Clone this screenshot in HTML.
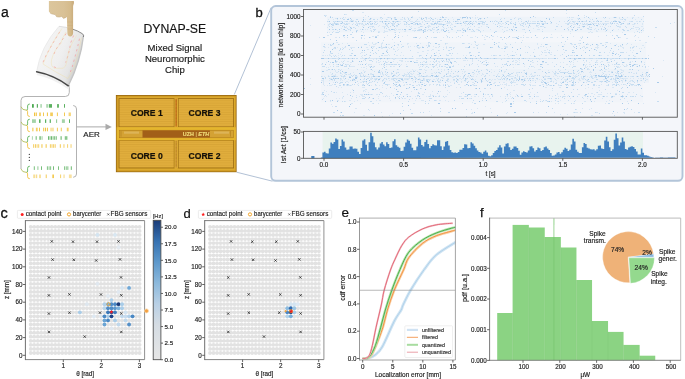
<!DOCTYPE html><html><head><meta charset="utf-8"><style>html,body{margin:0;padding:0;background:#fff;width:685px;height:379px;overflow:hidden}svg{display:block;will-change:transform}text{font-family:"Liberation Sans",sans-serif}</style></head><body><svg width="685" height="379" viewBox="0 0 685 379" font-family="Liberation Sans, sans-serif">
<defs><linearGradient id="cbar" x1="0" y1="1" x2="0" y2="0"><stop offset="0" stop-color="#e6e6e6"/><stop offset="0.25" stop-color="#d5dce3"/><stop offset="0.4" stop-color="#b9d0e5"/><stop offset="0.55" stop-color="#8cb9dc"/><stop offset="0.7" stop-color="#5d98cb"/><stop offset="0.85" stop-color="#3672b2"/><stop offset="1" stop-color="#1b3c78"/></linearGradient><linearGradient id="skin" gradientUnits="userSpaceOnUse" x1="46" y1="48" x2="80" y2="61"><stop offset="0" stop-color="#f3f3f3"/><stop offset="0.45" stop-color="#efefef"/><stop offset="0.8" stop-color="#e5e5e5"/><stop offset="1" stop-color="#cbcbcb"/></linearGradient><linearGradient id="fing" x1="0" y1="0" x2="1" y2="0"><stop offset="0" stop-color="#dcc69c"/><stop offset="0.6" stop-color="#d9c196"/><stop offset="0.85" stop-color="#d5bb8c"/><stop offset="1" stop-color="#c8aa7a"/></linearGradient><pattern id="coregrid" width="4" height="2.3" patternUnits="userSpaceOnUse"><rect width="4" height="2.3" fill="#e0ad3c"/><rect y="1.75" width="4" height="0.55" fill="#c8942a" opacity="0.45"/><rect x="3.6" width="0.4" height="2.3" fill="#d6a032" opacity="0.15"/></pattern></defs>
<rect width="685" height="379" fill="#fff"/>
<text x="0.9" y="17.1" font-size="14" fill="#111" stroke="#111" stroke-width="0.25">a</text>
<text x="255.5" y="17.1" font-size="13" fill="#111" stroke="#111" stroke-width="0.3">b</text>
<text x="0.5" y="217.6" font-size="14.5" fill="#111" stroke="#111" stroke-width="0.3">c</text>
<text x="183.5" y="217.6" font-size="13" fill="#111" stroke="#111" stroke-width="0.2">d</text>
<text x="341.4" y="217.4" font-size="13.5" fill="#111" stroke="#111" stroke-width="0.2">e</text>
<text x="480.1" y="217.4" font-size="13" fill="#111" stroke="#111" stroke-width="0.25">f</text>
<path d="M69.3 85 V92.5 Q69.3 96.5 65.3 96.5 H25 Q21 96.5 21 100.5 V169" fill="none" stroke="#aaaaaa" stroke-width="0.9"/>
<path d="M37 73.5 Q54 77 69 88" fill="none" stroke="#ececec" stroke-width="3" opacity="0.8"/>
<path d="M59 26.3 Q72 27.5 82.5 33.8 Q84 35 83.5 37 Q80.5 62 68.3 85.8 Q53.7 75.1 36.6 71.6 Q40.5 47 59 26.3 Z" fill="url(#skin)"/>
<path d="M36.6 71.6 Q40.5 47 59 26.3" fill="none" stroke="#e2e2e2" stroke-width="0.6"/>
<path d="M83.5 35.5 Q80.5 62 68.3 85.8" fill="none" stroke="#c4c4c4" stroke-width="1.4"/>
<path d="M36.6 71.8 Q53.7 75.1 68.3 85.8" fill="none" stroke="#474747" stroke-width="1.5" stroke-linecap="round"/>
<path d="M72 28.9 Q78 30.8 82.5 33.8 Q84 35 83.5 37" fill="none" stroke="#6e6e6e" stroke-width="0.8"/>
<path d="M59 26.3 Q66 26.9 72 28.9" fill="none" stroke="#c4c4c4" stroke-width="0.5"/>
<path d="M59.7 31.9 L53 43 L46.3 54.9 L42.4 63.6 M66.1 33.5 L63.3 38.3 L55.8 49.7 L53.5 55.2 M73.6 35.5 L70.8 42.6 L68.4 54.5 L65.6 62.5 M79.5 38.7 L77.5 47.4 L74.6 58.3 L72 67.8 L69.3 74.7 M53.8 66.8 L57.5 68.2" fill="none" stroke="#f3a0a0" stroke-width="0.75" stroke-dasharray="2.2 3.2"/>
<path d="M66 32 Q61.5 39 60.8 43.5 Q54 50 51.5 60 Q50.5 66.5 54.2 68.3 L63 68.3 Q66 67 66.5 63 L68.5 52 Q71 44 76.5 35.5 M62 28.5 Q50 45 43 64 Q55 72 68 78.5 L74 68 L79 50 L81.5 37.5" fill="none" stroke="#efdfa6" stroke-width="0.4"/>
<path d="M48.9 1 H73.8 L74 3 L73.1 6 L73.1 33 Q72.8 36.4 70.2 36.4 Q67.6 36.3 67.4 33 L67 20 L66.8 16.5 L65.9 17.4 L63.6 18.4 L61.7 16.5 L59.2 17.1 L56.7 16.8 L55.1 14.6 L52.2 14 L50.3 13.3 L48.9 11.4 Z" fill="url(#fing)"/>
<path d="M67.2 22 h5.6 M67.3 25.5 h5.7 M67.4 29 h5.6" stroke="#c9a673" stroke-width="0.5" opacity="0.6" fill="none"/>
<path d="M50.3 13.3 L52.2 14 L55.1 14.6 L56.7 16.8 L59.2 17.1 L61.7 16.5 L63.6 18.4 L65.9 17.4 L66.8 16.5" stroke="#b89868" stroke-width="0.6" fill="none" opacity="0.7"/>
<rect x="32" y="104.1" width="1.8" height="3.6" fill="#4aa84f" opacity="1"/>
<rect x="36.8" y="104.1" width="1.1" height="3.6" fill="#4aa84f" opacity="1"/>
<rect x="40.3" y="104.1" width="1.6" height="3.6" fill="#4aa84f" opacity="0.45"/>
<rect x="46.2" y="104.1" width="1.8" height="3.6" fill="#4aa84f" opacity="0.45"/>
<rect x="48.8" y="104.1" width="3.2" height="3.6" fill="#4aa84f" opacity="0.9"/>
<rect x="57.1" y="104.1" width="1.8" height="3.6" fill="#4aa84f" opacity="0.9"/>
<rect x="64" y="104.1" width="0.9" height="3.6" fill="#4aa84f" opacity="1"/>
<rect x="34" y="112.5" width="1.1" height="3.6" fill="#f2c440" opacity="1"/>
<rect x="35.7" y="112.5" width="1.1" height="3.6" fill="#f2c440" opacity="1"/>
<rect x="39.1" y="112.5" width="1.8" height="3.6" fill="#f2c440" opacity="0.8"/>
<rect x="43.1" y="112.5" width="0.9" height="3.6" fill="#f2c440" opacity="1"/>
<rect x="46.9" y="112.5" width="1" height="3.6" fill="#f2c440" opacity="1"/>
<rect x="50.2" y="112.5" width="2.7" height="3.6" fill="#f2c440" opacity="0.85"/>
<rect x="56.9" y="112.5" width="0.9" height="3.6" fill="#f2c440" opacity="1"/>
<rect x="64" y="112.5" width="0.9" height="3.6" fill="#f2c440" opacity="1"/>
<rect x="68.6" y="112.5" width="2.3" height="3.6" fill="#f2c440" opacity="0.7"/>
<rect x="32" y="119.3" width="3.9" height="3.6" fill="#4aa84f" opacity="0.5"/>
<rect x="39.1" y="119.3" width="1.4" height="3.6" fill="#4aa84f" opacity="1"/>
<rect x="45.1" y="119.3" width="1.1" height="3.6" fill="#4aa84f" opacity="1"/>
<rect x="49.7" y="119.3" width="1.1" height="3.6" fill="#4aa84f" opacity="1"/>
<rect x="56.2" y="119.3" width="0.9" height="3.6" fill="#4aa84f" opacity="0.7"/>
<rect x="61.9" y="119.3" width="3" height="3.6" fill="#4aa84f" opacity="0.5"/>
<rect x="69.1" y="119.3" width="0.9" height="3.6" fill="#4aa84f" opacity="1"/>
<rect x="32.2" y="127.7" width="1.3" height="3.6" fill="#f2c440" opacity="0.8"/>
<rect x="35.9" y="127.7" width="1.8" height="3.6" fill="#f2c440" opacity="0.8"/>
<rect x="39.1" y="127.7" width="0.9" height="3.6" fill="#f2c440" opacity="1"/>
<rect x="43.2" y="127.7" width="1" height="3.6" fill="#f2c440" opacity="1"/>
<rect x="45" y="127.7" width="1" height="3.6" fill="#f2c440" opacity="1"/>
<rect x="46.9" y="127.7" width="1" height="3.6" fill="#f2c440" opacity="1"/>
<rect x="50.2" y="127.7" width="3.7" height="3.6" fill="#f2c440" opacity="0.45"/>
<rect x="56.9" y="127.7" width="0.9" height="3.6" fill="#f2c440" opacity="1"/>
<rect x="60.8" y="127.7" width="0.9" height="3.6" fill="#f2c440" opacity="1"/>
<rect x="66.8" y="127.7" width="1.8" height="3.6" fill="#f2c440" opacity="0.8"/>
<rect x="31.9" y="136.2" width="0.9" height="3.6" fill="#4aa84f" opacity="0.5"/>
<rect x="35.7" y="136.2" width="0.9" height="3.6" fill="#4aa84f" opacity="0.9"/>
<rect x="39.5" y="136.2" width="1.1" height="3.6" fill="#4aa84f" opacity="1"/>
<rect x="41.6" y="136.2" width="0.9" height="3.6" fill="#4aa84f" opacity="0.6"/>
<rect x="48" y="136.2" width="1" height="3.6" fill="#4aa84f" opacity="0.8"/>
<rect x="49.5" y="136.2" width="1" height="3.6" fill="#4aa84f" opacity="0.7"/>
<rect x="51" y="136.2" width="1" height="3.6" fill="#4aa84f" opacity="0.8"/>
<rect x="52.6" y="136.2" width="1" height="3.6" fill="#4aa84f" opacity="0.7"/>
<rect x="54.2" y="136.2" width="1" height="3.6" fill="#4aa84f" opacity="0.8"/>
<rect x="55.8" y="136.2" width="1" height="3.6" fill="#4aa84f" opacity="0.7"/>
<rect x="60.6" y="136.2" width="1" height="3.6" fill="#4aa84f" opacity="0.9"/>
<rect x="64.8" y="136.2" width="1" height="3.6" fill="#4aa84f" opacity="0.8"/>
<rect x="66.3" y="136.2" width="1" height="3.6" fill="#4aa84f" opacity="0.9"/>
<rect x="33.1" y="144.2" width="1.1" height="3.6" fill="#f2c440" opacity="0.8"/>
<rect x="35" y="144.2" width="1" height="3.6" fill="#f2c440" opacity="0.8"/>
<rect x="36.6" y="144.2" width="1" height="3.6" fill="#f2c440" opacity="0.7"/>
<rect x="38.2" y="144.2" width="1" height="3.6" fill="#f2c440" opacity="0.8"/>
<rect x="41.4" y="144.2" width="1.1" height="3.6" fill="#f2c440" opacity="0.9"/>
<rect x="45.6" y="144.2" width="1.1" height="3.6" fill="#f2c440" opacity="0.9"/>
<rect x="49.9" y="144.2" width="1" height="3.6" fill="#f2c440" opacity="0.8"/>
<rect x="51.5" y="144.2" width="1" height="3.6" fill="#f2c440" opacity="0.8"/>
<rect x="53.1" y="144.2" width="1" height="3.6" fill="#f2c440" opacity="0.8"/>
<rect x="54.7" y="144.2" width="1" height="3.6" fill="#f2c440" opacity="0.8"/>
<rect x="59.8" y="144.2" width="1.1" height="3.6" fill="#f2c440" opacity="0.8"/>
<rect x="63.4" y="144.2" width="1.1" height="3.6" fill="#f2c440" opacity="0.7"/>
<rect x="67" y="144.2" width="1.1" height="3.6" fill="#f2c440" opacity="0.7"/>
<rect x="70.5" y="144.2" width="1.1" height="3.6" fill="#f2c440" opacity="0.7"/>
<rect x="33.8" y="166.3" width="1" height="3.6" fill="#4aa84f" opacity="0.75"/>
<rect x="37.4" y="166.3" width="1" height="3.6" fill="#4aa84f" opacity="0.6"/>
<rect x="41" y="166.3" width="1" height="3.6" fill="#4aa84f" opacity="0.75"/>
<rect x="46.9" y="166.3" width="1" height="3.6" fill="#4aa84f" opacity="0.7"/>
<rect x="48.6" y="166.3" width="1" height="3.6" fill="#4aa84f" opacity="0.6"/>
<rect x="50.2" y="166.3" width="0.9" height="3.6" fill="#4aa84f" opacity="0.75"/>
<rect x="53" y="166.3" width="1" height="3.6" fill="#4aa84f" opacity="0.75"/>
<rect x="58.1" y="166.3" width="0.9" height="3.6" fill="#4aa84f" opacity="0.8"/>
<rect x="64.1" y="166.3" width="1" height="3.6" fill="#4aa84f" opacity="0.7"/>
<rect x="65.8" y="166.3" width="1" height="3.6" fill="#4aa84f" opacity="0.6"/>
<rect x="67.4" y="166.3" width="0.9" height="3.6" fill="#4aa84f" opacity="0.75"/>
<rect x="70.8" y="166.3" width="1" height="3.6" fill="#4aa84f" opacity="0.8"/>
<rect x="33.3" y="174.5" width="1.6" height="3.6" fill="#f2c440" opacity="0.6"/>
<rect x="35.7" y="174.5" width="1.5" height="3.6" fill="#f2c440" opacity="0.6"/>
<rect x="39.2" y="174.5" width="1.6" height="3.6" fill="#f2c440" opacity="0.6"/>
<rect x="45.7" y="174.5" width="1.1" height="3.6" fill="#f2c440" opacity="0.8"/>
<rect x="52.3" y="174.5" width="1.7" height="3.6" fill="#f2c440" opacity="0.9"/>
<rect x="60" y="174.5" width="1.1" height="3.6" fill="#f2c440" opacity="0.7"/>
<rect x="63.5" y="174.5" width="1.1" height="3.6" fill="#f2c440" opacity="0.6"/>
<rect x="68.9" y="174.5" width="2.8" height="3.6" fill="#f2c440" opacity="0.5"/>
<path d="M29.8 104 Q27.6 104 27.6 106 V108.7 Q27.6 110.2 26.4 110.2" fill="none" stroke="#5cb25c" stroke-width="0.9"/>
<path d="M26.4 110.2 Q27.6 110.2 27.6 111.7 V114.5 Q27.6 116.5 29.8 116.5" fill="none" stroke="#f0c040" stroke-width="0.9"/>
<path d="M21 106.7 Q22 110.2 26.4 110.2" fill="none" stroke="#a9b84a" stroke-width="0.8"/>
<path d="M29.8 119.2 Q27.6 119.2 27.6 121.2 V123.9 Q27.6 125.4 26.4 125.4" fill="none" stroke="#5cb25c" stroke-width="0.9"/>
<path d="M26.4 125.4 Q27.6 125.4 27.6 126.9 V129.7 Q27.6 131.7 29.8 131.7" fill="none" stroke="#f0c040" stroke-width="0.9"/>
<path d="M21 121.9 Q22 125.4 26.4 125.4" fill="none" stroke="#a9b84a" stroke-width="0.8"/>
<path d="M29.8 136.1 Q27.6 136.1 27.6 138.1 V140.8 Q27.6 142.3 26.4 142.3" fill="none" stroke="#5cb25c" stroke-width="0.9"/>
<path d="M26.4 142.3 Q27.6 142.3 27.6 143.8 V146.6 Q27.6 148.6 29.8 148.6" fill="none" stroke="#f0c040" stroke-width="0.9"/>
<path d="M21 138.8 Q22 142.3 26.4 142.3" fill="none" stroke="#a9b84a" stroke-width="0.8"/>
<path d="M29.8 166.2 Q27.6 166.2 27.6 168.2 V170.9 Q27.6 172.4 26.4 172.4" fill="none" stroke="#5cb25c" stroke-width="0.9"/>
<path d="M26.4 172.4 Q27.6 172.4 27.6 173.9 V176.7 Q27.6 178.7 29.8 178.7" fill="none" stroke="#f0c040" stroke-width="0.9"/>
<path d="M21 168.9 Q22 172.4 26.4 172.4" fill="none" stroke="#a9b84a" stroke-width="0.8"/>
<circle cx="29.3" cy="154.4" r="0.55" fill="#222"/>
<circle cx="29.3" cy="157.4" r="0.55" fill="#222"/>
<circle cx="29.3" cy="160.4" r="0.55" fill="#222"/>
<path d="M73.2 105.5 Q76.5 105.7 76.5 109 V174 Q76.5 177 73.2 177.3" fill="none" stroke="#a9a9a9" stroke-width="0.9"/>
<path d="M76.5 126.9 H106.5" stroke="#aaaaaa" stroke-width="1"/>
<path d="M105.5 123.8 L111.8 126.9 L105.5 130 Z" fill="#aaaaaa"/>
<text x="83.3" y="136.8" font-size="8" fill="#222" stroke="#222" stroke-width="0.16">AER</text>
<text x="174.8" y="33.1" font-size="12.25" text-anchor="middle" fill="#141414" stroke="#141414" stroke-width="0.16">DYNAP-SE</text>
<text x="174.9" y="50.6" font-size="9.55" text-anchor="middle" fill="#1a1a1a" stroke="#1a1a1a" stroke-width="0.16">Mixed Signal</text>
<text x="174.9" y="61.7" font-size="9.55" text-anchor="middle" fill="#1a1a1a" stroke="#1a1a1a" stroke-width="0.16">Neuromorphic</text>
<text x="174.9" y="72.7" font-size="9.55" text-anchor="middle" fill="#1a1a1a" stroke="#1a1a1a" stroke-width="0.16">Chip</text>
<path d="M234.3 94.5 L271.2 7.5 M236.6 172.2 L272.5 181.2" stroke="#a9bad0" stroke-width="0.9" fill="none"/>
<rect x="115.9" y="95" width="120.7" height="77.2" fill="#96660f"/>
<rect x="116.7" y="95.8" width="119.1" height="75.6" fill="#dcaa2e"/>
<rect x="117.3" y="96.4" width="117.9" height="74.4" fill="none" stroke="#c89020" stroke-width="0.5"/>
<rect x="119" y="98.6" width="55.2" height="28.3" fill="url(#coregrid)" stroke="#9c6c12" stroke-width="0.8"/>
<text x="146.7" y="116.05" font-size="8.6" font-weight="bold" text-anchor="middle" fill="#141008" stroke="#141008" stroke-width="0.2">CORE 1</text>
<rect x="178.2" y="98.6" width="55.4" height="28.3" fill="url(#coregrid)" stroke="#9c6c12" stroke-width="0.8"/>
<text x="204.5" y="116.05" font-size="8.6" font-weight="bold" text-anchor="middle" fill="#141008" stroke="#141008" stroke-width="0.2">CORE 3</text>
<rect x="119" y="140.2" width="55.2" height="27.8" fill="url(#coregrid)" stroke="#9c6c12" stroke-width="0.8"/>
<text x="146.7" y="158.6" font-size="8.6" font-weight="bold" text-anchor="middle" fill="#141008" stroke="#141008" stroke-width="0.2">CORE 0</text>
<rect x="178.2" y="140.2" width="55.4" height="27.8" fill="url(#coregrid)" stroke="#9c6c12" stroke-width="0.8"/>
<text x="204.5" y="158.6" font-size="8.6" font-weight="bold" text-anchor="middle" fill="#141008" stroke="#141008" stroke-width="0.2">CORE 2</text>
<rect x="174.6" y="98.6" width="3.2" height="28.3" fill="#deac38"/>
<rect x="175.4" y="98.8" width="1.6" height="27.9" fill="#cc7e22"/>
<path d="M176.2 100 V125.5" stroke="#a05e14" stroke-width="0.7" stroke-dasharray="0.7 0.7"/>
<rect x="174.6" y="140.2" width="3.2" height="27.8" fill="#deac38"/>
<rect x="175.5" y="140.4" width="1.4" height="27.4" fill="#cf9a34"/>
<path d="M176.2 141.5 V167" stroke="#a06418" stroke-width="0.6" stroke-dasharray="0.7 0.7"/>
<rect x="116.7" y="127.2" width="119.1" height="13" fill="#e4b52e"/>
<rect x="119.5" y="130.2" width="114" height="7.6" fill="#d4a234" stroke="#a87414" stroke-width="0.5"/>
<rect x="142.5" y="130.4" width="67.4" height="7.2" fill="#a25f18"/>
<text x="196" y="135.9" font-size="5.4" font-weight="bold" text-anchor="middle" fill="#f0dc78" stroke="#f0dc78" stroke-width="0.16">UZH <tspan font-weight="normal" fill="#d8b060">|</tspan> <tspan font-style="italic">ETH</tspan></text>
<rect x="124" y="131.5" width="15" height="2.2" fill="#e2c070" opacity="0.6"/><rect x="214" y="131.5" width="15" height="2.2" fill="#e2c070" opacity="0.6"/>
<path d="M121 131 v5.6 M230.5 131 v5.6" stroke="#a87414" stroke-width="0.5"/>
<rect x="271.2" y="6" width="411.3" height="174.8" rx="4.5" fill="#f4f6fa" stroke="#b3c5d9" stroke-width="1.9"/>
<rect x="303.5" y="9.5" width="373.8" height="107.7" fill="#f4f6fa"/>
<rect x="327" y="16.8" width="317" height="15.8" fill="#eef3f9"/>
<rect x="321" y="42.2" width="325" height="26.6" fill="#f0f4f9"/>
<rect x="321" y="68.8" width="328" height="13.9" fill="#edf2f8"/>
<rect x="321" y="82.7" width="322" height="19.6" fill="#f1f4f9"/>
<path d="M578 15h1v1h-1zM533 16h1v1h-1zM330 17h1v1h-1zM411 17h1v1h-1zM442 17h2v1h-2zM462 17h2v1h-2zM464 17h2v1h-2zM467 17h1v1h-1zM530 17h1v1h-1zM588 17h1v1h-1zM605 17h1v1h-1zM614 17h2v1h-2zM622 17h1v1h-1zM337 18h1v1h-1zM350 18h1v1h-1zM370 18h1v1h-1zM391 18h1v1h-1zM421 18h1v1h-1zM423 18h1v1h-1zM431 18h1v1h-1zM470 18h1v1h-1zM480 18h1v1h-1zM484 18h1v1h-1zM546 18h1v1h-1zM579 18h1v1h-1zM596 18h1v1h-1zM347 19h2v1h-2zM363 19h1v1h-1zM395 19h2v1h-2zM401 19h1v1h-1zM440 19h1v1h-1zM457 19h2v1h-2zM459 19h1v1h-1zM478 19h1v1h-1zM549 19h1v1h-1zM568 20h1v1h-1zM329 21h1v1h-1zM337 21h1v1h-1zM351 21h2v1h-2zM352 21h2v1h-2zM358 21h1v1h-1zM362 21h1v1h-1zM370 21h1v1h-1zM382 21h1v1h-1zM385 21h1v1h-1zM393 21h1v1h-1zM397 21h1v1h-1zM439 21h1v1h-1zM447 21h1v1h-1zM455 21h1v1h-1zM466 21h2v1h-2zM470 21h1v1h-1zM490 21h1v1h-1zM501 21h1v1h-1zM526 21h1v1h-1zM541 21h2v1h-2zM579 21h1v1h-1zM582 21h1v1h-1zM589 21h1v1h-1zM598 21h1v1h-1zM613 21h1v1h-1zM615 21h2v1h-2zM619 21h1v1h-1zM342 22h1v1h-1zM406 22h1v1h-1zM463 22h1v1h-1zM551 22h1v1h-1zM574 22h1v1h-1zM619 22h2v1h-2zM341 23h1v1h-1zM367 23h2v1h-2zM372 23h1v1h-1zM385 23h1v1h-1zM388 23h1v1h-1zM411 23h2v1h-2zM417 23h1v1h-1zM427 23h1v1h-1zM434 23h1v1h-1zM435 23h1v1h-1zM457 23h1v1h-1zM460 23h1v1h-1zM468 23h1v1h-1zM470 23h1v1h-1zM478 23h2v1h-2zM506 23h1v1h-1zM537 23h1v1h-1zM547 23h1v1h-1zM576 23h2v1h-2zM603 23h1v1h-1zM605 23h1v1h-1zM612 23h1v1h-1zM623 23h1v1h-1zM629 23h1v1h-1zM331 24h1v1h-1zM336 24h1v1h-1zM366 24h1v1h-1zM398 24h1v1h-1zM417 24h2v1h-2zM443 24h1v1h-1zM472 24h1v1h-1zM508 24h1v1h-1zM515 24h1v1h-1zM542 24h2v1h-2zM577 24h1v1h-1zM588 24h1v1h-1zM589 24h1v1h-1zM590 24h2v1h-2zM593 24h1v1h-1zM603 24h1v1h-1zM447 25h1v1h-1zM529 25h1v1h-1zM596 25h2v1h-2zM394 26h1v1h-1zM428 26h1v1h-1zM430 26h1v1h-1zM497 26h1v1h-1zM570 26h1v1h-1zM583 26h2v1h-2zM350 27h1v1h-1zM363 27h1v1h-1zM368 27h1v1h-1zM425 27h1v1h-1zM436 27h2v1h-2zM488 27h1v1h-1zM515 27h2v1h-2zM573 27h1v1h-1zM351 28h1v1h-1zM605 28h1v1h-1zM329 29h1v1h-1zM335 29h1v1h-1zM339 29h1v1h-1zM344 29h1v1h-1zM362 29h1v1h-1zM391 29h2v1h-2zM404 29h1v1h-1zM405 29h1v1h-1zM409 29h2v1h-2zM420 29h2v1h-2zM429 29h1v1h-1zM438 29h1v1h-1zM469 29h2v1h-2zM511 29h1v1h-1zM564 29h1v1h-1zM572 29h1v1h-1zM577 29h1v1h-1zM423 30h1v1h-1zM443 30h1v1h-1zM446 30h1v1h-1zM463 30h1v1h-1zM465 30h1v1h-1zM512 30h1v1h-1zM516 30h1v1h-1zM529 30h1v1h-1zM575 30h1v1h-1zM606 30h1v1h-1zM612 30h1v1h-1zM641 30h1v1h-1zM356 31h1v1h-1zM444 31h2v1h-2zM465 31h1v1h-1zM423 32h1v1h-1zM494 32h1v1h-1zM624 34h2v1h-2zM343 35h2v1h-2zM347 35h1v1h-1zM361 35h2v1h-2zM491 35h1v1h-1zM535 35h1v1h-1zM395 36h1v1h-1zM427 36h1v1h-1zM509 36h1v1h-1zM323 37h2v1h-2zM336 37h1v1h-1zM369 37h1v1h-1zM375 37h2v1h-2zM394 37h1v1h-1zM398 37h1v1h-1zM415 37h2v1h-2zM504 37h1v1h-1zM516 37h2v1h-2zM567 37h1v1h-1zM587 37h1v1h-1zM618 37h2v1h-2zM517 38h2v1h-2zM614 38h1v1h-1zM336 40h1v1h-1zM400 41h1v1h-1zM378 42h1v1h-1zM494 42h1v1h-1zM583 42h1v1h-1zM333 43h1v1h-1zM435 43h2v1h-2zM386 44h1v1h-1zM494 44h1v1h-1zM545 44h2v1h-2zM586 44h1v1h-1zM592 44h1v1h-1zM596 44h1v1h-1zM622 44h1v1h-1zM348 45h2v1h-2zM394 45h1v1h-1zM417 45h2v1h-2zM615 45h1v1h-1zM469 46h1v1h-1zM498 46h1v1h-1zM562 46h1v1h-1zM576 46h1v1h-1zM606 46h1v1h-1zM358 47h1v1h-1zM361 47h1v1h-1zM371 47h1v1h-1zM379 47h1v1h-1zM386 47h1v1h-1zM391 47h1v1h-1zM422 47h2v1h-2zM468 47h2v1h-2zM490 47h2v1h-2zM512 47h1v1h-1zM504 48h1v1h-1zM505 48h1v1h-1zM520 48h1v1h-1zM576 48h1v1h-1zM580 48h1v1h-1zM611 48h1v1h-1zM332 49h1v1h-1zM517 49h1v1h-1zM594 49h1v1h-1zM362 50h1v1h-1zM364 50h1v1h-1zM372 50h1v1h-1zM589 50h1v1h-1zM330 51h1v1h-1zM386 51h1v1h-1zM640 51h1v1h-1zM387 52h1v1h-1zM572 52h1v1h-1zM585 52h1v1h-1zM383 53h1v1h-1zM434 53h1v1h-1zM612 53h1v1h-1zM613 53h1v1h-1zM636 53h2v1h-2zM615 54h1v1h-1zM354 55h2v1h-2zM370 55h1v1h-1zM426 55h1v1h-1zM434 55h2v1h-2zM440 55h1v1h-1zM470 55h2v1h-2zM478 55h1v1h-1zM512 55h2v1h-2zM520 55h1v1h-1zM568 55h1v1h-1zM576 55h2v1h-2zM581 55h1v1h-1zM599 55h1v1h-1zM620 55h1v1h-1zM534 56h1v1h-1zM566 56h1v1h-1zM430 57h1v1h-1zM465 57h1v1h-1zM480 57h1v1h-1zM321 58h1v1h-1zM322 58h1v1h-1zM323 58h1v1h-1zM328 58h2v1h-2zM333 58h2v1h-2zM338 58h1v1h-1zM339 58h1v1h-1zM348 58h2v1h-2zM351 58h1v1h-1zM352 58h1v1h-1zM365 58h1v1h-1zM366 58h1v1h-1zM370 58h1v1h-1zM380 58h1v1h-1zM381 58h1v1h-1zM384 58h1v1h-1zM387 58h1v1h-1zM402 58h1v1h-1zM405 58h1v1h-1zM425 58h2v1h-2zM437 58h2v1h-2zM442 58h1v1h-1zM466 58h1v1h-1zM468 58h1v1h-1zM470 58h1v1h-1zM472 58h1v1h-1zM476 58h1v1h-1zM481 58h1v1h-1zM486 58h1v1h-1zM487 58h1v1h-1zM494 58h1v1h-1zM496 58h1v1h-1zM512 58h1v1h-1zM519 58h1v1h-1zM523 58h1v1h-1zM554 58h2v1h-2zM555 58h1v1h-1zM564 58h1v1h-1zM570 58h2v1h-2zM574 58h1v1h-1zM578 58h1v1h-1zM579 58h1v1h-1zM580 58h1v1h-1zM584 58h1v1h-1zM601 58h1v1h-1zM604 58h1v1h-1zM607 58h2v1h-2zM617 58h2v1h-2zM619 58h1v1h-1zM628 58h1v1h-1zM631 58h1v1h-1zM633 58h1v1h-1zM634 58h1v1h-1zM642 58h2v1h-2zM645 58h2v1h-2zM648 58h1v1h-1zM434 59h1v1h-1zM446 59h1v1h-1zM335 60h1v1h-1zM528 60h1v1h-1zM607 60h1v1h-1zM328 61h1v1h-1zM335 61h1v1h-1zM352 61h1v1h-1zM359 61h1v1h-1zM361 61h1v1h-1zM410 61h2v1h-2zM442 61h1v1h-1zM542 61h2v1h-2zM569 61h1v1h-1zM611 61h1v1h-1zM635 61h1v1h-1zM641 61h1v1h-1zM332 62h2v1h-2zM390 62h2v1h-2zM414 62h1v1h-1zM450 62h2v1h-2zM482 62h1v1h-1zM486 62h1v1h-1zM622 62h2v1h-2zM384 63h1v1h-1zM451 63h1v1h-1zM523 63h1v1h-1zM616 63h1v1h-1zM325 64h1v1h-1zM338 64h1v1h-1zM348 64h1v1h-1zM362 64h1v1h-1zM365 64h1v1h-1zM422 64h1v1h-1zM432 64h1v1h-1zM445 64h1v1h-1zM447 64h1v1h-1zM486 64h2v1h-2zM510 64h1v1h-1zM540 64h2v1h-2zM583 64h1v1h-1zM595 64h1v1h-1zM601 64h1v1h-1zM603 64h1v1h-1zM629 64h2v1h-2zM634 64h2v1h-2zM341 65h2v1h-2zM486 65h1v1h-1zM507 65h1v1h-1zM632 65h2v1h-2zM639 65h1v1h-1zM371 66h1v1h-1zM399 66h1v1h-1zM591 66h1v1h-1zM606 66h1v1h-1zM630 66h1v1h-1zM637 66h1v1h-1zM370 67h1v1h-1zM384 67h1v1h-1zM449 67h2v1h-2zM542 67h1v1h-1zM563 67h1v1h-1zM595 67h1v1h-1zM580 68h1v1h-1zM584 68h1v1h-1zM604 68h1v1h-1zM615 68h1v1h-1zM653 68h1v1h-1zM332 69h1v1h-1zM371 69h1v1h-1zM448 69h1v1h-1zM593 69h1v1h-1zM601 69h1v1h-1zM632 69h1v1h-1zM379 70h1v1h-1zM501 70h1v1h-1zM573 70h1v1h-1zM593 70h1v1h-1zM322 71h1v1h-1zM323 71h1v1h-1zM342 71h1v1h-1zM393 71h1v1h-1zM458 71h1v1h-1zM479 71h1v1h-1zM489 71h1v1h-1zM581 71h2v1h-2zM618 71h1v1h-1zM345 72h1v1h-1zM346 72h1v1h-1zM378 72h2v1h-2zM387 72h1v1h-1zM545 72h1v1h-1zM612 72h1v1h-1zM646 72h2v1h-2zM359 73h2v1h-2zM419 73h1v1h-1zM420 73h1v1h-1zM468 73h2v1h-2zM508 73h1v1h-1zM525 73h2v1h-2zM564 73h1v1h-1zM368 74h1v1h-1zM446 74h1v1h-1zM526 74h1v1h-1zM642 74h1v1h-1zM649 74h1v1h-1zM393 75h2v1h-2zM431 75h2v1h-2zM436 75h1v1h-1zM464 75h1v1h-1zM470 75h1v1h-1zM503 75h1v1h-1zM595 75h1v1h-1zM596 75h1v1h-1zM598 75h1v1h-1zM615 75h2v1h-2zM621 75h1v1h-1zM332 76h1v1h-1zM334 76h1v1h-1zM364 76h1v1h-1zM373 76h1v1h-1zM374 76h1v1h-1zM378 76h2v1h-2zM381 76h1v1h-1zM392 76h1v1h-1zM423 76h1v1h-1zM426 76h1v1h-1zM435 76h2v1h-2zM437 76h1v1h-1zM496 76h1v1h-1zM569 76h2v1h-2zM583 76h2v1h-2zM599 76h2v1h-2zM600 76h1v1h-1zM601 76h2v1h-2zM603 76h2v1h-2zM604 76h2v1h-2zM608 76h2v1h-2zM619 76h1v1h-1zM620 76h1v1h-1zM621 76h1v1h-1zM625 76h2v1h-2zM637 76h1v1h-1zM649 76h1v1h-1zM349 77h2v1h-2zM355 77h2v1h-2zM543 77h1v1h-1zM605 77h1v1h-1zM322 78h2v1h-2zM333 78h1v1h-1zM335 78h1v1h-1zM337 78h2v1h-2zM345 78h1v1h-1zM355 78h2v1h-2zM411 78h2v1h-2zM465 78h1v1h-1zM482 78h1v1h-1zM485 78h1v1h-1zM507 78h1v1h-1zM519 78h1v1h-1zM533 78h1v1h-1zM550 78h1v1h-1zM583 78h1v1h-1zM605 78h1v1h-1zM606 78h1v1h-1zM617 78h2v1h-2zM643 78h1v1h-1zM331 79h1v1h-1zM354 79h1v1h-1zM360 79h1v1h-1zM366 79h1v1h-1zM378 79h2v1h-2zM401 79h2v1h-2zM418 79h1v1h-1zM457 79h2v1h-2zM471 79h1v1h-1zM509 79h2v1h-2zM519 79h1v1h-1zM521 79h2v1h-2zM567 79h1v1h-1zM588 79h1v1h-1zM352 80h1v1h-1zM369 80h1v1h-1zM398 80h2v1h-2zM422 80h1v1h-1zM442 80h1v1h-1zM481 80h1v1h-1zM518 80h1v1h-1zM524 80h1v1h-1zM530 80h1v1h-1zM607 80h1v1h-1zM625 80h1v1h-1zM637 80h1v1h-1zM366 81h1v1h-1zM415 81h1v1h-1zM427 81h1v1h-1zM432 81h2v1h-2zM448 81h1v1h-1zM456 81h1v1h-1zM475 81h1v1h-1zM481 81h1v1h-1zM605 81h1v1h-1zM619 81h1v1h-1zM321 82h1v1h-1zM335 82h1v1h-1zM355 82h1v1h-1zM384 82h1v1h-1zM406 82h1v1h-1zM420 82h1v1h-1zM445 82h1v1h-1zM467 82h1v1h-1zM477 82h1v1h-1zM489 82h2v1h-2zM544 82h2v1h-2zM562 82h2v1h-2zM572 82h2v1h-2zM575 82h1v1h-1zM583 82h1v1h-1zM617 82h1v1h-1zM657 82h2v1h-2zM329 83h1v1h-1zM393 83h1v1h-1zM545 83h2v1h-2zM627 83h1v1h-1zM343 84h2v1h-2zM347 84h1v1h-1zM396 84h1v1h-1zM399 84h1v1h-1zM422 84h1v1h-1zM466 84h1v1h-1zM490 84h2v1h-2zM548 84h1v1h-1zM566 84h2v1h-2zM588 84h1v1h-1zM638 84h2v1h-2zM364 85h1v1h-1zM369 85h1v1h-1zM399 85h1v1h-1zM404 85h1v1h-1zM424 85h2v1h-2zM445 85h1v1h-1zM468 85h1v1h-1zM470 85h1v1h-1zM487 85h1v1h-1zM495 85h1v1h-1zM540 85h1v1h-1zM553 85h1v1h-1zM572 85h1v1h-1zM581 85h1v1h-1zM616 85h1v1h-1zM629 85h1v1h-1zM400 86h1v1h-1zM543 86h1v1h-1zM390 87h1v1h-1zM409 87h1v1h-1zM413 87h2v1h-2zM566 87h2v1h-2zM627 87h1v1h-1zM304 88h1v1h-1zM406 88h1v1h-1zM476 88h1v1h-1zM479 88h1v1h-1zM501 88h1v1h-1zM641 88h1v1h-1zM372 89h2v1h-2zM396 89h1v1h-1zM416 89h1v1h-1zM425 89h1v1h-1zM353 90h1v1h-1zM438 91h1v1h-1zM619 91h1v1h-1zM401 92h1v1h-1zM616 93h1v1h-1zM323 94h1v1h-1zM362 94h1v1h-1zM364 94h1v1h-1zM366 94h1v1h-1zM368 94h2v1h-2zM396 94h2v1h-2zM468 94h2v1h-2zM476 94h1v1h-1zM483 94h1v1h-1zM491 94h1v1h-1zM507 94h1v1h-1zM585 94h2v1h-2zM350 95h1v1h-1zM467 95h1v1h-1zM517 95h1v1h-1zM403 96h1v1h-1zM407 96h1v1h-1zM419 96h1v1h-1zM433 96h1v1h-1zM521 96h2v1h-2zM534 96h1v1h-1zM569 96h1v1h-1zM573 96h1v1h-1zM587 96h2v1h-2zM603 96h2v1h-2zM612 96h2v1h-2zM621 96h1v1h-1zM622 96h1v1h-1zM626 96h1v1h-1zM369 97h1v1h-1zM395 97h1v1h-1zM373 98h1v1h-1zM399 98h1v1h-1zM467 98h1v1h-1zM513 98h1v1h-1zM595 98h1v1h-1zM590 99h1v1h-1zM332 100h1v1h-1zM486 100h1v1h-1zM631 100h1v1h-1zM325 101h1v1h-1zM337 101h1v1h-1zM479 101h1v1h-1zM548 101h1v1h-1zM549 101h1v1h-1zM591 101h1v1h-1zM438 103h2v1h-2zM510 103h2v1h-2zM536 103h1v1h-1zM622 103h1v1h-1zM638 103h1v1h-1zM350 104h1v1h-1zM510 104h2v1h-2zM408 105h1v1h-1zM349 106h1v1h-1zM510 106h2v1h-2zM548 106h1v1h-1zM452 108h1v1h-1zM455 108h1v1h-1zM624 109h1v1h-1zM337 110h1v1h-1zM613 111h1v1h-1zM341 112h1v1h-1zM474 112h1v1h-1zM514 112h2v1h-2zM400 113h1v1h-1zM374 115h1v1h-1zM497 115h1v1h-1z" fill="#a9cbea"/>
<path d="M352 10h2v1h-2zM505 10h1v1h-1zM566 10h1v1h-1zM418 11h1v1h-1zM595 12h1v1h-1zM344 14h2v1h-2zM499 14h1v1h-1zM324 15h2v1h-2zM634 15h1v1h-1zM325 16h1v1h-1zM330 16h1v1h-1zM368 16h1v1h-1zM442 16h1v1h-1zM586 16h1v1h-1zM643 16h1v1h-1zM332 17h1v1h-1zM343 17h1v1h-1zM363 17h1v1h-1zM380 17h2v1h-2zM388 17h1v1h-1zM394 17h2v1h-2zM402 17h1v1h-1zM412 17h1v1h-1zM425 17h2v1h-2zM430 17h1v1h-1zM440 17h1v1h-1zM469 17h1v1h-1zM470 17h1v1h-1zM487 17h1v1h-1zM553 17h1v1h-1zM569 17h1v1h-1zM584 17h1v1h-1zM603 17h1v1h-1zM340 18h1v1h-1zM342 18h1v1h-1zM382 18h1v1h-1zM404 18h1v1h-1zM408 18h1v1h-1zM426 18h1v1h-1zM435 18h1v1h-1zM462 18h1v1h-1zM467 18h1v1h-1zM479 18h1v1h-1zM504 18h1v1h-1zM514 18h1v1h-1zM520 18h1v1h-1zM549 18h1v1h-1zM632 18h1v1h-1zM343 19h2v1h-2zM351 19h1v1h-1zM356 19h1v1h-1zM357 19h1v1h-1zM369 19h2v1h-2zM373 19h2v1h-2zM374 19h1v1h-1zM377 19h1v1h-1zM386 19h1v1h-1zM391 19h1v1h-1zM408 19h1v1h-1zM417 19h1v1h-1zM421 19h2v1h-2zM432 19h2v1h-2zM439 19h1v1h-1zM444 19h2v1h-2zM448 19h1v1h-1zM500 19h1v1h-1zM510 19h2v1h-2zM518 19h1v1h-1zM578 19h1v1h-1zM592 19h1v1h-1zM622 19h1v1h-1zM624 19h1v1h-1zM625 19h1v1h-1zM641 19h1v1h-1zM363 20h1v1h-1zM409 20h1v1h-1zM424 20h1v1h-1zM586 20h1v1h-1zM597 20h1v1h-1zM327 21h1v1h-1zM333 21h1v1h-1zM335 21h1v1h-1zM338 21h1v1h-1zM339 21h1v1h-1zM341 21h1v1h-1zM346 21h1v1h-1zM347 21h1v1h-1zM350 21h1v1h-1zM355 21h1v1h-1zM364 21h1v1h-1zM365 21h1v1h-1zM372 21h1v1h-1zM374 21h1v1h-1zM380 21h1v1h-1zM384 21h1v1h-1zM386 21h1v1h-1zM389 21h1v1h-1zM392 21h1v1h-1zM396 21h1v1h-1zM398 21h1v1h-1zM404 21h1v1h-1zM405 21h1v1h-1zM415 21h1v1h-1zM425 21h1v1h-1zM432 21h2v1h-2zM437 21h1v1h-1zM438 21h1v1h-1zM445 21h1v1h-1zM449 21h1v1h-1zM453 21h1v1h-1zM456 21h1v1h-1zM464 21h1v1h-1zM465 21h1v1h-1zM467 21h1v1h-1zM473 21h1v1h-1zM475 21h1v1h-1zM480 21h1v1h-1zM481 21h1v1h-1zM482 21h1v1h-1zM485 21h1v1h-1zM492 21h1v1h-1zM494 21h1v1h-1zM496 21h1v1h-1zM507 21h2v1h-2zM521 21h1v1h-1zM525 21h1v1h-1zM528 21h1v1h-1zM537 21h2v1h-2zM544 21h2v1h-2zM550 21h1v1h-1zM559 21h1v1h-1zM567 21h1v1h-1zM572 21h1v1h-1zM573 21h1v1h-1zM581 21h1v1h-1zM585 21h2v1h-2zM593 21h1v1h-1zM596 21h1v1h-1zM600 21h2v1h-2zM605 21h1v1h-1zM614 21h1v1h-1zM618 21h2v1h-2zM631 21h2v1h-2zM639 21h1v1h-1zM643 21h1v1h-1zM334 22h1v1h-1zM369 22h1v1h-1zM375 22h1v1h-1zM382 22h1v1h-1zM395 22h1v1h-1zM413 22h2v1h-2zM437 22h1v1h-1zM469 22h1v1h-1zM482 22h2v1h-2zM484 22h1v1h-1zM498 22h1v1h-1zM505 22h1v1h-1zM510 22h1v1h-1zM515 22h1v1h-1zM527 22h1v1h-1zM569 22h1v1h-1zM610 22h1v1h-1zM330 23h1v1h-1zM334 23h1v1h-1zM335 23h1v1h-1zM336 23h1v1h-1zM337 23h2v1h-2zM340 23h1v1h-1zM344 23h1v1h-1zM346 23h2v1h-2zM359 23h2v1h-2zM362 23h1v1h-1zM370 23h1v1h-1zM374 23h1v1h-1zM377 23h1v1h-1zM391 23h1v1h-1zM392 23h1v1h-1zM394 23h1v1h-1zM415 23h1v1h-1zM416 23h1v1h-1zM419 23h1v1h-1zM420 23h1v1h-1zM431 23h1v1h-1zM436 23h2v1h-2zM437 23h1v1h-1zM458 23h2v1h-2zM461 23h1v1h-1zM464 23h1v1h-1zM471 23h2v1h-2zM482 23h1v1h-1zM498 23h1v1h-1zM510 23h1v1h-1zM511 23h1v1h-1zM513 23h1v1h-1zM522 23h2v1h-2zM527 23h1v1h-1zM529 23h2v1h-2zM530 23h1v1h-1zM532 23h2v1h-2zM534 23h1v1h-1zM535 23h1v1h-1zM538 23h2v1h-2zM542 23h2v1h-2zM567 23h1v1h-1zM568 23h1v1h-1zM580 23h1v1h-1zM584 23h1v1h-1zM592 23h2v1h-2zM598 23h1v1h-1zM610 23h1v1h-1zM614 23h1v1h-1zM617 23h1v1h-1zM621 23h1v1h-1zM622 23h1v1h-1zM634 23h1v1h-1zM637 23h1v1h-1zM670 23h1v1h-1zM332 24h2v1h-2zM333 24h1v1h-1zM335 24h1v1h-1zM337 24h2v1h-2zM345 24h1v1h-1zM346 24h2v1h-2zM352 24h1v1h-1zM355 24h1v1h-1zM357 24h1v1h-1zM365 24h2v1h-2zM368 24h1v1h-1zM370 24h1v1h-1zM371 24h2v1h-2zM376 24h1v1h-1zM385 24h1v1h-1zM392 24h1v1h-1zM404 24h1v1h-1zM406 24h1v1h-1zM408 24h2v1h-2zM415 24h1v1h-1zM418 24h1v1h-1zM424 24h1v1h-1zM431 24h2v1h-2zM432 24h2v1h-2zM433 24h1v1h-1zM434 24h1v1h-1zM436 24h1v1h-1zM439 24h2v1h-2zM440 24h2v1h-2zM441 24h1v1h-1zM442 24h1v1h-1zM444 24h1v1h-1zM467 24h1v1h-1zM469 24h1v1h-1zM478 24h2v1h-2zM486 24h2v1h-2zM487 24h1v1h-1zM495 24h1v1h-1zM514 24h1v1h-1zM520 24h1v1h-1zM525 24h1v1h-1zM567 24h2v1h-2zM583 24h1v1h-1zM591 24h1v1h-1zM606 24h1v1h-1zM620 24h2v1h-2zM621 24h1v1h-1zM332 25h2v1h-2zM356 25h2v1h-2zM386 25h1v1h-1zM392 25h2v1h-2zM396 25h2v1h-2zM443 25h1v1h-1zM521 25h2v1h-2zM536 25h1v1h-1zM571 25h1v1h-1zM579 25h1v1h-1zM594 25h1v1h-1zM616 25h1v1h-1zM329 26h1v1h-1zM342 26h1v1h-1zM344 26h1v1h-1zM372 26h2v1h-2zM387 26h1v1h-1zM390 26h1v1h-1zM420 26h1v1h-1zM421 26h1v1h-1zM438 26h1v1h-1zM442 26h1v1h-1zM454 26h2v1h-2zM474 26h1v1h-1zM500 26h2v1h-2zM513 26h1v1h-1zM523 26h1v1h-1zM540 26h2v1h-2zM556 26h2v1h-2zM561 26h1v1h-1zM582 26h1v1h-1zM589 26h1v1h-1zM610 26h1v1h-1zM617 26h1v1h-1zM618 26h1v1h-1zM625 26h1v1h-1zM633 26h1v1h-1zM332 27h1v1h-1zM344 27h2v1h-2zM345 27h2v1h-2zM353 27h1v1h-1zM384 27h1v1h-1zM388 27h1v1h-1zM428 27h1v1h-1zM443 27h1v1h-1zM450 27h1v1h-1zM468 27h1v1h-1zM507 27h1v1h-1zM528 27h1v1h-1zM544 27h1v1h-1zM579 27h1v1h-1zM591 27h1v1h-1zM604 27h1v1h-1zM626 27h1v1h-1zM655 27h2v1h-2zM347 28h1v1h-1zM355 28h1v1h-1zM370 28h1v1h-1zM386 28h1v1h-1zM411 28h1v1h-1zM432 28h1v1h-1zM446 28h1v1h-1zM467 28h1v1h-1zM567 28h1v1h-1zM587 28h2v1h-2zM601 28h1v1h-1zM631 28h1v1h-1zM639 28h1v1h-1zM332 29h2v1h-2zM343 29h1v1h-1zM348 29h1v1h-1zM373 29h1v1h-1zM374 29h1v1h-1zM375 29h1v1h-1zM389 29h1v1h-1zM393 29h1v1h-1zM394 29h1v1h-1zM402 29h1v1h-1zM419 29h2v1h-2zM424 29h2v1h-2zM437 29h1v1h-1zM443 29h1v1h-1zM451 29h1v1h-1zM452 29h1v1h-1zM462 29h1v1h-1zM467 29h1v1h-1zM470 29h1v1h-1zM472 29h1v1h-1zM509 29h1v1h-1zM512 29h1v1h-1zM514 29h1v1h-1zM524 29h1v1h-1zM555 29h1v1h-1zM568 29h1v1h-1zM580 29h2v1h-2zM590 29h1v1h-1zM591 29h1v1h-1zM598 29h1v1h-1zM601 29h1v1h-1zM603 29h1v1h-1zM622 29h2v1h-2zM630 29h1v1h-1zM345 30h1v1h-1zM346 30h1v1h-1zM350 30h1v1h-1zM356 30h1v1h-1zM357 30h1v1h-1zM374 30h1v1h-1zM415 30h1v1h-1zM417 30h2v1h-2zM418 30h2v1h-2zM427 30h1v1h-1zM430 30h2v1h-2zM437 30h1v1h-1zM448 30h1v1h-1zM457 30h1v1h-1zM460 30h1v1h-1zM464 30h1v1h-1zM473 30h1v1h-1zM478 30h2v1h-2zM576 30h1v1h-1zM623 30h2v1h-2zM627 30h2v1h-2zM339 31h1v1h-1zM371 31h1v1h-1zM373 31h1v1h-1zM379 31h1v1h-1zM423 31h1v1h-1zM424 31h2v1h-2zM474 31h1v1h-1zM480 31h1v1h-1zM495 31h2v1h-2zM504 31h1v1h-1zM542 31h1v1h-1zM637 31h1v1h-1zM327 32h1v1h-1zM332 32h1v1h-1zM336 32h1v1h-1zM337 32h2v1h-2zM352 32h1v1h-1zM378 32h1v1h-1zM395 32h1v1h-1zM399 32h1v1h-1zM433 32h1v1h-1zM437 32h1v1h-1zM456 32h1v1h-1zM525 32h1v1h-1zM530 32h1v1h-1zM639 32h1v1h-1zM330 34h2v1h-2zM350 34h2v1h-2zM395 34h1v1h-1zM364 35h1v1h-1zM398 35h1v1h-1zM462 35h1v1h-1zM482 35h1v1h-1zM606 35h1v1h-1zM612 35h1v1h-1zM616 35h2v1h-2zM617 35h1v1h-1zM635 35h1v1h-1zM375 36h2v1h-2zM447 36h1v1h-1zM458 36h1v1h-1zM487 36h1v1h-1zM518 36h1v1h-1zM648 36h1v1h-1zM339 37h1v1h-1zM347 37h1v1h-1zM352 37h2v1h-2zM361 37h1v1h-1zM384 37h1v1h-1zM413 37h1v1h-1zM414 37h1v1h-1zM434 37h1v1h-1zM435 37h2v1h-2zM449 37h1v1h-1zM452 37h1v1h-1zM477 37h1v1h-1zM489 37h1v1h-1zM500 37h2v1h-2zM508 37h1v1h-1zM523 37h1v1h-1zM531 37h1v1h-1zM544 37h1v1h-1zM546 37h1v1h-1zM547 37h1v1h-1zM562 37h2v1h-2zM563 37h1v1h-1zM582 37h1v1h-1zM654 37h1v1h-1zM361 38h1v1h-1zM543 38h1v1h-1zM581 38h1v1h-1zM330 39h1v1h-1zM502 39h1v1h-1zM356 40h1v1h-1zM383 40h1v1h-1zM635 40h1v1h-1zM565 41h1v1h-1zM428 42h2v1h-2zM475 42h1v1h-1zM521 42h1v1h-1zM561 42h1v1h-1zM606 42h2v1h-2zM430 43h1v1h-1zM445 43h1v1h-1zM462 43h2v1h-2zM496 43h1v1h-1zM505 43h1v1h-1zM570 43h1v1h-1zM571 43h1v1h-1zM580 43h1v1h-1zM600 43h2v1h-2zM627 43h1v1h-1zM324 44h1v1h-1zM330 44h1v1h-1zM332 44h1v1h-1zM338 44h1v1h-1zM364 44h2v1h-2zM366 44h1v1h-1zM398 44h1v1h-1zM438 44h2v1h-2zM510 44h1v1h-1zM547 44h1v1h-1zM574 44h2v1h-2zM597 44h1v1h-1zM330 45h2v1h-2zM428 45h2v1h-2zM476 45h2v1h-2zM590 45h1v1h-1zM602 45h2v1h-2zM614 45h1v1h-1zM620 45h1v1h-1zM323 46h2v1h-2zM345 46h1v1h-1zM381 46h1v1h-1zM402 46h2v1h-2zM428 46h2v1h-2zM439 46h1v1h-1zM543 46h1v1h-1zM550 46h1v1h-1zM563 46h1v1h-1zM573 46h1v1h-1zM618 46h1v1h-1zM636 46h1v1h-1zM334 47h1v1h-1zM335 47h1v1h-1zM383 47h1v1h-1zM384 47h2v1h-2zM385 47h1v1h-1zM401 47h1v1h-1zM417 47h1v1h-1zM427 47h1v1h-1zM446 47h1v1h-1zM449 47h1v1h-1zM450 47h1v1h-1zM451 47h1v1h-1zM491 47h2v1h-2zM499 47h1v1h-1zM505 47h1v1h-1zM529 47h1v1h-1zM538 47h1v1h-1zM574 47h1v1h-1zM582 47h1v1h-1zM586 47h2v1h-2zM605 47h1v1h-1zM630 47h1v1h-1zM632 47h2v1h-2zM334 48h2v1h-2zM340 48h1v1h-1zM343 48h1v1h-1zM351 48h1v1h-1zM372 48h1v1h-1zM376 48h1v1h-1zM453 48h1v1h-1zM477 48h1v1h-1zM585 48h1v1h-1zM591 48h1v1h-1zM340 49h1v1h-1zM342 49h1v1h-1zM349 49h1v1h-1zM443 49h1v1h-1zM451 49h1v1h-1zM563 49h1v1h-1zM618 49h1v1h-1zM324 50h1v1h-1zM339 50h1v1h-1zM352 50h1v1h-1zM378 50h1v1h-1zM410 50h1v1h-1zM438 50h1v1h-1zM448 50h2v1h-2zM549 50h1v1h-1zM565 50h2v1h-2zM572 50h2v1h-2zM596 50h1v1h-1zM610 50h1v1h-1zM395 51h1v1h-1zM613 51h1v1h-1zM323 52h1v1h-1zM330 52h1v1h-1zM370 52h1v1h-1zM375 52h1v1h-1zM469 52h1v1h-1zM470 52h1v1h-1zM478 52h2v1h-2zM527 52h1v1h-1zM533 52h1v1h-1zM542 52h1v1h-1zM548 52h2v1h-2zM573 52h2v1h-2zM599 52h1v1h-1zM600 52h1v1h-1zM604 52h1v1h-1zM620 52h2v1h-2zM622 52h2v1h-2zM331 53h2v1h-2zM351 53h1v1h-1zM352 53h1v1h-1zM373 53h1v1h-1zM376 53h1v1h-1zM382 53h1v1h-1zM449 53h2v1h-2zM452 53h1v1h-1zM616 53h1v1h-1zM366 54h1v1h-1zM394 54h1v1h-1zM507 54h1v1h-1zM520 54h1v1h-1zM562 54h1v1h-1zM618 54h1v1h-1zM335 55h1v1h-1zM342 55h1v1h-1zM344 55h1v1h-1zM350 55h1v1h-1zM351 55h1v1h-1zM364 55h2v1h-2zM381 55h2v1h-2zM419 55h1v1h-1zM420 55h1v1h-1zM431 55h1v1h-1zM447 55h1v1h-1zM448 55h1v1h-1zM493 55h2v1h-2zM499 55h2v1h-2zM513 55h2v1h-2zM554 55h1v1h-1zM574 55h1v1h-1zM589 55h1v1h-1zM593 55h1v1h-1zM594 55h1v1h-1zM612 55h1v1h-1zM629 55h1v1h-1zM633 55h1v1h-1zM331 56h1v1h-1zM334 56h1v1h-1zM379 56h1v1h-1zM412 56h1v1h-1zM475 56h1v1h-1zM535 56h1v1h-1zM619 56h1v1h-1zM369 57h1v1h-1zM422 57h1v1h-1zM326 58h1v1h-1zM332 58h2v1h-2zM334 58h1v1h-1zM335 58h1v1h-1zM342 58h2v1h-2zM343 58h1v1h-1zM344 58h2v1h-2zM345 58h1v1h-1zM354 58h1v1h-1zM356 58h1v1h-1zM357 58h1v1h-1zM361 58h1v1h-1zM368 58h1v1h-1zM376 58h1v1h-1zM379 58h1v1h-1zM388 58h2v1h-2zM389 58h1v1h-1zM392 58h1v1h-1zM394 58h1v1h-1zM395 58h1v1h-1zM404 58h1v1h-1zM406 58h1v1h-1zM409 58h2v1h-2zM411 58h1v1h-1zM412 58h2v1h-2zM423 58h2v1h-2zM426 58h1v1h-1zM433 58h1v1h-1zM434 58h2v1h-2zM438 58h1v1h-1zM439 58h1v1h-1zM440 58h1v1h-1zM441 58h1v1h-1zM446 58h1v1h-1zM449 58h1v1h-1zM451 58h1v1h-1zM452 58h1v1h-1zM456 58h1v1h-1zM457 58h1v1h-1zM460 58h1v1h-1zM465 58h1v1h-1zM471 58h1v1h-1zM475 58h1v1h-1zM484 58h1v1h-1zM485 58h2v1h-2zM488 58h1v1h-1zM490 58h1v1h-1zM492 58h1v1h-1zM493 58h1v1h-1zM495 58h2v1h-2zM504 58h1v1h-1zM507 58h1v1h-1zM508 58h1v1h-1zM509 58h1v1h-1zM511 58h1v1h-1zM514 58h1v1h-1zM517 58h1v1h-1zM522 58h1v1h-1zM525 58h1v1h-1zM529 58h1v1h-1zM536 58h1v1h-1zM538 58h1v1h-1zM542 58h1v1h-1zM548 58h1v1h-1zM557 58h1v1h-1zM569 58h1v1h-1zM575 58h1v1h-1zM576 58h1v1h-1zM583 58h1v1h-1zM589 58h1v1h-1zM590 58h1v1h-1zM591 58h1v1h-1zM592 58h1v1h-1zM596 58h2v1h-2zM598 58h1v1h-1zM599 58h1v1h-1zM600 58h1v1h-1zM603 58h1v1h-1zM605 58h1v1h-1zM611 58h1v1h-1zM612 58h2v1h-2zM613 58h1v1h-1zM615 58h1v1h-1zM616 58h2v1h-2zM622 58h1v1h-1zM624 58h1v1h-1zM625 58h2v1h-2zM629 58h1v1h-1zM630 58h2v1h-2zM635 58h1v1h-1zM636 58h1v1h-1zM638 58h1v1h-1zM639 58h2v1h-2zM338 59h1v1h-1zM426 59h1v1h-1zM448 59h2v1h-2zM501 59h1v1h-1zM574 59h2v1h-2zM607 59h1v1h-1zM628 59h1v1h-1zM352 60h1v1h-1zM365 60h1v1h-1zM369 60h1v1h-1zM370 60h2v1h-2zM378 60h1v1h-1zM436 60h1v1h-1zM443 60h1v1h-1zM449 60h1v1h-1zM478 60h1v1h-1zM532 60h1v1h-1zM583 60h1v1h-1zM586 60h1v1h-1zM606 60h1v1h-1zM614 60h1v1h-1zM336 61h1v1h-1zM343 61h1v1h-1zM372 61h1v1h-1zM383 61h1v1h-1zM385 61h1v1h-1zM426 61h1v1h-1zM433 61h1v1h-1zM436 61h1v1h-1zM450 61h1v1h-1zM454 61h2v1h-2zM480 61h1v1h-1zM507 61h2v1h-2zM512 61h1v1h-1zM530 61h1v1h-1zM537 61h1v1h-1zM571 61h1v1h-1zM330 62h1v1h-1zM386 62h1v1h-1zM415 62h1v1h-1zM416 62h2v1h-2zM420 62h1v1h-1zM425 62h1v1h-1zM426 62h1v1h-1zM434 62h1v1h-1zM545 62h2v1h-2zM595 62h2v1h-2zM630 62h1v1h-1zM641 62h1v1h-1zM322 63h1v1h-1zM343 63h1v1h-1zM472 63h1v1h-1zM494 63h1v1h-1zM506 63h1v1h-1zM333 64h1v1h-1zM337 64h1v1h-1zM340 64h1v1h-1zM342 64h1v1h-1zM345 64h1v1h-1zM360 64h1v1h-1zM381 64h1v1h-1zM383 64h1v1h-1zM386 64h1v1h-1zM388 64h1v1h-1zM389 64h2v1h-2zM391 64h1v1h-1zM392 64h1v1h-1zM394 64h1v1h-1zM395 64h1v1h-1zM396 64h1v1h-1zM398 64h1v1h-1zM399 64h1v1h-1zM420 64h1v1h-1zM426 64h2v1h-2zM430 64h1v1h-1zM433 64h1v1h-1zM436 64h1v1h-1zM446 64h1v1h-1zM469 64h1v1h-1zM502 64h1v1h-1zM504 64h1v1h-1zM505 64h2v1h-2zM517 64h1v1h-1zM518 64h1v1h-1zM530 64h1v1h-1zM556 64h1v1h-1zM597 64h1v1h-1zM608 64h1v1h-1zM614 64h1v1h-1zM618 64h2v1h-2zM635 64h2v1h-2zM644 64h1v1h-1zM349 65h1v1h-1zM384 65h1v1h-1zM469 65h1v1h-1zM509 65h1v1h-1zM583 65h1v1h-1zM593 65h1v1h-1zM322 66h2v1h-2zM324 66h1v1h-1zM333 66h1v1h-1zM338 66h1v1h-1zM344 66h1v1h-1zM345 66h1v1h-1zM346 66h1v1h-1zM349 66h1v1h-1zM374 66h1v1h-1zM390 66h1v1h-1zM406 66h1v1h-1zM407 66h1v1h-1zM422 66h1v1h-1zM426 66h1v1h-1zM433 66h1v1h-1zM434 66h1v1h-1zM439 66h1v1h-1zM441 66h2v1h-2zM449 66h2v1h-2zM452 66h2v1h-2zM453 66h1v1h-1zM464 66h1v1h-1zM478 66h1v1h-1zM529 66h1v1h-1zM531 66h1v1h-1zM540 66h1v1h-1zM554 66h1v1h-1zM560 66h1v1h-1zM573 66h1v1h-1zM574 66h2v1h-2zM616 66h1v1h-1zM618 66h1v1h-1zM624 66h1v1h-1zM632 66h1v1h-1zM642 66h1v1h-1zM645 66h1v1h-1zM428 67h1v1h-1zM433 67h1v1h-1zM446 67h2v1h-2zM501 67h1v1h-1zM572 67h1v1h-1zM604 67h1v1h-1zM617 67h1v1h-1zM645 67h1v1h-1zM348 68h1v1h-1zM382 68h1v1h-1zM581 68h1v1h-1zM328 69h2v1h-2zM334 69h1v1h-1zM338 69h1v1h-1zM357 69h1v1h-1zM386 69h1v1h-1zM397 69h1v1h-1zM419 69h2v1h-2zM421 69h1v1h-1zM431 69h1v1h-1zM438 69h1v1h-1zM461 69h1v1h-1zM463 69h1v1h-1zM477 69h1v1h-1zM486 69h1v1h-1zM506 69h1v1h-1zM558 69h1v1h-1zM565 69h1v1h-1zM581 69h2v1h-2zM587 69h1v1h-1zM615 69h1v1h-1zM629 69h2v1h-2zM340 70h1v1h-1zM474 70h1v1h-1zM481 70h1v1h-1zM487 70h1v1h-1zM524 70h1v1h-1zM578 70h1v1h-1zM600 70h1v1h-1zM638 70h1v1h-1zM338 71h1v1h-1zM374 71h1v1h-1zM378 71h2v1h-2zM385 71h1v1h-1zM413 71h2v1h-2zM441 71h1v1h-1zM448 71h1v1h-1zM451 71h1v1h-1zM455 71h1v1h-1zM465 71h1v1h-1zM476 71h1v1h-1zM478 71h2v1h-2zM499 71h1v1h-1zM501 71h1v1h-1zM542 71h1v1h-1zM555 71h1v1h-1zM559 71h1v1h-1zM568 71h1v1h-1zM577 71h1v1h-1zM604 71h1v1h-1zM617 71h1v1h-1zM340 72h1v1h-1zM361 72h1v1h-1zM364 72h1v1h-1zM382 72h1v1h-1zM398 72h1v1h-1zM409 72h1v1h-1zM425 72h1v1h-1zM436 72h1v1h-1zM438 72h2v1h-2zM472 72h2v1h-2zM519 72h1v1h-1zM521 72h1v1h-1zM526 72h1v1h-1zM534 72h2v1h-2zM548 72h1v1h-1zM549 72h1v1h-1zM560 72h2v1h-2zM562 72h1v1h-1zM563 72h1v1h-1zM564 72h2v1h-2zM567 72h1v1h-1zM573 72h1v1h-1zM591 72h1v1h-1zM611 72h1v1h-1zM617 72h1v1h-1zM621 72h1v1h-1zM629 72h1v1h-1zM631 72h1v1h-1zM332 73h1v1h-1zM340 73h1v1h-1zM350 73h1v1h-1zM371 73h1v1h-1zM382 73h1v1h-1zM391 73h1v1h-1zM392 73h1v1h-1zM396 73h1v1h-1zM408 73h1v1h-1zM432 73h1v1h-1zM440 73h1v1h-1zM453 73h1v1h-1zM486 73h1v1h-1zM487 73h1v1h-1zM511 73h2v1h-2zM546 73h1v1h-1zM554 73h2v1h-2zM557 73h2v1h-2zM568 73h2v1h-2zM570 73h2v1h-2zM573 73h2v1h-2zM578 73h1v1h-1zM603 73h1v1h-1zM618 73h1v1h-1zM620 73h1v1h-1zM636 73h1v1h-1zM346 74h1v1h-1zM372 74h2v1h-2zM385 74h1v1h-1zM399 74h1v1h-1zM465 74h1v1h-1zM483 74h1v1h-1zM509 74h2v1h-2zM609 74h1v1h-1zM646 74h1v1h-1zM344 75h1v1h-1zM351 75h1v1h-1zM353 75h1v1h-1zM355 75h2v1h-2zM360 75h1v1h-1zM363 75h1v1h-1zM373 75h1v1h-1zM386 75h1v1h-1zM394 75h1v1h-1zM398 75h1v1h-1zM402 75h2v1h-2zM403 75h2v1h-2zM404 75h1v1h-1zM409 75h1v1h-1zM421 75h1v1h-1zM444 75h1v1h-1zM450 75h1v1h-1zM485 75h1v1h-1zM507 75h2v1h-2zM515 75h1v1h-1zM537 75h1v1h-1zM539 75h1v1h-1zM569 75h1v1h-1zM578 75h1v1h-1zM599 75h1v1h-1zM601 75h1v1h-1zM604 75h1v1h-1zM618 75h1v1h-1zM640 75h1v1h-1zM646 75h1v1h-1zM648 75h1v1h-1zM321 76h1v1h-1zM328 76h1v1h-1zM331 76h1v1h-1zM333 76h1v1h-1zM335 76h1v1h-1zM341 76h1v1h-1zM343 76h2v1h-2zM349 76h1v1h-1zM352 76h1v1h-1zM360 76h2v1h-2zM388 76h2v1h-2zM393 76h1v1h-1zM403 76h1v1h-1zM409 76h2v1h-2zM410 76h2v1h-2zM411 76h1v1h-1zM414 76h1v1h-1zM422 76h1v1h-1zM424 76h2v1h-2zM425 76h2v1h-2zM429 76h1v1h-1zM430 76h1v1h-1zM432 76h1v1h-1zM434 76h1v1h-1zM443 76h2v1h-2zM444 76h1v1h-1zM446 76h2v1h-2zM447 76h1v1h-1zM454 76h2v1h-2zM457 76h1v1h-1zM458 76h1v1h-1zM463 76h2v1h-2zM468 76h1v1h-1zM471 76h1v1h-1zM484 76h1v1h-1zM498 76h2v1h-2zM502 76h1v1h-1zM504 76h1v1h-1zM506 76h1v1h-1zM509 76h1v1h-1zM519 76h1v1h-1zM522 76h2v1h-2zM526 76h1v1h-1zM531 76h1v1h-1zM533 76h1v1h-1zM546 76h2v1h-2zM548 76h2v1h-2zM561 76h1v1h-1zM576 76h1v1h-1zM591 76h1v1h-1zM595 76h2v1h-2zM598 76h1v1h-1zM606 76h1v1h-1zM610 76h1v1h-1zM611 76h2v1h-2zM618 76h1v1h-1zM622 76h1v1h-1zM628 76h1v1h-1zM632 76h2v1h-2zM641 76h2v1h-2zM647 76h1v1h-1zM325 77h1v1h-1zM415 77h1v1h-1zM441 77h2v1h-2zM463 77h1v1h-1zM505 77h1v1h-1zM515 77h1v1h-1zM519 77h1v1h-1zM563 77h1v1h-1zM572 77h2v1h-2zM575 77h1v1h-1zM583 77h1v1h-1zM591 77h1v1h-1zM596 77h1v1h-1zM607 77h2v1h-2zM325 78h1v1h-1zM329 78h1v1h-1zM336 78h2v1h-2zM340 78h2v1h-2zM364 78h1v1h-1zM367 78h2v1h-2zM372 78h1v1h-1zM375 78h2v1h-2zM384 78h2v1h-2zM388 78h1v1h-1zM393 78h1v1h-1zM394 78h2v1h-2zM397 78h1v1h-1zM399 78h2v1h-2zM400 78h2v1h-2zM402 78h1v1h-1zM416 78h1v1h-1zM423 78h1v1h-1zM438 78h1v1h-1zM456 78h1v1h-1zM467 78h1v1h-1zM472 78h1v1h-1zM503 78h2v1h-2zM504 78h1v1h-1zM511 78h2v1h-2zM527 78h1v1h-1zM529 78h1v1h-1zM530 78h1v1h-1zM532 78h2v1h-2zM536 78h1v1h-1zM537 78h1v1h-1zM548 78h2v1h-2zM551 78h1v1h-1zM567 78h1v1h-1zM572 78h2v1h-2zM574 78h1v1h-1zM592 78h2v1h-2zM611 78h1v1h-1zM613 78h1v1h-1zM615 78h1v1h-1zM622 78h1v1h-1zM332 79h1v1h-1zM334 79h1v1h-1zM352 79h2v1h-2zM375 79h2v1h-2zM383 79h1v1h-1zM386 79h1v1h-1zM392 79h2v1h-2zM396 79h1v1h-1zM407 79h2v1h-2zM415 79h1v1h-1zM419 79h1v1h-1zM423 79h1v1h-1zM426 79h2v1h-2zM428 79h1v1h-1zM438 79h1v1h-1zM447 79h2v1h-2zM453 79h1v1h-1zM454 79h1v1h-1zM465 79h1v1h-1zM472 79h2v1h-2zM489 79h1v1h-1zM499 79h2v1h-2zM502 79h1v1h-1zM504 79h1v1h-1zM517 79h1v1h-1zM524 79h1v1h-1zM544 79h2v1h-2zM555 79h1v1h-1zM561 79h1v1h-1zM585 79h1v1h-1zM596 79h1v1h-1zM597 79h1v1h-1zM610 79h2v1h-2zM615 79h1v1h-1zM334 80h1v1h-1zM350 80h1v1h-1zM382 80h1v1h-1zM394 80h1v1h-1zM402 80h1v1h-1zM421 80h1v1h-1zM426 80h2v1h-2zM429 80h1v1h-1zM437 80h1v1h-1zM440 80h1v1h-1zM446 80h2v1h-2zM464 80h2v1h-2zM486 80h1v1h-1zM516 80h1v1h-1zM528 80h1v1h-1zM542 80h1v1h-1zM571 80h1v1h-1zM587 80h1v1h-1zM606 80h1v1h-1zM615 80h2v1h-2zM621 80h1v1h-1zM632 80h1v1h-1zM641 80h1v1h-1zM645 80h1v1h-1zM357 81h1v1h-1zM363 81h2v1h-2zM372 81h1v1h-1zM374 81h1v1h-1zM428 81h1v1h-1zM435 81h1v1h-1zM438 81h1v1h-1zM468 81h1v1h-1zM487 81h1v1h-1zM511 81h1v1h-1zM523 81h1v1h-1zM543 81h1v1h-1zM550 81h2v1h-2zM563 81h1v1h-1zM565 81h1v1h-1zM569 81h1v1h-1zM573 81h1v1h-1zM588 81h1v1h-1zM589 81h1v1h-1zM594 81h1v1h-1zM595 81h1v1h-1zM600 81h2v1h-2zM601 81h2v1h-2zM604 81h1v1h-1zM608 81h2v1h-2zM609 81h1v1h-1zM633 81h1v1h-1zM637 81h1v1h-1zM337 82h1v1h-1zM340 82h2v1h-2zM342 82h1v1h-1zM345 82h1v1h-1zM363 82h1v1h-1zM369 82h1v1h-1zM377 82h1v1h-1zM396 82h1v1h-1zM428 82h1v1h-1zM457 82h1v1h-1zM481 82h1v1h-1zM499 82h1v1h-1zM510 82h1v1h-1zM512 82h1v1h-1zM535 82h1v1h-1zM541 82h2v1h-2zM567 82h1v1h-1zM573 82h1v1h-1zM591 82h1v1h-1zM592 82h1v1h-1zM606 82h1v1h-1zM615 82h1v1h-1zM634 82h1v1h-1zM339 83h1v1h-1zM368 83h1v1h-1zM383 83h2v1h-2zM454 83h1v1h-1zM474 83h1v1h-1zM511 83h1v1h-1zM555 83h2v1h-2zM561 83h1v1h-1zM573 83h1v1h-1zM334 84h2v1h-2zM335 84h1v1h-1zM344 84h1v1h-1zM348 84h1v1h-1zM352 84h1v1h-1zM354 84h1v1h-1zM363 84h1v1h-1zM367 84h1v1h-1zM375 84h1v1h-1zM385 84h1v1h-1zM386 84h2v1h-2zM389 84h1v1h-1zM394 84h1v1h-1zM409 84h2v1h-2zM421 84h1v1h-1zM433 84h1v1h-1zM437 84h1v1h-1zM439 84h1v1h-1zM445 84h1v1h-1zM467 84h1v1h-1zM487 84h2v1h-2zM521 84h1v1h-1zM522 84h2v1h-2zM525 84h1v1h-1zM565 84h2v1h-2zM572 84h1v1h-1zM573 84h1v1h-1zM593 84h1v1h-1zM594 84h1v1h-1zM608 84h1v1h-1zM613 84h2v1h-2zM616 84h1v1h-1zM618 84h1v1h-1zM623 84h1v1h-1zM631 84h2v1h-2zM633 84h1v1h-1zM637 84h1v1h-1zM339 85h1v1h-1zM340 85h1v1h-1zM343 85h2v1h-2zM347 85h1v1h-1zM350 85h1v1h-1zM358 85h1v1h-1zM362 85h1v1h-1zM387 85h1v1h-1zM395 85h1v1h-1zM398 85h1v1h-1zM400 85h1v1h-1zM412 85h1v1h-1zM413 85h1v1h-1zM419 85h1v1h-1zM439 85h1v1h-1zM443 85h1v1h-1zM471 85h1v1h-1zM474 85h1v1h-1zM476 85h1v1h-1zM489 85h1v1h-1zM497 85h2v1h-2zM524 85h1v1h-1zM530 85h1v1h-1zM539 85h2v1h-2zM547 85h1v1h-1zM550 85h2v1h-2zM559 85h1v1h-1zM560 85h2v1h-2zM561 85h1v1h-1zM566 85h1v1h-1zM571 85h1v1h-1zM573 85h1v1h-1zM593 85h1v1h-1zM594 85h1v1h-1zM599 85h1v1h-1zM608 85h1v1h-1zM636 85h1v1h-1zM638 85h1v1h-1zM640 85h1v1h-1zM336 86h1v1h-1zM396 86h2v1h-2zM448 86h2v1h-2zM445 87h1v1h-1zM460 87h1v1h-1zM622 87h1v1h-1zM376 88h2v1h-2zM420 88h1v1h-1zM475 88h1v1h-1zM484 88h2v1h-2zM490 88h1v1h-1zM532 88h1v1h-1zM552 88h1v1h-1zM621 88h1v1h-1zM375 89h1v1h-1zM414 89h1v1h-1zM529 89h1v1h-1zM573 89h1v1h-1zM577 89h1v1h-1zM605 89h1v1h-1zM331 91h1v1h-1zM397 91h1v1h-1zM398 91h1v1h-1zM480 91h1v1h-1zM562 91h2v1h-2zM322 92h2v1h-2zM334 92h1v1h-1zM380 92h2v1h-2zM418 92h1v1h-1zM463 92h1v1h-1zM537 92h1v1h-1zM571 92h1v1h-1zM597 92h1v1h-1zM622 92h2v1h-2zM322 93h1v1h-1zM382 93h1v1h-1zM418 93h2v1h-2zM437 93h1v1h-1zM483 93h1v1h-1zM610 93h1v1h-1zM322 94h1v1h-1zM371 94h1v1h-1zM379 94h1v1h-1zM400 94h1v1h-1zM407 94h1v1h-1zM465 94h1v1h-1zM470 94h1v1h-1zM488 94h1v1h-1zM528 94h2v1h-2zM564 94h1v1h-1zM579 94h1v1h-1zM615 94h1v1h-1zM616 94h1v1h-1zM636 94h1v1h-1zM325 95h1v1h-1zM417 95h2v1h-2zM549 95h1v1h-1zM555 95h1v1h-1zM584 95h2v1h-2zM622 95h1v1h-1zM343 96h1v1h-1zM352 96h1v1h-1zM385 96h1v1h-1zM399 96h1v1h-1zM410 96h1v1h-1zM429 96h1v1h-1zM435 96h1v1h-1zM439 96h1v1h-1zM443 96h1v1h-1zM459 96h1v1h-1zM465 96h1v1h-1zM483 96h1v1h-1zM492 96h1v1h-1zM518 96h1v1h-1zM529 96h2v1h-2zM530 96h1v1h-1zM560 96h1v1h-1zM563 96h2v1h-2zM577 96h1v1h-1zM590 96h1v1h-1zM593 96h1v1h-1zM604 96h1v1h-1zM611 96h1v1h-1zM623 96h1v1h-1zM630 96h1v1h-1zM632 96h2v1h-2zM635 96h1v1h-1zM642 96h1v1h-1zM356 97h1v1h-1zM365 97h1v1h-1zM512 97h1v1h-1zM562 97h1v1h-1zM582 97h1v1h-1zM611 97h1v1h-1zM362 98h2v1h-2zM363 98h2v1h-2zM395 98h1v1h-1zM402 98h1v1h-1zM416 98h1v1h-1zM429 98h2v1h-2zM431 98h1v1h-1zM461 98h1v1h-1zM462 98h2v1h-2zM471 98h1v1h-1zM485 98h1v1h-1zM505 98h1v1h-1zM549 98h1v1h-1zM551 98h1v1h-1zM555 98h2v1h-2zM558 98h1v1h-1zM564 98h1v1h-1zM624 98h1v1h-1zM322 99h1v1h-1zM409 99h1v1h-1zM620 99h1v1h-1zM330 100h1v1h-1zM429 100h1v1h-1zM434 100h2v1h-2zM454 100h1v1h-1zM473 100h1v1h-1zM482 100h1v1h-1zM506 100h1v1h-1zM524 100h1v1h-1zM525 100h1v1h-1zM543 100h1v1h-1zM546 100h1v1h-1zM555 100h1v1h-1zM568 100h1v1h-1zM342 101h1v1h-1zM344 101h1v1h-1zM370 101h2v1h-2zM408 101h1v1h-1zM425 101h1v1h-1zM496 101h2v1h-2zM513 101h1v1h-1zM536 101h1v1h-1zM540 101h1v1h-1zM542 101h1v1h-1zM547 101h2v1h-2zM558 101h1v1h-1zM574 101h1v1h-1zM612 101h1v1h-1zM657 101h2v1h-2zM530 102h1v1h-1zM373 103h1v1h-1zM402 103h1v1h-1zM425 103h1v1h-1zM428 103h1v1h-1zM462 103h1v1h-1zM474 103h2v1h-2zM571 103h1v1h-1zM582 103h1v1h-1zM608 103h2v1h-2zM628 103h1v1h-1zM335 106h2v1h-2zM402 106h1v1h-1zM440 108h1v1h-1zM552 108h1v1h-1zM627 108h1v1h-1zM368 109h1v1h-1zM410 109h1v1h-1zM466 109h1v1h-1zM575 109h1v1h-1zM631 109h1v1h-1zM403 110h1v1h-1zM440 111h1v1h-1zM333 112h2v1h-2zM420 112h1v1h-1zM423 112h1v1h-1zM448 112h2v1h-2zM533 112h1v1h-1zM546 112h1v1h-1zM574 112h1v1h-1zM580 112h1v1h-1zM595 112h1v1h-1zM638 112h2v1h-2zM411 113h2v1h-2zM599 113h1v1h-1zM340 115h1v1h-1zM342 115h1v1h-1zM343 115h1v1h-1zM614 115h1v1h-1zM466 116h1v1h-1zM574 116h1v1h-1z" fill="#c6ddf1"/>
<path d="M362 12h2v1h-2zM566 13h1v1h-1zM345 14h2v1h-2zM384 14h1v1h-1zM325 15h2v1h-2zM365 15h1v1h-1zM475 15h1v1h-1zM584 15h1v1h-1zM412 16h1v1h-1zM466 16h1v1h-1zM345 17h1v1h-1zM387 17h1v1h-1zM389 17h2v1h-2zM404 17h1v1h-1zM407 17h1v1h-1zM419 17h1v1h-1zM421 17h1v1h-1zM445 17h2v1h-2zM446 17h1v1h-1zM452 17h1v1h-1zM460 17h1v1h-1zM472 17h1v1h-1zM475 17h1v1h-1zM477 17h1v1h-1zM515 17h1v1h-1zM535 17h1v1h-1zM567 17h1v1h-1zM571 17h2v1h-2zM573 17h1v1h-1zM613 17h1v1h-1zM616 17h1v1h-1zM619 17h1v1h-1zM627 17h1v1h-1zM632 17h2v1h-2zM638 17h1v1h-1zM335 18h2v1h-2zM348 18h1v1h-1zM371 18h1v1h-1zM380 18h1v1h-1zM394 18h2v1h-2zM428 18h2v1h-2zM475 18h1v1h-1zM481 18h1v1h-1zM501 18h1v1h-1zM518 18h1v1h-1zM519 18h1v1h-1zM577 18h2v1h-2zM589 18h1v1h-1zM604 18h1v1h-1zM609 18h1v1h-1zM619 18h1v1h-1zM623 18h1v1h-1zM328 19h1v1h-1zM333 19h1v1h-1zM337 19h1v1h-1zM365 19h1v1h-1zM381 19h1v1h-1zM387 19h1v1h-1zM394 19h1v1h-1zM400 19h2v1h-2zM402 19h1v1h-1zM404 19h1v1h-1zM405 19h1v1h-1zM410 19h1v1h-1zM426 19h1v1h-1zM430 19h1v1h-1zM437 19h1v1h-1zM441 19h1v1h-1zM453 19h1v1h-1zM480 19h1v1h-1zM521 19h1v1h-1zM569 19h1v1h-1zM571 19h2v1h-2zM572 19h1v1h-1zM580 19h1v1h-1zM590 19h1v1h-1zM620 19h1v1h-1zM621 19h1v1h-1zM635 19h1v1h-1zM350 20h2v1h-2zM352 20h1v1h-1zM353 20h1v1h-1zM416 20h1v1h-1zM430 20h1v1h-1zM443 20h1v1h-1zM457 20h1v1h-1zM495 20h1v1h-1zM528 20h1v1h-1zM540 20h1v1h-1zM614 20h2v1h-2zM625 20h1v1h-1zM328 21h1v1h-1zM334 21h1v1h-1zM336 21h1v1h-1zM340 21h1v1h-1zM342 21h1v1h-1zM344 21h2v1h-2zM349 21h2v1h-2zM353 21h1v1h-1zM356 21h1v1h-1zM363 21h1v1h-1zM367 21h1v1h-1zM368 21h1v1h-1zM369 21h1v1h-1zM371 21h2v1h-2zM375 21h1v1h-1zM376 21h1v1h-1zM377 21h1v1h-1zM379 21h1v1h-1zM381 21h1v1h-1zM387 21h2v1h-2zM394 21h2v1h-2zM395 21h1v1h-1zM399 21h2v1h-2zM400 21h1v1h-1zM403 21h1v1h-1zM407 21h1v1h-1zM408 21h1v1h-1zM410 21h1v1h-1zM411 21h1v1h-1zM412 21h1v1h-1zM416 21h1v1h-1zM417 21h2v1h-2zM418 21h1v1h-1zM419 21h1v1h-1zM422 21h1v1h-1zM426 21h1v1h-1zM427 21h1v1h-1zM428 21h2v1h-2zM429 21h1v1h-1zM435 21h1v1h-1zM440 21h1v1h-1zM441 21h1v1h-1zM442 21h1v1h-1zM457 21h2v1h-2zM460 21h1v1h-1zM463 21h2v1h-2zM468 21h1v1h-1zM469 21h1v1h-1zM471 21h1v1h-1zM476 21h1v1h-1zM478 21h1v1h-1zM479 21h1v1h-1zM483 21h1v1h-1zM497 21h1v1h-1zM499 21h2v1h-2zM506 21h1v1h-1zM511 21h1v1h-1zM518 21h1v1h-1zM530 21h1v1h-1zM532 21h1v1h-1zM533 21h2v1h-2zM534 21h2v1h-2zM535 21h1v1h-1zM540 21h1v1h-1zM545 21h1v1h-1zM564 21h1v1h-1zM570 21h1v1h-1zM574 21h1v1h-1zM575 21h1v1h-1zM577 21h1v1h-1zM578 21h1v1h-1zM583 21h1v1h-1zM584 21h2v1h-2zM590 21h1v1h-1zM594 21h1v1h-1zM597 21h1v1h-1zM606 21h1v1h-1zM607 21h2v1h-2zM611 21h1v1h-1zM623 21h2v1h-2zM629 21h2v1h-2zM636 21h2v1h-2zM637 21h1v1h-1zM640 21h1v1h-1zM356 22h1v1h-1zM390 22h1v1h-1zM393 22h1v1h-1zM422 22h1v1h-1zM435 22h1v1h-1zM447 22h2v1h-2zM449 22h1v1h-1zM450 22h1v1h-1zM465 22h1v1h-1zM472 22h1v1h-1zM476 22h1v1h-1zM523 22h2v1h-2zM545 22h1v1h-1zM573 22h2v1h-2zM591 22h1v1h-1zM612 22h1v1h-1zM674 22h1v1h-1zM329 23h1v1h-1zM332 23h1v1h-1zM333 23h1v1h-1zM338 23h1v1h-1zM342 23h2v1h-2zM343 23h1v1h-1zM347 23h1v1h-1zM348 23h1v1h-1zM349 23h1v1h-1zM353 23h1v1h-1zM356 23h1v1h-1zM357 23h1v1h-1zM358 23h1v1h-1zM360 23h1v1h-1zM361 23h1v1h-1zM365 23h1v1h-1zM368 23h1v1h-1zM371 23h1v1h-1zM383 23h1v1h-1zM386 23h1v1h-1zM389 23h1v1h-1zM393 23h1v1h-1zM397 23h1v1h-1zM398 23h1v1h-1zM400 23h1v1h-1zM404 23h1v1h-1zM406 23h1v1h-1zM407 23h1v1h-1zM410 23h1v1h-1zM426 23h1v1h-1zM430 23h1v1h-1zM432 23h1v1h-1zM438 23h1v1h-1zM439 23h1v1h-1zM440 23h1v1h-1zM441 23h1v1h-1zM446 23h1v1h-1zM447 23h1v1h-1zM448 23h1v1h-1zM449 23h1v1h-1zM451 23h1v1h-1zM455 23h1v1h-1zM456 23h1v1h-1zM459 23h1v1h-1zM465 23h1v1h-1zM466 23h1v1h-1zM472 23h1v1h-1zM473 23h1v1h-1zM474 23h1v1h-1zM480 23h2v1h-2zM481 23h1v1h-1zM484 23h1v1h-1zM493 23h1v1h-1zM499 23h2v1h-2zM502 23h2v1h-2zM515 23h1v1h-1zM519 23h1v1h-1zM521 23h1v1h-1zM525 23h1v1h-1zM528 23h1v1h-1zM531 23h1v1h-1zM541 23h1v1h-1zM544 23h1v1h-1zM545 23h2v1h-2zM550 23h1v1h-1zM551 23h1v1h-1zM556 23h1v1h-1zM565 23h1v1h-1zM566 23h2v1h-2zM569 23h2v1h-2zM571 23h1v1h-1zM572 23h1v1h-1zM574 23h1v1h-1zM578 23h1v1h-1zM582 23h1v1h-1zM586 23h1v1h-1zM587 23h1v1h-1zM590 23h1v1h-1zM593 23h1v1h-1zM594 23h1v1h-1zM595 23h2v1h-2zM596 23h1v1h-1zM600 23h1v1h-1zM602 23h2v1h-2zM604 23h2v1h-2zM606 23h2v1h-2zM608 23h1v1h-1zM611 23h1v1h-1zM616 23h1v1h-1zM627 23h1v1h-1zM628 23h1v1h-1zM635 23h1v1h-1zM642 23h1v1h-1zM324 24h1v1h-1zM328 24h2v1h-2zM344 24h1v1h-1zM359 24h1v1h-1zM361 24h1v1h-1zM362 24h1v1h-1zM363 24h1v1h-1zM372 24h1v1h-1zM374 24h2v1h-2zM386 24h2v1h-2zM387 24h1v1h-1zM393 24h1v1h-1zM394 24h1v1h-1zM399 24h1v1h-1zM405 24h1v1h-1zM413 24h2v1h-2zM414 24h1v1h-1zM419 24h1v1h-1zM420 24h1v1h-1zM421 24h1v1h-1zM438 24h1v1h-1zM445 24h1v1h-1zM451 24h1v1h-1zM452 24h1v1h-1zM477 24h2v1h-2zM482 24h2v1h-2zM483 24h2v1h-2zM497 24h1v1h-1zM501 24h1v1h-1zM505 24h1v1h-1zM523 24h1v1h-1zM529 24h1v1h-1zM539 24h1v1h-1zM558 24h1v1h-1zM573 24h1v1h-1zM574 24h1v1h-1zM575 24h1v1h-1zM582 24h1v1h-1zM584 24h2v1h-2zM585 24h1v1h-1zM586 24h1v1h-1zM587 24h1v1h-1zM598 24h1v1h-1zM599 24h1v1h-1zM601 24h1v1h-1zM605 24h1v1h-1zM611 24h1v1h-1zM618 24h1v1h-1zM627 24h1v1h-1zM628 24h2v1h-2zM632 24h2v1h-2zM634 24h1v1h-1zM642 24h1v1h-1zM310 25h1v1h-1zM328 25h1v1h-1zM340 25h1v1h-1zM343 25h1v1h-1zM363 25h2v1h-2zM379 25h1v1h-1zM387 25h1v1h-1zM428 25h2v1h-2zM450 25h1v1h-1zM461 25h1v1h-1zM465 25h1v1h-1zM499 25h1v1h-1zM515 25h1v1h-1zM520 25h2v1h-2zM537 25h2v1h-2zM587 25h1v1h-1zM605 25h1v1h-1zM331 26h1v1h-1zM346 26h1v1h-1zM349 26h1v1h-1zM358 26h1v1h-1zM362 26h1v1h-1zM369 26h1v1h-1zM370 26h1v1h-1zM371 26h1v1h-1zM378 26h1v1h-1zM382 26h1v1h-1zM383 26h1v1h-1zM384 26h1v1h-1zM385 26h1v1h-1zM396 26h1v1h-1zM397 26h1v1h-1zM406 26h1v1h-1zM409 26h1v1h-1zM411 26h1v1h-1zM422 26h1v1h-1zM427 26h2v1h-2zM429 26h2v1h-2zM470 26h1v1h-1zM481 26h1v1h-1zM486 26h2v1h-2zM501 26h2v1h-2zM526 26h1v1h-1zM528 26h1v1h-1zM530 26h1v1h-1zM536 26h2v1h-2zM542 26h2v1h-2zM574 26h1v1h-1zM597 26h1v1h-1zM600 26h1v1h-1zM602 26h1v1h-1zM608 26h1v1h-1zM619 26h1v1h-1zM620 26h1v1h-1zM641 26h2v1h-2zM327 27h1v1h-1zM346 27h1v1h-1zM351 27h1v1h-1zM354 27h1v1h-1zM372 27h1v1h-1zM374 27h1v1h-1zM410 27h1v1h-1zM418 27h1v1h-1zM419 27h1v1h-1zM426 27h1v1h-1zM433 27h1v1h-1zM434 27h1v1h-1zM437 27h1v1h-1zM448 27h1v1h-1zM452 27h1v1h-1zM478 27h1v1h-1zM479 27h1v1h-1zM499 27h1v1h-1zM504 27h2v1h-2zM505 27h1v1h-1zM513 27h1v1h-1zM538 27h1v1h-1zM545 27h1v1h-1zM568 27h1v1h-1zM571 27h1v1h-1zM577 27h2v1h-2zM583 27h1v1h-1zM589 27h2v1h-2zM619 27h2v1h-2zM635 27h1v1h-1zM636 27h2v1h-2zM637 27h2v1h-2zM341 28h1v1h-1zM350 28h1v1h-1zM384 28h1v1h-1zM395 28h1v1h-1zM414 28h1v1h-1zM415 28h1v1h-1zM444 28h1v1h-1zM451 28h1v1h-1zM462 28h2v1h-2zM533 28h1v1h-1zM595 28h1v1h-1zM632 28h2v1h-2zM643 28h1v1h-1zM336 29h1v1h-1zM349 29h2v1h-2zM360 29h1v1h-1zM363 29h1v1h-1zM365 29h1v1h-1zM367 29h1v1h-1zM388 29h1v1h-1zM396 29h1v1h-1zM398 29h2v1h-2zM399 29h2v1h-2zM408 29h1v1h-1zM418 29h1v1h-1zM428 29h2v1h-2zM430 29h1v1h-1zM432 29h1v1h-1zM433 29h2v1h-2zM441 29h2v1h-2zM464 29h1v1h-1zM476 29h2v1h-2zM477 29h2v1h-2zM490 29h1v1h-1zM502 29h1v1h-1zM522 29h1v1h-1zM523 29h1v1h-1zM537 29h2v1h-2zM539 29h1v1h-1zM542 29h1v1h-1zM571 29h1v1h-1zM588 29h1v1h-1zM589 29h1v1h-1zM594 29h1v1h-1zM604 29h2v1h-2zM607 29h1v1h-1zM613 29h1v1h-1zM618 29h1v1h-1zM636 29h1v1h-1zM638 29h2v1h-2zM642 29h1v1h-1zM337 30h1v1h-1zM370 30h1v1h-1zM371 30h1v1h-1zM384 30h1v1h-1zM389 30h2v1h-2zM394 30h2v1h-2zM395 30h1v1h-1zM405 30h1v1h-1zM412 30h2v1h-2zM414 30h1v1h-1zM420 30h1v1h-1zM421 30h2v1h-2zM425 30h1v1h-1zM436 30h2v1h-2zM441 30h1v1h-1zM458 30h2v1h-2zM483 30h1v1h-1zM506 30h2v1h-2zM568 30h1v1h-1zM572 30h1v1h-1zM596 30h1v1h-1zM643 30h1v1h-1zM333 31h1v1h-1zM361 31h1v1h-1zM378 31h2v1h-2zM384 31h2v1h-2zM386 31h2v1h-2zM387 31h1v1h-1zM404 31h1v1h-1zM405 31h1v1h-1zM414 31h1v1h-1zM471 31h1v1h-1zM472 31h2v1h-2zM473 31h1v1h-1zM570 31h1v1h-1zM590 31h1v1h-1zM596 31h1v1h-1zM597 31h1v1h-1zM605 31h1v1h-1zM329 32h1v1h-1zM335 32h1v1h-1zM356 32h1v1h-1zM363 32h1v1h-1zM379 32h1v1h-1zM383 32h2v1h-2zM394 32h1v1h-1zM439 32h1v1h-1zM448 32h2v1h-2zM462 32h2v1h-2zM480 32h1v1h-1zM503 32h1v1h-1zM588 32h2v1h-2zM591 32h2v1h-2zM610 32h1v1h-1zM622 32h1v1h-1zM634 32h1v1h-1zM641 32h1v1h-1zM570 33h1v1h-1zM551 34h1v1h-1zM327 35h2v1h-2zM377 35h2v1h-2zM387 35h1v1h-1zM407 35h1v1h-1zM446 35h1v1h-1zM467 35h1v1h-1zM485 35h1v1h-1zM523 35h1v1h-1zM561 35h1v1h-1zM343 36h1v1h-1zM372 36h2v1h-2zM402 36h1v1h-1zM475 36h1v1h-1zM486 36h1v1h-1zM492 36h2v1h-2zM497 36h1v1h-1zM573 36h1v1h-1zM582 36h1v1h-1zM598 36h1v1h-1zM617 36h1v1h-1zM634 36h1v1h-1zM319 37h1v1h-1zM335 37h2v1h-2zM344 37h1v1h-1zM370 37h1v1h-1zM420 37h1v1h-1zM425 37h1v1h-1zM431 37h1v1h-1zM433 37h1v1h-1zM443 37h1v1h-1zM447 37h1v1h-1zM456 37h1v1h-1zM460 37h1v1h-1zM470 37h1v1h-1zM471 37h2v1h-2zM484 37h1v1h-1zM512 37h2v1h-2zM514 37h2v1h-2zM517 37h1v1h-1zM520 37h2v1h-2zM526 37h1v1h-1zM527 37h2v1h-2zM536 37h2v1h-2zM550 37h1v1h-1zM551 37h2v1h-2zM552 37h1v1h-1zM557 37h1v1h-1zM580 37h1v1h-1zM619 37h2v1h-2zM620 37h1v1h-1zM638 37h1v1h-1zM364 38h1v1h-1zM419 38h1v1h-1zM426 38h1v1h-1zM506 38h1v1h-1zM626 38h1v1h-1zM627 38h1v1h-1zM392 39h1v1h-1zM484 39h2v1h-2zM492 39h1v1h-1zM567 39h1v1h-1zM440 40h2v1h-2zM522 40h1v1h-1zM579 40h2v1h-2zM639 40h2v1h-2zM474 41h2v1h-2zM336 42h2v1h-2zM368 42h1v1h-1zM372 42h1v1h-1zM377 42h1v1h-1zM382 42h1v1h-1zM394 42h1v1h-1zM498 42h2v1h-2zM515 42h1v1h-1zM605 42h1v1h-1zM645 42h2v1h-2zM342 43h1v1h-1zM347 43h1v1h-1zM372 43h1v1h-1zM375 43h1v1h-1zM376 43h1v1h-1zM381 43h2v1h-2zM407 43h2v1h-2zM416 43h1v1h-1zM420 43h1v1h-1zM428 43h1v1h-1zM446 43h2v1h-2zM464 43h1v1h-1zM468 43h1v1h-1zM469 43h1v1h-1zM537 43h1v1h-1zM578 43h2v1h-2zM587 43h1v1h-1zM610 43h1v1h-1zM328 44h1v1h-1zM333 44h1v1h-1zM339 44h1v1h-1zM373 44h2v1h-2zM374 44h1v1h-1zM375 44h1v1h-1zM381 44h1v1h-1zM388 44h1v1h-1zM389 44h1v1h-1zM397 44h1v1h-1zM401 44h1v1h-1zM407 44h1v1h-1zM428 44h1v1h-1zM445 44h1v1h-1zM471 44h1v1h-1zM475 44h1v1h-1zM478 44h1v1h-1zM483 44h2v1h-2zM506 44h1v1h-1zM537 44h1v1h-1zM541 44h1v1h-1zM564 44h1v1h-1zM571 44h2v1h-2zM587 44h1v1h-1zM588 44h1v1h-1zM605 44h1v1h-1zM616 44h1v1h-1zM626 44h1v1h-1zM631 44h1v1h-1zM369 45h1v1h-1zM381 45h1v1h-1zM398 45h1v1h-1zM426 45h1v1h-1zM498 45h1v1h-1zM558 45h1v1h-1zM579 45h1v1h-1zM597 45h2v1h-2zM622 45h1v1h-1zM642 45h2v1h-2zM361 46h1v1h-1zM371 46h2v1h-2zM373 46h1v1h-1zM374 46h1v1h-1zM385 46h2v1h-2zM392 46h1v1h-1zM408 46h1v1h-1zM410 46h1v1h-1zM414 46h1v1h-1zM416 46h2v1h-2zM422 46h1v1h-1zM433 46h1v1h-1zM446 46h1v1h-1zM504 46h2v1h-2zM506 46h2v1h-2zM525 46h1v1h-1zM528 46h1v1h-1zM540 46h2v1h-2zM583 46h2v1h-2zM597 46h1v1h-1zM620 46h2v1h-2zM633 46h1v1h-1zM634 46h1v1h-1zM324 47h2v1h-2zM328 47h1v1h-1zM337 47h1v1h-1zM342 47h1v1h-1zM344 47h2v1h-2zM350 47h1v1h-1zM351 47h1v1h-1zM352 47h1v1h-1zM353 47h2v1h-2zM366 47h1v1h-1zM367 47h1v1h-1zM373 47h1v1h-1zM378 47h1v1h-1zM380 47h1v1h-1zM381 47h2v1h-2zM388 47h1v1h-1zM397 47h1v1h-1zM408 47h1v1h-1zM418 47h1v1h-1zM419 47h1v1h-1zM420 47h1v1h-1zM435 47h2v1h-2zM438 47h1v1h-1zM443 47h1v1h-1zM453 47h2v1h-2zM465 47h1v1h-1zM466 47h1v1h-1zM467 47h1v1h-1zM473 47h2v1h-2zM477 47h1v1h-1zM498 47h1v1h-1zM506 47h2v1h-2zM546 47h1v1h-1zM584 47h1v1h-1zM595 47h2v1h-2zM597 47h1v1h-1zM598 47h1v1h-1zM622 47h2v1h-2zM644 47h1v1h-1zM333 48h2v1h-2zM381 48h2v1h-2zM389 48h1v1h-1zM393 48h1v1h-1zM418 48h2v1h-2zM446 48h1v1h-1zM501 48h2v1h-2zM538 48h1v1h-1zM597 48h1v1h-1zM623 48h1v1h-1zM630 48h1v1h-1zM632 48h1v1h-1zM639 48h1v1h-1zM641 48h1v1h-1zM367 49h2v1h-2zM387 49h1v1h-1zM393 49h2v1h-2zM398 49h1v1h-1zM432 49h1v1h-1zM433 49h1v1h-1zM534 49h1v1h-1zM547 49h1v1h-1zM595 49h1v1h-1zM386 50h2v1h-2zM397 50h1v1h-1zM427 50h2v1h-2zM431 50h1v1h-1zM439 50h1v1h-1zM544 50h2v1h-2zM557 50h1v1h-1zM583 50h1v1h-1zM630 50h1v1h-1zM633 50h1v1h-1zM422 51h2v1h-2zM504 51h1v1h-1zM512 51h1v1h-1zM541 51h1v1h-1zM341 52h1v1h-1zM361 52h2v1h-2zM364 52h1v1h-1zM401 52h1v1h-1zM417 52h2v1h-2zM436 52h1v1h-1zM515 52h1v1h-1zM525 52h1v1h-1zM544 52h1v1h-1zM545 52h2v1h-2zM551 52h1v1h-1zM564 52h1v1h-1zM609 52h1v1h-1zM612 52h1v1h-1zM626 52h1v1h-1zM632 52h1v1h-1zM330 53h1v1h-1zM338 53h1v1h-1zM360 53h1v1h-1zM427 53h1v1h-1zM439 53h1v1h-1zM457 53h1v1h-1zM469 53h1v1h-1zM549 53h1v1h-1zM329 54h1v1h-1zM340 54h1v1h-1zM388 54h1v1h-1zM446 54h1v1h-1zM516 54h1v1h-1zM541 54h1v1h-1zM550 54h2v1h-2zM322 55h2v1h-2zM323 55h1v1h-1zM325 55h1v1h-1zM327 55h1v1h-1zM329 55h2v1h-2zM330 55h1v1h-1zM333 55h1v1h-1zM338 55h1v1h-1zM349 55h1v1h-1zM362 55h1v1h-1zM365 55h1v1h-1zM369 55h1v1h-1zM384 55h1v1h-1zM385 55h1v1h-1zM386 55h2v1h-2zM389 55h1v1h-1zM396 55h2v1h-2zM397 55h1v1h-1zM400 55h1v1h-1zM403 55h1v1h-1zM421 55h1v1h-1zM436 55h1v1h-1zM446 55h1v1h-1zM451 55h1v1h-1zM463 55h1v1h-1zM466 55h1v1h-1zM473 55h1v1h-1zM479 55h1v1h-1zM491 55h1v1h-1zM495 55h2v1h-2zM504 55h1v1h-1zM510 55h2v1h-2zM530 55h1v1h-1zM534 55h1v1h-1zM539 55h1v1h-1zM545 55h2v1h-2zM555 55h1v1h-1zM560 55h1v1h-1zM570 55h2v1h-2zM572 55h1v1h-1zM598 55h1v1h-1zM600 55h1v1h-1zM601 55h1v1h-1zM607 55h2v1h-2zM628 55h1v1h-1zM648 55h1v1h-1zM336 56h1v1h-1zM341 56h1v1h-1zM361 56h1v1h-1zM419 56h1v1h-1zM431 56h1v1h-1zM438 56h1v1h-1zM508 56h1v1h-1zM634 56h2v1h-2zM338 57h1v1h-1zM362 57h1v1h-1zM324 58h2v1h-2zM325 58h2v1h-2zM327 58h1v1h-1zM329 58h1v1h-1zM330 58h1v1h-1zM331 58h1v1h-1zM336 58h1v1h-1zM337 58h2v1h-2zM340 58h1v1h-1zM341 58h1v1h-1zM346 58h1v1h-1zM347 58h1v1h-1zM349 58h1v1h-1zM350 58h2v1h-2zM353 58h1v1h-1zM360 58h2v1h-2zM362 58h1v1h-1zM363 58h2v1h-2zM364 58h1v1h-1zM367 58h1v1h-1zM369 58h2v1h-2zM371 58h1v1h-1zM372 58h1v1h-1zM373 58h1v1h-1zM374 58h1v1h-1zM375 58h1v1h-1zM377 58h1v1h-1zM378 58h1v1h-1zM382 58h1v1h-1zM383 58h1v1h-1zM385 58h1v1h-1zM386 58h1v1h-1zM390 58h1v1h-1zM391 58h1v1h-1zM393 58h2v1h-2zM396 58h1v1h-1zM397 58h1v1h-1zM398 58h2v1h-2zM399 58h2v1h-2zM400 58h1v1h-1zM401 58h1v1h-1zM403 58h2v1h-2zM407 58h2v1h-2zM413 58h1v1h-1zM416 58h1v1h-1zM417 58h2v1h-2zM418 58h1v1h-1zM419 58h1v1h-1zM420 58h1v1h-1zM421 58h1v1h-1zM422 58h1v1h-1zM424 58h1v1h-1zM427 58h1v1h-1zM428 58h2v1h-2zM429 58h1v1h-1zM430 58h1v1h-1zM431 58h1v1h-1zM432 58h1v1h-1zM435 58h1v1h-1zM436 58h1v1h-1zM443 58h1v1h-1zM444 58h2v1h-2zM445 58h1v1h-1zM447 58h2v1h-2zM448 58h2v1h-2zM450 58h1v1h-1zM453 58h1v1h-1zM454 58h1v1h-1zM458 58h2v1h-2zM462 58h1v1h-1zM463 58h1v1h-1zM464 58h1v1h-1zM467 58h2v1h-2zM469 58h1v1h-1zM473 58h1v1h-1zM474 58h1v1h-1zM477 58h1v1h-1zM478 58h1v1h-1zM479 58h1v1h-1zM480 58h1v1h-1zM482 58h1v1h-1zM483 58h1v1h-1zM489 58h1v1h-1zM491 58h2v1h-2zM497 58h1v1h-1zM498 58h2v1h-2zM499 58h1v1h-1zM500 58h1v1h-1zM501 58h1v1h-1zM502 58h1v1h-1zM503 58h1v1h-1zM505 58h1v1h-1zM506 58h1v1h-1zM510 58h2v1h-2zM513 58h1v1h-1zM515 58h2v1h-2zM516 58h1v1h-1zM518 58h1v1h-1zM521 58h1v1h-1zM524 58h1v1h-1zM526 58h1v1h-1zM527 58h1v1h-1zM528 58h1v1h-1zM530 58h1v1h-1zM531 58h1v1h-1zM532 58h1v1h-1zM533 58h2v1h-2zM534 58h1v1h-1zM535 58h1v1h-1zM537 58h1v1h-1zM539 58h1v1h-1zM540 58h1v1h-1zM541 58h1v1h-1zM543 58h1v1h-1zM544 58h1v1h-1zM545 58h1v1h-1zM546 58h1v1h-1zM549 58h1v1h-1zM550 58h1v1h-1zM551 58h2v1h-2zM553 58h1v1h-1zM563 58h1v1h-1zM567 58h2v1h-2zM568 58h1v1h-1zM571 58h2v1h-2zM572 58h1v1h-1zM573 58h1v1h-1zM577 58h1v1h-1zM581 58h1v1h-1zM582 58h1v1h-1zM585 58h1v1h-1zM586 58h1v1h-1zM587 58h1v1h-1zM588 58h1v1h-1zM593 58h1v1h-1zM594 58h1v1h-1zM595 58h1v1h-1zM597 58h1v1h-1zM602 58h1v1h-1zM606 58h1v1h-1zM608 58h1v1h-1zM609 58h1v1h-1zM610 58h2v1h-2zM614 58h1v1h-1zM618 58h1v1h-1zM620 58h1v1h-1zM621 58h2v1h-2zM623 58h1v1h-1zM626 58h2v1h-2zM627 58h1v1h-1zM632 58h1v1h-1zM637 58h1v1h-1zM640 58h1v1h-1zM641 58h1v1h-1zM643 58h1v1h-1zM644 58h1v1h-1zM364 59h2v1h-2zM373 59h1v1h-1zM376 59h1v1h-1zM380 59h1v1h-1zM387 59h1v1h-1zM393 59h2v1h-2zM472 59h1v1h-1zM518 59h1v1h-1zM539 59h1v1h-1zM610 59h2v1h-2zM344 60h1v1h-1zM363 60h1v1h-1zM399 60h2v1h-2zM401 60h1v1h-1zM402 60h1v1h-1zM416 60h2v1h-2zM441 60h1v1h-1zM446 60h1v1h-1zM463 60h2v1h-2zM464 60h2v1h-2zM467 60h1v1h-1zM472 60h1v1h-1zM485 60h2v1h-2zM513 60h1v1h-1zM515 60h2v1h-2zM519 60h1v1h-1zM573 60h1v1h-1zM591 60h1v1h-1zM596 60h2v1h-2zM621 60h1v1h-1zM663 60h1v1h-1zM337 61h1v1h-1zM341 61h1v1h-1zM347 61h1v1h-1zM348 61h1v1h-1zM353 61h1v1h-1zM376 61h1v1h-1zM380 61h1v1h-1zM388 61h1v1h-1zM393 61h1v1h-1zM401 61h2v1h-2zM402 61h1v1h-1zM405 61h1v1h-1zM407 61h1v1h-1zM408 61h1v1h-1zM413 61h1v1h-1zM423 61h1v1h-1zM424 61h1v1h-1zM430 61h1v1h-1zM435 61h1v1h-1zM438 61h1v1h-1zM439 61h1v1h-1zM444 61h1v1h-1zM446 61h2v1h-2zM448 61h1v1h-1zM472 61h1v1h-1zM483 61h2v1h-2zM513 61h1v1h-1zM517 61h1v1h-1zM531 61h1v1h-1zM577 61h1v1h-1zM586 61h1v1h-1zM596 61h1v1h-1zM601 61h1v1h-1zM602 61h1v1h-1zM630 61h1v1h-1zM632 61h1v1h-1zM326 62h1v1h-1zM335 62h2v1h-2zM339 62h1v1h-1zM342 62h1v1h-1zM350 62h2v1h-2zM376 62h1v1h-1zM378 62h2v1h-2zM385 62h1v1h-1zM387 62h1v1h-1zM397 62h1v1h-1zM422 62h1v1h-1zM439 62h1v1h-1zM448 62h1v1h-1zM456 62h1v1h-1zM488 62h1v1h-1zM515 62h2v1h-2zM519 62h1v1h-1zM532 62h2v1h-2zM542 62h2v1h-2zM552 62h1v1h-1zM560 62h1v1h-1zM563 62h1v1h-1zM570 62h1v1h-1zM573 62h1v1h-1zM584 62h1v1h-1zM589 62h1v1h-1zM596 62h2v1h-2zM600 62h1v1h-1zM607 62h1v1h-1zM608 62h1v1h-1zM609 62h1v1h-1zM616 62h1v1h-1zM617 62h1v1h-1zM624 62h1v1h-1zM629 62h1v1h-1zM644 62h1v1h-1zM366 63h1v1h-1zM437 63h1v1h-1zM481 63h1v1h-1zM321 64h1v1h-1zM322 64h1v1h-1zM329 64h1v1h-1zM336 64h2v1h-2zM346 64h1v1h-1zM347 64h2v1h-2zM350 64h1v1h-1zM358 64h1v1h-1zM368 64h1v1h-1zM369 64h1v1h-1zM370 64h2v1h-2zM379 64h1v1h-1zM384 64h1v1h-1zM387 64h2v1h-2zM390 64h1v1h-1zM393 64h1v1h-1zM401 64h1v1h-1zM406 64h1v1h-1zM418 64h1v1h-1zM421 64h1v1h-1zM423 64h2v1h-2zM424 64h1v1h-1zM425 64h2v1h-2zM427 64h1v1h-1zM429 64h1v1h-1zM439 64h1v1h-1zM440 64h1v1h-1zM444 64h1v1h-1zM458 64h1v1h-1zM466 64h1v1h-1zM471 64h1v1h-1zM477 64h1v1h-1zM483 64h2v1h-2zM485 64h2v1h-2zM488 64h1v1h-1zM512 64h2v1h-2zM515 64h1v1h-1zM519 64h1v1h-1zM524 64h1v1h-1zM537 64h1v1h-1zM542 64h1v1h-1zM547 64h2v1h-2zM566 64h1v1h-1zM567 64h1v1h-1zM570 64h1v1h-1zM573 64h1v1h-1zM584 64h1v1h-1zM586 64h1v1h-1zM589 64h2v1h-2zM612 64h1v1h-1zM615 64h2v1h-2zM617 64h1v1h-1zM622 64h1v1h-1zM626 64h1v1h-1zM633 64h1v1h-1zM636 64h1v1h-1zM637 64h1v1h-1zM340 65h1v1h-1zM346 65h1v1h-1zM368 65h1v1h-1zM400 65h1v1h-1zM418 65h1v1h-1zM423 65h1v1h-1zM435 65h2v1h-2zM439 65h1v1h-1zM448 65h1v1h-1zM453 65h1v1h-1zM585 65h1v1h-1zM604 65h2v1h-2zM608 65h2v1h-2zM623 65h1v1h-1zM626 65h2v1h-2zM330 66h1v1h-1zM336 66h2v1h-2zM350 66h2v1h-2zM351 66h2v1h-2zM353 66h2v1h-2zM366 66h1v1h-1zM369 66h1v1h-1zM370 66h1v1h-1zM373 66h1v1h-1zM383 66h1v1h-1zM386 66h1v1h-1zM391 66h1v1h-1zM393 66h1v1h-1zM394 66h1v1h-1zM420 66h1v1h-1zM427 66h1v1h-1zM432 66h1v1h-1zM444 66h2v1h-2zM495 66h1v1h-1zM497 66h1v1h-1zM503 66h1v1h-1zM524 66h1v1h-1zM532 66h2v1h-2zM541 66h1v1h-1zM569 66h1v1h-1zM585 66h1v1h-1zM587 66h1v1h-1zM589 66h1v1h-1zM599 66h1v1h-1zM601 66h1v1h-1zM604 66h1v1h-1zM608 66h1v1h-1zM614 66h1v1h-1zM617 66h2v1h-2zM620 66h1v1h-1zM625 66h2v1h-2zM636 66h1v1h-1zM639 66h1v1h-1zM648 66h1v1h-1zM326 67h1v1h-1zM328 67h1v1h-1zM361 67h1v1h-1zM363 67h2v1h-2zM372 67h2v1h-2zM419 67h1v1h-1zM425 67h1v1h-1zM437 67h1v1h-1zM513 67h1v1h-1zM534 67h1v1h-1zM585 67h1v1h-1zM586 67h1v1h-1zM618 67h2v1h-2zM366 68h1v1h-1zM528 68h1v1h-1zM587 68h2v1h-2zM608 68h1v1h-1zM331 69h1v1h-1zM339 69h1v1h-1zM341 69h1v1h-1zM370 69h1v1h-1zM385 69h1v1h-1zM398 69h1v1h-1zM412 69h1v1h-1zM424 69h1v1h-1zM441 69h1v1h-1zM444 69h1v1h-1zM447 69h1v1h-1zM451 69h1v1h-1zM487 69h1v1h-1zM491 69h1v1h-1zM499 69h1v1h-1zM538 69h1v1h-1zM539 69h2v1h-2zM588 69h2v1h-2zM605 69h2v1h-2zM614 69h2v1h-2zM620 69h2v1h-2zM326 70h2v1h-2zM335 70h1v1h-1zM363 70h1v1h-1zM372 70h1v1h-1zM413 70h1v1h-1zM415 70h1v1h-1zM425 70h2v1h-2zM444 70h1v1h-1zM523 70h1v1h-1zM548 70h1v1h-1zM560 70h1v1h-1zM599 70h1v1h-1zM602 70h1v1h-1zM617 70h1v1h-1zM621 70h1v1h-1zM622 70h2v1h-2zM335 71h1v1h-1zM364 71h1v1h-1zM365 71h1v1h-1zM381 71h1v1h-1zM410 71h1v1h-1zM411 71h1v1h-1zM417 71h1v1h-1zM462 71h1v1h-1zM464 71h2v1h-2zM494 71h1v1h-1zM504 71h2v1h-2zM505 71h1v1h-1zM552 71h1v1h-1zM573 71h1v1h-1zM590 71h1v1h-1zM605 71h1v1h-1zM608 71h2v1h-2zM611 71h2v1h-2zM612 71h1v1h-1zM623 71h1v1h-1zM330 72h1v1h-1zM336 72h2v1h-2zM343 72h1v1h-1zM344 72h1v1h-1zM353 72h1v1h-1zM380 72h1v1h-1zM385 72h1v1h-1zM391 72h1v1h-1zM396 72h1v1h-1zM397 72h1v1h-1zM407 72h1v1h-1zM418 72h2v1h-2zM434 72h1v1h-1zM448 72h1v1h-1zM457 72h1v1h-1zM464 72h1v1h-1zM478 72h1v1h-1zM491 72h1v1h-1zM504 72h1v1h-1zM513 72h1v1h-1zM516 72h1v1h-1zM517 72h2v1h-2zM524 72h1v1h-1zM553 72h1v1h-1zM555 72h1v1h-1zM556 72h1v1h-1zM566 72h1v1h-1zM579 72h1v1h-1zM581 72h1v1h-1zM583 72h1v1h-1zM589 72h1v1h-1zM590 72h2v1h-2zM602 72h1v1h-1zM615 72h1v1h-1zM622 72h1v1h-1zM628 72h1v1h-1zM636 72h1v1h-1zM642 72h1v1h-1zM341 73h1v1h-1zM344 73h2v1h-2zM360 73h2v1h-2zM362 73h1v1h-1zM370 73h2v1h-2zM380 73h1v1h-1zM386 73h1v1h-1zM404 73h1v1h-1zM410 73h2v1h-2zM413 73h1v1h-1zM423 73h1v1h-1zM431 73h2v1h-2zM435 73h1v1h-1zM439 73h1v1h-1zM446 73h1v1h-1zM447 73h2v1h-2zM450 73h1v1h-1zM462 73h1v1h-1zM474 73h1v1h-1zM479 73h1v1h-1zM482 73h1v1h-1zM498 73h1v1h-1zM516 73h1v1h-1zM531 73h1v1h-1zM595 73h1v1h-1zM616 73h1v1h-1zM617 73h1v1h-1zM633 73h2v1h-2zM645 73h2v1h-2zM331 74h2v1h-2zM335 74h1v1h-1zM342 74h1v1h-1zM345 74h1v1h-1zM348 74h1v1h-1zM349 74h2v1h-2zM354 74h1v1h-1zM360 74h1v1h-1zM363 74h1v1h-1zM370 74h1v1h-1zM371 74h1v1h-1zM380 74h1v1h-1zM382 74h1v1h-1zM383 74h1v1h-1zM387 74h1v1h-1zM391 74h1v1h-1zM394 74h1v1h-1zM404 74h2v1h-2zM406 74h1v1h-1zM407 74h1v1h-1zM408 74h2v1h-2zM411 74h2v1h-2zM417 74h1v1h-1zM418 74h2v1h-2zM473 74h1v1h-1zM477 74h1v1h-1zM482 74h2v1h-2zM497 74h1v1h-1zM502 74h2v1h-2zM517 74h1v1h-1zM530 74h2v1h-2zM554 74h2v1h-2zM576 74h1v1h-1zM580 74h1v1h-1zM590 74h1v1h-1zM602 74h1v1h-1zM605 74h1v1h-1zM606 74h1v1h-1zM613 74h1v1h-1zM618 74h1v1h-1zM621 74h1v1h-1zM623 74h1v1h-1zM328 75h1v1h-1zM333 75h2v1h-2zM334 75h1v1h-1zM335 75h1v1h-1zM340 75h1v1h-1zM341 75h1v1h-1zM365 75h1v1h-1zM383 75h1v1h-1zM395 75h1v1h-1zM406 75h1v1h-1zM419 75h1v1h-1zM426 75h2v1h-2zM433 75h1v1h-1zM438 75h1v1h-1zM449 75h1v1h-1zM456 75h2v1h-2zM457 75h2v1h-2zM468 75h1v1h-1zM481 75h1v1h-1zM489 75h1v1h-1zM493 75h1v1h-1zM494 75h1v1h-1zM497 75h1v1h-1zM509 75h1v1h-1zM517 75h1v1h-1zM532 75h1v1h-1zM534 75h2v1h-2zM545 75h1v1h-1zM555 75h2v1h-2zM573 75h1v1h-1zM575 75h1v1h-1zM585 75h1v1h-1zM591 75h1v1h-1zM593 75h2v1h-2zM606 75h1v1h-1zM622 75h1v1h-1zM641 75h1v1h-1zM642 75h1v1h-1zM322 76h1v1h-1zM324 76h1v1h-1zM329 76h1v1h-1zM336 76h2v1h-2zM337 76h1v1h-1zM342 76h1v1h-1zM345 76h1v1h-1zM350 76h1v1h-1zM355 76h2v1h-2zM357 76h1v1h-1zM362 76h1v1h-1zM363 76h1v1h-1zM365 76h1v1h-1zM366 76h2v1h-2zM368 76h1v1h-1zM369 76h1v1h-1zM371 76h1v1h-1zM372 76h1v1h-1zM375 76h2v1h-2zM377 76h1v1h-1zM382 76h1v1h-1zM387 76h1v1h-1zM389 76h1v1h-1zM396 76h1v1h-1zM397 76h1v1h-1zM405 76h2v1h-2zM406 76h1v1h-1zM407 76h1v1h-1zM408 76h1v1h-1zM412 76h1v1h-1zM418 76h1v1h-1zM419 76h1v1h-1zM420 76h1v1h-1zM421 76h1v1h-1zM427 76h1v1h-1zM428 76h2v1h-2zM438 76h1v1h-1zM448 76h2v1h-2zM449 76h1v1h-1zM450 76h2v1h-2zM453 76h1v1h-1zM460 76h1v1h-1zM464 76h1v1h-1zM467 76h2v1h-2zM472 76h2v1h-2zM473 76h1v1h-1zM476 76h1v1h-1zM485 76h1v1h-1zM508 76h2v1h-2zM510 76h2v1h-2zM512 76h2v1h-2zM517 76h1v1h-1zM529 76h1v1h-1zM532 76h1v1h-1zM534 76h1v1h-1zM542 76h2v1h-2zM544 76h2v1h-2zM545 76h2v1h-2zM547 76h1v1h-1zM553 76h1v1h-1zM557 76h1v1h-1zM559 76h1v1h-1zM565 76h1v1h-1zM566 76h1v1h-1zM567 76h2v1h-2zM568 76h1v1h-1zM574 76h1v1h-1zM575 76h1v1h-1zM577 76h1v1h-1zM581 76h1v1h-1zM585 76h1v1h-1zM587 76h1v1h-1zM590 76h1v1h-1zM592 76h1v1h-1zM596 76h1v1h-1zM607 76h1v1h-1zM609 76h1v1h-1zM615 76h1v1h-1zM616 76h1v1h-1zM617 76h1v1h-1zM624 76h1v1h-1zM626 76h1v1h-1zM630 76h1v1h-1zM631 76h1v1h-1zM636 76h1v1h-1zM638 76h1v1h-1zM642 76h2v1h-2zM645 76h1v1h-1zM662 76h1v1h-1zM333 77h1v1h-1zM343 77h1v1h-1zM357 77h1v1h-1zM369 77h1v1h-1zM371 77h1v1h-1zM409 77h1v1h-1zM414 77h1v1h-1zM442 77h1v1h-1zM452 77h2v1h-2zM469 77h1v1h-1zM501 77h1v1h-1zM514 77h1v1h-1zM581 77h1v1h-1zM589 77h1v1h-1zM592 77h1v1h-1zM594 77h2v1h-2zM615 77h2v1h-2zM617 77h1v1h-1zM619 77h2v1h-2zM310 78h1v1h-1zM330 78h1v1h-1zM331 78h1v1h-1zM334 78h1v1h-1zM341 78h1v1h-1zM343 78h1v1h-1zM353 78h1v1h-1zM370 78h2v1h-2zM374 78h2v1h-2zM377 78h1v1h-1zM379 78h1v1h-1zM380 78h1v1h-1zM385 78h1v1h-1zM386 78h1v1h-1zM389 78h1v1h-1zM391 78h2v1h-2zM392 78h1v1h-1zM396 78h2v1h-2zM398 78h1v1h-1zM404 78h1v1h-1zM405 78h2v1h-2zM407 78h2v1h-2zM408 78h1v1h-1zM409 78h1v1h-1zM415 78h1v1h-1zM419 78h1v1h-1zM424 78h1v1h-1zM436 78h1v1h-1zM442 78h1v1h-1zM443 78h1v1h-1zM447 78h1v1h-1zM448 78h1v1h-1zM459 78h2v1h-2zM462 78h2v1h-2zM466 78h1v1h-1zM470 78h1v1h-1zM497 78h1v1h-1zM501 78h1v1h-1zM506 78h1v1h-1zM514 78h1v1h-1zM515 78h2v1h-2zM524 78h2v1h-2zM544 78h2v1h-2zM547 78h1v1h-1zM554 78h1v1h-1zM557 78h2v1h-2zM562 78h1v1h-1zM569 78h1v1h-1zM571 78h1v1h-1zM579 78h1v1h-1zM581 78h1v1h-1zM582 78h2v1h-2zM584 78h1v1h-1zM593 78h1v1h-1zM616 78h1v1h-1zM620 78h1v1h-1zM621 78h1v1h-1zM623 78h2v1h-2zM624 78h1v1h-1zM625 78h2v1h-2zM627 78h1v1h-1zM630 78h1v1h-1zM633 78h1v1h-1zM638 78h1v1h-1zM640 78h2v1h-2zM645 78h1v1h-1zM323 79h1v1h-1zM330 79h1v1h-1zM340 79h2v1h-2zM344 79h1v1h-1zM348 79h1v1h-1zM363 79h1v1h-1zM364 79h1v1h-1zM370 79h1v1h-1zM371 79h1v1h-1zM374 79h1v1h-1zM391 79h2v1h-2zM404 79h1v1h-1zM405 79h1v1h-1zM406 79h1v1h-1zM408 79h1v1h-1zM413 79h1v1h-1zM417 79h1v1h-1zM420 79h1v1h-1zM424 79h1v1h-1zM429 79h2v1h-2zM433 79h2v1h-2zM437 79h2v1h-2zM440 79h1v1h-1zM458 79h1v1h-1zM461 79h1v1h-1zM466 79h1v1h-1zM475 79h1v1h-1zM480 79h1v1h-1zM481 79h1v1h-1zM482 79h1v1h-1zM485 79h1v1h-1zM490 79h1v1h-1zM492 79h1v1h-1zM494 79h1v1h-1zM495 79h1v1h-1zM498 79h2v1h-2zM506 79h2v1h-2zM510 79h1v1h-1zM512 79h1v1h-1zM516 79h1v1h-1zM523 79h1v1h-1zM529 79h1v1h-1zM537 79h1v1h-1zM539 79h1v1h-1zM541 79h1v1h-1zM550 79h2v1h-2zM564 79h1v1h-1zM565 79h1v1h-1zM566 79h1v1h-1zM573 79h1v1h-1zM574 79h1v1h-1zM578 79h2v1h-2zM582 79h2v1h-2zM587 79h1v1h-1zM603 79h2v1h-2zM606 79h1v1h-1zM613 79h1v1h-1zM614 79h1v1h-1zM619 79h1v1h-1zM623 79h1v1h-1zM625 79h1v1h-1zM643 79h1v1h-1zM646 79h2v1h-2zM321 80h1v1h-1zM322 80h1v1h-1zM323 80h1v1h-1zM329 80h1v1h-1zM332 80h1v1h-1zM340 80h1v1h-1zM342 80h1v1h-1zM353 80h2v1h-2zM355 80h1v1h-1zM375 80h1v1h-1zM378 80h1v1h-1zM383 80h1v1h-1zM389 80h1v1h-1zM393 80h1v1h-1zM403 80h1v1h-1zM412 80h1v1h-1zM420 80h1v1h-1zM423 80h1v1h-1zM424 80h1v1h-1zM432 80h1v1h-1zM453 80h2v1h-2zM456 80h1v1h-1zM457 80h1v1h-1zM458 80h1v1h-1zM474 80h1v1h-1zM488 80h1v1h-1zM491 80h1v1h-1zM506 80h1v1h-1zM509 80h1v1h-1zM513 80h2v1h-2zM521 80h2v1h-2zM525 80h1v1h-1zM532 80h2v1h-2zM535 80h1v1h-1zM551 80h1v1h-1zM556 80h1v1h-1zM565 80h1v1h-1zM566 80h1v1h-1zM573 80h1v1h-1zM579 80h2v1h-2zM586 80h1v1h-1zM618 80h1v1h-1zM622 80h1v1h-1zM626 80h1v1h-1zM630 80h1v1h-1zM631 80h1v1h-1zM640 80h1v1h-1zM323 81h1v1h-1zM336 81h1v1h-1zM346 81h1v1h-1zM347 81h1v1h-1zM362 81h1v1h-1zM365 81h1v1h-1zM382 81h1v1h-1zM385 81h1v1h-1zM395 81h1v1h-1zM397 81h1v1h-1zM399 81h2v1h-2zM400 81h1v1h-1zM420 81h1v1h-1zM426 81h1v1h-1zM439 81h1v1h-1zM447 81h2v1h-2zM461 81h1v1h-1zM465 81h1v1h-1zM476 81h1v1h-1zM482 81h1v1h-1zM513 81h1v1h-1zM541 81h1v1h-1zM553 81h1v1h-1zM570 81h1v1h-1zM587 81h1v1h-1zM599 81h1v1h-1zM606 81h1v1h-1zM614 81h2v1h-2zM616 81h1v1h-1zM622 81h1v1h-1zM625 81h1v1h-1zM629 81h2v1h-2zM632 81h1v1h-1zM323 82h1v1h-1zM333 82h1v1h-1zM348 82h1v1h-1zM360 82h2v1h-2zM366 82h1v1h-1zM370 82h1v1h-1zM371 82h1v1h-1zM395 82h1v1h-1zM397 82h2v1h-2zM403 82h1v1h-1zM405 82h1v1h-1zM413 82h1v1h-1zM415 82h1v1h-1zM418 82h1v1h-1zM421 82h2v1h-2zM438 82h1v1h-1zM439 82h2v1h-2zM450 82h1v1h-1zM454 82h1v1h-1zM461 82h1v1h-1zM472 82h2v1h-2zM494 82h1v1h-1zM495 82h1v1h-1zM503 82h2v1h-2zM511 82h1v1h-1zM513 82h1v1h-1zM514 82h2v1h-2zM522 82h1v1h-1zM530 82h1v1h-1zM547 82h1v1h-1zM548 82h1v1h-1zM553 82h1v1h-1zM556 82h1v1h-1zM560 82h1v1h-1zM578 82h1v1h-1zM584 82h1v1h-1zM586 82h1v1h-1zM601 82h1v1h-1zM607 82h1v1h-1zM612 82h1v1h-1zM616 82h1v1h-1zM622 82h1v1h-1zM628 82h1v1h-1zM637 82h1v1h-1zM644 82h1v1h-1zM323 83h1v1h-1zM340 83h1v1h-1zM358 83h1v1h-1zM366 83h1v1h-1zM424 83h1v1h-1zM493 83h2v1h-2zM506 83h1v1h-1zM616 83h1v1h-1zM629 83h2v1h-2zM310 84h1v1h-1zM323 84h1v1h-1zM332 84h1v1h-1zM346 84h1v1h-1zM357 84h1v1h-1zM362 84h1v1h-1zM388 84h2v1h-2zM395 84h1v1h-1zM404 84h1v1h-1zM406 84h2v1h-2zM418 84h1v1h-1zM419 84h1v1h-1zM426 84h1v1h-1zM429 84h2v1h-2zM436 84h1v1h-1zM443 84h1v1h-1zM447 84h1v1h-1zM458 84h1v1h-1zM459 84h1v1h-1zM472 84h2v1h-2zM473 84h1v1h-1zM488 84h1v1h-1zM500 84h1v1h-1zM502 84h1v1h-1zM504 84h2v1h-2zM506 84h1v1h-1zM516 84h2v1h-2zM517 84h1v1h-1zM529 84h2v1h-2zM542 84h2v1h-2zM546 84h1v1h-1zM558 84h1v1h-1zM571 84h1v1h-1zM575 84h1v1h-1zM582 84h1v1h-1zM587 84h1v1h-1zM601 84h1v1h-1zM612 84h1v1h-1zM617 84h1v1h-1zM621 84h1v1h-1zM624 84h2v1h-2zM630 84h1v1h-1zM324 85h1v1h-1zM327 85h1v1h-1zM329 85h2v1h-2zM330 85h1v1h-1zM331 85h1v1h-1zM344 85h1v1h-1zM346 85h1v1h-1zM348 85h1v1h-1zM349 85h1v1h-1zM351 85h1v1h-1zM363 85h1v1h-1zM368 85h1v1h-1zM371 85h1v1h-1zM375 85h2v1h-2zM379 85h1v1h-1zM382 85h1v1h-1zM393 85h1v1h-1zM403 85h2v1h-2zM416 85h2v1h-2zM417 85h1v1h-1zM429 85h1v1h-1zM436 85h1v1h-1zM440 85h1v1h-1zM448 85h1v1h-1zM450 85h1v1h-1zM451 85h1v1h-1zM464 85h2v1h-2zM473 85h1v1h-1zM475 85h1v1h-1zM499 85h1v1h-1zM506 85h1v1h-1zM508 85h2v1h-2zM511 85h1v1h-1zM514 85h1v1h-1zM523 85h1v1h-1zM532 85h1v1h-1zM533 85h1v1h-1zM534 85h2v1h-2zM546 85h2v1h-2zM549 85h1v1h-1zM554 85h1v1h-1zM558 85h2v1h-2zM568 85h1v1h-1zM574 85h1v1h-1zM585 85h1v1h-1zM596 85h1v1h-1zM598 85h1v1h-1zM606 85h2v1h-2zM612 85h1v1h-1zM615 85h1v1h-1zM619 85h1v1h-1zM626 85h1v1h-1zM631 85h2v1h-2zM634 85h1v1h-1zM635 85h1v1h-1zM421 86h1v1h-1zM338 87h1v1h-1zM341 87h1v1h-1zM362 87h2v1h-2zM364 87h1v1h-1zM382 87h1v1h-1zM456 87h1v1h-1zM504 87h1v1h-1zM545 87h2v1h-2zM559 87h2v1h-2zM588 87h1v1h-1zM598 87h2v1h-2zM612 87h2v1h-2zM386 88h1v1h-1zM394 88h1v1h-1zM407 88h2v1h-2zM421 88h1v1h-1zM585 88h1v1h-1zM592 88h1v1h-1zM352 89h1v1h-1zM365 89h2v1h-2zM379 89h1v1h-1zM417 89h1v1h-1zM507 89h1v1h-1zM324 90h1v1h-1zM363 90h2v1h-2zM447 90h1v1h-1zM513 90h2v1h-2zM552 90h1v1h-1zM599 90h1v1h-1zM617 90h1v1h-1zM326 91h1v1h-1zM363 91h1v1h-1zM365 91h1v1h-1zM411 91h1v1h-1zM432 91h1v1h-1zM440 91h1v1h-1zM333 92h1v1h-1zM336 92h1v1h-1zM342 92h1v1h-1zM350 92h1v1h-1zM353 92h1v1h-1zM368 92h1v1h-1zM424 92h1v1h-1zM449 92h1v1h-1zM510 92h1v1h-1zM530 92h1v1h-1zM596 92h1v1h-1zM601 92h1v1h-1zM628 92h2v1h-2zM633 92h1v1h-1zM655 92h1v1h-1zM391 93h1v1h-1zM461 93h1v1h-1zM509 93h1v1h-1zM557 93h1v1h-1zM588 93h1v1h-1zM591 93h2v1h-2zM607 93h1v1h-1zM615 93h2v1h-2zM321 94h1v1h-1zM328 94h1v1h-1zM347 94h1v1h-1zM360 94h1v1h-1zM361 94h2v1h-2zM365 94h1v1h-1zM367 94h1v1h-1zM369 94h2v1h-2zM372 94h1v1h-1zM376 94h1v1h-1zM377 94h1v1h-1zM406 94h1v1h-1zM422 94h2v1h-2zM430 94h1v1h-1zM447 94h1v1h-1zM466 94h1v1h-1zM467 94h1v1h-1zM474 94h2v1h-2zM475 94h1v1h-1zM485 94h1v1h-1zM487 94h1v1h-1zM492 94h1v1h-1zM506 94h1v1h-1zM510 94h1v1h-1zM516 94h1v1h-1zM521 94h1v1h-1zM534 94h1v1h-1zM557 94h1v1h-1zM578 94h2v1h-2zM594 94h1v1h-1zM598 94h2v1h-2zM600 94h2v1h-2zM619 94h1v1h-1zM627 94h1v1h-1zM356 95h1v1h-1zM361 95h2v1h-2zM386 95h1v1h-1zM393 95h1v1h-1zM430 95h1v1h-1zM432 95h2v1h-2zM439 95h1v1h-1zM492 95h1v1h-1zM507 95h1v1h-1zM568 95h1v1h-1zM640 95h1v1h-1zM324 96h1v1h-1zM326 96h1v1h-1zM359 96h1v1h-1zM362 96h1v1h-1zM363 96h2v1h-2zM364 96h1v1h-1zM378 96h1v1h-1zM383 96h1v1h-1zM387 96h1v1h-1zM389 96h1v1h-1zM397 96h1v1h-1zM409 96h1v1h-1zM415 96h1v1h-1zM417 96h1v1h-1zM426 96h1v1h-1zM428 96h1v1h-1zM430 96h1v1h-1zM436 96h1v1h-1zM438 96h1v1h-1zM445 96h1v1h-1zM446 96h1v1h-1zM460 96h2v1h-2zM464 96h1v1h-1zM466 96h2v1h-2zM471 96h1v1h-1zM474 96h1v1h-1zM475 96h1v1h-1zM478 96h1v1h-1zM489 96h1v1h-1zM500 96h1v1h-1zM505 96h1v1h-1zM507 96h1v1h-1zM510 96h1v1h-1zM515 96h1v1h-1zM517 96h1v1h-1zM536 96h1v1h-1zM537 96h2v1h-2zM552 96h1v1h-1zM558 96h1v1h-1zM562 96h1v1h-1zM565 96h1v1h-1zM567 96h1v1h-1zM572 96h1v1h-1zM585 96h1v1h-1zM588 96h1v1h-1zM597 96h2v1h-2zM599 96h1v1h-1zM602 96h1v1h-1zM606 96h2v1h-2zM613 96h2v1h-2zM620 96h1v1h-1zM625 96h1v1h-1zM631 96h1v1h-1zM641 96h1v1h-1zM342 97h1v1h-1zM398 97h1v1h-1zM401 97h1v1h-1zM444 97h1v1h-1zM612 97h1v1h-1zM622 97h1v1h-1zM323 98h1v1h-1zM336 98h1v1h-1zM339 98h1v1h-1zM342 98h1v1h-1zM351 98h1v1h-1zM368 98h1v1h-1zM372 98h1v1h-1zM378 98h1v1h-1zM389 98h1v1h-1zM404 98h1v1h-1zM405 98h1v1h-1zM412 98h1v1h-1zM419 98h1v1h-1zM420 98h1v1h-1zM459 98h1v1h-1zM469 98h2v1h-2zM482 98h1v1h-1zM490 98h1v1h-1zM508 98h1v1h-1zM511 98h1v1h-1zM529 98h1v1h-1zM532 98h1v1h-1zM570 98h1v1h-1zM583 98h1v1h-1zM587 98h1v1h-1zM594 98h1v1h-1zM602 98h1v1h-1zM540 99h1v1h-1zM337 100h2v1h-2zM349 100h2v1h-2zM357 100h1v1h-1zM376 100h1v1h-1zM379 100h1v1h-1zM380 100h1v1h-1zM390 100h1v1h-1zM415 100h1v1h-1zM421 100h2v1h-2zM423 100h1v1h-1zM436 100h1v1h-1zM439 100h2v1h-2zM445 100h1v1h-1zM545 100h1v1h-1zM560 100h1v1h-1zM575 100h1v1h-1zM590 100h1v1h-1zM609 100h1v1h-1zM330 101h1v1h-1zM345 101h1v1h-1zM354 101h1v1h-1zM448 101h1v1h-1zM505 101h1v1h-1zM526 101h1v1h-1zM551 101h1v1h-1zM557 101h1v1h-1zM584 101h2v1h-2zM594 101h1v1h-1zM606 101h1v1h-1zM627 101h1v1h-1zM472 102h1v1h-1zM502 102h1v1h-1zM351 103h2v1h-2zM360 103h1v1h-1zM372 103h1v1h-1zM378 103h1v1h-1zM413 103h2v1h-2zM513 103h1v1h-1zM555 103h1v1h-1zM558 103h1v1h-1zM564 103h1v1h-1zM565 103h1v1h-1zM573 103h2v1h-2zM605 103h1v1h-1zM643 103h1v1h-1zM331 104h1v1h-1zM332 106h1v1h-1zM485 106h1v1h-1zM355 108h2v1h-2zM477 108h1v1h-1zM490 108h1v1h-1zM582 108h1v1h-1zM591 108h1v1h-1zM471 109h1v1h-1zM576 109h1v1h-1zM589 109h1v1h-1zM626 109h1v1h-1zM369 110h1v1h-1zM429 111h1v1h-1zM340 112h1v1h-1zM354 112h1v1h-1zM381 112h1v1h-1zM472 112h1v1h-1zM491 112h1v1h-1zM507 112h1v1h-1zM538 112h1v1h-1zM554 112h1v1h-1zM573 112h1v1h-1zM575 112h2v1h-2zM577 112h1v1h-1zM596 112h2v1h-2zM617 112h1v1h-1zM623 112h2v1h-2zM634 112h1v1h-1zM392 113h1v1h-1zM471 113h2v1h-2zM506 113h1v1h-1zM612 113h1v1h-1zM624 113h1v1h-1zM560 114h1v1h-1zM567 114h1v1h-1zM363 115h2v1h-2zM389 115h1v1h-1zM431 115h1v1h-1zM591 115h2v1h-2zM382 116h1v1h-1z" fill="#d9e7f4"/>
<rect x="303.5" y="9.5" width="373.8" height="107.7" fill="none" stroke="#555" stroke-width="0.9"/>
<path d="M301.0 114 H303.5" stroke="#4a4a4a" stroke-width="0.85"/>
<text x="300.5" y="116.25" font-size="6.3" text-anchor="end" fill="#222" stroke="#222" stroke-width="0.16">0</text>
<path d="M301.0 94.5 H303.5" stroke="#4a4a4a" stroke-width="0.85"/>
<text x="300.5" y="96.75" font-size="6.3" text-anchor="end" fill="#222" stroke="#222" stroke-width="0.16">200</text>
<path d="M301.0 75 H303.5" stroke="#4a4a4a" stroke-width="0.85"/>
<text x="300.5" y="77.25" font-size="6.3" text-anchor="end" fill="#222" stroke="#222" stroke-width="0.16">400</text>
<path d="M301.0 55.5 H303.5" stroke="#4a4a4a" stroke-width="0.85"/>
<text x="300.5" y="57.75" font-size="6.3" text-anchor="end" fill="#222" stroke="#222" stroke-width="0.16">600</text>
<path d="M301.0 36 H303.5" stroke="#4a4a4a" stroke-width="0.85"/>
<text x="300.5" y="38.25" font-size="6.3" text-anchor="end" fill="#222" stroke="#222" stroke-width="0.16">800</text>
<path d="M301.0 16.5 H303.5" stroke="#4a4a4a" stroke-width="0.85"/>
<text x="300.5" y="18.75" font-size="6.3" text-anchor="end" fill="#222" stroke="#222" stroke-width="0.16">1000</text>
<path d="M324 117.2 V119.7" stroke="#4a4a4a" stroke-width="0.85"/>
<path d="M403.6 117.2 V119.7" stroke="#4a4a4a" stroke-width="0.85"/>
<path d="M483.2 117.2 V119.7" stroke="#4a4a4a" stroke-width="0.85"/>
<path d="M562.8 117.2 V119.7" stroke="#4a4a4a" stroke-width="0.85"/>
<path d="M642.4 117.2 V119.7" stroke="#4a4a4a" stroke-width="0.85"/>
<text transform="translate(283.4 65.2) rotate(-90)" font-size="6.75" text-anchor="middle" fill="#222" stroke="#222" stroke-width="0.16">network neurons [id on chip]</text>
<rect x="322.6" y="131.4" width="320.4" height="26.9" fill="#e8f3ee"/>
<path d="M304.0 158.3H304V158.3H304.9V158.3H306.49V158.3H308.08V158.3H309.67V158.3H311.26V156H312.86V156H314.45V158.3H316.04V158.3H317.63V158.3H319.22V158.3H320.82V157.51H322.41V152.41H324V151.65H325.59V153.24H327.18V153.38H328.78V148.4H330.37V142.44H331.96V143.8H333.55V142.02H335.14V138.53H336.74V139.39H338.33V149.04H339.92V145.99H341.51V139.44H343.1V141.56H344.7V147.5H346.29V149.77H347.88V149.45H349.47V146.51H351.06V146.43H352.66V148.73H354.25V148.61H355.84V148.82H357.43V151.76H359.02V154H360.62V147.9H362.21V140.41H363.8V139.37H365.39V144.65H366.98V150.74H368.58V142.23H370.17V132.84H371.76V136.35H373.35V142.5H374.94V147.23H376.54V149.62H378.13V147.49H379.72V143.52H381.31V141.99H382.9V144.4H384.5V146.27H386.09V142.34H387.68V143.88H389.27V148.01H390.86V147.39H392.46V141.21H394.05V139.23H395.64V145.36H397.23V146.63H398.82V147.64H400.42V150.94H402.01V150.71H403.6V146.79H405.19V142.4H406.78V139.56H408.38V140.76H409.97V143.86H411.56V147.72H413.15V150.29H414.74V150.36H416.34V146.45H417.93V137.55H419.52V139.6H421.11V145H422.7V146.57H424.3V141.97H425.89V139.76H427.48V144.09H429.07V148.2H430.66V145.91H432.26V144.17H433.85V145.29H435.44V145.56H437.03V140.33H438.62V140.14H440.22V146.16H441.81V150.05H443.4V146.42H444.99V141.82H446.58V141.1H448.18V145.41H449.77V149.88H451.36V152.3H452.95V152.69H454.54V152.47H456.14V152.98H457.73V151.92H459.32V149.8H460.91V149.68H462.5V148.02H464.1V144.37H465.69V144.43H467.28V148.29H468.87V148.07H470.46V142.19H472.06V143.43H473.65V145.82H475.24V148.21H476.83V150.6H478.42V152.01H480.02V152.52H481.61V153.76H483.2V151.86H484.79V150.61H486.38V152.54H487.98V155.63H489.57V156.2H491.16V155.34H492.75V153.04H494.34V150.98H495.94V149.98H497.53V147.58H499.12V145.13H500.71V147.39H502.3V153.42H503.9V146.52H505.49V143.63H507.08V143.27H508.67V147.26H510.26V150H511.86V148.7H513.45V146.48H515.04V146.49H516.63V148.08H518.22V150.87H519.82V154.63H521.41V152.53H523V151.23H524.59V151.95H526.18V152.56H527.78V150.39H529.37V146.41H530.96V146.24H532.55V148.23H534.14V151.53H535.74V150.11H537.33V147.57H538.92V148.33H540.51V150.94H542.1V150.02H543.7V147.18H545.29V146.61H546.88V148.51H548.47V149.92H550.06V153.1H551.66V155.63H553.25V155.59H554.84V154.58H556.43V152.55H558.02V152.1H559.62V153.69H561.21V152.36H562.8V149.64H564.39V147.76H565.98V148.85H567.58V150.94H569.17V149.7H570.76V144.43H572.35V138.68H573.94V141.58H575.54V149.67H577.13V151.73H578.72V152.94H580.31V153.02H581.9V147.22H583.5V143H585.09V143.92H586.68V147.78H588.27V148.61H589.86V149.34H591.46V149.41H593.05V149.19H594.64V150.56H596.23V149.3H597.82V145.65H599.42V145.61H601.01V148.59H602.6V149.04H604.19V140.54H605.78V136.86H607.38V141.44H608.97V147.37H610.56V150.9H612.15V149.36H613.74V139.79H615.34V133.61H616.93V138.33H618.52V145.62H620.11V142.46H621.7V137.51H623.3V141.62H624.89V149.03H626.48V149.65H628.07V147.49H629.66V146.66H631.26V146.27H632.85V146.96H634.44V149.1H636.03V151.61H637.62V154.53H639.22V154.47H640.81V148.51H642.4V152.78H643.99V155.23H645.58V155.23H647.18V155.64H648.77V156.44H650.36V156.98H651.95V157.32H653.54V157.86H655.14V157.91H656.73V157.99H658.32V157.51H659.91V157.25H661.5V157.25H663.1V158.04H664.69V158.04H666.28V158.04H667.87V157.25H669.46V157.25H671.06V157.25H672.65V157.25H674.24V157.3H675.83V157.4" fill="#3f7fbe"/>
<rect x="303.5" y="131.4" width="373.8" height="26.9" fill="none" stroke="#555" stroke-width="0.9"/>
<path d="M301.0 158.3 H303.5" stroke="#4a4a4a" stroke-width="0.85"/>
<text x="300.5" y="160.55" font-size="6.3" text-anchor="end" fill="#222" stroke="#222" stroke-width="0.16">0</text>
<path d="M301.0 132.0 H303.5" stroke="#4a4a4a" stroke-width="0.85"/>
<text x="300.5" y="134.25" font-size="6.3" text-anchor="end" fill="#222" stroke="#222" stroke-width="0.16">50</text>
<path d="M324 158.3 V160.8" stroke="#4a4a4a" stroke-width="0.85"/>
<text x="324" y="166.9" font-size="6.3" text-anchor="middle" fill="#222" stroke="#222" stroke-width="0.16">0.0</text>
<path d="M403.6 158.3 V160.8" stroke="#4a4a4a" stroke-width="0.85"/>
<text x="403.6" y="166.9" font-size="6.3" text-anchor="middle" fill="#222" stroke="#222" stroke-width="0.16">0.5</text>
<path d="M483.2 158.3 V160.8" stroke="#4a4a4a" stroke-width="0.85"/>
<text x="483.2" y="166.9" font-size="6.3" text-anchor="middle" fill="#222" stroke="#222" stroke-width="0.16">1.0</text>
<path d="M562.8 158.3 V160.8" stroke="#4a4a4a" stroke-width="0.85"/>
<text x="562.8" y="166.9" font-size="6.3" text-anchor="middle" fill="#222" stroke="#222" stroke-width="0.16">1.5</text>
<path d="M642.4 158.3 V160.8" stroke="#4a4a4a" stroke-width="0.85"/>
<text x="642.4" y="166.9" font-size="6.3" text-anchor="middle" fill="#222" stroke="#222" stroke-width="0.16">2.0</text>
<text transform="translate(286.0 144.6) rotate(-90)" font-size="6.9" text-anchor="middle" fill="#222" stroke="#222" stroke-width="0.16">Ist Act [1/cs]</text>
<text x="490.5" y="175.8" font-size="6.3" text-anchor="middle" fill="#222" stroke="#222" stroke-width="0.16">t [s]</text>
<rect x="25.4" y="220.6" width="119.2" height="139" fill="#fff"/>
<path d="M28.8 353a1.9 1.9 0 1 0 3.8 0a1.9 1.9 0 1 0 -3.8 0M28.8 348.93a1.9 1.9 0 1 0 3.8 0a1.9 1.9 0 1 0 -3.8 0M28.8 344.86a1.9 1.9 0 1 0 3.8 0a1.9 1.9 0 1 0 -3.8 0M28.8 340.79a1.9 1.9 0 1 0 3.8 0a1.9 1.9 0 1 0 -3.8 0M28.8 336.72a1.9 1.9 0 1 0 3.8 0a1.9 1.9 0 1 0 -3.8 0M28.8 332.65a1.9 1.9 0 1 0 3.8 0a1.9 1.9 0 1 0 -3.8 0M28.8 328.58a1.9 1.9 0 1 0 3.8 0a1.9 1.9 0 1 0 -3.8 0M28.8 324.51a1.9 1.9 0 1 0 3.8 0a1.9 1.9 0 1 0 -3.8 0M28.8 320.44a1.9 1.9 0 1 0 3.8 0a1.9 1.9 0 1 0 -3.8 0M28.8 316.37a1.9 1.9 0 1 0 3.8 0a1.9 1.9 0 1 0 -3.8 0M28.8 312.3a1.9 1.9 0 1 0 3.8 0a1.9 1.9 0 1 0 -3.8 0M28.8 308.23a1.9 1.9 0 1 0 3.8 0a1.9 1.9 0 1 0 -3.8 0M28.8 304.16a1.9 1.9 0 1 0 3.8 0a1.9 1.9 0 1 0 -3.8 0M28.8 300.09a1.9 1.9 0 1 0 3.8 0a1.9 1.9 0 1 0 -3.8 0M28.8 296.02a1.9 1.9 0 1 0 3.8 0a1.9 1.9 0 1 0 -3.8 0M28.8 291.95a1.9 1.9 0 1 0 3.8 0a1.9 1.9 0 1 0 -3.8 0M28.8 287.88a1.9 1.9 0 1 0 3.8 0a1.9 1.9 0 1 0 -3.8 0M28.8 283.81a1.9 1.9 0 1 0 3.8 0a1.9 1.9 0 1 0 -3.8 0M28.8 279.74a1.9 1.9 0 1 0 3.8 0a1.9 1.9 0 1 0 -3.8 0M28.8 275.67a1.9 1.9 0 1 0 3.8 0a1.9 1.9 0 1 0 -3.8 0M28.8 271.6a1.9 1.9 0 1 0 3.8 0a1.9 1.9 0 1 0 -3.8 0M28.8 267.53a1.9 1.9 0 1 0 3.8 0a1.9 1.9 0 1 0 -3.8 0M28.8 263.46a1.9 1.9 0 1 0 3.8 0a1.9 1.9 0 1 0 -3.8 0M28.8 259.39a1.9 1.9 0 1 0 3.8 0a1.9 1.9 0 1 0 -3.8 0M28.8 255.32a1.9 1.9 0 1 0 3.8 0a1.9 1.9 0 1 0 -3.8 0M28.8 251.25a1.9 1.9 0 1 0 3.8 0a1.9 1.9 0 1 0 -3.8 0M28.8 247.18a1.9 1.9 0 1 0 3.8 0a1.9 1.9 0 1 0 -3.8 0M28.8 243.11a1.9 1.9 0 1 0 3.8 0a1.9 1.9 0 1 0 -3.8 0M28.8 239.04a1.9 1.9 0 1 0 3.8 0a1.9 1.9 0 1 0 -3.8 0M28.8 234.97a1.9 1.9 0 1 0 3.8 0a1.9 1.9 0 1 0 -3.8 0M28.8 230.9a1.9 1.9 0 1 0 3.8 0a1.9 1.9 0 1 0 -3.8 0M28.8 226.83a1.9 1.9 0 1 0 3.8 0a1.9 1.9 0 1 0 -3.8 0M32.31 353a1.9 1.9 0 1 0 3.8 0a1.9 1.9 0 1 0 -3.8 0M32.31 348.93a1.9 1.9 0 1 0 3.8 0a1.9 1.9 0 1 0 -3.8 0M32.31 344.86a1.9 1.9 0 1 0 3.8 0a1.9 1.9 0 1 0 -3.8 0M32.31 340.79a1.9 1.9 0 1 0 3.8 0a1.9 1.9 0 1 0 -3.8 0M32.31 336.72a1.9 1.9 0 1 0 3.8 0a1.9 1.9 0 1 0 -3.8 0M32.31 332.65a1.9 1.9 0 1 0 3.8 0a1.9 1.9 0 1 0 -3.8 0M32.31 328.58a1.9 1.9 0 1 0 3.8 0a1.9 1.9 0 1 0 -3.8 0M32.31 324.51a1.9 1.9 0 1 0 3.8 0a1.9 1.9 0 1 0 -3.8 0M32.31 320.44a1.9 1.9 0 1 0 3.8 0a1.9 1.9 0 1 0 -3.8 0M32.31 316.37a1.9 1.9 0 1 0 3.8 0a1.9 1.9 0 1 0 -3.8 0M32.31 312.3a1.9 1.9 0 1 0 3.8 0a1.9 1.9 0 1 0 -3.8 0M32.31 308.23a1.9 1.9 0 1 0 3.8 0a1.9 1.9 0 1 0 -3.8 0M32.31 304.16a1.9 1.9 0 1 0 3.8 0a1.9 1.9 0 1 0 -3.8 0M32.31 300.09a1.9 1.9 0 1 0 3.8 0a1.9 1.9 0 1 0 -3.8 0M32.31 296.02a1.9 1.9 0 1 0 3.8 0a1.9 1.9 0 1 0 -3.8 0M32.31 291.95a1.9 1.9 0 1 0 3.8 0a1.9 1.9 0 1 0 -3.8 0M32.31 287.88a1.9 1.9 0 1 0 3.8 0a1.9 1.9 0 1 0 -3.8 0M32.31 283.81a1.9 1.9 0 1 0 3.8 0a1.9 1.9 0 1 0 -3.8 0M32.31 279.74a1.9 1.9 0 1 0 3.8 0a1.9 1.9 0 1 0 -3.8 0M32.31 275.67a1.9 1.9 0 1 0 3.8 0a1.9 1.9 0 1 0 -3.8 0M32.31 271.6a1.9 1.9 0 1 0 3.8 0a1.9 1.9 0 1 0 -3.8 0M32.31 267.53a1.9 1.9 0 1 0 3.8 0a1.9 1.9 0 1 0 -3.8 0M32.31 263.46a1.9 1.9 0 1 0 3.8 0a1.9 1.9 0 1 0 -3.8 0M32.31 259.39a1.9 1.9 0 1 0 3.8 0a1.9 1.9 0 1 0 -3.8 0M32.31 255.32a1.9 1.9 0 1 0 3.8 0a1.9 1.9 0 1 0 -3.8 0M32.31 251.25a1.9 1.9 0 1 0 3.8 0a1.9 1.9 0 1 0 -3.8 0M32.31 247.18a1.9 1.9 0 1 0 3.8 0a1.9 1.9 0 1 0 -3.8 0M32.31 243.11a1.9 1.9 0 1 0 3.8 0a1.9 1.9 0 1 0 -3.8 0M32.31 239.04a1.9 1.9 0 1 0 3.8 0a1.9 1.9 0 1 0 -3.8 0M32.31 234.97a1.9 1.9 0 1 0 3.8 0a1.9 1.9 0 1 0 -3.8 0M32.31 230.9a1.9 1.9 0 1 0 3.8 0a1.9 1.9 0 1 0 -3.8 0M32.31 226.83a1.9 1.9 0 1 0 3.8 0a1.9 1.9 0 1 0 -3.8 0M35.83 353a1.9 1.9 0 1 0 3.8 0a1.9 1.9 0 1 0 -3.8 0M35.83 348.93a1.9 1.9 0 1 0 3.8 0a1.9 1.9 0 1 0 -3.8 0M35.83 344.86a1.9 1.9 0 1 0 3.8 0a1.9 1.9 0 1 0 -3.8 0M35.83 340.79a1.9 1.9 0 1 0 3.8 0a1.9 1.9 0 1 0 -3.8 0M35.83 336.72a1.9 1.9 0 1 0 3.8 0a1.9 1.9 0 1 0 -3.8 0M35.83 332.65a1.9 1.9 0 1 0 3.8 0a1.9 1.9 0 1 0 -3.8 0M35.83 328.58a1.9 1.9 0 1 0 3.8 0a1.9 1.9 0 1 0 -3.8 0M35.83 324.51a1.9 1.9 0 1 0 3.8 0a1.9 1.9 0 1 0 -3.8 0M35.83 320.44a1.9 1.9 0 1 0 3.8 0a1.9 1.9 0 1 0 -3.8 0M35.83 316.37a1.9 1.9 0 1 0 3.8 0a1.9 1.9 0 1 0 -3.8 0M35.83 312.3a1.9 1.9 0 1 0 3.8 0a1.9 1.9 0 1 0 -3.8 0M35.83 308.23a1.9 1.9 0 1 0 3.8 0a1.9 1.9 0 1 0 -3.8 0M35.83 304.16a1.9 1.9 0 1 0 3.8 0a1.9 1.9 0 1 0 -3.8 0M35.83 300.09a1.9 1.9 0 1 0 3.8 0a1.9 1.9 0 1 0 -3.8 0M35.83 296.02a1.9 1.9 0 1 0 3.8 0a1.9 1.9 0 1 0 -3.8 0M35.83 291.95a1.9 1.9 0 1 0 3.8 0a1.9 1.9 0 1 0 -3.8 0M35.83 287.88a1.9 1.9 0 1 0 3.8 0a1.9 1.9 0 1 0 -3.8 0M35.83 283.81a1.9 1.9 0 1 0 3.8 0a1.9 1.9 0 1 0 -3.8 0M35.83 279.74a1.9 1.9 0 1 0 3.8 0a1.9 1.9 0 1 0 -3.8 0M35.83 275.67a1.9 1.9 0 1 0 3.8 0a1.9 1.9 0 1 0 -3.8 0M35.83 271.6a1.9 1.9 0 1 0 3.8 0a1.9 1.9 0 1 0 -3.8 0M35.83 267.53a1.9 1.9 0 1 0 3.8 0a1.9 1.9 0 1 0 -3.8 0M35.83 263.46a1.9 1.9 0 1 0 3.8 0a1.9 1.9 0 1 0 -3.8 0M35.83 259.39a1.9 1.9 0 1 0 3.8 0a1.9 1.9 0 1 0 -3.8 0M35.83 255.32a1.9 1.9 0 1 0 3.8 0a1.9 1.9 0 1 0 -3.8 0M35.83 251.25a1.9 1.9 0 1 0 3.8 0a1.9 1.9 0 1 0 -3.8 0M35.83 247.18a1.9 1.9 0 1 0 3.8 0a1.9 1.9 0 1 0 -3.8 0M35.83 243.11a1.9 1.9 0 1 0 3.8 0a1.9 1.9 0 1 0 -3.8 0M35.83 239.04a1.9 1.9 0 1 0 3.8 0a1.9 1.9 0 1 0 -3.8 0M35.83 234.97a1.9 1.9 0 1 0 3.8 0a1.9 1.9 0 1 0 -3.8 0M35.83 230.9a1.9 1.9 0 1 0 3.8 0a1.9 1.9 0 1 0 -3.8 0M35.83 226.83a1.9 1.9 0 1 0 3.8 0a1.9 1.9 0 1 0 -3.8 0M39.34 353a1.9 1.9 0 1 0 3.8 0a1.9 1.9 0 1 0 -3.8 0M39.34 348.93a1.9 1.9 0 1 0 3.8 0a1.9 1.9 0 1 0 -3.8 0M39.34 344.86a1.9 1.9 0 1 0 3.8 0a1.9 1.9 0 1 0 -3.8 0M39.34 340.79a1.9 1.9 0 1 0 3.8 0a1.9 1.9 0 1 0 -3.8 0M39.34 336.72a1.9 1.9 0 1 0 3.8 0a1.9 1.9 0 1 0 -3.8 0M39.34 332.65a1.9 1.9 0 1 0 3.8 0a1.9 1.9 0 1 0 -3.8 0M39.34 328.58a1.9 1.9 0 1 0 3.8 0a1.9 1.9 0 1 0 -3.8 0M39.34 324.51a1.9 1.9 0 1 0 3.8 0a1.9 1.9 0 1 0 -3.8 0M39.34 320.44a1.9 1.9 0 1 0 3.8 0a1.9 1.9 0 1 0 -3.8 0M39.34 316.37a1.9 1.9 0 1 0 3.8 0a1.9 1.9 0 1 0 -3.8 0M39.34 312.3a1.9 1.9 0 1 0 3.8 0a1.9 1.9 0 1 0 -3.8 0M39.34 308.23a1.9 1.9 0 1 0 3.8 0a1.9 1.9 0 1 0 -3.8 0M39.34 304.16a1.9 1.9 0 1 0 3.8 0a1.9 1.9 0 1 0 -3.8 0M39.34 300.09a1.9 1.9 0 1 0 3.8 0a1.9 1.9 0 1 0 -3.8 0M39.34 296.02a1.9 1.9 0 1 0 3.8 0a1.9 1.9 0 1 0 -3.8 0M39.34 291.95a1.9 1.9 0 1 0 3.8 0a1.9 1.9 0 1 0 -3.8 0M39.34 287.88a1.9 1.9 0 1 0 3.8 0a1.9 1.9 0 1 0 -3.8 0M39.34 283.81a1.9 1.9 0 1 0 3.8 0a1.9 1.9 0 1 0 -3.8 0M39.34 279.74a1.9 1.9 0 1 0 3.8 0a1.9 1.9 0 1 0 -3.8 0M39.34 275.67a1.9 1.9 0 1 0 3.8 0a1.9 1.9 0 1 0 -3.8 0M39.34 271.6a1.9 1.9 0 1 0 3.8 0a1.9 1.9 0 1 0 -3.8 0M39.34 267.53a1.9 1.9 0 1 0 3.8 0a1.9 1.9 0 1 0 -3.8 0M39.34 263.46a1.9 1.9 0 1 0 3.8 0a1.9 1.9 0 1 0 -3.8 0M39.34 259.39a1.9 1.9 0 1 0 3.8 0a1.9 1.9 0 1 0 -3.8 0M39.34 255.32a1.9 1.9 0 1 0 3.8 0a1.9 1.9 0 1 0 -3.8 0M39.34 251.25a1.9 1.9 0 1 0 3.8 0a1.9 1.9 0 1 0 -3.8 0M39.34 247.18a1.9 1.9 0 1 0 3.8 0a1.9 1.9 0 1 0 -3.8 0M39.34 243.11a1.9 1.9 0 1 0 3.8 0a1.9 1.9 0 1 0 -3.8 0M39.34 239.04a1.9 1.9 0 1 0 3.8 0a1.9 1.9 0 1 0 -3.8 0M39.34 234.97a1.9 1.9 0 1 0 3.8 0a1.9 1.9 0 1 0 -3.8 0M39.34 230.9a1.9 1.9 0 1 0 3.8 0a1.9 1.9 0 1 0 -3.8 0M39.34 226.83a1.9 1.9 0 1 0 3.8 0a1.9 1.9 0 1 0 -3.8 0M42.85 353a1.9 1.9 0 1 0 3.8 0a1.9 1.9 0 1 0 -3.8 0M42.85 348.93a1.9 1.9 0 1 0 3.8 0a1.9 1.9 0 1 0 -3.8 0M42.85 344.86a1.9 1.9 0 1 0 3.8 0a1.9 1.9 0 1 0 -3.8 0M42.85 340.79a1.9 1.9 0 1 0 3.8 0a1.9 1.9 0 1 0 -3.8 0M42.85 336.72a1.9 1.9 0 1 0 3.8 0a1.9 1.9 0 1 0 -3.8 0M42.85 332.65a1.9 1.9 0 1 0 3.8 0a1.9 1.9 0 1 0 -3.8 0M42.85 328.58a1.9 1.9 0 1 0 3.8 0a1.9 1.9 0 1 0 -3.8 0M42.85 324.51a1.9 1.9 0 1 0 3.8 0a1.9 1.9 0 1 0 -3.8 0M42.85 320.44a1.9 1.9 0 1 0 3.8 0a1.9 1.9 0 1 0 -3.8 0M42.85 316.37a1.9 1.9 0 1 0 3.8 0a1.9 1.9 0 1 0 -3.8 0M42.85 312.3a1.9 1.9 0 1 0 3.8 0a1.9 1.9 0 1 0 -3.8 0M42.85 308.23a1.9 1.9 0 1 0 3.8 0a1.9 1.9 0 1 0 -3.8 0M42.85 304.16a1.9 1.9 0 1 0 3.8 0a1.9 1.9 0 1 0 -3.8 0M42.85 300.09a1.9 1.9 0 1 0 3.8 0a1.9 1.9 0 1 0 -3.8 0M42.85 296.02a1.9 1.9 0 1 0 3.8 0a1.9 1.9 0 1 0 -3.8 0M42.85 291.95a1.9 1.9 0 1 0 3.8 0a1.9 1.9 0 1 0 -3.8 0M42.85 287.88a1.9 1.9 0 1 0 3.8 0a1.9 1.9 0 1 0 -3.8 0M42.85 283.81a1.9 1.9 0 1 0 3.8 0a1.9 1.9 0 1 0 -3.8 0M42.85 279.74a1.9 1.9 0 1 0 3.8 0a1.9 1.9 0 1 0 -3.8 0M42.85 275.67a1.9 1.9 0 1 0 3.8 0a1.9 1.9 0 1 0 -3.8 0M42.85 271.6a1.9 1.9 0 1 0 3.8 0a1.9 1.9 0 1 0 -3.8 0M42.85 267.53a1.9 1.9 0 1 0 3.8 0a1.9 1.9 0 1 0 -3.8 0M42.85 263.46a1.9 1.9 0 1 0 3.8 0a1.9 1.9 0 1 0 -3.8 0M42.85 259.39a1.9 1.9 0 1 0 3.8 0a1.9 1.9 0 1 0 -3.8 0M42.85 255.32a1.9 1.9 0 1 0 3.8 0a1.9 1.9 0 1 0 -3.8 0M42.85 251.25a1.9 1.9 0 1 0 3.8 0a1.9 1.9 0 1 0 -3.8 0M42.85 247.18a1.9 1.9 0 1 0 3.8 0a1.9 1.9 0 1 0 -3.8 0M42.85 243.11a1.9 1.9 0 1 0 3.8 0a1.9 1.9 0 1 0 -3.8 0M42.85 239.04a1.9 1.9 0 1 0 3.8 0a1.9 1.9 0 1 0 -3.8 0M42.85 234.97a1.9 1.9 0 1 0 3.8 0a1.9 1.9 0 1 0 -3.8 0M42.85 230.9a1.9 1.9 0 1 0 3.8 0a1.9 1.9 0 1 0 -3.8 0M42.85 226.83a1.9 1.9 0 1 0 3.8 0a1.9 1.9 0 1 0 -3.8 0M46.37 353a1.9 1.9 0 1 0 3.8 0a1.9 1.9 0 1 0 -3.8 0M46.37 348.93a1.9 1.9 0 1 0 3.8 0a1.9 1.9 0 1 0 -3.8 0M46.37 344.86a1.9 1.9 0 1 0 3.8 0a1.9 1.9 0 1 0 -3.8 0M46.37 340.79a1.9 1.9 0 1 0 3.8 0a1.9 1.9 0 1 0 -3.8 0M46.37 336.72a1.9 1.9 0 1 0 3.8 0a1.9 1.9 0 1 0 -3.8 0M46.37 332.65a1.9 1.9 0 1 0 3.8 0a1.9 1.9 0 1 0 -3.8 0M46.37 328.58a1.9 1.9 0 1 0 3.8 0a1.9 1.9 0 1 0 -3.8 0M46.37 324.51a1.9 1.9 0 1 0 3.8 0a1.9 1.9 0 1 0 -3.8 0M46.37 320.44a1.9 1.9 0 1 0 3.8 0a1.9 1.9 0 1 0 -3.8 0M46.37 316.37a1.9 1.9 0 1 0 3.8 0a1.9 1.9 0 1 0 -3.8 0M46.37 312.3a1.9 1.9 0 1 0 3.8 0a1.9 1.9 0 1 0 -3.8 0M46.37 308.23a1.9 1.9 0 1 0 3.8 0a1.9 1.9 0 1 0 -3.8 0M46.37 304.16a1.9 1.9 0 1 0 3.8 0a1.9 1.9 0 1 0 -3.8 0M46.37 300.09a1.9 1.9 0 1 0 3.8 0a1.9 1.9 0 1 0 -3.8 0M46.37 296.02a1.9 1.9 0 1 0 3.8 0a1.9 1.9 0 1 0 -3.8 0M46.37 291.95a1.9 1.9 0 1 0 3.8 0a1.9 1.9 0 1 0 -3.8 0M46.37 287.88a1.9 1.9 0 1 0 3.8 0a1.9 1.9 0 1 0 -3.8 0M46.37 283.81a1.9 1.9 0 1 0 3.8 0a1.9 1.9 0 1 0 -3.8 0M46.37 279.74a1.9 1.9 0 1 0 3.8 0a1.9 1.9 0 1 0 -3.8 0M46.37 275.67a1.9 1.9 0 1 0 3.8 0a1.9 1.9 0 1 0 -3.8 0M46.37 271.6a1.9 1.9 0 1 0 3.8 0a1.9 1.9 0 1 0 -3.8 0M46.37 267.53a1.9 1.9 0 1 0 3.8 0a1.9 1.9 0 1 0 -3.8 0M46.37 263.46a1.9 1.9 0 1 0 3.8 0a1.9 1.9 0 1 0 -3.8 0M46.37 259.39a1.9 1.9 0 1 0 3.8 0a1.9 1.9 0 1 0 -3.8 0M46.37 255.32a1.9 1.9 0 1 0 3.8 0a1.9 1.9 0 1 0 -3.8 0M46.37 251.25a1.9 1.9 0 1 0 3.8 0a1.9 1.9 0 1 0 -3.8 0M46.37 247.18a1.9 1.9 0 1 0 3.8 0a1.9 1.9 0 1 0 -3.8 0M46.37 243.11a1.9 1.9 0 1 0 3.8 0a1.9 1.9 0 1 0 -3.8 0M46.37 239.04a1.9 1.9 0 1 0 3.8 0a1.9 1.9 0 1 0 -3.8 0M46.37 234.97a1.9 1.9 0 1 0 3.8 0a1.9 1.9 0 1 0 -3.8 0M46.37 230.9a1.9 1.9 0 1 0 3.8 0a1.9 1.9 0 1 0 -3.8 0M46.37 226.83a1.9 1.9 0 1 0 3.8 0a1.9 1.9 0 1 0 -3.8 0M49.88 353a1.9 1.9 0 1 0 3.8 0a1.9 1.9 0 1 0 -3.8 0M49.88 348.93a1.9 1.9 0 1 0 3.8 0a1.9 1.9 0 1 0 -3.8 0M49.88 344.86a1.9 1.9 0 1 0 3.8 0a1.9 1.9 0 1 0 -3.8 0M49.88 340.79a1.9 1.9 0 1 0 3.8 0a1.9 1.9 0 1 0 -3.8 0M49.88 336.72a1.9 1.9 0 1 0 3.8 0a1.9 1.9 0 1 0 -3.8 0M49.88 332.65a1.9 1.9 0 1 0 3.8 0a1.9 1.9 0 1 0 -3.8 0M49.88 328.58a1.9 1.9 0 1 0 3.8 0a1.9 1.9 0 1 0 -3.8 0M49.88 324.51a1.9 1.9 0 1 0 3.8 0a1.9 1.9 0 1 0 -3.8 0M49.88 320.44a1.9 1.9 0 1 0 3.8 0a1.9 1.9 0 1 0 -3.8 0M49.88 316.37a1.9 1.9 0 1 0 3.8 0a1.9 1.9 0 1 0 -3.8 0M49.88 312.3a1.9 1.9 0 1 0 3.8 0a1.9 1.9 0 1 0 -3.8 0M49.88 308.23a1.9 1.9 0 1 0 3.8 0a1.9 1.9 0 1 0 -3.8 0M49.88 304.16a1.9 1.9 0 1 0 3.8 0a1.9 1.9 0 1 0 -3.8 0M49.88 300.09a1.9 1.9 0 1 0 3.8 0a1.9 1.9 0 1 0 -3.8 0M49.88 296.02a1.9 1.9 0 1 0 3.8 0a1.9 1.9 0 1 0 -3.8 0M49.88 291.95a1.9 1.9 0 1 0 3.8 0a1.9 1.9 0 1 0 -3.8 0M49.88 287.88a1.9 1.9 0 1 0 3.8 0a1.9 1.9 0 1 0 -3.8 0M49.88 283.81a1.9 1.9 0 1 0 3.8 0a1.9 1.9 0 1 0 -3.8 0M49.88 279.74a1.9 1.9 0 1 0 3.8 0a1.9 1.9 0 1 0 -3.8 0M49.88 275.67a1.9 1.9 0 1 0 3.8 0a1.9 1.9 0 1 0 -3.8 0M49.88 271.6a1.9 1.9 0 1 0 3.8 0a1.9 1.9 0 1 0 -3.8 0M49.88 267.53a1.9 1.9 0 1 0 3.8 0a1.9 1.9 0 1 0 -3.8 0M49.88 263.46a1.9 1.9 0 1 0 3.8 0a1.9 1.9 0 1 0 -3.8 0M49.88 259.39a1.9 1.9 0 1 0 3.8 0a1.9 1.9 0 1 0 -3.8 0M49.88 255.32a1.9 1.9 0 1 0 3.8 0a1.9 1.9 0 1 0 -3.8 0M49.88 251.25a1.9 1.9 0 1 0 3.8 0a1.9 1.9 0 1 0 -3.8 0M49.88 247.18a1.9 1.9 0 1 0 3.8 0a1.9 1.9 0 1 0 -3.8 0M49.88 243.11a1.9 1.9 0 1 0 3.8 0a1.9 1.9 0 1 0 -3.8 0M49.88 239.04a1.9 1.9 0 1 0 3.8 0a1.9 1.9 0 1 0 -3.8 0M49.88 234.97a1.9 1.9 0 1 0 3.8 0a1.9 1.9 0 1 0 -3.8 0M49.88 230.9a1.9 1.9 0 1 0 3.8 0a1.9 1.9 0 1 0 -3.8 0M49.88 226.83a1.9 1.9 0 1 0 3.8 0a1.9 1.9 0 1 0 -3.8 0M53.39 353a1.9 1.9 0 1 0 3.8 0a1.9 1.9 0 1 0 -3.8 0M53.39 348.93a1.9 1.9 0 1 0 3.8 0a1.9 1.9 0 1 0 -3.8 0M53.39 344.86a1.9 1.9 0 1 0 3.8 0a1.9 1.9 0 1 0 -3.8 0M53.39 340.79a1.9 1.9 0 1 0 3.8 0a1.9 1.9 0 1 0 -3.8 0M53.39 336.72a1.9 1.9 0 1 0 3.8 0a1.9 1.9 0 1 0 -3.8 0M53.39 332.65a1.9 1.9 0 1 0 3.8 0a1.9 1.9 0 1 0 -3.8 0M53.39 328.58a1.9 1.9 0 1 0 3.8 0a1.9 1.9 0 1 0 -3.8 0M53.39 324.51a1.9 1.9 0 1 0 3.8 0a1.9 1.9 0 1 0 -3.8 0M53.39 320.44a1.9 1.9 0 1 0 3.8 0a1.9 1.9 0 1 0 -3.8 0M53.39 316.37a1.9 1.9 0 1 0 3.8 0a1.9 1.9 0 1 0 -3.8 0M53.39 312.3a1.9 1.9 0 1 0 3.8 0a1.9 1.9 0 1 0 -3.8 0M53.39 308.23a1.9 1.9 0 1 0 3.8 0a1.9 1.9 0 1 0 -3.8 0M53.39 304.16a1.9 1.9 0 1 0 3.8 0a1.9 1.9 0 1 0 -3.8 0M53.39 300.09a1.9 1.9 0 1 0 3.8 0a1.9 1.9 0 1 0 -3.8 0M53.39 296.02a1.9 1.9 0 1 0 3.8 0a1.9 1.9 0 1 0 -3.8 0M53.39 291.95a1.9 1.9 0 1 0 3.8 0a1.9 1.9 0 1 0 -3.8 0M53.39 287.88a1.9 1.9 0 1 0 3.8 0a1.9 1.9 0 1 0 -3.8 0M53.39 283.81a1.9 1.9 0 1 0 3.8 0a1.9 1.9 0 1 0 -3.8 0M53.39 279.74a1.9 1.9 0 1 0 3.8 0a1.9 1.9 0 1 0 -3.8 0M53.39 275.67a1.9 1.9 0 1 0 3.8 0a1.9 1.9 0 1 0 -3.8 0M53.39 271.6a1.9 1.9 0 1 0 3.8 0a1.9 1.9 0 1 0 -3.8 0M53.39 267.53a1.9 1.9 0 1 0 3.8 0a1.9 1.9 0 1 0 -3.8 0M53.39 263.46a1.9 1.9 0 1 0 3.8 0a1.9 1.9 0 1 0 -3.8 0M53.39 259.39a1.9 1.9 0 1 0 3.8 0a1.9 1.9 0 1 0 -3.8 0M53.39 255.32a1.9 1.9 0 1 0 3.8 0a1.9 1.9 0 1 0 -3.8 0M53.39 251.25a1.9 1.9 0 1 0 3.8 0a1.9 1.9 0 1 0 -3.8 0M53.39 247.18a1.9 1.9 0 1 0 3.8 0a1.9 1.9 0 1 0 -3.8 0M53.39 243.11a1.9 1.9 0 1 0 3.8 0a1.9 1.9 0 1 0 -3.8 0M53.39 239.04a1.9 1.9 0 1 0 3.8 0a1.9 1.9 0 1 0 -3.8 0M53.39 234.97a1.9 1.9 0 1 0 3.8 0a1.9 1.9 0 1 0 -3.8 0M53.39 230.9a1.9 1.9 0 1 0 3.8 0a1.9 1.9 0 1 0 -3.8 0M53.39 226.83a1.9 1.9 0 1 0 3.8 0a1.9 1.9 0 1 0 -3.8 0M56.9 353a1.9 1.9 0 1 0 3.8 0a1.9 1.9 0 1 0 -3.8 0M56.9 348.93a1.9 1.9 0 1 0 3.8 0a1.9 1.9 0 1 0 -3.8 0M56.9 344.86a1.9 1.9 0 1 0 3.8 0a1.9 1.9 0 1 0 -3.8 0M56.9 340.79a1.9 1.9 0 1 0 3.8 0a1.9 1.9 0 1 0 -3.8 0M56.9 336.72a1.9 1.9 0 1 0 3.8 0a1.9 1.9 0 1 0 -3.8 0M56.9 332.65a1.9 1.9 0 1 0 3.8 0a1.9 1.9 0 1 0 -3.8 0M56.9 328.58a1.9 1.9 0 1 0 3.8 0a1.9 1.9 0 1 0 -3.8 0M56.9 324.51a1.9 1.9 0 1 0 3.8 0a1.9 1.9 0 1 0 -3.8 0M56.9 320.44a1.9 1.9 0 1 0 3.8 0a1.9 1.9 0 1 0 -3.8 0M56.9 316.37a1.9 1.9 0 1 0 3.8 0a1.9 1.9 0 1 0 -3.8 0M56.9 312.3a1.9 1.9 0 1 0 3.8 0a1.9 1.9 0 1 0 -3.8 0M56.9 308.23a1.9 1.9 0 1 0 3.8 0a1.9 1.9 0 1 0 -3.8 0M56.9 304.16a1.9 1.9 0 1 0 3.8 0a1.9 1.9 0 1 0 -3.8 0M56.9 300.09a1.9 1.9 0 1 0 3.8 0a1.9 1.9 0 1 0 -3.8 0M56.9 296.02a1.9 1.9 0 1 0 3.8 0a1.9 1.9 0 1 0 -3.8 0M56.9 291.95a1.9 1.9 0 1 0 3.8 0a1.9 1.9 0 1 0 -3.8 0M56.9 287.88a1.9 1.9 0 1 0 3.8 0a1.9 1.9 0 1 0 -3.8 0M56.9 283.81a1.9 1.9 0 1 0 3.8 0a1.9 1.9 0 1 0 -3.8 0M56.9 279.74a1.9 1.9 0 1 0 3.8 0a1.9 1.9 0 1 0 -3.8 0M56.9 275.67a1.9 1.9 0 1 0 3.8 0a1.9 1.9 0 1 0 -3.8 0M56.9 271.6a1.9 1.9 0 1 0 3.8 0a1.9 1.9 0 1 0 -3.8 0M56.9 267.53a1.9 1.9 0 1 0 3.8 0a1.9 1.9 0 1 0 -3.8 0M56.9 263.46a1.9 1.9 0 1 0 3.8 0a1.9 1.9 0 1 0 -3.8 0M56.9 259.39a1.9 1.9 0 1 0 3.8 0a1.9 1.9 0 1 0 -3.8 0M56.9 255.32a1.9 1.9 0 1 0 3.8 0a1.9 1.9 0 1 0 -3.8 0M56.9 251.25a1.9 1.9 0 1 0 3.8 0a1.9 1.9 0 1 0 -3.8 0M56.9 247.18a1.9 1.9 0 1 0 3.8 0a1.9 1.9 0 1 0 -3.8 0M56.9 243.11a1.9 1.9 0 1 0 3.8 0a1.9 1.9 0 1 0 -3.8 0M56.9 239.04a1.9 1.9 0 1 0 3.8 0a1.9 1.9 0 1 0 -3.8 0M56.9 234.97a1.9 1.9 0 1 0 3.8 0a1.9 1.9 0 1 0 -3.8 0M56.9 230.9a1.9 1.9 0 1 0 3.8 0a1.9 1.9 0 1 0 -3.8 0M56.9 226.83a1.9 1.9 0 1 0 3.8 0a1.9 1.9 0 1 0 -3.8 0M60.42 353a1.9 1.9 0 1 0 3.8 0a1.9 1.9 0 1 0 -3.8 0M60.42 348.93a1.9 1.9 0 1 0 3.8 0a1.9 1.9 0 1 0 -3.8 0M60.42 344.86a1.9 1.9 0 1 0 3.8 0a1.9 1.9 0 1 0 -3.8 0M60.42 340.79a1.9 1.9 0 1 0 3.8 0a1.9 1.9 0 1 0 -3.8 0M60.42 336.72a1.9 1.9 0 1 0 3.8 0a1.9 1.9 0 1 0 -3.8 0M60.42 332.65a1.9 1.9 0 1 0 3.8 0a1.9 1.9 0 1 0 -3.8 0M60.42 328.58a1.9 1.9 0 1 0 3.8 0a1.9 1.9 0 1 0 -3.8 0M60.42 324.51a1.9 1.9 0 1 0 3.8 0a1.9 1.9 0 1 0 -3.8 0M60.42 320.44a1.9 1.9 0 1 0 3.8 0a1.9 1.9 0 1 0 -3.8 0M60.42 316.37a1.9 1.9 0 1 0 3.8 0a1.9 1.9 0 1 0 -3.8 0M60.42 312.3a1.9 1.9 0 1 0 3.8 0a1.9 1.9 0 1 0 -3.8 0M60.42 308.23a1.9 1.9 0 1 0 3.8 0a1.9 1.9 0 1 0 -3.8 0M60.42 304.16a1.9 1.9 0 1 0 3.8 0a1.9 1.9 0 1 0 -3.8 0M60.42 300.09a1.9 1.9 0 1 0 3.8 0a1.9 1.9 0 1 0 -3.8 0M60.42 296.02a1.9 1.9 0 1 0 3.8 0a1.9 1.9 0 1 0 -3.8 0M60.42 291.95a1.9 1.9 0 1 0 3.8 0a1.9 1.9 0 1 0 -3.8 0M60.42 287.88a1.9 1.9 0 1 0 3.8 0a1.9 1.9 0 1 0 -3.8 0M60.42 283.81a1.9 1.9 0 1 0 3.8 0a1.9 1.9 0 1 0 -3.8 0M60.42 279.74a1.9 1.9 0 1 0 3.8 0a1.9 1.9 0 1 0 -3.8 0M60.42 275.67a1.9 1.9 0 1 0 3.8 0a1.9 1.9 0 1 0 -3.8 0M60.42 271.6a1.9 1.9 0 1 0 3.8 0a1.9 1.9 0 1 0 -3.8 0M60.42 267.53a1.9 1.9 0 1 0 3.8 0a1.9 1.9 0 1 0 -3.8 0M60.42 263.46a1.9 1.9 0 1 0 3.8 0a1.9 1.9 0 1 0 -3.8 0M60.42 259.39a1.9 1.9 0 1 0 3.8 0a1.9 1.9 0 1 0 -3.8 0M60.42 255.32a1.9 1.9 0 1 0 3.8 0a1.9 1.9 0 1 0 -3.8 0M60.42 251.25a1.9 1.9 0 1 0 3.8 0a1.9 1.9 0 1 0 -3.8 0M60.42 247.18a1.9 1.9 0 1 0 3.8 0a1.9 1.9 0 1 0 -3.8 0M60.42 243.11a1.9 1.9 0 1 0 3.8 0a1.9 1.9 0 1 0 -3.8 0M60.42 239.04a1.9 1.9 0 1 0 3.8 0a1.9 1.9 0 1 0 -3.8 0M60.42 234.97a1.9 1.9 0 1 0 3.8 0a1.9 1.9 0 1 0 -3.8 0M60.42 230.9a1.9 1.9 0 1 0 3.8 0a1.9 1.9 0 1 0 -3.8 0M60.42 226.83a1.9 1.9 0 1 0 3.8 0a1.9 1.9 0 1 0 -3.8 0M63.93 353a1.9 1.9 0 1 0 3.8 0a1.9 1.9 0 1 0 -3.8 0M63.93 348.93a1.9 1.9 0 1 0 3.8 0a1.9 1.9 0 1 0 -3.8 0M63.93 344.86a1.9 1.9 0 1 0 3.8 0a1.9 1.9 0 1 0 -3.8 0M63.93 340.79a1.9 1.9 0 1 0 3.8 0a1.9 1.9 0 1 0 -3.8 0M63.93 336.72a1.9 1.9 0 1 0 3.8 0a1.9 1.9 0 1 0 -3.8 0M63.93 332.65a1.9 1.9 0 1 0 3.8 0a1.9 1.9 0 1 0 -3.8 0M63.93 328.58a1.9 1.9 0 1 0 3.8 0a1.9 1.9 0 1 0 -3.8 0M63.93 324.51a1.9 1.9 0 1 0 3.8 0a1.9 1.9 0 1 0 -3.8 0M63.93 320.44a1.9 1.9 0 1 0 3.8 0a1.9 1.9 0 1 0 -3.8 0M63.93 316.37a1.9 1.9 0 1 0 3.8 0a1.9 1.9 0 1 0 -3.8 0M63.93 312.3a1.9 1.9 0 1 0 3.8 0a1.9 1.9 0 1 0 -3.8 0M63.93 308.23a1.9 1.9 0 1 0 3.8 0a1.9 1.9 0 1 0 -3.8 0M63.93 304.16a1.9 1.9 0 1 0 3.8 0a1.9 1.9 0 1 0 -3.8 0M63.93 300.09a1.9 1.9 0 1 0 3.8 0a1.9 1.9 0 1 0 -3.8 0M63.93 296.02a1.9 1.9 0 1 0 3.8 0a1.9 1.9 0 1 0 -3.8 0M63.93 291.95a1.9 1.9 0 1 0 3.8 0a1.9 1.9 0 1 0 -3.8 0M63.93 287.88a1.9 1.9 0 1 0 3.8 0a1.9 1.9 0 1 0 -3.8 0M63.93 283.81a1.9 1.9 0 1 0 3.8 0a1.9 1.9 0 1 0 -3.8 0M63.93 279.74a1.9 1.9 0 1 0 3.8 0a1.9 1.9 0 1 0 -3.8 0M63.93 275.67a1.9 1.9 0 1 0 3.8 0a1.9 1.9 0 1 0 -3.8 0M63.93 271.6a1.9 1.9 0 1 0 3.8 0a1.9 1.9 0 1 0 -3.8 0M63.93 267.53a1.9 1.9 0 1 0 3.8 0a1.9 1.9 0 1 0 -3.8 0M63.93 263.46a1.9 1.9 0 1 0 3.8 0a1.9 1.9 0 1 0 -3.8 0M63.93 259.39a1.9 1.9 0 1 0 3.8 0a1.9 1.9 0 1 0 -3.8 0M63.93 255.32a1.9 1.9 0 1 0 3.8 0a1.9 1.9 0 1 0 -3.8 0M63.93 251.25a1.9 1.9 0 1 0 3.8 0a1.9 1.9 0 1 0 -3.8 0M63.93 247.18a1.9 1.9 0 1 0 3.8 0a1.9 1.9 0 1 0 -3.8 0M63.93 243.11a1.9 1.9 0 1 0 3.8 0a1.9 1.9 0 1 0 -3.8 0M63.93 239.04a1.9 1.9 0 1 0 3.8 0a1.9 1.9 0 1 0 -3.8 0M63.93 234.97a1.9 1.9 0 1 0 3.8 0a1.9 1.9 0 1 0 -3.8 0M63.93 230.9a1.9 1.9 0 1 0 3.8 0a1.9 1.9 0 1 0 -3.8 0M63.93 226.83a1.9 1.9 0 1 0 3.8 0a1.9 1.9 0 1 0 -3.8 0M67.44 353a1.9 1.9 0 1 0 3.8 0a1.9 1.9 0 1 0 -3.8 0M67.44 348.93a1.9 1.9 0 1 0 3.8 0a1.9 1.9 0 1 0 -3.8 0M67.44 344.86a1.9 1.9 0 1 0 3.8 0a1.9 1.9 0 1 0 -3.8 0M67.44 340.79a1.9 1.9 0 1 0 3.8 0a1.9 1.9 0 1 0 -3.8 0M67.44 336.72a1.9 1.9 0 1 0 3.8 0a1.9 1.9 0 1 0 -3.8 0M67.44 332.65a1.9 1.9 0 1 0 3.8 0a1.9 1.9 0 1 0 -3.8 0M67.44 328.58a1.9 1.9 0 1 0 3.8 0a1.9 1.9 0 1 0 -3.8 0M67.44 324.51a1.9 1.9 0 1 0 3.8 0a1.9 1.9 0 1 0 -3.8 0M67.44 320.44a1.9 1.9 0 1 0 3.8 0a1.9 1.9 0 1 0 -3.8 0M67.44 316.37a1.9 1.9 0 1 0 3.8 0a1.9 1.9 0 1 0 -3.8 0M67.44 312.3a1.9 1.9 0 1 0 3.8 0a1.9 1.9 0 1 0 -3.8 0M67.44 308.23a1.9 1.9 0 1 0 3.8 0a1.9 1.9 0 1 0 -3.8 0M67.44 304.16a1.9 1.9 0 1 0 3.8 0a1.9 1.9 0 1 0 -3.8 0M67.44 300.09a1.9 1.9 0 1 0 3.8 0a1.9 1.9 0 1 0 -3.8 0M67.44 296.02a1.9 1.9 0 1 0 3.8 0a1.9 1.9 0 1 0 -3.8 0M67.44 291.95a1.9 1.9 0 1 0 3.8 0a1.9 1.9 0 1 0 -3.8 0M67.44 287.88a1.9 1.9 0 1 0 3.8 0a1.9 1.9 0 1 0 -3.8 0M67.44 283.81a1.9 1.9 0 1 0 3.8 0a1.9 1.9 0 1 0 -3.8 0M67.44 279.74a1.9 1.9 0 1 0 3.8 0a1.9 1.9 0 1 0 -3.8 0M67.44 275.67a1.9 1.9 0 1 0 3.8 0a1.9 1.9 0 1 0 -3.8 0M67.44 271.6a1.9 1.9 0 1 0 3.8 0a1.9 1.9 0 1 0 -3.8 0M67.44 267.53a1.9 1.9 0 1 0 3.8 0a1.9 1.9 0 1 0 -3.8 0M67.44 263.46a1.9 1.9 0 1 0 3.8 0a1.9 1.9 0 1 0 -3.8 0M67.44 259.39a1.9 1.9 0 1 0 3.8 0a1.9 1.9 0 1 0 -3.8 0M67.44 255.32a1.9 1.9 0 1 0 3.8 0a1.9 1.9 0 1 0 -3.8 0M67.44 251.25a1.9 1.9 0 1 0 3.8 0a1.9 1.9 0 1 0 -3.8 0M67.44 247.18a1.9 1.9 0 1 0 3.8 0a1.9 1.9 0 1 0 -3.8 0M67.44 243.11a1.9 1.9 0 1 0 3.8 0a1.9 1.9 0 1 0 -3.8 0M67.44 239.04a1.9 1.9 0 1 0 3.8 0a1.9 1.9 0 1 0 -3.8 0M67.44 234.97a1.9 1.9 0 1 0 3.8 0a1.9 1.9 0 1 0 -3.8 0M67.44 230.9a1.9 1.9 0 1 0 3.8 0a1.9 1.9 0 1 0 -3.8 0M67.44 226.83a1.9 1.9 0 1 0 3.8 0a1.9 1.9 0 1 0 -3.8 0M70.96 353a1.9 1.9 0 1 0 3.8 0a1.9 1.9 0 1 0 -3.8 0M70.96 348.93a1.9 1.9 0 1 0 3.8 0a1.9 1.9 0 1 0 -3.8 0M70.96 344.86a1.9 1.9 0 1 0 3.8 0a1.9 1.9 0 1 0 -3.8 0M70.96 340.79a1.9 1.9 0 1 0 3.8 0a1.9 1.9 0 1 0 -3.8 0M70.96 336.72a1.9 1.9 0 1 0 3.8 0a1.9 1.9 0 1 0 -3.8 0M70.96 332.65a1.9 1.9 0 1 0 3.8 0a1.9 1.9 0 1 0 -3.8 0M70.96 328.58a1.9 1.9 0 1 0 3.8 0a1.9 1.9 0 1 0 -3.8 0M70.96 324.51a1.9 1.9 0 1 0 3.8 0a1.9 1.9 0 1 0 -3.8 0M70.96 320.44a1.9 1.9 0 1 0 3.8 0a1.9 1.9 0 1 0 -3.8 0M70.96 316.37a1.9 1.9 0 1 0 3.8 0a1.9 1.9 0 1 0 -3.8 0M70.96 312.3a1.9 1.9 0 1 0 3.8 0a1.9 1.9 0 1 0 -3.8 0M70.96 308.23a1.9 1.9 0 1 0 3.8 0a1.9 1.9 0 1 0 -3.8 0M70.96 304.16a1.9 1.9 0 1 0 3.8 0a1.9 1.9 0 1 0 -3.8 0M70.96 300.09a1.9 1.9 0 1 0 3.8 0a1.9 1.9 0 1 0 -3.8 0M70.96 296.02a1.9 1.9 0 1 0 3.8 0a1.9 1.9 0 1 0 -3.8 0M70.96 291.95a1.9 1.9 0 1 0 3.8 0a1.9 1.9 0 1 0 -3.8 0M70.96 287.88a1.9 1.9 0 1 0 3.8 0a1.9 1.9 0 1 0 -3.8 0M70.96 283.81a1.9 1.9 0 1 0 3.8 0a1.9 1.9 0 1 0 -3.8 0M70.96 279.74a1.9 1.9 0 1 0 3.8 0a1.9 1.9 0 1 0 -3.8 0M70.96 275.67a1.9 1.9 0 1 0 3.8 0a1.9 1.9 0 1 0 -3.8 0M70.96 271.6a1.9 1.9 0 1 0 3.8 0a1.9 1.9 0 1 0 -3.8 0M70.96 267.53a1.9 1.9 0 1 0 3.8 0a1.9 1.9 0 1 0 -3.8 0M70.96 263.46a1.9 1.9 0 1 0 3.8 0a1.9 1.9 0 1 0 -3.8 0M70.96 259.39a1.9 1.9 0 1 0 3.8 0a1.9 1.9 0 1 0 -3.8 0M70.96 255.32a1.9 1.9 0 1 0 3.8 0a1.9 1.9 0 1 0 -3.8 0M70.96 251.25a1.9 1.9 0 1 0 3.8 0a1.9 1.9 0 1 0 -3.8 0M70.96 247.18a1.9 1.9 0 1 0 3.8 0a1.9 1.9 0 1 0 -3.8 0M70.96 243.11a1.9 1.9 0 1 0 3.8 0a1.9 1.9 0 1 0 -3.8 0M70.96 239.04a1.9 1.9 0 1 0 3.8 0a1.9 1.9 0 1 0 -3.8 0M70.96 234.97a1.9 1.9 0 1 0 3.8 0a1.9 1.9 0 1 0 -3.8 0M70.96 230.9a1.9 1.9 0 1 0 3.8 0a1.9 1.9 0 1 0 -3.8 0M70.96 226.83a1.9 1.9 0 1 0 3.8 0a1.9 1.9 0 1 0 -3.8 0M74.47 353a1.9 1.9 0 1 0 3.8 0a1.9 1.9 0 1 0 -3.8 0M74.47 348.93a1.9 1.9 0 1 0 3.8 0a1.9 1.9 0 1 0 -3.8 0M74.47 344.86a1.9 1.9 0 1 0 3.8 0a1.9 1.9 0 1 0 -3.8 0M74.47 340.79a1.9 1.9 0 1 0 3.8 0a1.9 1.9 0 1 0 -3.8 0M74.47 336.72a1.9 1.9 0 1 0 3.8 0a1.9 1.9 0 1 0 -3.8 0M74.47 332.65a1.9 1.9 0 1 0 3.8 0a1.9 1.9 0 1 0 -3.8 0M74.47 328.58a1.9 1.9 0 1 0 3.8 0a1.9 1.9 0 1 0 -3.8 0M74.47 324.51a1.9 1.9 0 1 0 3.8 0a1.9 1.9 0 1 0 -3.8 0M74.47 320.44a1.9 1.9 0 1 0 3.8 0a1.9 1.9 0 1 0 -3.8 0M74.47 316.37a1.9 1.9 0 1 0 3.8 0a1.9 1.9 0 1 0 -3.8 0M74.47 312.3a1.9 1.9 0 1 0 3.8 0a1.9 1.9 0 1 0 -3.8 0M74.47 308.23a1.9 1.9 0 1 0 3.8 0a1.9 1.9 0 1 0 -3.8 0M74.47 304.16a1.9 1.9 0 1 0 3.8 0a1.9 1.9 0 1 0 -3.8 0M74.47 300.09a1.9 1.9 0 1 0 3.8 0a1.9 1.9 0 1 0 -3.8 0M74.47 296.02a1.9 1.9 0 1 0 3.8 0a1.9 1.9 0 1 0 -3.8 0M74.47 291.95a1.9 1.9 0 1 0 3.8 0a1.9 1.9 0 1 0 -3.8 0M74.47 287.88a1.9 1.9 0 1 0 3.8 0a1.9 1.9 0 1 0 -3.8 0M74.47 283.81a1.9 1.9 0 1 0 3.8 0a1.9 1.9 0 1 0 -3.8 0M74.47 279.74a1.9 1.9 0 1 0 3.8 0a1.9 1.9 0 1 0 -3.8 0M74.47 275.67a1.9 1.9 0 1 0 3.8 0a1.9 1.9 0 1 0 -3.8 0M74.47 271.6a1.9 1.9 0 1 0 3.8 0a1.9 1.9 0 1 0 -3.8 0M74.47 267.53a1.9 1.9 0 1 0 3.8 0a1.9 1.9 0 1 0 -3.8 0M74.47 263.46a1.9 1.9 0 1 0 3.8 0a1.9 1.9 0 1 0 -3.8 0M74.47 259.39a1.9 1.9 0 1 0 3.8 0a1.9 1.9 0 1 0 -3.8 0M74.47 255.32a1.9 1.9 0 1 0 3.8 0a1.9 1.9 0 1 0 -3.8 0M74.47 251.25a1.9 1.9 0 1 0 3.8 0a1.9 1.9 0 1 0 -3.8 0M74.47 247.18a1.9 1.9 0 1 0 3.8 0a1.9 1.9 0 1 0 -3.8 0M74.47 243.11a1.9 1.9 0 1 0 3.8 0a1.9 1.9 0 1 0 -3.8 0M74.47 239.04a1.9 1.9 0 1 0 3.8 0a1.9 1.9 0 1 0 -3.8 0M74.47 234.97a1.9 1.9 0 1 0 3.8 0a1.9 1.9 0 1 0 -3.8 0M74.47 230.9a1.9 1.9 0 1 0 3.8 0a1.9 1.9 0 1 0 -3.8 0M74.47 226.83a1.9 1.9 0 1 0 3.8 0a1.9 1.9 0 1 0 -3.8 0M77.98 353a1.9 1.9 0 1 0 3.8 0a1.9 1.9 0 1 0 -3.8 0M77.98 348.93a1.9 1.9 0 1 0 3.8 0a1.9 1.9 0 1 0 -3.8 0M77.98 344.86a1.9 1.9 0 1 0 3.8 0a1.9 1.9 0 1 0 -3.8 0M77.98 340.79a1.9 1.9 0 1 0 3.8 0a1.9 1.9 0 1 0 -3.8 0M77.98 336.72a1.9 1.9 0 1 0 3.8 0a1.9 1.9 0 1 0 -3.8 0M77.98 332.65a1.9 1.9 0 1 0 3.8 0a1.9 1.9 0 1 0 -3.8 0M77.98 328.58a1.9 1.9 0 1 0 3.8 0a1.9 1.9 0 1 0 -3.8 0M77.98 324.51a1.9 1.9 0 1 0 3.8 0a1.9 1.9 0 1 0 -3.8 0M77.98 320.44a1.9 1.9 0 1 0 3.8 0a1.9 1.9 0 1 0 -3.8 0M77.98 316.37a1.9 1.9 0 1 0 3.8 0a1.9 1.9 0 1 0 -3.8 0M77.98 312.3a1.9 1.9 0 1 0 3.8 0a1.9 1.9 0 1 0 -3.8 0M77.98 308.23a1.9 1.9 0 1 0 3.8 0a1.9 1.9 0 1 0 -3.8 0M77.98 304.16a1.9 1.9 0 1 0 3.8 0a1.9 1.9 0 1 0 -3.8 0M77.98 300.09a1.9 1.9 0 1 0 3.8 0a1.9 1.9 0 1 0 -3.8 0M77.98 296.02a1.9 1.9 0 1 0 3.8 0a1.9 1.9 0 1 0 -3.8 0M77.98 291.95a1.9 1.9 0 1 0 3.8 0a1.9 1.9 0 1 0 -3.8 0M77.98 287.88a1.9 1.9 0 1 0 3.8 0a1.9 1.9 0 1 0 -3.8 0M77.98 283.81a1.9 1.9 0 1 0 3.8 0a1.9 1.9 0 1 0 -3.8 0M77.98 279.74a1.9 1.9 0 1 0 3.8 0a1.9 1.9 0 1 0 -3.8 0M77.98 275.67a1.9 1.9 0 1 0 3.8 0a1.9 1.9 0 1 0 -3.8 0M77.98 271.6a1.9 1.9 0 1 0 3.8 0a1.9 1.9 0 1 0 -3.8 0M77.98 267.53a1.9 1.9 0 1 0 3.8 0a1.9 1.9 0 1 0 -3.8 0M77.98 263.46a1.9 1.9 0 1 0 3.8 0a1.9 1.9 0 1 0 -3.8 0M77.98 259.39a1.9 1.9 0 1 0 3.8 0a1.9 1.9 0 1 0 -3.8 0M77.98 255.32a1.9 1.9 0 1 0 3.8 0a1.9 1.9 0 1 0 -3.8 0M77.98 251.25a1.9 1.9 0 1 0 3.8 0a1.9 1.9 0 1 0 -3.8 0M77.98 247.18a1.9 1.9 0 1 0 3.8 0a1.9 1.9 0 1 0 -3.8 0M77.98 243.11a1.9 1.9 0 1 0 3.8 0a1.9 1.9 0 1 0 -3.8 0M77.98 239.04a1.9 1.9 0 1 0 3.8 0a1.9 1.9 0 1 0 -3.8 0M77.98 234.97a1.9 1.9 0 1 0 3.8 0a1.9 1.9 0 1 0 -3.8 0M77.98 230.9a1.9 1.9 0 1 0 3.8 0a1.9 1.9 0 1 0 -3.8 0M77.98 226.83a1.9 1.9 0 1 0 3.8 0a1.9 1.9 0 1 0 -3.8 0M81.49 353a1.9 1.9 0 1 0 3.8 0a1.9 1.9 0 1 0 -3.8 0M81.49 348.93a1.9 1.9 0 1 0 3.8 0a1.9 1.9 0 1 0 -3.8 0M81.49 344.86a1.9 1.9 0 1 0 3.8 0a1.9 1.9 0 1 0 -3.8 0M81.49 340.79a1.9 1.9 0 1 0 3.8 0a1.9 1.9 0 1 0 -3.8 0M81.49 336.72a1.9 1.9 0 1 0 3.8 0a1.9 1.9 0 1 0 -3.8 0M81.49 332.65a1.9 1.9 0 1 0 3.8 0a1.9 1.9 0 1 0 -3.8 0M81.49 328.58a1.9 1.9 0 1 0 3.8 0a1.9 1.9 0 1 0 -3.8 0M81.49 324.51a1.9 1.9 0 1 0 3.8 0a1.9 1.9 0 1 0 -3.8 0M81.49 320.44a1.9 1.9 0 1 0 3.8 0a1.9 1.9 0 1 0 -3.8 0M81.49 316.37a1.9 1.9 0 1 0 3.8 0a1.9 1.9 0 1 0 -3.8 0M81.49 312.3a1.9 1.9 0 1 0 3.8 0a1.9 1.9 0 1 0 -3.8 0M81.49 308.23a1.9 1.9 0 1 0 3.8 0a1.9 1.9 0 1 0 -3.8 0M81.49 304.16a1.9 1.9 0 1 0 3.8 0a1.9 1.9 0 1 0 -3.8 0M81.49 300.09a1.9 1.9 0 1 0 3.8 0a1.9 1.9 0 1 0 -3.8 0M81.49 296.02a1.9 1.9 0 1 0 3.8 0a1.9 1.9 0 1 0 -3.8 0M81.49 291.95a1.9 1.9 0 1 0 3.8 0a1.9 1.9 0 1 0 -3.8 0M81.49 287.88a1.9 1.9 0 1 0 3.8 0a1.9 1.9 0 1 0 -3.8 0M81.49 283.81a1.9 1.9 0 1 0 3.8 0a1.9 1.9 0 1 0 -3.8 0M81.49 279.74a1.9 1.9 0 1 0 3.8 0a1.9 1.9 0 1 0 -3.8 0M81.49 275.67a1.9 1.9 0 1 0 3.8 0a1.9 1.9 0 1 0 -3.8 0M81.49 271.6a1.9 1.9 0 1 0 3.8 0a1.9 1.9 0 1 0 -3.8 0M81.49 267.53a1.9 1.9 0 1 0 3.8 0a1.9 1.9 0 1 0 -3.8 0M81.49 263.46a1.9 1.9 0 1 0 3.8 0a1.9 1.9 0 1 0 -3.8 0M81.49 259.39a1.9 1.9 0 1 0 3.8 0a1.9 1.9 0 1 0 -3.8 0M81.49 255.32a1.9 1.9 0 1 0 3.8 0a1.9 1.9 0 1 0 -3.8 0M81.49 251.25a1.9 1.9 0 1 0 3.8 0a1.9 1.9 0 1 0 -3.8 0M81.49 247.18a1.9 1.9 0 1 0 3.8 0a1.9 1.9 0 1 0 -3.8 0M81.49 243.11a1.9 1.9 0 1 0 3.8 0a1.9 1.9 0 1 0 -3.8 0M81.49 239.04a1.9 1.9 0 1 0 3.8 0a1.9 1.9 0 1 0 -3.8 0M81.49 234.97a1.9 1.9 0 1 0 3.8 0a1.9 1.9 0 1 0 -3.8 0M81.49 230.9a1.9 1.9 0 1 0 3.8 0a1.9 1.9 0 1 0 -3.8 0M81.49 226.83a1.9 1.9 0 1 0 3.8 0a1.9 1.9 0 1 0 -3.8 0M85.01 353a1.9 1.9 0 1 0 3.8 0a1.9 1.9 0 1 0 -3.8 0M85.01 348.93a1.9 1.9 0 1 0 3.8 0a1.9 1.9 0 1 0 -3.8 0M85.01 344.86a1.9 1.9 0 1 0 3.8 0a1.9 1.9 0 1 0 -3.8 0M85.01 340.79a1.9 1.9 0 1 0 3.8 0a1.9 1.9 0 1 0 -3.8 0M85.01 336.72a1.9 1.9 0 1 0 3.8 0a1.9 1.9 0 1 0 -3.8 0M85.01 332.65a1.9 1.9 0 1 0 3.8 0a1.9 1.9 0 1 0 -3.8 0M85.01 328.58a1.9 1.9 0 1 0 3.8 0a1.9 1.9 0 1 0 -3.8 0M85.01 324.51a1.9 1.9 0 1 0 3.8 0a1.9 1.9 0 1 0 -3.8 0M85.01 320.44a1.9 1.9 0 1 0 3.8 0a1.9 1.9 0 1 0 -3.8 0M85.01 316.37a1.9 1.9 0 1 0 3.8 0a1.9 1.9 0 1 0 -3.8 0M85.01 312.3a1.9 1.9 0 1 0 3.8 0a1.9 1.9 0 1 0 -3.8 0M85.01 308.23a1.9 1.9 0 1 0 3.8 0a1.9 1.9 0 1 0 -3.8 0M85.01 304.16a1.9 1.9 0 1 0 3.8 0a1.9 1.9 0 1 0 -3.8 0M85.01 300.09a1.9 1.9 0 1 0 3.8 0a1.9 1.9 0 1 0 -3.8 0M85.01 296.02a1.9 1.9 0 1 0 3.8 0a1.9 1.9 0 1 0 -3.8 0M85.01 291.95a1.9 1.9 0 1 0 3.8 0a1.9 1.9 0 1 0 -3.8 0M85.01 287.88a1.9 1.9 0 1 0 3.8 0a1.9 1.9 0 1 0 -3.8 0M85.01 283.81a1.9 1.9 0 1 0 3.8 0a1.9 1.9 0 1 0 -3.8 0M85.01 279.74a1.9 1.9 0 1 0 3.8 0a1.9 1.9 0 1 0 -3.8 0M85.01 275.67a1.9 1.9 0 1 0 3.8 0a1.9 1.9 0 1 0 -3.8 0M85.01 271.6a1.9 1.9 0 1 0 3.8 0a1.9 1.9 0 1 0 -3.8 0M85.01 267.53a1.9 1.9 0 1 0 3.8 0a1.9 1.9 0 1 0 -3.8 0M85.01 263.46a1.9 1.9 0 1 0 3.8 0a1.9 1.9 0 1 0 -3.8 0M85.01 259.39a1.9 1.9 0 1 0 3.8 0a1.9 1.9 0 1 0 -3.8 0M85.01 255.32a1.9 1.9 0 1 0 3.8 0a1.9 1.9 0 1 0 -3.8 0M85.01 251.25a1.9 1.9 0 1 0 3.8 0a1.9 1.9 0 1 0 -3.8 0M85.01 247.18a1.9 1.9 0 1 0 3.8 0a1.9 1.9 0 1 0 -3.8 0M85.01 243.11a1.9 1.9 0 1 0 3.8 0a1.9 1.9 0 1 0 -3.8 0M85.01 239.04a1.9 1.9 0 1 0 3.8 0a1.9 1.9 0 1 0 -3.8 0M85.01 234.97a1.9 1.9 0 1 0 3.8 0a1.9 1.9 0 1 0 -3.8 0M85.01 230.9a1.9 1.9 0 1 0 3.8 0a1.9 1.9 0 1 0 -3.8 0M85.01 226.83a1.9 1.9 0 1 0 3.8 0a1.9 1.9 0 1 0 -3.8 0M88.52 353a1.9 1.9 0 1 0 3.8 0a1.9 1.9 0 1 0 -3.8 0M88.52 348.93a1.9 1.9 0 1 0 3.8 0a1.9 1.9 0 1 0 -3.8 0M88.52 344.86a1.9 1.9 0 1 0 3.8 0a1.9 1.9 0 1 0 -3.8 0M88.52 340.79a1.9 1.9 0 1 0 3.8 0a1.9 1.9 0 1 0 -3.8 0M88.52 336.72a1.9 1.9 0 1 0 3.8 0a1.9 1.9 0 1 0 -3.8 0M88.52 332.65a1.9 1.9 0 1 0 3.8 0a1.9 1.9 0 1 0 -3.8 0M88.52 328.58a1.9 1.9 0 1 0 3.8 0a1.9 1.9 0 1 0 -3.8 0M88.52 324.51a1.9 1.9 0 1 0 3.8 0a1.9 1.9 0 1 0 -3.8 0M88.52 320.44a1.9 1.9 0 1 0 3.8 0a1.9 1.9 0 1 0 -3.8 0M88.52 316.37a1.9 1.9 0 1 0 3.8 0a1.9 1.9 0 1 0 -3.8 0M88.52 312.3a1.9 1.9 0 1 0 3.8 0a1.9 1.9 0 1 0 -3.8 0M88.52 308.23a1.9 1.9 0 1 0 3.8 0a1.9 1.9 0 1 0 -3.8 0M88.52 304.16a1.9 1.9 0 1 0 3.8 0a1.9 1.9 0 1 0 -3.8 0M88.52 300.09a1.9 1.9 0 1 0 3.8 0a1.9 1.9 0 1 0 -3.8 0M88.52 296.02a1.9 1.9 0 1 0 3.8 0a1.9 1.9 0 1 0 -3.8 0M88.52 291.95a1.9 1.9 0 1 0 3.8 0a1.9 1.9 0 1 0 -3.8 0M88.52 287.88a1.9 1.9 0 1 0 3.8 0a1.9 1.9 0 1 0 -3.8 0M88.52 283.81a1.9 1.9 0 1 0 3.8 0a1.9 1.9 0 1 0 -3.8 0M88.52 279.74a1.9 1.9 0 1 0 3.8 0a1.9 1.9 0 1 0 -3.8 0M88.52 275.67a1.9 1.9 0 1 0 3.8 0a1.9 1.9 0 1 0 -3.8 0M88.52 271.6a1.9 1.9 0 1 0 3.8 0a1.9 1.9 0 1 0 -3.8 0M88.52 267.53a1.9 1.9 0 1 0 3.8 0a1.9 1.9 0 1 0 -3.8 0M88.52 263.46a1.9 1.9 0 1 0 3.8 0a1.9 1.9 0 1 0 -3.8 0M88.52 259.39a1.9 1.9 0 1 0 3.8 0a1.9 1.9 0 1 0 -3.8 0M88.52 255.32a1.9 1.9 0 1 0 3.8 0a1.9 1.9 0 1 0 -3.8 0M88.52 251.25a1.9 1.9 0 1 0 3.8 0a1.9 1.9 0 1 0 -3.8 0M88.52 247.18a1.9 1.9 0 1 0 3.8 0a1.9 1.9 0 1 0 -3.8 0M88.52 243.11a1.9 1.9 0 1 0 3.8 0a1.9 1.9 0 1 0 -3.8 0M88.52 239.04a1.9 1.9 0 1 0 3.8 0a1.9 1.9 0 1 0 -3.8 0M88.52 234.97a1.9 1.9 0 1 0 3.8 0a1.9 1.9 0 1 0 -3.8 0M88.52 230.9a1.9 1.9 0 1 0 3.8 0a1.9 1.9 0 1 0 -3.8 0M88.52 226.83a1.9 1.9 0 1 0 3.8 0a1.9 1.9 0 1 0 -3.8 0M92.03 353a1.9 1.9 0 1 0 3.8 0a1.9 1.9 0 1 0 -3.8 0M92.03 348.93a1.9 1.9 0 1 0 3.8 0a1.9 1.9 0 1 0 -3.8 0M92.03 344.86a1.9 1.9 0 1 0 3.8 0a1.9 1.9 0 1 0 -3.8 0M92.03 340.79a1.9 1.9 0 1 0 3.8 0a1.9 1.9 0 1 0 -3.8 0M92.03 336.72a1.9 1.9 0 1 0 3.8 0a1.9 1.9 0 1 0 -3.8 0M92.03 332.65a1.9 1.9 0 1 0 3.8 0a1.9 1.9 0 1 0 -3.8 0M92.03 328.58a1.9 1.9 0 1 0 3.8 0a1.9 1.9 0 1 0 -3.8 0M92.03 324.51a1.9 1.9 0 1 0 3.8 0a1.9 1.9 0 1 0 -3.8 0M92.03 320.44a1.9 1.9 0 1 0 3.8 0a1.9 1.9 0 1 0 -3.8 0M92.03 316.37a1.9 1.9 0 1 0 3.8 0a1.9 1.9 0 1 0 -3.8 0M92.03 312.3a1.9 1.9 0 1 0 3.8 0a1.9 1.9 0 1 0 -3.8 0M92.03 308.23a1.9 1.9 0 1 0 3.8 0a1.9 1.9 0 1 0 -3.8 0M92.03 304.16a1.9 1.9 0 1 0 3.8 0a1.9 1.9 0 1 0 -3.8 0M92.03 300.09a1.9 1.9 0 1 0 3.8 0a1.9 1.9 0 1 0 -3.8 0M92.03 296.02a1.9 1.9 0 1 0 3.8 0a1.9 1.9 0 1 0 -3.8 0M92.03 291.95a1.9 1.9 0 1 0 3.8 0a1.9 1.9 0 1 0 -3.8 0M92.03 287.88a1.9 1.9 0 1 0 3.8 0a1.9 1.9 0 1 0 -3.8 0M92.03 283.81a1.9 1.9 0 1 0 3.8 0a1.9 1.9 0 1 0 -3.8 0M92.03 279.74a1.9 1.9 0 1 0 3.8 0a1.9 1.9 0 1 0 -3.8 0M92.03 275.67a1.9 1.9 0 1 0 3.8 0a1.9 1.9 0 1 0 -3.8 0M92.03 271.6a1.9 1.9 0 1 0 3.8 0a1.9 1.9 0 1 0 -3.8 0M92.03 267.53a1.9 1.9 0 1 0 3.8 0a1.9 1.9 0 1 0 -3.8 0M92.03 263.46a1.9 1.9 0 1 0 3.8 0a1.9 1.9 0 1 0 -3.8 0M92.03 259.39a1.9 1.9 0 1 0 3.8 0a1.9 1.9 0 1 0 -3.8 0M92.03 255.32a1.9 1.9 0 1 0 3.8 0a1.9 1.9 0 1 0 -3.8 0M92.03 251.25a1.9 1.9 0 1 0 3.8 0a1.9 1.9 0 1 0 -3.8 0M92.03 247.18a1.9 1.9 0 1 0 3.8 0a1.9 1.9 0 1 0 -3.8 0M92.03 243.11a1.9 1.9 0 1 0 3.8 0a1.9 1.9 0 1 0 -3.8 0M92.03 239.04a1.9 1.9 0 1 0 3.8 0a1.9 1.9 0 1 0 -3.8 0M92.03 234.97a1.9 1.9 0 1 0 3.8 0a1.9 1.9 0 1 0 -3.8 0M92.03 230.9a1.9 1.9 0 1 0 3.8 0a1.9 1.9 0 1 0 -3.8 0M92.03 226.83a1.9 1.9 0 1 0 3.8 0a1.9 1.9 0 1 0 -3.8 0M95.55 353a1.9 1.9 0 1 0 3.8 0a1.9 1.9 0 1 0 -3.8 0M95.55 348.93a1.9 1.9 0 1 0 3.8 0a1.9 1.9 0 1 0 -3.8 0M95.55 344.86a1.9 1.9 0 1 0 3.8 0a1.9 1.9 0 1 0 -3.8 0M95.55 340.79a1.9 1.9 0 1 0 3.8 0a1.9 1.9 0 1 0 -3.8 0M95.55 336.72a1.9 1.9 0 1 0 3.8 0a1.9 1.9 0 1 0 -3.8 0M95.55 332.65a1.9 1.9 0 1 0 3.8 0a1.9 1.9 0 1 0 -3.8 0M95.55 328.58a1.9 1.9 0 1 0 3.8 0a1.9 1.9 0 1 0 -3.8 0M95.55 324.51a1.9 1.9 0 1 0 3.8 0a1.9 1.9 0 1 0 -3.8 0M95.55 320.44a1.9 1.9 0 1 0 3.8 0a1.9 1.9 0 1 0 -3.8 0M95.55 316.37a1.9 1.9 0 1 0 3.8 0a1.9 1.9 0 1 0 -3.8 0M95.55 312.3a1.9 1.9 0 1 0 3.8 0a1.9 1.9 0 1 0 -3.8 0M95.55 308.23a1.9 1.9 0 1 0 3.8 0a1.9 1.9 0 1 0 -3.8 0M95.55 304.16a1.9 1.9 0 1 0 3.8 0a1.9 1.9 0 1 0 -3.8 0M95.55 300.09a1.9 1.9 0 1 0 3.8 0a1.9 1.9 0 1 0 -3.8 0M95.55 296.02a1.9 1.9 0 1 0 3.8 0a1.9 1.9 0 1 0 -3.8 0M95.55 291.95a1.9 1.9 0 1 0 3.8 0a1.9 1.9 0 1 0 -3.8 0M95.55 287.88a1.9 1.9 0 1 0 3.8 0a1.9 1.9 0 1 0 -3.8 0M95.55 283.81a1.9 1.9 0 1 0 3.8 0a1.9 1.9 0 1 0 -3.8 0M95.55 279.74a1.9 1.9 0 1 0 3.8 0a1.9 1.9 0 1 0 -3.8 0M95.55 275.67a1.9 1.9 0 1 0 3.8 0a1.9 1.9 0 1 0 -3.8 0M95.55 271.6a1.9 1.9 0 1 0 3.8 0a1.9 1.9 0 1 0 -3.8 0M95.55 267.53a1.9 1.9 0 1 0 3.8 0a1.9 1.9 0 1 0 -3.8 0M95.55 263.46a1.9 1.9 0 1 0 3.8 0a1.9 1.9 0 1 0 -3.8 0M95.55 259.39a1.9 1.9 0 1 0 3.8 0a1.9 1.9 0 1 0 -3.8 0M95.55 255.32a1.9 1.9 0 1 0 3.8 0a1.9 1.9 0 1 0 -3.8 0M95.55 251.25a1.9 1.9 0 1 0 3.8 0a1.9 1.9 0 1 0 -3.8 0M95.55 247.18a1.9 1.9 0 1 0 3.8 0a1.9 1.9 0 1 0 -3.8 0M95.55 243.11a1.9 1.9 0 1 0 3.8 0a1.9 1.9 0 1 0 -3.8 0M95.55 239.04a1.9 1.9 0 1 0 3.8 0a1.9 1.9 0 1 0 -3.8 0M95.55 234.97a1.9 1.9 0 1 0 3.8 0a1.9 1.9 0 1 0 -3.8 0M95.55 230.9a1.9 1.9 0 1 0 3.8 0a1.9 1.9 0 1 0 -3.8 0M95.55 226.83a1.9 1.9 0 1 0 3.8 0a1.9 1.9 0 1 0 -3.8 0M99.06 353a1.9 1.9 0 1 0 3.8 0a1.9 1.9 0 1 0 -3.8 0M99.06 348.93a1.9 1.9 0 1 0 3.8 0a1.9 1.9 0 1 0 -3.8 0M99.06 344.86a1.9 1.9 0 1 0 3.8 0a1.9 1.9 0 1 0 -3.8 0M99.06 340.79a1.9 1.9 0 1 0 3.8 0a1.9 1.9 0 1 0 -3.8 0M99.06 336.72a1.9 1.9 0 1 0 3.8 0a1.9 1.9 0 1 0 -3.8 0M99.06 332.65a1.9 1.9 0 1 0 3.8 0a1.9 1.9 0 1 0 -3.8 0M99.06 328.58a1.9 1.9 0 1 0 3.8 0a1.9 1.9 0 1 0 -3.8 0M99.06 324.51a1.9 1.9 0 1 0 3.8 0a1.9 1.9 0 1 0 -3.8 0M99.06 320.44a1.9 1.9 0 1 0 3.8 0a1.9 1.9 0 1 0 -3.8 0M99.06 316.37a1.9 1.9 0 1 0 3.8 0a1.9 1.9 0 1 0 -3.8 0M99.06 312.3a1.9 1.9 0 1 0 3.8 0a1.9 1.9 0 1 0 -3.8 0M99.06 308.23a1.9 1.9 0 1 0 3.8 0a1.9 1.9 0 1 0 -3.8 0M99.06 304.16a1.9 1.9 0 1 0 3.8 0a1.9 1.9 0 1 0 -3.8 0M99.06 300.09a1.9 1.9 0 1 0 3.8 0a1.9 1.9 0 1 0 -3.8 0M99.06 296.02a1.9 1.9 0 1 0 3.8 0a1.9 1.9 0 1 0 -3.8 0M99.06 291.95a1.9 1.9 0 1 0 3.8 0a1.9 1.9 0 1 0 -3.8 0M99.06 287.88a1.9 1.9 0 1 0 3.8 0a1.9 1.9 0 1 0 -3.8 0M99.06 283.81a1.9 1.9 0 1 0 3.8 0a1.9 1.9 0 1 0 -3.8 0M99.06 279.74a1.9 1.9 0 1 0 3.8 0a1.9 1.9 0 1 0 -3.8 0M99.06 275.67a1.9 1.9 0 1 0 3.8 0a1.9 1.9 0 1 0 -3.8 0M99.06 271.6a1.9 1.9 0 1 0 3.8 0a1.9 1.9 0 1 0 -3.8 0M99.06 267.53a1.9 1.9 0 1 0 3.8 0a1.9 1.9 0 1 0 -3.8 0M99.06 263.46a1.9 1.9 0 1 0 3.8 0a1.9 1.9 0 1 0 -3.8 0M99.06 259.39a1.9 1.9 0 1 0 3.8 0a1.9 1.9 0 1 0 -3.8 0M99.06 255.32a1.9 1.9 0 1 0 3.8 0a1.9 1.9 0 1 0 -3.8 0M99.06 251.25a1.9 1.9 0 1 0 3.8 0a1.9 1.9 0 1 0 -3.8 0M99.06 247.18a1.9 1.9 0 1 0 3.8 0a1.9 1.9 0 1 0 -3.8 0M99.06 243.11a1.9 1.9 0 1 0 3.8 0a1.9 1.9 0 1 0 -3.8 0M99.06 239.04a1.9 1.9 0 1 0 3.8 0a1.9 1.9 0 1 0 -3.8 0M99.06 234.97a1.9 1.9 0 1 0 3.8 0a1.9 1.9 0 1 0 -3.8 0M99.06 230.9a1.9 1.9 0 1 0 3.8 0a1.9 1.9 0 1 0 -3.8 0M99.06 226.83a1.9 1.9 0 1 0 3.8 0a1.9 1.9 0 1 0 -3.8 0M102.57 353a1.9 1.9 0 1 0 3.8 0a1.9 1.9 0 1 0 -3.8 0M102.57 348.93a1.9 1.9 0 1 0 3.8 0a1.9 1.9 0 1 0 -3.8 0M102.57 344.86a1.9 1.9 0 1 0 3.8 0a1.9 1.9 0 1 0 -3.8 0M102.57 340.79a1.9 1.9 0 1 0 3.8 0a1.9 1.9 0 1 0 -3.8 0M102.57 336.72a1.9 1.9 0 1 0 3.8 0a1.9 1.9 0 1 0 -3.8 0M102.57 332.65a1.9 1.9 0 1 0 3.8 0a1.9 1.9 0 1 0 -3.8 0M102.57 328.58a1.9 1.9 0 1 0 3.8 0a1.9 1.9 0 1 0 -3.8 0M102.57 324.51a1.9 1.9 0 1 0 3.8 0a1.9 1.9 0 1 0 -3.8 0M102.57 320.44a1.9 1.9 0 1 0 3.8 0a1.9 1.9 0 1 0 -3.8 0M102.57 316.37a1.9 1.9 0 1 0 3.8 0a1.9 1.9 0 1 0 -3.8 0M102.57 312.3a1.9 1.9 0 1 0 3.8 0a1.9 1.9 0 1 0 -3.8 0M102.57 308.23a1.9 1.9 0 1 0 3.8 0a1.9 1.9 0 1 0 -3.8 0M102.57 304.16a1.9 1.9 0 1 0 3.8 0a1.9 1.9 0 1 0 -3.8 0M102.57 300.09a1.9 1.9 0 1 0 3.8 0a1.9 1.9 0 1 0 -3.8 0M102.57 296.02a1.9 1.9 0 1 0 3.8 0a1.9 1.9 0 1 0 -3.8 0M102.57 291.95a1.9 1.9 0 1 0 3.8 0a1.9 1.9 0 1 0 -3.8 0M102.57 287.88a1.9 1.9 0 1 0 3.8 0a1.9 1.9 0 1 0 -3.8 0M102.57 283.81a1.9 1.9 0 1 0 3.8 0a1.9 1.9 0 1 0 -3.8 0M102.57 279.74a1.9 1.9 0 1 0 3.8 0a1.9 1.9 0 1 0 -3.8 0M102.57 275.67a1.9 1.9 0 1 0 3.8 0a1.9 1.9 0 1 0 -3.8 0M102.57 271.6a1.9 1.9 0 1 0 3.8 0a1.9 1.9 0 1 0 -3.8 0M102.57 267.53a1.9 1.9 0 1 0 3.8 0a1.9 1.9 0 1 0 -3.8 0M102.57 263.46a1.9 1.9 0 1 0 3.8 0a1.9 1.9 0 1 0 -3.8 0M102.57 259.39a1.9 1.9 0 1 0 3.8 0a1.9 1.9 0 1 0 -3.8 0M102.57 255.32a1.9 1.9 0 1 0 3.8 0a1.9 1.9 0 1 0 -3.8 0M102.57 251.25a1.9 1.9 0 1 0 3.8 0a1.9 1.9 0 1 0 -3.8 0M102.57 247.18a1.9 1.9 0 1 0 3.8 0a1.9 1.9 0 1 0 -3.8 0M102.57 243.11a1.9 1.9 0 1 0 3.8 0a1.9 1.9 0 1 0 -3.8 0M102.57 239.04a1.9 1.9 0 1 0 3.8 0a1.9 1.9 0 1 0 -3.8 0M102.57 234.97a1.9 1.9 0 1 0 3.8 0a1.9 1.9 0 1 0 -3.8 0M102.57 230.9a1.9 1.9 0 1 0 3.8 0a1.9 1.9 0 1 0 -3.8 0M102.57 226.83a1.9 1.9 0 1 0 3.8 0a1.9 1.9 0 1 0 -3.8 0M106.09 353a1.9 1.9 0 1 0 3.8 0a1.9 1.9 0 1 0 -3.8 0M106.09 348.93a1.9 1.9 0 1 0 3.8 0a1.9 1.9 0 1 0 -3.8 0M106.09 344.86a1.9 1.9 0 1 0 3.8 0a1.9 1.9 0 1 0 -3.8 0M106.09 340.79a1.9 1.9 0 1 0 3.8 0a1.9 1.9 0 1 0 -3.8 0M106.09 336.72a1.9 1.9 0 1 0 3.8 0a1.9 1.9 0 1 0 -3.8 0M106.09 332.65a1.9 1.9 0 1 0 3.8 0a1.9 1.9 0 1 0 -3.8 0M106.09 328.58a1.9 1.9 0 1 0 3.8 0a1.9 1.9 0 1 0 -3.8 0M106.09 324.51a1.9 1.9 0 1 0 3.8 0a1.9 1.9 0 1 0 -3.8 0M106.09 320.44a1.9 1.9 0 1 0 3.8 0a1.9 1.9 0 1 0 -3.8 0M106.09 316.37a1.9 1.9 0 1 0 3.8 0a1.9 1.9 0 1 0 -3.8 0M106.09 312.3a1.9 1.9 0 1 0 3.8 0a1.9 1.9 0 1 0 -3.8 0M106.09 308.23a1.9 1.9 0 1 0 3.8 0a1.9 1.9 0 1 0 -3.8 0M106.09 304.16a1.9 1.9 0 1 0 3.8 0a1.9 1.9 0 1 0 -3.8 0M106.09 300.09a1.9 1.9 0 1 0 3.8 0a1.9 1.9 0 1 0 -3.8 0M106.09 296.02a1.9 1.9 0 1 0 3.8 0a1.9 1.9 0 1 0 -3.8 0M106.09 291.95a1.9 1.9 0 1 0 3.8 0a1.9 1.9 0 1 0 -3.8 0M106.09 287.88a1.9 1.9 0 1 0 3.8 0a1.9 1.9 0 1 0 -3.8 0M106.09 283.81a1.9 1.9 0 1 0 3.8 0a1.9 1.9 0 1 0 -3.8 0M106.09 279.74a1.9 1.9 0 1 0 3.8 0a1.9 1.9 0 1 0 -3.8 0M106.09 275.67a1.9 1.9 0 1 0 3.8 0a1.9 1.9 0 1 0 -3.8 0M106.09 271.6a1.9 1.9 0 1 0 3.8 0a1.9 1.9 0 1 0 -3.8 0M106.09 267.53a1.9 1.9 0 1 0 3.8 0a1.9 1.9 0 1 0 -3.8 0M106.09 263.46a1.9 1.9 0 1 0 3.8 0a1.9 1.9 0 1 0 -3.8 0M106.09 259.39a1.9 1.9 0 1 0 3.8 0a1.9 1.9 0 1 0 -3.8 0M106.09 255.32a1.9 1.9 0 1 0 3.8 0a1.9 1.9 0 1 0 -3.8 0M106.09 251.25a1.9 1.9 0 1 0 3.8 0a1.9 1.9 0 1 0 -3.8 0M106.09 247.18a1.9 1.9 0 1 0 3.8 0a1.9 1.9 0 1 0 -3.8 0M106.09 243.11a1.9 1.9 0 1 0 3.8 0a1.9 1.9 0 1 0 -3.8 0M106.09 239.04a1.9 1.9 0 1 0 3.8 0a1.9 1.9 0 1 0 -3.8 0M106.09 234.97a1.9 1.9 0 1 0 3.8 0a1.9 1.9 0 1 0 -3.8 0M106.09 230.9a1.9 1.9 0 1 0 3.8 0a1.9 1.9 0 1 0 -3.8 0M106.09 226.83a1.9 1.9 0 1 0 3.8 0a1.9 1.9 0 1 0 -3.8 0M109.6 353a1.9 1.9 0 1 0 3.8 0a1.9 1.9 0 1 0 -3.8 0M109.6 348.93a1.9 1.9 0 1 0 3.8 0a1.9 1.9 0 1 0 -3.8 0M109.6 344.86a1.9 1.9 0 1 0 3.8 0a1.9 1.9 0 1 0 -3.8 0M109.6 340.79a1.9 1.9 0 1 0 3.8 0a1.9 1.9 0 1 0 -3.8 0M109.6 336.72a1.9 1.9 0 1 0 3.8 0a1.9 1.9 0 1 0 -3.8 0M109.6 332.65a1.9 1.9 0 1 0 3.8 0a1.9 1.9 0 1 0 -3.8 0M109.6 328.58a1.9 1.9 0 1 0 3.8 0a1.9 1.9 0 1 0 -3.8 0M109.6 324.51a1.9 1.9 0 1 0 3.8 0a1.9 1.9 0 1 0 -3.8 0M109.6 320.44a1.9 1.9 0 1 0 3.8 0a1.9 1.9 0 1 0 -3.8 0M109.6 316.37a1.9 1.9 0 1 0 3.8 0a1.9 1.9 0 1 0 -3.8 0M109.6 312.3a1.9 1.9 0 1 0 3.8 0a1.9 1.9 0 1 0 -3.8 0M109.6 308.23a1.9 1.9 0 1 0 3.8 0a1.9 1.9 0 1 0 -3.8 0M109.6 304.16a1.9 1.9 0 1 0 3.8 0a1.9 1.9 0 1 0 -3.8 0M109.6 300.09a1.9 1.9 0 1 0 3.8 0a1.9 1.9 0 1 0 -3.8 0M109.6 296.02a1.9 1.9 0 1 0 3.8 0a1.9 1.9 0 1 0 -3.8 0M109.6 291.95a1.9 1.9 0 1 0 3.8 0a1.9 1.9 0 1 0 -3.8 0M109.6 287.88a1.9 1.9 0 1 0 3.8 0a1.9 1.9 0 1 0 -3.8 0M109.6 283.81a1.9 1.9 0 1 0 3.8 0a1.9 1.9 0 1 0 -3.8 0M109.6 279.74a1.9 1.9 0 1 0 3.8 0a1.9 1.9 0 1 0 -3.8 0M109.6 275.67a1.9 1.9 0 1 0 3.8 0a1.9 1.9 0 1 0 -3.8 0M109.6 271.6a1.9 1.9 0 1 0 3.8 0a1.9 1.9 0 1 0 -3.8 0M109.6 267.53a1.9 1.9 0 1 0 3.8 0a1.9 1.9 0 1 0 -3.8 0M109.6 263.46a1.9 1.9 0 1 0 3.8 0a1.9 1.9 0 1 0 -3.8 0M109.6 259.39a1.9 1.9 0 1 0 3.8 0a1.9 1.9 0 1 0 -3.8 0M109.6 255.32a1.9 1.9 0 1 0 3.8 0a1.9 1.9 0 1 0 -3.8 0M109.6 251.25a1.9 1.9 0 1 0 3.8 0a1.9 1.9 0 1 0 -3.8 0M109.6 247.18a1.9 1.9 0 1 0 3.8 0a1.9 1.9 0 1 0 -3.8 0M109.6 243.11a1.9 1.9 0 1 0 3.8 0a1.9 1.9 0 1 0 -3.8 0M109.6 239.04a1.9 1.9 0 1 0 3.8 0a1.9 1.9 0 1 0 -3.8 0M109.6 234.97a1.9 1.9 0 1 0 3.8 0a1.9 1.9 0 1 0 -3.8 0M109.6 230.9a1.9 1.9 0 1 0 3.8 0a1.9 1.9 0 1 0 -3.8 0M109.6 226.83a1.9 1.9 0 1 0 3.8 0a1.9 1.9 0 1 0 -3.8 0M113.11 353a1.9 1.9 0 1 0 3.8 0a1.9 1.9 0 1 0 -3.8 0M113.11 348.93a1.9 1.9 0 1 0 3.8 0a1.9 1.9 0 1 0 -3.8 0M113.11 344.86a1.9 1.9 0 1 0 3.8 0a1.9 1.9 0 1 0 -3.8 0M113.11 340.79a1.9 1.9 0 1 0 3.8 0a1.9 1.9 0 1 0 -3.8 0M113.11 336.72a1.9 1.9 0 1 0 3.8 0a1.9 1.9 0 1 0 -3.8 0M113.11 332.65a1.9 1.9 0 1 0 3.8 0a1.9 1.9 0 1 0 -3.8 0M113.11 328.58a1.9 1.9 0 1 0 3.8 0a1.9 1.9 0 1 0 -3.8 0M113.11 324.51a1.9 1.9 0 1 0 3.8 0a1.9 1.9 0 1 0 -3.8 0M113.11 320.44a1.9 1.9 0 1 0 3.8 0a1.9 1.9 0 1 0 -3.8 0M113.11 316.37a1.9 1.9 0 1 0 3.8 0a1.9 1.9 0 1 0 -3.8 0M113.11 312.3a1.9 1.9 0 1 0 3.8 0a1.9 1.9 0 1 0 -3.8 0M113.11 308.23a1.9 1.9 0 1 0 3.8 0a1.9 1.9 0 1 0 -3.8 0M113.11 304.16a1.9 1.9 0 1 0 3.8 0a1.9 1.9 0 1 0 -3.8 0M113.11 300.09a1.9 1.9 0 1 0 3.8 0a1.9 1.9 0 1 0 -3.8 0M113.11 296.02a1.9 1.9 0 1 0 3.8 0a1.9 1.9 0 1 0 -3.8 0M113.11 291.95a1.9 1.9 0 1 0 3.8 0a1.9 1.9 0 1 0 -3.8 0M113.11 287.88a1.9 1.9 0 1 0 3.8 0a1.9 1.9 0 1 0 -3.8 0M113.11 283.81a1.9 1.9 0 1 0 3.8 0a1.9 1.9 0 1 0 -3.8 0M113.11 279.74a1.9 1.9 0 1 0 3.8 0a1.9 1.9 0 1 0 -3.8 0M113.11 275.67a1.9 1.9 0 1 0 3.8 0a1.9 1.9 0 1 0 -3.8 0M113.11 271.6a1.9 1.9 0 1 0 3.8 0a1.9 1.9 0 1 0 -3.8 0M113.11 267.53a1.9 1.9 0 1 0 3.8 0a1.9 1.9 0 1 0 -3.8 0M113.11 263.46a1.9 1.9 0 1 0 3.8 0a1.9 1.9 0 1 0 -3.8 0M113.11 259.39a1.9 1.9 0 1 0 3.8 0a1.9 1.9 0 1 0 -3.8 0M113.11 255.32a1.9 1.9 0 1 0 3.8 0a1.9 1.9 0 1 0 -3.8 0M113.11 251.25a1.9 1.9 0 1 0 3.8 0a1.9 1.9 0 1 0 -3.8 0M113.11 247.18a1.9 1.9 0 1 0 3.8 0a1.9 1.9 0 1 0 -3.8 0M113.11 243.11a1.9 1.9 0 1 0 3.8 0a1.9 1.9 0 1 0 -3.8 0M113.11 239.04a1.9 1.9 0 1 0 3.8 0a1.9 1.9 0 1 0 -3.8 0M113.11 234.97a1.9 1.9 0 1 0 3.8 0a1.9 1.9 0 1 0 -3.8 0M113.11 230.9a1.9 1.9 0 1 0 3.8 0a1.9 1.9 0 1 0 -3.8 0M113.11 226.83a1.9 1.9 0 1 0 3.8 0a1.9 1.9 0 1 0 -3.8 0M116.62 353a1.9 1.9 0 1 0 3.8 0a1.9 1.9 0 1 0 -3.8 0M116.62 348.93a1.9 1.9 0 1 0 3.8 0a1.9 1.9 0 1 0 -3.8 0M116.62 344.86a1.9 1.9 0 1 0 3.8 0a1.9 1.9 0 1 0 -3.8 0M116.62 340.79a1.9 1.9 0 1 0 3.8 0a1.9 1.9 0 1 0 -3.8 0M116.62 336.72a1.9 1.9 0 1 0 3.8 0a1.9 1.9 0 1 0 -3.8 0M116.62 332.65a1.9 1.9 0 1 0 3.8 0a1.9 1.9 0 1 0 -3.8 0M116.62 328.58a1.9 1.9 0 1 0 3.8 0a1.9 1.9 0 1 0 -3.8 0M116.62 324.51a1.9 1.9 0 1 0 3.8 0a1.9 1.9 0 1 0 -3.8 0M116.62 320.44a1.9 1.9 0 1 0 3.8 0a1.9 1.9 0 1 0 -3.8 0M116.62 316.37a1.9 1.9 0 1 0 3.8 0a1.9 1.9 0 1 0 -3.8 0M116.62 312.3a1.9 1.9 0 1 0 3.8 0a1.9 1.9 0 1 0 -3.8 0M116.62 308.23a1.9 1.9 0 1 0 3.8 0a1.9 1.9 0 1 0 -3.8 0M116.62 304.16a1.9 1.9 0 1 0 3.8 0a1.9 1.9 0 1 0 -3.8 0M116.62 300.09a1.9 1.9 0 1 0 3.8 0a1.9 1.9 0 1 0 -3.8 0M116.62 296.02a1.9 1.9 0 1 0 3.8 0a1.9 1.9 0 1 0 -3.8 0M116.62 291.95a1.9 1.9 0 1 0 3.8 0a1.9 1.9 0 1 0 -3.8 0M116.62 287.88a1.9 1.9 0 1 0 3.8 0a1.9 1.9 0 1 0 -3.8 0M116.62 283.81a1.9 1.9 0 1 0 3.8 0a1.9 1.9 0 1 0 -3.8 0M116.62 279.74a1.9 1.9 0 1 0 3.8 0a1.9 1.9 0 1 0 -3.8 0M116.62 275.67a1.9 1.9 0 1 0 3.8 0a1.9 1.9 0 1 0 -3.8 0M116.62 271.6a1.9 1.9 0 1 0 3.8 0a1.9 1.9 0 1 0 -3.8 0M116.62 267.53a1.9 1.9 0 1 0 3.8 0a1.9 1.9 0 1 0 -3.8 0M116.62 263.46a1.9 1.9 0 1 0 3.8 0a1.9 1.9 0 1 0 -3.8 0M116.62 259.39a1.9 1.9 0 1 0 3.8 0a1.9 1.9 0 1 0 -3.8 0M116.62 255.32a1.9 1.9 0 1 0 3.8 0a1.9 1.9 0 1 0 -3.8 0M116.62 251.25a1.9 1.9 0 1 0 3.8 0a1.9 1.9 0 1 0 -3.8 0M116.62 247.18a1.9 1.9 0 1 0 3.8 0a1.9 1.9 0 1 0 -3.8 0M116.62 243.11a1.9 1.9 0 1 0 3.8 0a1.9 1.9 0 1 0 -3.8 0M116.62 239.04a1.9 1.9 0 1 0 3.8 0a1.9 1.9 0 1 0 -3.8 0M116.62 234.97a1.9 1.9 0 1 0 3.8 0a1.9 1.9 0 1 0 -3.8 0M116.62 230.9a1.9 1.9 0 1 0 3.8 0a1.9 1.9 0 1 0 -3.8 0M116.62 226.83a1.9 1.9 0 1 0 3.8 0a1.9 1.9 0 1 0 -3.8 0M120.14 353a1.9 1.9 0 1 0 3.8 0a1.9 1.9 0 1 0 -3.8 0M120.14 348.93a1.9 1.9 0 1 0 3.8 0a1.9 1.9 0 1 0 -3.8 0M120.14 344.86a1.9 1.9 0 1 0 3.8 0a1.9 1.9 0 1 0 -3.8 0M120.14 340.79a1.9 1.9 0 1 0 3.8 0a1.9 1.9 0 1 0 -3.8 0M120.14 336.72a1.9 1.9 0 1 0 3.8 0a1.9 1.9 0 1 0 -3.8 0M120.14 332.65a1.9 1.9 0 1 0 3.8 0a1.9 1.9 0 1 0 -3.8 0M120.14 328.58a1.9 1.9 0 1 0 3.8 0a1.9 1.9 0 1 0 -3.8 0M120.14 324.51a1.9 1.9 0 1 0 3.8 0a1.9 1.9 0 1 0 -3.8 0M120.14 320.44a1.9 1.9 0 1 0 3.8 0a1.9 1.9 0 1 0 -3.8 0M120.14 316.37a1.9 1.9 0 1 0 3.8 0a1.9 1.9 0 1 0 -3.8 0M120.14 312.3a1.9 1.9 0 1 0 3.8 0a1.9 1.9 0 1 0 -3.8 0M120.14 308.23a1.9 1.9 0 1 0 3.8 0a1.9 1.9 0 1 0 -3.8 0M120.14 304.16a1.9 1.9 0 1 0 3.8 0a1.9 1.9 0 1 0 -3.8 0M120.14 300.09a1.9 1.9 0 1 0 3.8 0a1.9 1.9 0 1 0 -3.8 0M120.14 296.02a1.9 1.9 0 1 0 3.8 0a1.9 1.9 0 1 0 -3.8 0M120.14 291.95a1.9 1.9 0 1 0 3.8 0a1.9 1.9 0 1 0 -3.8 0M120.14 287.88a1.9 1.9 0 1 0 3.8 0a1.9 1.9 0 1 0 -3.8 0M120.14 283.81a1.9 1.9 0 1 0 3.8 0a1.9 1.9 0 1 0 -3.8 0M120.14 279.74a1.9 1.9 0 1 0 3.8 0a1.9 1.9 0 1 0 -3.8 0M120.14 275.67a1.9 1.9 0 1 0 3.8 0a1.9 1.9 0 1 0 -3.8 0M120.14 271.6a1.9 1.9 0 1 0 3.8 0a1.9 1.9 0 1 0 -3.8 0M120.14 267.53a1.9 1.9 0 1 0 3.8 0a1.9 1.9 0 1 0 -3.8 0M120.14 263.46a1.9 1.9 0 1 0 3.8 0a1.9 1.9 0 1 0 -3.8 0M120.14 259.39a1.9 1.9 0 1 0 3.8 0a1.9 1.9 0 1 0 -3.8 0M120.14 255.32a1.9 1.9 0 1 0 3.8 0a1.9 1.9 0 1 0 -3.8 0M120.14 251.25a1.9 1.9 0 1 0 3.8 0a1.9 1.9 0 1 0 -3.8 0M120.14 247.18a1.9 1.9 0 1 0 3.8 0a1.9 1.9 0 1 0 -3.8 0M120.14 243.11a1.9 1.9 0 1 0 3.8 0a1.9 1.9 0 1 0 -3.8 0M120.14 239.04a1.9 1.9 0 1 0 3.8 0a1.9 1.9 0 1 0 -3.8 0M120.14 234.97a1.9 1.9 0 1 0 3.8 0a1.9 1.9 0 1 0 -3.8 0M120.14 230.9a1.9 1.9 0 1 0 3.8 0a1.9 1.9 0 1 0 -3.8 0M120.14 226.83a1.9 1.9 0 1 0 3.8 0a1.9 1.9 0 1 0 -3.8 0M123.65 353a1.9 1.9 0 1 0 3.8 0a1.9 1.9 0 1 0 -3.8 0M123.65 348.93a1.9 1.9 0 1 0 3.8 0a1.9 1.9 0 1 0 -3.8 0M123.65 344.86a1.9 1.9 0 1 0 3.8 0a1.9 1.9 0 1 0 -3.8 0M123.65 340.79a1.9 1.9 0 1 0 3.8 0a1.9 1.9 0 1 0 -3.8 0M123.65 336.72a1.9 1.9 0 1 0 3.8 0a1.9 1.9 0 1 0 -3.8 0M123.65 332.65a1.9 1.9 0 1 0 3.8 0a1.9 1.9 0 1 0 -3.8 0M123.65 328.58a1.9 1.9 0 1 0 3.8 0a1.9 1.9 0 1 0 -3.8 0M123.65 324.51a1.9 1.9 0 1 0 3.8 0a1.9 1.9 0 1 0 -3.8 0M123.65 320.44a1.9 1.9 0 1 0 3.8 0a1.9 1.9 0 1 0 -3.8 0M123.65 316.37a1.9 1.9 0 1 0 3.8 0a1.9 1.9 0 1 0 -3.8 0M123.65 312.3a1.9 1.9 0 1 0 3.8 0a1.9 1.9 0 1 0 -3.8 0M123.65 308.23a1.9 1.9 0 1 0 3.8 0a1.9 1.9 0 1 0 -3.8 0M123.65 304.16a1.9 1.9 0 1 0 3.8 0a1.9 1.9 0 1 0 -3.8 0M123.65 300.09a1.9 1.9 0 1 0 3.8 0a1.9 1.9 0 1 0 -3.8 0M123.65 296.02a1.9 1.9 0 1 0 3.8 0a1.9 1.9 0 1 0 -3.8 0M123.65 291.95a1.9 1.9 0 1 0 3.8 0a1.9 1.9 0 1 0 -3.8 0M123.65 287.88a1.9 1.9 0 1 0 3.8 0a1.9 1.9 0 1 0 -3.8 0M123.65 283.81a1.9 1.9 0 1 0 3.8 0a1.9 1.9 0 1 0 -3.8 0M123.65 279.74a1.9 1.9 0 1 0 3.8 0a1.9 1.9 0 1 0 -3.8 0M123.65 275.67a1.9 1.9 0 1 0 3.8 0a1.9 1.9 0 1 0 -3.8 0M123.65 271.6a1.9 1.9 0 1 0 3.8 0a1.9 1.9 0 1 0 -3.8 0M123.65 267.53a1.9 1.9 0 1 0 3.8 0a1.9 1.9 0 1 0 -3.8 0M123.65 263.46a1.9 1.9 0 1 0 3.8 0a1.9 1.9 0 1 0 -3.8 0M123.65 259.39a1.9 1.9 0 1 0 3.8 0a1.9 1.9 0 1 0 -3.8 0M123.65 255.32a1.9 1.9 0 1 0 3.8 0a1.9 1.9 0 1 0 -3.8 0M123.65 251.25a1.9 1.9 0 1 0 3.8 0a1.9 1.9 0 1 0 -3.8 0M123.65 247.18a1.9 1.9 0 1 0 3.8 0a1.9 1.9 0 1 0 -3.8 0M123.65 243.11a1.9 1.9 0 1 0 3.8 0a1.9 1.9 0 1 0 -3.8 0M123.65 239.04a1.9 1.9 0 1 0 3.8 0a1.9 1.9 0 1 0 -3.8 0M123.65 234.97a1.9 1.9 0 1 0 3.8 0a1.9 1.9 0 1 0 -3.8 0M123.65 230.9a1.9 1.9 0 1 0 3.8 0a1.9 1.9 0 1 0 -3.8 0M123.65 226.83a1.9 1.9 0 1 0 3.8 0a1.9 1.9 0 1 0 -3.8 0M127.16 353a1.9 1.9 0 1 0 3.8 0a1.9 1.9 0 1 0 -3.8 0M127.16 348.93a1.9 1.9 0 1 0 3.8 0a1.9 1.9 0 1 0 -3.8 0M127.16 344.86a1.9 1.9 0 1 0 3.8 0a1.9 1.9 0 1 0 -3.8 0M127.16 340.79a1.9 1.9 0 1 0 3.8 0a1.9 1.9 0 1 0 -3.8 0M127.16 336.72a1.9 1.9 0 1 0 3.8 0a1.9 1.9 0 1 0 -3.8 0M127.16 332.65a1.9 1.9 0 1 0 3.8 0a1.9 1.9 0 1 0 -3.8 0M127.16 328.58a1.9 1.9 0 1 0 3.8 0a1.9 1.9 0 1 0 -3.8 0M127.16 324.51a1.9 1.9 0 1 0 3.8 0a1.9 1.9 0 1 0 -3.8 0M127.16 320.44a1.9 1.9 0 1 0 3.8 0a1.9 1.9 0 1 0 -3.8 0M127.16 316.37a1.9 1.9 0 1 0 3.8 0a1.9 1.9 0 1 0 -3.8 0M127.16 312.3a1.9 1.9 0 1 0 3.8 0a1.9 1.9 0 1 0 -3.8 0M127.16 308.23a1.9 1.9 0 1 0 3.8 0a1.9 1.9 0 1 0 -3.8 0M127.16 304.16a1.9 1.9 0 1 0 3.8 0a1.9 1.9 0 1 0 -3.8 0M127.16 300.09a1.9 1.9 0 1 0 3.8 0a1.9 1.9 0 1 0 -3.8 0M127.16 296.02a1.9 1.9 0 1 0 3.8 0a1.9 1.9 0 1 0 -3.8 0M127.16 291.95a1.9 1.9 0 1 0 3.8 0a1.9 1.9 0 1 0 -3.8 0M127.16 287.88a1.9 1.9 0 1 0 3.8 0a1.9 1.9 0 1 0 -3.8 0M127.16 283.81a1.9 1.9 0 1 0 3.8 0a1.9 1.9 0 1 0 -3.8 0M127.16 279.74a1.9 1.9 0 1 0 3.8 0a1.9 1.9 0 1 0 -3.8 0M127.16 275.67a1.9 1.9 0 1 0 3.8 0a1.9 1.9 0 1 0 -3.8 0M127.16 271.6a1.9 1.9 0 1 0 3.8 0a1.9 1.9 0 1 0 -3.8 0M127.16 267.53a1.9 1.9 0 1 0 3.8 0a1.9 1.9 0 1 0 -3.8 0M127.16 263.46a1.9 1.9 0 1 0 3.8 0a1.9 1.9 0 1 0 -3.8 0M127.16 259.39a1.9 1.9 0 1 0 3.8 0a1.9 1.9 0 1 0 -3.8 0M127.16 255.32a1.9 1.9 0 1 0 3.8 0a1.9 1.9 0 1 0 -3.8 0M127.16 251.25a1.9 1.9 0 1 0 3.8 0a1.9 1.9 0 1 0 -3.8 0M127.16 247.18a1.9 1.9 0 1 0 3.8 0a1.9 1.9 0 1 0 -3.8 0M127.16 243.11a1.9 1.9 0 1 0 3.8 0a1.9 1.9 0 1 0 -3.8 0M127.16 239.04a1.9 1.9 0 1 0 3.8 0a1.9 1.9 0 1 0 -3.8 0M127.16 234.97a1.9 1.9 0 1 0 3.8 0a1.9 1.9 0 1 0 -3.8 0M127.16 230.9a1.9 1.9 0 1 0 3.8 0a1.9 1.9 0 1 0 -3.8 0M127.16 226.83a1.9 1.9 0 1 0 3.8 0a1.9 1.9 0 1 0 -3.8 0M130.68 353a1.9 1.9 0 1 0 3.8 0a1.9 1.9 0 1 0 -3.8 0M130.68 348.93a1.9 1.9 0 1 0 3.8 0a1.9 1.9 0 1 0 -3.8 0M130.68 344.86a1.9 1.9 0 1 0 3.8 0a1.9 1.9 0 1 0 -3.8 0M130.68 340.79a1.9 1.9 0 1 0 3.8 0a1.9 1.9 0 1 0 -3.8 0M130.68 336.72a1.9 1.9 0 1 0 3.8 0a1.9 1.9 0 1 0 -3.8 0M130.68 332.65a1.9 1.9 0 1 0 3.8 0a1.9 1.9 0 1 0 -3.8 0M130.68 328.58a1.9 1.9 0 1 0 3.8 0a1.9 1.9 0 1 0 -3.8 0M130.68 324.51a1.9 1.9 0 1 0 3.8 0a1.9 1.9 0 1 0 -3.8 0M130.68 320.44a1.9 1.9 0 1 0 3.8 0a1.9 1.9 0 1 0 -3.8 0M130.68 316.37a1.9 1.9 0 1 0 3.8 0a1.9 1.9 0 1 0 -3.8 0M130.68 312.3a1.9 1.9 0 1 0 3.8 0a1.9 1.9 0 1 0 -3.8 0M130.68 308.23a1.9 1.9 0 1 0 3.8 0a1.9 1.9 0 1 0 -3.8 0M130.68 304.16a1.9 1.9 0 1 0 3.8 0a1.9 1.9 0 1 0 -3.8 0M130.68 300.09a1.9 1.9 0 1 0 3.8 0a1.9 1.9 0 1 0 -3.8 0M130.68 296.02a1.9 1.9 0 1 0 3.8 0a1.9 1.9 0 1 0 -3.8 0M130.68 291.95a1.9 1.9 0 1 0 3.8 0a1.9 1.9 0 1 0 -3.8 0M130.68 287.88a1.9 1.9 0 1 0 3.8 0a1.9 1.9 0 1 0 -3.8 0M130.68 283.81a1.9 1.9 0 1 0 3.8 0a1.9 1.9 0 1 0 -3.8 0M130.68 279.74a1.9 1.9 0 1 0 3.8 0a1.9 1.9 0 1 0 -3.8 0M130.68 275.67a1.9 1.9 0 1 0 3.8 0a1.9 1.9 0 1 0 -3.8 0M130.68 271.6a1.9 1.9 0 1 0 3.8 0a1.9 1.9 0 1 0 -3.8 0M130.68 267.53a1.9 1.9 0 1 0 3.8 0a1.9 1.9 0 1 0 -3.8 0M130.68 263.46a1.9 1.9 0 1 0 3.8 0a1.9 1.9 0 1 0 -3.8 0M130.68 259.39a1.9 1.9 0 1 0 3.8 0a1.9 1.9 0 1 0 -3.8 0M130.68 255.32a1.9 1.9 0 1 0 3.8 0a1.9 1.9 0 1 0 -3.8 0M130.68 251.25a1.9 1.9 0 1 0 3.8 0a1.9 1.9 0 1 0 -3.8 0M130.68 247.18a1.9 1.9 0 1 0 3.8 0a1.9 1.9 0 1 0 -3.8 0M130.68 243.11a1.9 1.9 0 1 0 3.8 0a1.9 1.9 0 1 0 -3.8 0M130.68 239.04a1.9 1.9 0 1 0 3.8 0a1.9 1.9 0 1 0 -3.8 0M130.68 234.97a1.9 1.9 0 1 0 3.8 0a1.9 1.9 0 1 0 -3.8 0M130.68 230.9a1.9 1.9 0 1 0 3.8 0a1.9 1.9 0 1 0 -3.8 0M130.68 226.83a1.9 1.9 0 1 0 3.8 0a1.9 1.9 0 1 0 -3.8 0M134.19 353a1.9 1.9 0 1 0 3.8 0a1.9 1.9 0 1 0 -3.8 0M134.19 348.93a1.9 1.9 0 1 0 3.8 0a1.9 1.9 0 1 0 -3.8 0M134.19 344.86a1.9 1.9 0 1 0 3.8 0a1.9 1.9 0 1 0 -3.8 0M134.19 340.79a1.9 1.9 0 1 0 3.8 0a1.9 1.9 0 1 0 -3.8 0M134.19 336.72a1.9 1.9 0 1 0 3.8 0a1.9 1.9 0 1 0 -3.8 0M134.19 332.65a1.9 1.9 0 1 0 3.8 0a1.9 1.9 0 1 0 -3.8 0M134.19 328.58a1.9 1.9 0 1 0 3.8 0a1.9 1.9 0 1 0 -3.8 0M134.19 324.51a1.9 1.9 0 1 0 3.8 0a1.9 1.9 0 1 0 -3.8 0M134.19 320.44a1.9 1.9 0 1 0 3.8 0a1.9 1.9 0 1 0 -3.8 0M134.19 316.37a1.9 1.9 0 1 0 3.8 0a1.9 1.9 0 1 0 -3.8 0M134.19 312.3a1.9 1.9 0 1 0 3.8 0a1.9 1.9 0 1 0 -3.8 0M134.19 308.23a1.9 1.9 0 1 0 3.8 0a1.9 1.9 0 1 0 -3.8 0M134.19 304.16a1.9 1.9 0 1 0 3.8 0a1.9 1.9 0 1 0 -3.8 0M134.19 300.09a1.9 1.9 0 1 0 3.8 0a1.9 1.9 0 1 0 -3.8 0M134.19 296.02a1.9 1.9 0 1 0 3.8 0a1.9 1.9 0 1 0 -3.8 0M134.19 291.95a1.9 1.9 0 1 0 3.8 0a1.9 1.9 0 1 0 -3.8 0M134.19 287.88a1.9 1.9 0 1 0 3.8 0a1.9 1.9 0 1 0 -3.8 0M134.19 283.81a1.9 1.9 0 1 0 3.8 0a1.9 1.9 0 1 0 -3.8 0M134.19 279.74a1.9 1.9 0 1 0 3.8 0a1.9 1.9 0 1 0 -3.8 0M134.19 275.67a1.9 1.9 0 1 0 3.8 0a1.9 1.9 0 1 0 -3.8 0M134.19 271.6a1.9 1.9 0 1 0 3.8 0a1.9 1.9 0 1 0 -3.8 0M134.19 267.53a1.9 1.9 0 1 0 3.8 0a1.9 1.9 0 1 0 -3.8 0M134.19 263.46a1.9 1.9 0 1 0 3.8 0a1.9 1.9 0 1 0 -3.8 0M134.19 259.39a1.9 1.9 0 1 0 3.8 0a1.9 1.9 0 1 0 -3.8 0M134.19 255.32a1.9 1.9 0 1 0 3.8 0a1.9 1.9 0 1 0 -3.8 0M134.19 251.25a1.9 1.9 0 1 0 3.8 0a1.9 1.9 0 1 0 -3.8 0M134.19 247.18a1.9 1.9 0 1 0 3.8 0a1.9 1.9 0 1 0 -3.8 0M134.19 243.11a1.9 1.9 0 1 0 3.8 0a1.9 1.9 0 1 0 -3.8 0M134.19 239.04a1.9 1.9 0 1 0 3.8 0a1.9 1.9 0 1 0 -3.8 0M134.19 234.97a1.9 1.9 0 1 0 3.8 0a1.9 1.9 0 1 0 -3.8 0M134.19 230.9a1.9 1.9 0 1 0 3.8 0a1.9 1.9 0 1 0 -3.8 0M134.19 226.83a1.9 1.9 0 1 0 3.8 0a1.9 1.9 0 1 0 -3.8 0M137.7 353a1.9 1.9 0 1 0 3.8 0a1.9 1.9 0 1 0 -3.8 0M137.7 348.93a1.9 1.9 0 1 0 3.8 0a1.9 1.9 0 1 0 -3.8 0M137.7 344.86a1.9 1.9 0 1 0 3.8 0a1.9 1.9 0 1 0 -3.8 0M137.7 340.79a1.9 1.9 0 1 0 3.8 0a1.9 1.9 0 1 0 -3.8 0M137.7 336.72a1.9 1.9 0 1 0 3.8 0a1.9 1.9 0 1 0 -3.8 0M137.7 332.65a1.9 1.9 0 1 0 3.8 0a1.9 1.9 0 1 0 -3.8 0M137.7 328.58a1.9 1.9 0 1 0 3.8 0a1.9 1.9 0 1 0 -3.8 0M137.7 324.51a1.9 1.9 0 1 0 3.8 0a1.9 1.9 0 1 0 -3.8 0M137.7 320.44a1.9 1.9 0 1 0 3.8 0a1.9 1.9 0 1 0 -3.8 0M137.7 316.37a1.9 1.9 0 1 0 3.8 0a1.9 1.9 0 1 0 -3.8 0M137.7 312.3a1.9 1.9 0 1 0 3.8 0a1.9 1.9 0 1 0 -3.8 0M137.7 308.23a1.9 1.9 0 1 0 3.8 0a1.9 1.9 0 1 0 -3.8 0M137.7 304.16a1.9 1.9 0 1 0 3.8 0a1.9 1.9 0 1 0 -3.8 0M137.7 300.09a1.9 1.9 0 1 0 3.8 0a1.9 1.9 0 1 0 -3.8 0M137.7 296.02a1.9 1.9 0 1 0 3.8 0a1.9 1.9 0 1 0 -3.8 0M137.7 291.95a1.9 1.9 0 1 0 3.8 0a1.9 1.9 0 1 0 -3.8 0M137.7 287.88a1.9 1.9 0 1 0 3.8 0a1.9 1.9 0 1 0 -3.8 0M137.7 283.81a1.9 1.9 0 1 0 3.8 0a1.9 1.9 0 1 0 -3.8 0M137.7 279.74a1.9 1.9 0 1 0 3.8 0a1.9 1.9 0 1 0 -3.8 0M137.7 275.67a1.9 1.9 0 1 0 3.8 0a1.9 1.9 0 1 0 -3.8 0M137.7 271.6a1.9 1.9 0 1 0 3.8 0a1.9 1.9 0 1 0 -3.8 0M137.7 267.53a1.9 1.9 0 1 0 3.8 0a1.9 1.9 0 1 0 -3.8 0M137.7 263.46a1.9 1.9 0 1 0 3.8 0a1.9 1.9 0 1 0 -3.8 0M137.7 259.39a1.9 1.9 0 1 0 3.8 0a1.9 1.9 0 1 0 -3.8 0M137.7 255.32a1.9 1.9 0 1 0 3.8 0a1.9 1.9 0 1 0 -3.8 0M137.7 251.25a1.9 1.9 0 1 0 3.8 0a1.9 1.9 0 1 0 -3.8 0M137.7 247.18a1.9 1.9 0 1 0 3.8 0a1.9 1.9 0 1 0 -3.8 0M137.7 243.11a1.9 1.9 0 1 0 3.8 0a1.9 1.9 0 1 0 -3.8 0M137.7 239.04a1.9 1.9 0 1 0 3.8 0a1.9 1.9 0 1 0 -3.8 0M137.7 234.97a1.9 1.9 0 1 0 3.8 0a1.9 1.9 0 1 0 -3.8 0M137.7 230.9a1.9 1.9 0 1 0 3.8 0a1.9 1.9 0 1 0 -3.8 0M137.7 226.83a1.9 1.9 0 1 0 3.8 0a1.9 1.9 0 1 0 -3.8 0" fill="#e2e2e2"/>
<circle cx="97.45" cy="283.81" r="1.9" fill="#dfe7ef"/>
<circle cx="122.04" cy="287.88" r="1.9" fill="#d6e5f1"/>
<circle cx="129.06" cy="287.88" r="1.9" fill="#6fa8d8"/>
<circle cx="118.53" cy="291.95" r="1.9" fill="#e0e8f0"/>
<circle cx="97.45" cy="234.97" r="1.9" fill="#d3e4f1"/>
<circle cx="115.01" cy="234.97" r="1.9" fill="#d8e7f2"/>
<circle cx="118.53" cy="247.18" r="1.9" fill="#e2e9f0"/>
<circle cx="111.5" cy="300.09" r="1.9" fill="#a9cce8"/>
<circle cx="107.99" cy="296.02" r="1.9" fill="#e0e8f0"/>
<circle cx="86.91" cy="304.16" r="1.9" fill="#dde6ee"/>
<circle cx="104.47" cy="304.16" r="1.9" fill="#b0d0ea"/>
<circle cx="107.99" cy="304.16" r="1.9" fill="#7fb1dc"/>
<circle cx="111.5" cy="304.16" r="1.9" fill="#4f8cc8"/>
<circle cx="115.01" cy="304.16" r="1.9" fill="#4a88c4"/>
<circle cx="118.53" cy="304.16" r="1.9" fill="#1c3a78"/>
<circle cx="122.04" cy="304.16" r="1.9" fill="#a8cce8"/>
<circle cx="104.47" cy="308.23" r="1.9" fill="#b8d4ea"/>
<circle cx="107.99" cy="308.23" r="1.9" fill="#4f8cc6"/>
<circle cx="111.5" cy="308.23" r="1.9" fill="#4f8cc6"/>
<circle cx="115.01" cy="308.23" r="1.9" fill="#5b96cc"/>
<circle cx="118.53" cy="308.23" r="1.9" fill="#7ab0dc"/>
<circle cx="122.04" cy="308.23" r="1.9" fill="#a8cce8"/>
<circle cx="79.88" cy="312.3" r="1.9" fill="#a8cce8"/>
<circle cx="107.99" cy="312.3" r="1.9" fill="#3b78b8"/>
<circle cx="111.5" cy="312.3" r="1.9" fill="#2a5aa0"/>
<circle cx="115.01" cy="312.3" r="1.9" fill="#3f7cbc"/>
<circle cx="125.55" cy="312.3" r="1.9" fill="#d3e3f0"/>
<circle cx="93.93" cy="316.37" r="1.9" fill="#dde8f2"/>
<circle cx="100.96" cy="316.37" r="1.9" fill="#dde6ee"/>
<circle cx="104.47" cy="316.37" r="1.9" fill="#4a88c4"/>
<circle cx="107.99" cy="316.37" r="1.9" fill="#a8cce8"/>
<circle cx="111.5" cy="316.37" r="1.9" fill="#1e4488"/>
<circle cx="122.04" cy="316.37" r="1.9" fill="#c0d8ec"/>
<circle cx="125.55" cy="316.37" r="1.9" fill="#c6dbee"/>
<circle cx="129.06" cy="316.37" r="1.9" fill="#b0d0ea"/>
<circle cx="132.58" cy="316.37" r="1.9" fill="#4a88c4"/>
<circle cx="104.47" cy="320.44" r="1.9" fill="#6aa4d4"/>
<circle cx="107.99" cy="320.44" r="1.9" fill="#4a88c4"/>
<circle cx="115.01" cy="320.44" r="1.9" fill="#a8cce8"/>
<circle cx="125.55" cy="320.44" r="1.9" fill="#c0d8ec"/>
<circle cx="104.47" cy="324.51" r="1.9" fill="#6aa4d4"/>
<circle cx="118.53" cy="324.51" r="1.9" fill="#c0d8ec"/>
<circle cx="129.06" cy="324.51" r="1.9" fill="#5590c8"/>
<circle cx="111.5" cy="328.58" r="1.9" fill="#e0e8f0"/>
<path d="M50.6 240.2L53 242.6M50.6 242.6L53 240.2M71.8 240.5L74.2 242.9M71.8 242.9L74.2 240.5M95.8 240.5L98.2 242.9M95.8 242.9L98.2 240.5M117.3 240.2L119.7 242.6M117.3 242.6L119.7 240.2M51.4 258.4L53.8 260.8M51.4 260.8L53.8 258.4M72.6 258.6L75 261M72.6 261L75 258.6M95 259.3L97.4 261.7M95 261.7L97.4 259.3M118.8 258.2L121.2 260.6M118.8 260.6L121.2 258.2M47.8 276.3L50.2 278.7M47.8 278.7L50.2 276.3M119.8 276.2L122.2 278.6M119.8 278.6L122.2 276.2M47.7 294.2L50.1 296.6M47.7 296.6L50.1 294.2M68.2 293.2L70.6 295.6M68.2 295.6L70.6 293.2M99.8 293.3L102.2 295.7M99.8 295.7L102.2 293.3M120.1 294.1L122.5 296.5M120.1 296.5L122.5 294.1M47.7 312.4L50.1 314.8M47.7 314.8L50.1 312.4M68.3 311.5L70.7 313.9M68.3 313.9L70.7 311.5M98.8 311.5L101.2 313.9M98.8 313.9L101.2 311.5M120.1 312.3L122.5 314.7M120.1 314.7L122.5 312.3M47.8 330.7L50.2 333.1M47.8 333.1L50.2 330.7M120.1 330.7L122.5 333.1M120.1 333.1L122.5 330.7M83.5 335.4L85.9 337.8M83.5 337.8L85.9 335.4" stroke="#222" stroke-width="0.75" fill="none"/>
<circle cx="108.6" cy="304.3" r="1.6" fill="none" stroke="#f0a020" stroke-width="0.8"/>
<path d="M111.4 309.9L111.93 311.27L113.4 311.35L112.26 312.28L112.63 313.7L111.4 312.9L110.17 313.7L110.54 312.28L109.4 311.35L110.87 311.27Z" fill="#ff1a1a"/>
<path d="M25.4 220.6 H144.6" stroke="#707070" stroke-width="0.9"/>
<path d="M144.6 220.6 V359.6" stroke="#858585" stroke-width="0.9"/>
<path d="M25.4 359.6 H144.6" stroke="#777" stroke-width="0.9"/>
<path d="M25.4 220.15 V360.05" stroke="#5e5e5e" stroke-width="0.9"/>
<path d="M22.9 355.3 H25.4" stroke="#4a4a4a" stroke-width="0.85"/>
<text x="22.4" y="357.55" font-size="6.3" text-anchor="end" fill="#222" stroke="#222" stroke-width="0.16">0</text>
<path d="M22.9 337.6 H25.4" stroke="#4a4a4a" stroke-width="0.85"/>
<text x="22.4" y="339.85" font-size="6.3" text-anchor="end" fill="#222" stroke="#222" stroke-width="0.16">20</text>
<path d="M22.9 319.9 H25.4" stroke="#4a4a4a" stroke-width="0.85"/>
<text x="22.4" y="322.15" font-size="6.3" text-anchor="end" fill="#222" stroke="#222" stroke-width="0.16">40</text>
<path d="M22.9 302.2 H25.4" stroke="#4a4a4a" stroke-width="0.85"/>
<text x="22.4" y="304.45" font-size="6.3" text-anchor="end" fill="#222" stroke="#222" stroke-width="0.16">60</text>
<path d="M22.9 284.5 H25.4" stroke="#4a4a4a" stroke-width="0.85"/>
<text x="22.4" y="286.75" font-size="6.3" text-anchor="end" fill="#222" stroke="#222" stroke-width="0.16">80</text>
<path d="M22.9 266.8 H25.4" stroke="#4a4a4a" stroke-width="0.85"/>
<text x="22.4" y="269.05" font-size="6.3" text-anchor="end" fill="#222" stroke="#222" stroke-width="0.16">100</text>
<path d="M22.9 249.1 H25.4" stroke="#4a4a4a" stroke-width="0.85"/>
<text x="22.4" y="251.35" font-size="6.3" text-anchor="end" fill="#222" stroke="#222" stroke-width="0.16">120</text>
<path d="M22.9 231.4 H25.4" stroke="#4a4a4a" stroke-width="0.85"/>
<text x="22.4" y="233.65" font-size="6.3" text-anchor="end" fill="#222" stroke="#222" stroke-width="0.16">140</text>
<path d="M63.3 359.6 V362.1" stroke="#4a4a4a" stroke-width="0.85"/>
<text x="63.3" y="368" font-size="6.3" text-anchor="middle" fill="#222" stroke="#222" stroke-width="0.16">1</text>
<path d="M101.35 359.6 V362.1" stroke="#4a4a4a" stroke-width="0.85"/>
<text x="101.35" y="368" font-size="6.3" text-anchor="middle" fill="#222" stroke="#222" stroke-width="0.16">2</text>
<path d="M139.4 359.6 V362.1" stroke="#4a4a4a" stroke-width="0.85"/>
<text x="139.4" y="368" font-size="6.3" text-anchor="middle" fill="#222" stroke="#222" stroke-width="0.16">3</text>
<text x="85.1" y="376.2" font-size="6.3" text-anchor="middle" fill="#222" stroke="#222" stroke-width="0.16">θ [rad]</text>
<text transform="translate(8.8 289.6) rotate(-90)" font-size="6.3" text-anchor="middle" fill="#222" stroke="#222" stroke-width="0.16">z [mm]</text>
<rect x="17.4" y="210.4" width="133.3" height="7.9" fill="#fff" stroke="#d8d8d8" stroke-width="0.5" rx="0.8"/>
<circle cx="22.2" cy="214.4" r="1.5" fill="#ff2020"/>
<text x="25.7" y="216.1" font-size="6.3" fill="#222" stroke="#222" stroke-width="0.16">contact point</text>
<circle cx="69" cy="214.4" r="1.6" fill="none" stroke="#f0a020" stroke-width="0.95"/>
<text x="73.1" y="216.1" font-size="6.3" textLength="28.1" lengthAdjust="spacingAndGlyphs" fill="#222" stroke="#222" stroke-width="0.16">barycenter</text>
<path d="M107.3 213.4 l2 2 m0 -2 l-2 2" stroke="#333" stroke-width="0.65"/>
<text x="110.6" y="216.1" font-size="6.3" fill="#222" stroke="#222" stroke-width="0.16">FBG sensors</text>
<rect x="204.7" y="220.6" width="119.2" height="139" fill="#fff"/>
<path d="M208.1 353a1.9 1.9 0 1 0 3.8 0a1.9 1.9 0 1 0 -3.8 0M208.1 348.93a1.9 1.9 0 1 0 3.8 0a1.9 1.9 0 1 0 -3.8 0M208.1 344.86a1.9 1.9 0 1 0 3.8 0a1.9 1.9 0 1 0 -3.8 0M208.1 340.79a1.9 1.9 0 1 0 3.8 0a1.9 1.9 0 1 0 -3.8 0M208.1 336.72a1.9 1.9 0 1 0 3.8 0a1.9 1.9 0 1 0 -3.8 0M208.1 332.65a1.9 1.9 0 1 0 3.8 0a1.9 1.9 0 1 0 -3.8 0M208.1 328.58a1.9 1.9 0 1 0 3.8 0a1.9 1.9 0 1 0 -3.8 0M208.1 324.51a1.9 1.9 0 1 0 3.8 0a1.9 1.9 0 1 0 -3.8 0M208.1 320.44a1.9 1.9 0 1 0 3.8 0a1.9 1.9 0 1 0 -3.8 0M208.1 316.37a1.9 1.9 0 1 0 3.8 0a1.9 1.9 0 1 0 -3.8 0M208.1 312.3a1.9 1.9 0 1 0 3.8 0a1.9 1.9 0 1 0 -3.8 0M208.1 308.23a1.9 1.9 0 1 0 3.8 0a1.9 1.9 0 1 0 -3.8 0M208.1 304.16a1.9 1.9 0 1 0 3.8 0a1.9 1.9 0 1 0 -3.8 0M208.1 300.09a1.9 1.9 0 1 0 3.8 0a1.9 1.9 0 1 0 -3.8 0M208.1 296.02a1.9 1.9 0 1 0 3.8 0a1.9 1.9 0 1 0 -3.8 0M208.1 291.95a1.9 1.9 0 1 0 3.8 0a1.9 1.9 0 1 0 -3.8 0M208.1 287.88a1.9 1.9 0 1 0 3.8 0a1.9 1.9 0 1 0 -3.8 0M208.1 283.81a1.9 1.9 0 1 0 3.8 0a1.9 1.9 0 1 0 -3.8 0M208.1 279.74a1.9 1.9 0 1 0 3.8 0a1.9 1.9 0 1 0 -3.8 0M208.1 275.67a1.9 1.9 0 1 0 3.8 0a1.9 1.9 0 1 0 -3.8 0M208.1 271.6a1.9 1.9 0 1 0 3.8 0a1.9 1.9 0 1 0 -3.8 0M208.1 267.53a1.9 1.9 0 1 0 3.8 0a1.9 1.9 0 1 0 -3.8 0M208.1 263.46a1.9 1.9 0 1 0 3.8 0a1.9 1.9 0 1 0 -3.8 0M208.1 259.39a1.9 1.9 0 1 0 3.8 0a1.9 1.9 0 1 0 -3.8 0M208.1 255.32a1.9 1.9 0 1 0 3.8 0a1.9 1.9 0 1 0 -3.8 0M208.1 251.25a1.9 1.9 0 1 0 3.8 0a1.9 1.9 0 1 0 -3.8 0M208.1 247.18a1.9 1.9 0 1 0 3.8 0a1.9 1.9 0 1 0 -3.8 0M208.1 243.11a1.9 1.9 0 1 0 3.8 0a1.9 1.9 0 1 0 -3.8 0M208.1 239.04a1.9 1.9 0 1 0 3.8 0a1.9 1.9 0 1 0 -3.8 0M208.1 234.97a1.9 1.9 0 1 0 3.8 0a1.9 1.9 0 1 0 -3.8 0M208.1 230.9a1.9 1.9 0 1 0 3.8 0a1.9 1.9 0 1 0 -3.8 0M208.1 226.83a1.9 1.9 0 1 0 3.8 0a1.9 1.9 0 1 0 -3.8 0M211.61 353a1.9 1.9 0 1 0 3.8 0a1.9 1.9 0 1 0 -3.8 0M211.61 348.93a1.9 1.9 0 1 0 3.8 0a1.9 1.9 0 1 0 -3.8 0M211.61 344.86a1.9 1.9 0 1 0 3.8 0a1.9 1.9 0 1 0 -3.8 0M211.61 340.79a1.9 1.9 0 1 0 3.8 0a1.9 1.9 0 1 0 -3.8 0M211.61 336.72a1.9 1.9 0 1 0 3.8 0a1.9 1.9 0 1 0 -3.8 0M211.61 332.65a1.9 1.9 0 1 0 3.8 0a1.9 1.9 0 1 0 -3.8 0M211.61 328.58a1.9 1.9 0 1 0 3.8 0a1.9 1.9 0 1 0 -3.8 0M211.61 324.51a1.9 1.9 0 1 0 3.8 0a1.9 1.9 0 1 0 -3.8 0M211.61 320.44a1.9 1.9 0 1 0 3.8 0a1.9 1.9 0 1 0 -3.8 0M211.61 316.37a1.9 1.9 0 1 0 3.8 0a1.9 1.9 0 1 0 -3.8 0M211.61 312.3a1.9 1.9 0 1 0 3.8 0a1.9 1.9 0 1 0 -3.8 0M211.61 308.23a1.9 1.9 0 1 0 3.8 0a1.9 1.9 0 1 0 -3.8 0M211.61 304.16a1.9 1.9 0 1 0 3.8 0a1.9 1.9 0 1 0 -3.8 0M211.61 300.09a1.9 1.9 0 1 0 3.8 0a1.9 1.9 0 1 0 -3.8 0M211.61 296.02a1.9 1.9 0 1 0 3.8 0a1.9 1.9 0 1 0 -3.8 0M211.61 291.95a1.9 1.9 0 1 0 3.8 0a1.9 1.9 0 1 0 -3.8 0M211.61 287.88a1.9 1.9 0 1 0 3.8 0a1.9 1.9 0 1 0 -3.8 0M211.61 283.81a1.9 1.9 0 1 0 3.8 0a1.9 1.9 0 1 0 -3.8 0M211.61 279.74a1.9 1.9 0 1 0 3.8 0a1.9 1.9 0 1 0 -3.8 0M211.61 275.67a1.9 1.9 0 1 0 3.8 0a1.9 1.9 0 1 0 -3.8 0M211.61 271.6a1.9 1.9 0 1 0 3.8 0a1.9 1.9 0 1 0 -3.8 0M211.61 267.53a1.9 1.9 0 1 0 3.8 0a1.9 1.9 0 1 0 -3.8 0M211.61 263.46a1.9 1.9 0 1 0 3.8 0a1.9 1.9 0 1 0 -3.8 0M211.61 259.39a1.9 1.9 0 1 0 3.8 0a1.9 1.9 0 1 0 -3.8 0M211.61 255.32a1.9 1.9 0 1 0 3.8 0a1.9 1.9 0 1 0 -3.8 0M211.61 251.25a1.9 1.9 0 1 0 3.8 0a1.9 1.9 0 1 0 -3.8 0M211.61 247.18a1.9 1.9 0 1 0 3.8 0a1.9 1.9 0 1 0 -3.8 0M211.61 243.11a1.9 1.9 0 1 0 3.8 0a1.9 1.9 0 1 0 -3.8 0M211.61 239.04a1.9 1.9 0 1 0 3.8 0a1.9 1.9 0 1 0 -3.8 0M211.61 234.97a1.9 1.9 0 1 0 3.8 0a1.9 1.9 0 1 0 -3.8 0M211.61 230.9a1.9 1.9 0 1 0 3.8 0a1.9 1.9 0 1 0 -3.8 0M211.61 226.83a1.9 1.9 0 1 0 3.8 0a1.9 1.9 0 1 0 -3.8 0M215.13 353a1.9 1.9 0 1 0 3.8 0a1.9 1.9 0 1 0 -3.8 0M215.13 348.93a1.9 1.9 0 1 0 3.8 0a1.9 1.9 0 1 0 -3.8 0M215.13 344.86a1.9 1.9 0 1 0 3.8 0a1.9 1.9 0 1 0 -3.8 0M215.13 340.79a1.9 1.9 0 1 0 3.8 0a1.9 1.9 0 1 0 -3.8 0M215.13 336.72a1.9 1.9 0 1 0 3.8 0a1.9 1.9 0 1 0 -3.8 0M215.13 332.65a1.9 1.9 0 1 0 3.8 0a1.9 1.9 0 1 0 -3.8 0M215.13 328.58a1.9 1.9 0 1 0 3.8 0a1.9 1.9 0 1 0 -3.8 0M215.13 324.51a1.9 1.9 0 1 0 3.8 0a1.9 1.9 0 1 0 -3.8 0M215.13 320.44a1.9 1.9 0 1 0 3.8 0a1.9 1.9 0 1 0 -3.8 0M215.13 316.37a1.9 1.9 0 1 0 3.8 0a1.9 1.9 0 1 0 -3.8 0M215.13 312.3a1.9 1.9 0 1 0 3.8 0a1.9 1.9 0 1 0 -3.8 0M215.13 308.23a1.9 1.9 0 1 0 3.8 0a1.9 1.9 0 1 0 -3.8 0M215.13 304.16a1.9 1.9 0 1 0 3.8 0a1.9 1.9 0 1 0 -3.8 0M215.13 300.09a1.9 1.9 0 1 0 3.8 0a1.9 1.9 0 1 0 -3.8 0M215.13 296.02a1.9 1.9 0 1 0 3.8 0a1.9 1.9 0 1 0 -3.8 0M215.13 291.95a1.9 1.9 0 1 0 3.8 0a1.9 1.9 0 1 0 -3.8 0M215.13 287.88a1.9 1.9 0 1 0 3.8 0a1.9 1.9 0 1 0 -3.8 0M215.13 283.81a1.9 1.9 0 1 0 3.8 0a1.9 1.9 0 1 0 -3.8 0M215.13 279.74a1.9 1.9 0 1 0 3.8 0a1.9 1.9 0 1 0 -3.8 0M215.13 275.67a1.9 1.9 0 1 0 3.8 0a1.9 1.9 0 1 0 -3.8 0M215.13 271.6a1.9 1.9 0 1 0 3.8 0a1.9 1.9 0 1 0 -3.8 0M215.13 267.53a1.9 1.9 0 1 0 3.8 0a1.9 1.9 0 1 0 -3.8 0M215.13 263.46a1.9 1.9 0 1 0 3.8 0a1.9 1.9 0 1 0 -3.8 0M215.13 259.39a1.9 1.9 0 1 0 3.8 0a1.9 1.9 0 1 0 -3.8 0M215.13 255.32a1.9 1.9 0 1 0 3.8 0a1.9 1.9 0 1 0 -3.8 0M215.13 251.25a1.9 1.9 0 1 0 3.8 0a1.9 1.9 0 1 0 -3.8 0M215.13 247.18a1.9 1.9 0 1 0 3.8 0a1.9 1.9 0 1 0 -3.8 0M215.13 243.11a1.9 1.9 0 1 0 3.8 0a1.9 1.9 0 1 0 -3.8 0M215.13 239.04a1.9 1.9 0 1 0 3.8 0a1.9 1.9 0 1 0 -3.8 0M215.13 234.97a1.9 1.9 0 1 0 3.8 0a1.9 1.9 0 1 0 -3.8 0M215.13 230.9a1.9 1.9 0 1 0 3.8 0a1.9 1.9 0 1 0 -3.8 0M215.13 226.83a1.9 1.9 0 1 0 3.8 0a1.9 1.9 0 1 0 -3.8 0M218.64 353a1.9 1.9 0 1 0 3.8 0a1.9 1.9 0 1 0 -3.8 0M218.64 348.93a1.9 1.9 0 1 0 3.8 0a1.9 1.9 0 1 0 -3.8 0M218.64 344.86a1.9 1.9 0 1 0 3.8 0a1.9 1.9 0 1 0 -3.8 0M218.64 340.79a1.9 1.9 0 1 0 3.8 0a1.9 1.9 0 1 0 -3.8 0M218.64 336.72a1.9 1.9 0 1 0 3.8 0a1.9 1.9 0 1 0 -3.8 0M218.64 332.65a1.9 1.9 0 1 0 3.8 0a1.9 1.9 0 1 0 -3.8 0M218.64 328.58a1.9 1.9 0 1 0 3.8 0a1.9 1.9 0 1 0 -3.8 0M218.64 324.51a1.9 1.9 0 1 0 3.8 0a1.9 1.9 0 1 0 -3.8 0M218.64 320.44a1.9 1.9 0 1 0 3.8 0a1.9 1.9 0 1 0 -3.8 0M218.64 316.37a1.9 1.9 0 1 0 3.8 0a1.9 1.9 0 1 0 -3.8 0M218.64 312.3a1.9 1.9 0 1 0 3.8 0a1.9 1.9 0 1 0 -3.8 0M218.64 308.23a1.9 1.9 0 1 0 3.8 0a1.9 1.9 0 1 0 -3.8 0M218.64 304.16a1.9 1.9 0 1 0 3.8 0a1.9 1.9 0 1 0 -3.8 0M218.64 300.09a1.9 1.9 0 1 0 3.8 0a1.9 1.9 0 1 0 -3.8 0M218.64 296.02a1.9 1.9 0 1 0 3.8 0a1.9 1.9 0 1 0 -3.8 0M218.64 291.95a1.9 1.9 0 1 0 3.8 0a1.9 1.9 0 1 0 -3.8 0M218.64 287.88a1.9 1.9 0 1 0 3.8 0a1.9 1.9 0 1 0 -3.8 0M218.64 283.81a1.9 1.9 0 1 0 3.8 0a1.9 1.9 0 1 0 -3.8 0M218.64 279.74a1.9 1.9 0 1 0 3.8 0a1.9 1.9 0 1 0 -3.8 0M218.64 275.67a1.9 1.9 0 1 0 3.8 0a1.9 1.9 0 1 0 -3.8 0M218.64 271.6a1.9 1.9 0 1 0 3.8 0a1.9 1.9 0 1 0 -3.8 0M218.64 267.53a1.9 1.9 0 1 0 3.8 0a1.9 1.9 0 1 0 -3.8 0M218.64 263.46a1.9 1.9 0 1 0 3.8 0a1.9 1.9 0 1 0 -3.8 0M218.64 259.39a1.9 1.9 0 1 0 3.8 0a1.9 1.9 0 1 0 -3.8 0M218.64 255.32a1.9 1.9 0 1 0 3.8 0a1.9 1.9 0 1 0 -3.8 0M218.64 251.25a1.9 1.9 0 1 0 3.8 0a1.9 1.9 0 1 0 -3.8 0M218.64 247.18a1.9 1.9 0 1 0 3.8 0a1.9 1.9 0 1 0 -3.8 0M218.64 243.11a1.9 1.9 0 1 0 3.8 0a1.9 1.9 0 1 0 -3.8 0M218.64 239.04a1.9 1.9 0 1 0 3.8 0a1.9 1.9 0 1 0 -3.8 0M218.64 234.97a1.9 1.9 0 1 0 3.8 0a1.9 1.9 0 1 0 -3.8 0M218.64 230.9a1.9 1.9 0 1 0 3.8 0a1.9 1.9 0 1 0 -3.8 0M218.64 226.83a1.9 1.9 0 1 0 3.8 0a1.9 1.9 0 1 0 -3.8 0M222.15 353a1.9 1.9 0 1 0 3.8 0a1.9 1.9 0 1 0 -3.8 0M222.15 348.93a1.9 1.9 0 1 0 3.8 0a1.9 1.9 0 1 0 -3.8 0M222.15 344.86a1.9 1.9 0 1 0 3.8 0a1.9 1.9 0 1 0 -3.8 0M222.15 340.79a1.9 1.9 0 1 0 3.8 0a1.9 1.9 0 1 0 -3.8 0M222.15 336.72a1.9 1.9 0 1 0 3.8 0a1.9 1.9 0 1 0 -3.8 0M222.15 332.65a1.9 1.9 0 1 0 3.8 0a1.9 1.9 0 1 0 -3.8 0M222.15 328.58a1.9 1.9 0 1 0 3.8 0a1.9 1.9 0 1 0 -3.8 0M222.15 324.51a1.9 1.9 0 1 0 3.8 0a1.9 1.9 0 1 0 -3.8 0M222.15 320.44a1.9 1.9 0 1 0 3.8 0a1.9 1.9 0 1 0 -3.8 0M222.15 316.37a1.9 1.9 0 1 0 3.8 0a1.9 1.9 0 1 0 -3.8 0M222.15 312.3a1.9 1.9 0 1 0 3.8 0a1.9 1.9 0 1 0 -3.8 0M222.15 308.23a1.9 1.9 0 1 0 3.8 0a1.9 1.9 0 1 0 -3.8 0M222.15 304.16a1.9 1.9 0 1 0 3.8 0a1.9 1.9 0 1 0 -3.8 0M222.15 300.09a1.9 1.9 0 1 0 3.8 0a1.9 1.9 0 1 0 -3.8 0M222.15 296.02a1.9 1.9 0 1 0 3.8 0a1.9 1.9 0 1 0 -3.8 0M222.15 291.95a1.9 1.9 0 1 0 3.8 0a1.9 1.9 0 1 0 -3.8 0M222.15 287.88a1.9 1.9 0 1 0 3.8 0a1.9 1.9 0 1 0 -3.8 0M222.15 283.81a1.9 1.9 0 1 0 3.8 0a1.9 1.9 0 1 0 -3.8 0M222.15 279.74a1.9 1.9 0 1 0 3.8 0a1.9 1.9 0 1 0 -3.8 0M222.15 275.67a1.9 1.9 0 1 0 3.8 0a1.9 1.9 0 1 0 -3.8 0M222.15 271.6a1.9 1.9 0 1 0 3.8 0a1.9 1.9 0 1 0 -3.8 0M222.15 267.53a1.9 1.9 0 1 0 3.8 0a1.9 1.9 0 1 0 -3.8 0M222.15 263.46a1.9 1.9 0 1 0 3.8 0a1.9 1.9 0 1 0 -3.8 0M222.15 259.39a1.9 1.9 0 1 0 3.8 0a1.9 1.9 0 1 0 -3.8 0M222.15 255.32a1.9 1.9 0 1 0 3.8 0a1.9 1.9 0 1 0 -3.8 0M222.15 251.25a1.9 1.9 0 1 0 3.8 0a1.9 1.9 0 1 0 -3.8 0M222.15 247.18a1.9 1.9 0 1 0 3.8 0a1.9 1.9 0 1 0 -3.8 0M222.15 243.11a1.9 1.9 0 1 0 3.8 0a1.9 1.9 0 1 0 -3.8 0M222.15 239.04a1.9 1.9 0 1 0 3.8 0a1.9 1.9 0 1 0 -3.8 0M222.15 234.97a1.9 1.9 0 1 0 3.8 0a1.9 1.9 0 1 0 -3.8 0M222.15 230.9a1.9 1.9 0 1 0 3.8 0a1.9 1.9 0 1 0 -3.8 0M222.15 226.83a1.9 1.9 0 1 0 3.8 0a1.9 1.9 0 1 0 -3.8 0M225.66 353a1.9 1.9 0 1 0 3.8 0a1.9 1.9 0 1 0 -3.8 0M225.66 348.93a1.9 1.9 0 1 0 3.8 0a1.9 1.9 0 1 0 -3.8 0M225.66 344.86a1.9 1.9 0 1 0 3.8 0a1.9 1.9 0 1 0 -3.8 0M225.66 340.79a1.9 1.9 0 1 0 3.8 0a1.9 1.9 0 1 0 -3.8 0M225.66 336.72a1.9 1.9 0 1 0 3.8 0a1.9 1.9 0 1 0 -3.8 0M225.66 332.65a1.9 1.9 0 1 0 3.8 0a1.9 1.9 0 1 0 -3.8 0M225.66 328.58a1.9 1.9 0 1 0 3.8 0a1.9 1.9 0 1 0 -3.8 0M225.66 324.51a1.9 1.9 0 1 0 3.8 0a1.9 1.9 0 1 0 -3.8 0M225.66 320.44a1.9 1.9 0 1 0 3.8 0a1.9 1.9 0 1 0 -3.8 0M225.66 316.37a1.9 1.9 0 1 0 3.8 0a1.9 1.9 0 1 0 -3.8 0M225.66 312.3a1.9 1.9 0 1 0 3.8 0a1.9 1.9 0 1 0 -3.8 0M225.66 308.23a1.9 1.9 0 1 0 3.8 0a1.9 1.9 0 1 0 -3.8 0M225.66 304.16a1.9 1.9 0 1 0 3.8 0a1.9 1.9 0 1 0 -3.8 0M225.66 300.09a1.9 1.9 0 1 0 3.8 0a1.9 1.9 0 1 0 -3.8 0M225.66 296.02a1.9 1.9 0 1 0 3.8 0a1.9 1.9 0 1 0 -3.8 0M225.66 291.95a1.9 1.9 0 1 0 3.8 0a1.9 1.9 0 1 0 -3.8 0M225.66 287.88a1.9 1.9 0 1 0 3.8 0a1.9 1.9 0 1 0 -3.8 0M225.66 283.81a1.9 1.9 0 1 0 3.8 0a1.9 1.9 0 1 0 -3.8 0M225.66 279.74a1.9 1.9 0 1 0 3.8 0a1.9 1.9 0 1 0 -3.8 0M225.66 275.67a1.9 1.9 0 1 0 3.8 0a1.9 1.9 0 1 0 -3.8 0M225.66 271.6a1.9 1.9 0 1 0 3.8 0a1.9 1.9 0 1 0 -3.8 0M225.66 267.53a1.9 1.9 0 1 0 3.8 0a1.9 1.9 0 1 0 -3.8 0M225.66 263.46a1.9 1.9 0 1 0 3.8 0a1.9 1.9 0 1 0 -3.8 0M225.66 259.39a1.9 1.9 0 1 0 3.8 0a1.9 1.9 0 1 0 -3.8 0M225.66 255.32a1.9 1.9 0 1 0 3.8 0a1.9 1.9 0 1 0 -3.8 0M225.66 251.25a1.9 1.9 0 1 0 3.8 0a1.9 1.9 0 1 0 -3.8 0M225.66 247.18a1.9 1.9 0 1 0 3.8 0a1.9 1.9 0 1 0 -3.8 0M225.66 243.11a1.9 1.9 0 1 0 3.8 0a1.9 1.9 0 1 0 -3.8 0M225.66 239.04a1.9 1.9 0 1 0 3.8 0a1.9 1.9 0 1 0 -3.8 0M225.66 234.97a1.9 1.9 0 1 0 3.8 0a1.9 1.9 0 1 0 -3.8 0M225.66 230.9a1.9 1.9 0 1 0 3.8 0a1.9 1.9 0 1 0 -3.8 0M225.66 226.83a1.9 1.9 0 1 0 3.8 0a1.9 1.9 0 1 0 -3.8 0M229.18 353a1.9 1.9 0 1 0 3.8 0a1.9 1.9 0 1 0 -3.8 0M229.18 348.93a1.9 1.9 0 1 0 3.8 0a1.9 1.9 0 1 0 -3.8 0M229.18 344.86a1.9 1.9 0 1 0 3.8 0a1.9 1.9 0 1 0 -3.8 0M229.18 340.79a1.9 1.9 0 1 0 3.8 0a1.9 1.9 0 1 0 -3.8 0M229.18 336.72a1.9 1.9 0 1 0 3.8 0a1.9 1.9 0 1 0 -3.8 0M229.18 332.65a1.9 1.9 0 1 0 3.8 0a1.9 1.9 0 1 0 -3.8 0M229.18 328.58a1.9 1.9 0 1 0 3.8 0a1.9 1.9 0 1 0 -3.8 0M229.18 324.51a1.9 1.9 0 1 0 3.8 0a1.9 1.9 0 1 0 -3.8 0M229.18 320.44a1.9 1.9 0 1 0 3.8 0a1.9 1.9 0 1 0 -3.8 0M229.18 316.37a1.9 1.9 0 1 0 3.8 0a1.9 1.9 0 1 0 -3.8 0M229.18 312.3a1.9 1.9 0 1 0 3.8 0a1.9 1.9 0 1 0 -3.8 0M229.18 308.23a1.9 1.9 0 1 0 3.8 0a1.9 1.9 0 1 0 -3.8 0M229.18 304.16a1.9 1.9 0 1 0 3.8 0a1.9 1.9 0 1 0 -3.8 0M229.18 300.09a1.9 1.9 0 1 0 3.8 0a1.9 1.9 0 1 0 -3.8 0M229.18 296.02a1.9 1.9 0 1 0 3.8 0a1.9 1.9 0 1 0 -3.8 0M229.18 291.95a1.9 1.9 0 1 0 3.8 0a1.9 1.9 0 1 0 -3.8 0M229.18 287.88a1.9 1.9 0 1 0 3.8 0a1.9 1.9 0 1 0 -3.8 0M229.18 283.81a1.9 1.9 0 1 0 3.8 0a1.9 1.9 0 1 0 -3.8 0M229.18 279.74a1.9 1.9 0 1 0 3.8 0a1.9 1.9 0 1 0 -3.8 0M229.18 275.67a1.9 1.9 0 1 0 3.8 0a1.9 1.9 0 1 0 -3.8 0M229.18 271.6a1.9 1.9 0 1 0 3.8 0a1.9 1.9 0 1 0 -3.8 0M229.18 267.53a1.9 1.9 0 1 0 3.8 0a1.9 1.9 0 1 0 -3.8 0M229.18 263.46a1.9 1.9 0 1 0 3.8 0a1.9 1.9 0 1 0 -3.8 0M229.18 259.39a1.9 1.9 0 1 0 3.8 0a1.9 1.9 0 1 0 -3.8 0M229.18 255.32a1.9 1.9 0 1 0 3.8 0a1.9 1.9 0 1 0 -3.8 0M229.18 251.25a1.9 1.9 0 1 0 3.8 0a1.9 1.9 0 1 0 -3.8 0M229.18 247.18a1.9 1.9 0 1 0 3.8 0a1.9 1.9 0 1 0 -3.8 0M229.18 243.11a1.9 1.9 0 1 0 3.8 0a1.9 1.9 0 1 0 -3.8 0M229.18 239.04a1.9 1.9 0 1 0 3.8 0a1.9 1.9 0 1 0 -3.8 0M229.18 234.97a1.9 1.9 0 1 0 3.8 0a1.9 1.9 0 1 0 -3.8 0M229.18 230.9a1.9 1.9 0 1 0 3.8 0a1.9 1.9 0 1 0 -3.8 0M229.18 226.83a1.9 1.9 0 1 0 3.8 0a1.9 1.9 0 1 0 -3.8 0M232.69 353a1.9 1.9 0 1 0 3.8 0a1.9 1.9 0 1 0 -3.8 0M232.69 348.93a1.9 1.9 0 1 0 3.8 0a1.9 1.9 0 1 0 -3.8 0M232.69 344.86a1.9 1.9 0 1 0 3.8 0a1.9 1.9 0 1 0 -3.8 0M232.69 340.79a1.9 1.9 0 1 0 3.8 0a1.9 1.9 0 1 0 -3.8 0M232.69 336.72a1.9 1.9 0 1 0 3.8 0a1.9 1.9 0 1 0 -3.8 0M232.69 332.65a1.9 1.9 0 1 0 3.8 0a1.9 1.9 0 1 0 -3.8 0M232.69 328.58a1.9 1.9 0 1 0 3.8 0a1.9 1.9 0 1 0 -3.8 0M232.69 324.51a1.9 1.9 0 1 0 3.8 0a1.9 1.9 0 1 0 -3.8 0M232.69 320.44a1.9 1.9 0 1 0 3.8 0a1.9 1.9 0 1 0 -3.8 0M232.69 316.37a1.9 1.9 0 1 0 3.8 0a1.9 1.9 0 1 0 -3.8 0M232.69 312.3a1.9 1.9 0 1 0 3.8 0a1.9 1.9 0 1 0 -3.8 0M232.69 308.23a1.9 1.9 0 1 0 3.8 0a1.9 1.9 0 1 0 -3.8 0M232.69 304.16a1.9 1.9 0 1 0 3.8 0a1.9 1.9 0 1 0 -3.8 0M232.69 300.09a1.9 1.9 0 1 0 3.8 0a1.9 1.9 0 1 0 -3.8 0M232.69 296.02a1.9 1.9 0 1 0 3.8 0a1.9 1.9 0 1 0 -3.8 0M232.69 291.95a1.9 1.9 0 1 0 3.8 0a1.9 1.9 0 1 0 -3.8 0M232.69 287.88a1.9 1.9 0 1 0 3.8 0a1.9 1.9 0 1 0 -3.8 0M232.69 283.81a1.9 1.9 0 1 0 3.8 0a1.9 1.9 0 1 0 -3.8 0M232.69 279.74a1.9 1.9 0 1 0 3.8 0a1.9 1.9 0 1 0 -3.8 0M232.69 275.67a1.9 1.9 0 1 0 3.8 0a1.9 1.9 0 1 0 -3.8 0M232.69 271.6a1.9 1.9 0 1 0 3.8 0a1.9 1.9 0 1 0 -3.8 0M232.69 267.53a1.9 1.9 0 1 0 3.8 0a1.9 1.9 0 1 0 -3.8 0M232.69 263.46a1.9 1.9 0 1 0 3.8 0a1.9 1.9 0 1 0 -3.8 0M232.69 259.39a1.9 1.9 0 1 0 3.8 0a1.9 1.9 0 1 0 -3.8 0M232.69 255.32a1.9 1.9 0 1 0 3.8 0a1.9 1.9 0 1 0 -3.8 0M232.69 251.25a1.9 1.9 0 1 0 3.8 0a1.9 1.9 0 1 0 -3.8 0M232.69 247.18a1.9 1.9 0 1 0 3.8 0a1.9 1.9 0 1 0 -3.8 0M232.69 243.11a1.9 1.9 0 1 0 3.8 0a1.9 1.9 0 1 0 -3.8 0M232.69 239.04a1.9 1.9 0 1 0 3.8 0a1.9 1.9 0 1 0 -3.8 0M232.69 234.97a1.9 1.9 0 1 0 3.8 0a1.9 1.9 0 1 0 -3.8 0M232.69 230.9a1.9 1.9 0 1 0 3.8 0a1.9 1.9 0 1 0 -3.8 0M232.69 226.83a1.9 1.9 0 1 0 3.8 0a1.9 1.9 0 1 0 -3.8 0M236.2 353a1.9 1.9 0 1 0 3.8 0a1.9 1.9 0 1 0 -3.8 0M236.2 348.93a1.9 1.9 0 1 0 3.8 0a1.9 1.9 0 1 0 -3.8 0M236.2 344.86a1.9 1.9 0 1 0 3.8 0a1.9 1.9 0 1 0 -3.8 0M236.2 340.79a1.9 1.9 0 1 0 3.8 0a1.9 1.9 0 1 0 -3.8 0M236.2 336.72a1.9 1.9 0 1 0 3.8 0a1.9 1.9 0 1 0 -3.8 0M236.2 332.65a1.9 1.9 0 1 0 3.8 0a1.9 1.9 0 1 0 -3.8 0M236.2 328.58a1.9 1.9 0 1 0 3.8 0a1.9 1.9 0 1 0 -3.8 0M236.2 324.51a1.9 1.9 0 1 0 3.8 0a1.9 1.9 0 1 0 -3.8 0M236.2 320.44a1.9 1.9 0 1 0 3.8 0a1.9 1.9 0 1 0 -3.8 0M236.2 316.37a1.9 1.9 0 1 0 3.8 0a1.9 1.9 0 1 0 -3.8 0M236.2 312.3a1.9 1.9 0 1 0 3.8 0a1.9 1.9 0 1 0 -3.8 0M236.2 308.23a1.9 1.9 0 1 0 3.8 0a1.9 1.9 0 1 0 -3.8 0M236.2 304.16a1.9 1.9 0 1 0 3.8 0a1.9 1.9 0 1 0 -3.8 0M236.2 300.09a1.9 1.9 0 1 0 3.8 0a1.9 1.9 0 1 0 -3.8 0M236.2 296.02a1.9 1.9 0 1 0 3.8 0a1.9 1.9 0 1 0 -3.8 0M236.2 291.95a1.9 1.9 0 1 0 3.8 0a1.9 1.9 0 1 0 -3.8 0M236.2 287.88a1.9 1.9 0 1 0 3.8 0a1.9 1.9 0 1 0 -3.8 0M236.2 283.81a1.9 1.9 0 1 0 3.8 0a1.9 1.9 0 1 0 -3.8 0M236.2 279.74a1.9 1.9 0 1 0 3.8 0a1.9 1.9 0 1 0 -3.8 0M236.2 275.67a1.9 1.9 0 1 0 3.8 0a1.9 1.9 0 1 0 -3.8 0M236.2 271.6a1.9 1.9 0 1 0 3.8 0a1.9 1.9 0 1 0 -3.8 0M236.2 267.53a1.9 1.9 0 1 0 3.8 0a1.9 1.9 0 1 0 -3.8 0M236.2 263.46a1.9 1.9 0 1 0 3.8 0a1.9 1.9 0 1 0 -3.8 0M236.2 259.39a1.9 1.9 0 1 0 3.8 0a1.9 1.9 0 1 0 -3.8 0M236.2 255.32a1.9 1.9 0 1 0 3.8 0a1.9 1.9 0 1 0 -3.8 0M236.2 251.25a1.9 1.9 0 1 0 3.8 0a1.9 1.9 0 1 0 -3.8 0M236.2 247.18a1.9 1.9 0 1 0 3.8 0a1.9 1.9 0 1 0 -3.8 0M236.2 243.11a1.9 1.9 0 1 0 3.8 0a1.9 1.9 0 1 0 -3.8 0M236.2 239.04a1.9 1.9 0 1 0 3.8 0a1.9 1.9 0 1 0 -3.8 0M236.2 234.97a1.9 1.9 0 1 0 3.8 0a1.9 1.9 0 1 0 -3.8 0M236.2 230.9a1.9 1.9 0 1 0 3.8 0a1.9 1.9 0 1 0 -3.8 0M236.2 226.83a1.9 1.9 0 1 0 3.8 0a1.9 1.9 0 1 0 -3.8 0M239.72 353a1.9 1.9 0 1 0 3.8 0a1.9 1.9 0 1 0 -3.8 0M239.72 348.93a1.9 1.9 0 1 0 3.8 0a1.9 1.9 0 1 0 -3.8 0M239.72 344.86a1.9 1.9 0 1 0 3.8 0a1.9 1.9 0 1 0 -3.8 0M239.72 340.79a1.9 1.9 0 1 0 3.8 0a1.9 1.9 0 1 0 -3.8 0M239.72 336.72a1.9 1.9 0 1 0 3.8 0a1.9 1.9 0 1 0 -3.8 0M239.72 332.65a1.9 1.9 0 1 0 3.8 0a1.9 1.9 0 1 0 -3.8 0M239.72 328.58a1.9 1.9 0 1 0 3.8 0a1.9 1.9 0 1 0 -3.8 0M239.72 324.51a1.9 1.9 0 1 0 3.8 0a1.9 1.9 0 1 0 -3.8 0M239.72 320.44a1.9 1.9 0 1 0 3.8 0a1.9 1.9 0 1 0 -3.8 0M239.72 316.37a1.9 1.9 0 1 0 3.8 0a1.9 1.9 0 1 0 -3.8 0M239.72 312.3a1.9 1.9 0 1 0 3.8 0a1.9 1.9 0 1 0 -3.8 0M239.72 308.23a1.9 1.9 0 1 0 3.8 0a1.9 1.9 0 1 0 -3.8 0M239.72 304.16a1.9 1.9 0 1 0 3.8 0a1.9 1.9 0 1 0 -3.8 0M239.72 300.09a1.9 1.9 0 1 0 3.8 0a1.9 1.9 0 1 0 -3.8 0M239.72 296.02a1.9 1.9 0 1 0 3.8 0a1.9 1.9 0 1 0 -3.8 0M239.72 291.95a1.9 1.9 0 1 0 3.8 0a1.9 1.9 0 1 0 -3.8 0M239.72 287.88a1.9 1.9 0 1 0 3.8 0a1.9 1.9 0 1 0 -3.8 0M239.72 283.81a1.9 1.9 0 1 0 3.8 0a1.9 1.9 0 1 0 -3.8 0M239.72 279.74a1.9 1.9 0 1 0 3.8 0a1.9 1.9 0 1 0 -3.8 0M239.72 275.67a1.9 1.9 0 1 0 3.8 0a1.9 1.9 0 1 0 -3.8 0M239.72 271.6a1.9 1.9 0 1 0 3.8 0a1.9 1.9 0 1 0 -3.8 0M239.72 267.53a1.9 1.9 0 1 0 3.8 0a1.9 1.9 0 1 0 -3.8 0M239.72 263.46a1.9 1.9 0 1 0 3.8 0a1.9 1.9 0 1 0 -3.8 0M239.72 259.39a1.9 1.9 0 1 0 3.8 0a1.9 1.9 0 1 0 -3.8 0M239.72 255.32a1.9 1.9 0 1 0 3.8 0a1.9 1.9 0 1 0 -3.8 0M239.72 251.25a1.9 1.9 0 1 0 3.8 0a1.9 1.9 0 1 0 -3.8 0M239.72 247.18a1.9 1.9 0 1 0 3.8 0a1.9 1.9 0 1 0 -3.8 0M239.72 243.11a1.9 1.9 0 1 0 3.8 0a1.9 1.9 0 1 0 -3.8 0M239.72 239.04a1.9 1.9 0 1 0 3.8 0a1.9 1.9 0 1 0 -3.8 0M239.72 234.97a1.9 1.9 0 1 0 3.8 0a1.9 1.9 0 1 0 -3.8 0M239.72 230.9a1.9 1.9 0 1 0 3.8 0a1.9 1.9 0 1 0 -3.8 0M239.72 226.83a1.9 1.9 0 1 0 3.8 0a1.9 1.9 0 1 0 -3.8 0M243.23 353a1.9 1.9 0 1 0 3.8 0a1.9 1.9 0 1 0 -3.8 0M243.23 348.93a1.9 1.9 0 1 0 3.8 0a1.9 1.9 0 1 0 -3.8 0M243.23 344.86a1.9 1.9 0 1 0 3.8 0a1.9 1.9 0 1 0 -3.8 0M243.23 340.79a1.9 1.9 0 1 0 3.8 0a1.9 1.9 0 1 0 -3.8 0M243.23 336.72a1.9 1.9 0 1 0 3.8 0a1.9 1.9 0 1 0 -3.8 0M243.23 332.65a1.9 1.9 0 1 0 3.8 0a1.9 1.9 0 1 0 -3.8 0M243.23 328.58a1.9 1.9 0 1 0 3.8 0a1.9 1.9 0 1 0 -3.8 0M243.23 324.51a1.9 1.9 0 1 0 3.8 0a1.9 1.9 0 1 0 -3.8 0M243.23 320.44a1.9 1.9 0 1 0 3.8 0a1.9 1.9 0 1 0 -3.8 0M243.23 316.37a1.9 1.9 0 1 0 3.8 0a1.9 1.9 0 1 0 -3.8 0M243.23 312.3a1.9 1.9 0 1 0 3.8 0a1.9 1.9 0 1 0 -3.8 0M243.23 308.23a1.9 1.9 0 1 0 3.8 0a1.9 1.9 0 1 0 -3.8 0M243.23 304.16a1.9 1.9 0 1 0 3.8 0a1.9 1.9 0 1 0 -3.8 0M243.23 300.09a1.9 1.9 0 1 0 3.8 0a1.9 1.9 0 1 0 -3.8 0M243.23 296.02a1.9 1.9 0 1 0 3.8 0a1.9 1.9 0 1 0 -3.8 0M243.23 291.95a1.9 1.9 0 1 0 3.8 0a1.9 1.9 0 1 0 -3.8 0M243.23 287.88a1.9 1.9 0 1 0 3.8 0a1.9 1.9 0 1 0 -3.8 0M243.23 283.81a1.9 1.9 0 1 0 3.8 0a1.9 1.9 0 1 0 -3.8 0M243.23 279.74a1.9 1.9 0 1 0 3.8 0a1.9 1.9 0 1 0 -3.8 0M243.23 275.67a1.9 1.9 0 1 0 3.8 0a1.9 1.9 0 1 0 -3.8 0M243.23 271.6a1.9 1.9 0 1 0 3.8 0a1.9 1.9 0 1 0 -3.8 0M243.23 267.53a1.9 1.9 0 1 0 3.8 0a1.9 1.9 0 1 0 -3.8 0M243.23 263.46a1.9 1.9 0 1 0 3.8 0a1.9 1.9 0 1 0 -3.8 0M243.23 259.39a1.9 1.9 0 1 0 3.8 0a1.9 1.9 0 1 0 -3.8 0M243.23 255.32a1.9 1.9 0 1 0 3.8 0a1.9 1.9 0 1 0 -3.8 0M243.23 251.25a1.9 1.9 0 1 0 3.8 0a1.9 1.9 0 1 0 -3.8 0M243.23 247.18a1.9 1.9 0 1 0 3.8 0a1.9 1.9 0 1 0 -3.8 0M243.23 243.11a1.9 1.9 0 1 0 3.8 0a1.9 1.9 0 1 0 -3.8 0M243.23 239.04a1.9 1.9 0 1 0 3.8 0a1.9 1.9 0 1 0 -3.8 0M243.23 234.97a1.9 1.9 0 1 0 3.8 0a1.9 1.9 0 1 0 -3.8 0M243.23 230.9a1.9 1.9 0 1 0 3.8 0a1.9 1.9 0 1 0 -3.8 0M243.23 226.83a1.9 1.9 0 1 0 3.8 0a1.9 1.9 0 1 0 -3.8 0M246.74 353a1.9 1.9 0 1 0 3.8 0a1.9 1.9 0 1 0 -3.8 0M246.74 348.93a1.9 1.9 0 1 0 3.8 0a1.9 1.9 0 1 0 -3.8 0M246.74 344.86a1.9 1.9 0 1 0 3.8 0a1.9 1.9 0 1 0 -3.8 0M246.74 340.79a1.9 1.9 0 1 0 3.8 0a1.9 1.9 0 1 0 -3.8 0M246.74 336.72a1.9 1.9 0 1 0 3.8 0a1.9 1.9 0 1 0 -3.8 0M246.74 332.65a1.9 1.9 0 1 0 3.8 0a1.9 1.9 0 1 0 -3.8 0M246.74 328.58a1.9 1.9 0 1 0 3.8 0a1.9 1.9 0 1 0 -3.8 0M246.74 324.51a1.9 1.9 0 1 0 3.8 0a1.9 1.9 0 1 0 -3.8 0M246.74 320.44a1.9 1.9 0 1 0 3.8 0a1.9 1.9 0 1 0 -3.8 0M246.74 316.37a1.9 1.9 0 1 0 3.8 0a1.9 1.9 0 1 0 -3.8 0M246.74 312.3a1.9 1.9 0 1 0 3.8 0a1.9 1.9 0 1 0 -3.8 0M246.74 308.23a1.9 1.9 0 1 0 3.8 0a1.9 1.9 0 1 0 -3.8 0M246.74 304.16a1.9 1.9 0 1 0 3.8 0a1.9 1.9 0 1 0 -3.8 0M246.74 300.09a1.9 1.9 0 1 0 3.8 0a1.9 1.9 0 1 0 -3.8 0M246.74 296.02a1.9 1.9 0 1 0 3.8 0a1.9 1.9 0 1 0 -3.8 0M246.74 291.95a1.9 1.9 0 1 0 3.8 0a1.9 1.9 0 1 0 -3.8 0M246.74 287.88a1.9 1.9 0 1 0 3.8 0a1.9 1.9 0 1 0 -3.8 0M246.74 283.81a1.9 1.9 0 1 0 3.8 0a1.9 1.9 0 1 0 -3.8 0M246.74 279.74a1.9 1.9 0 1 0 3.8 0a1.9 1.9 0 1 0 -3.8 0M246.74 275.67a1.9 1.9 0 1 0 3.8 0a1.9 1.9 0 1 0 -3.8 0M246.74 271.6a1.9 1.9 0 1 0 3.8 0a1.9 1.9 0 1 0 -3.8 0M246.74 267.53a1.9 1.9 0 1 0 3.8 0a1.9 1.9 0 1 0 -3.8 0M246.74 263.46a1.9 1.9 0 1 0 3.8 0a1.9 1.9 0 1 0 -3.8 0M246.74 259.39a1.9 1.9 0 1 0 3.8 0a1.9 1.9 0 1 0 -3.8 0M246.74 255.32a1.9 1.9 0 1 0 3.8 0a1.9 1.9 0 1 0 -3.8 0M246.74 251.25a1.9 1.9 0 1 0 3.8 0a1.9 1.9 0 1 0 -3.8 0M246.74 247.18a1.9 1.9 0 1 0 3.8 0a1.9 1.9 0 1 0 -3.8 0M246.74 243.11a1.9 1.9 0 1 0 3.8 0a1.9 1.9 0 1 0 -3.8 0M246.74 239.04a1.9 1.9 0 1 0 3.8 0a1.9 1.9 0 1 0 -3.8 0M246.74 234.97a1.9 1.9 0 1 0 3.8 0a1.9 1.9 0 1 0 -3.8 0M246.74 230.9a1.9 1.9 0 1 0 3.8 0a1.9 1.9 0 1 0 -3.8 0M246.74 226.83a1.9 1.9 0 1 0 3.8 0a1.9 1.9 0 1 0 -3.8 0M250.26 353a1.9 1.9 0 1 0 3.8 0a1.9 1.9 0 1 0 -3.8 0M250.26 348.93a1.9 1.9 0 1 0 3.8 0a1.9 1.9 0 1 0 -3.8 0M250.26 344.86a1.9 1.9 0 1 0 3.8 0a1.9 1.9 0 1 0 -3.8 0M250.26 340.79a1.9 1.9 0 1 0 3.8 0a1.9 1.9 0 1 0 -3.8 0M250.26 336.72a1.9 1.9 0 1 0 3.8 0a1.9 1.9 0 1 0 -3.8 0M250.26 332.65a1.9 1.9 0 1 0 3.8 0a1.9 1.9 0 1 0 -3.8 0M250.26 328.58a1.9 1.9 0 1 0 3.8 0a1.9 1.9 0 1 0 -3.8 0M250.26 324.51a1.9 1.9 0 1 0 3.8 0a1.9 1.9 0 1 0 -3.8 0M250.26 320.44a1.9 1.9 0 1 0 3.8 0a1.9 1.9 0 1 0 -3.8 0M250.26 316.37a1.9 1.9 0 1 0 3.8 0a1.9 1.9 0 1 0 -3.8 0M250.26 312.3a1.9 1.9 0 1 0 3.8 0a1.9 1.9 0 1 0 -3.8 0M250.26 308.23a1.9 1.9 0 1 0 3.8 0a1.9 1.9 0 1 0 -3.8 0M250.26 304.16a1.9 1.9 0 1 0 3.8 0a1.9 1.9 0 1 0 -3.8 0M250.26 300.09a1.9 1.9 0 1 0 3.8 0a1.9 1.9 0 1 0 -3.8 0M250.26 296.02a1.9 1.9 0 1 0 3.8 0a1.9 1.9 0 1 0 -3.8 0M250.26 291.95a1.9 1.9 0 1 0 3.8 0a1.9 1.9 0 1 0 -3.8 0M250.26 287.88a1.9 1.9 0 1 0 3.8 0a1.9 1.9 0 1 0 -3.8 0M250.26 283.81a1.9 1.9 0 1 0 3.8 0a1.9 1.9 0 1 0 -3.8 0M250.26 279.74a1.9 1.9 0 1 0 3.8 0a1.9 1.9 0 1 0 -3.8 0M250.26 275.67a1.9 1.9 0 1 0 3.8 0a1.9 1.9 0 1 0 -3.8 0M250.26 271.6a1.9 1.9 0 1 0 3.8 0a1.9 1.9 0 1 0 -3.8 0M250.26 267.53a1.9 1.9 0 1 0 3.8 0a1.9 1.9 0 1 0 -3.8 0M250.26 263.46a1.9 1.9 0 1 0 3.8 0a1.9 1.9 0 1 0 -3.8 0M250.26 259.39a1.9 1.9 0 1 0 3.8 0a1.9 1.9 0 1 0 -3.8 0M250.26 255.32a1.9 1.9 0 1 0 3.8 0a1.9 1.9 0 1 0 -3.8 0M250.26 251.25a1.9 1.9 0 1 0 3.8 0a1.9 1.9 0 1 0 -3.8 0M250.26 247.18a1.9 1.9 0 1 0 3.8 0a1.9 1.9 0 1 0 -3.8 0M250.26 243.11a1.9 1.9 0 1 0 3.8 0a1.9 1.9 0 1 0 -3.8 0M250.26 239.04a1.9 1.9 0 1 0 3.8 0a1.9 1.9 0 1 0 -3.8 0M250.26 234.97a1.9 1.9 0 1 0 3.8 0a1.9 1.9 0 1 0 -3.8 0M250.26 230.9a1.9 1.9 0 1 0 3.8 0a1.9 1.9 0 1 0 -3.8 0M250.26 226.83a1.9 1.9 0 1 0 3.8 0a1.9 1.9 0 1 0 -3.8 0M253.77 353a1.9 1.9 0 1 0 3.8 0a1.9 1.9 0 1 0 -3.8 0M253.77 348.93a1.9 1.9 0 1 0 3.8 0a1.9 1.9 0 1 0 -3.8 0M253.77 344.86a1.9 1.9 0 1 0 3.8 0a1.9 1.9 0 1 0 -3.8 0M253.77 340.79a1.9 1.9 0 1 0 3.8 0a1.9 1.9 0 1 0 -3.8 0M253.77 336.72a1.9 1.9 0 1 0 3.8 0a1.9 1.9 0 1 0 -3.8 0M253.77 332.65a1.9 1.9 0 1 0 3.8 0a1.9 1.9 0 1 0 -3.8 0M253.77 328.58a1.9 1.9 0 1 0 3.8 0a1.9 1.9 0 1 0 -3.8 0M253.77 324.51a1.9 1.9 0 1 0 3.8 0a1.9 1.9 0 1 0 -3.8 0M253.77 320.44a1.9 1.9 0 1 0 3.8 0a1.9 1.9 0 1 0 -3.8 0M253.77 316.37a1.9 1.9 0 1 0 3.8 0a1.9 1.9 0 1 0 -3.8 0M253.77 312.3a1.9 1.9 0 1 0 3.8 0a1.9 1.9 0 1 0 -3.8 0M253.77 308.23a1.9 1.9 0 1 0 3.8 0a1.9 1.9 0 1 0 -3.8 0M253.77 304.16a1.9 1.9 0 1 0 3.8 0a1.9 1.9 0 1 0 -3.8 0M253.77 300.09a1.9 1.9 0 1 0 3.8 0a1.9 1.9 0 1 0 -3.8 0M253.77 296.02a1.9 1.9 0 1 0 3.8 0a1.9 1.9 0 1 0 -3.8 0M253.77 291.95a1.9 1.9 0 1 0 3.8 0a1.9 1.9 0 1 0 -3.8 0M253.77 287.88a1.9 1.9 0 1 0 3.8 0a1.9 1.9 0 1 0 -3.8 0M253.77 283.81a1.9 1.9 0 1 0 3.8 0a1.9 1.9 0 1 0 -3.8 0M253.77 279.74a1.9 1.9 0 1 0 3.8 0a1.9 1.9 0 1 0 -3.8 0M253.77 275.67a1.9 1.9 0 1 0 3.8 0a1.9 1.9 0 1 0 -3.8 0M253.77 271.6a1.9 1.9 0 1 0 3.8 0a1.9 1.9 0 1 0 -3.8 0M253.77 267.53a1.9 1.9 0 1 0 3.8 0a1.9 1.9 0 1 0 -3.8 0M253.77 263.46a1.9 1.9 0 1 0 3.8 0a1.9 1.9 0 1 0 -3.8 0M253.77 259.39a1.9 1.9 0 1 0 3.8 0a1.9 1.9 0 1 0 -3.8 0M253.77 255.32a1.9 1.9 0 1 0 3.8 0a1.9 1.9 0 1 0 -3.8 0M253.77 251.25a1.9 1.9 0 1 0 3.8 0a1.9 1.9 0 1 0 -3.8 0M253.77 247.18a1.9 1.9 0 1 0 3.8 0a1.9 1.9 0 1 0 -3.8 0M253.77 243.11a1.9 1.9 0 1 0 3.8 0a1.9 1.9 0 1 0 -3.8 0M253.77 239.04a1.9 1.9 0 1 0 3.8 0a1.9 1.9 0 1 0 -3.8 0M253.77 234.97a1.9 1.9 0 1 0 3.8 0a1.9 1.9 0 1 0 -3.8 0M253.77 230.9a1.9 1.9 0 1 0 3.8 0a1.9 1.9 0 1 0 -3.8 0M253.77 226.83a1.9 1.9 0 1 0 3.8 0a1.9 1.9 0 1 0 -3.8 0M257.28 353a1.9 1.9 0 1 0 3.8 0a1.9 1.9 0 1 0 -3.8 0M257.28 348.93a1.9 1.9 0 1 0 3.8 0a1.9 1.9 0 1 0 -3.8 0M257.28 344.86a1.9 1.9 0 1 0 3.8 0a1.9 1.9 0 1 0 -3.8 0M257.28 340.79a1.9 1.9 0 1 0 3.8 0a1.9 1.9 0 1 0 -3.8 0M257.28 336.72a1.9 1.9 0 1 0 3.8 0a1.9 1.9 0 1 0 -3.8 0M257.28 332.65a1.9 1.9 0 1 0 3.8 0a1.9 1.9 0 1 0 -3.8 0M257.28 328.58a1.9 1.9 0 1 0 3.8 0a1.9 1.9 0 1 0 -3.8 0M257.28 324.51a1.9 1.9 0 1 0 3.8 0a1.9 1.9 0 1 0 -3.8 0M257.28 320.44a1.9 1.9 0 1 0 3.8 0a1.9 1.9 0 1 0 -3.8 0M257.28 316.37a1.9 1.9 0 1 0 3.8 0a1.9 1.9 0 1 0 -3.8 0M257.28 312.3a1.9 1.9 0 1 0 3.8 0a1.9 1.9 0 1 0 -3.8 0M257.28 308.23a1.9 1.9 0 1 0 3.8 0a1.9 1.9 0 1 0 -3.8 0M257.28 304.16a1.9 1.9 0 1 0 3.8 0a1.9 1.9 0 1 0 -3.8 0M257.28 300.09a1.9 1.9 0 1 0 3.8 0a1.9 1.9 0 1 0 -3.8 0M257.28 296.02a1.9 1.9 0 1 0 3.8 0a1.9 1.9 0 1 0 -3.8 0M257.28 291.95a1.9 1.9 0 1 0 3.8 0a1.9 1.9 0 1 0 -3.8 0M257.28 287.88a1.9 1.9 0 1 0 3.8 0a1.9 1.9 0 1 0 -3.8 0M257.28 283.81a1.9 1.9 0 1 0 3.8 0a1.9 1.9 0 1 0 -3.8 0M257.28 279.74a1.9 1.9 0 1 0 3.8 0a1.9 1.9 0 1 0 -3.8 0M257.28 275.67a1.9 1.9 0 1 0 3.8 0a1.9 1.9 0 1 0 -3.8 0M257.28 271.6a1.9 1.9 0 1 0 3.8 0a1.9 1.9 0 1 0 -3.8 0M257.28 267.53a1.9 1.9 0 1 0 3.8 0a1.9 1.9 0 1 0 -3.8 0M257.28 263.46a1.9 1.9 0 1 0 3.8 0a1.9 1.9 0 1 0 -3.8 0M257.28 259.39a1.9 1.9 0 1 0 3.8 0a1.9 1.9 0 1 0 -3.8 0M257.28 255.32a1.9 1.9 0 1 0 3.8 0a1.9 1.9 0 1 0 -3.8 0M257.28 251.25a1.9 1.9 0 1 0 3.8 0a1.9 1.9 0 1 0 -3.8 0M257.28 247.18a1.9 1.9 0 1 0 3.8 0a1.9 1.9 0 1 0 -3.8 0M257.28 243.11a1.9 1.9 0 1 0 3.8 0a1.9 1.9 0 1 0 -3.8 0M257.28 239.04a1.9 1.9 0 1 0 3.8 0a1.9 1.9 0 1 0 -3.8 0M257.28 234.97a1.9 1.9 0 1 0 3.8 0a1.9 1.9 0 1 0 -3.8 0M257.28 230.9a1.9 1.9 0 1 0 3.8 0a1.9 1.9 0 1 0 -3.8 0M257.28 226.83a1.9 1.9 0 1 0 3.8 0a1.9 1.9 0 1 0 -3.8 0M260.8 353a1.9 1.9 0 1 0 3.8 0a1.9 1.9 0 1 0 -3.8 0M260.8 348.93a1.9 1.9 0 1 0 3.8 0a1.9 1.9 0 1 0 -3.8 0M260.8 344.86a1.9 1.9 0 1 0 3.8 0a1.9 1.9 0 1 0 -3.8 0M260.8 340.79a1.9 1.9 0 1 0 3.8 0a1.9 1.9 0 1 0 -3.8 0M260.8 336.72a1.9 1.9 0 1 0 3.8 0a1.9 1.9 0 1 0 -3.8 0M260.8 332.65a1.9 1.9 0 1 0 3.8 0a1.9 1.9 0 1 0 -3.8 0M260.8 328.58a1.9 1.9 0 1 0 3.8 0a1.9 1.9 0 1 0 -3.8 0M260.8 324.51a1.9 1.9 0 1 0 3.8 0a1.9 1.9 0 1 0 -3.8 0M260.8 320.44a1.9 1.9 0 1 0 3.8 0a1.9 1.9 0 1 0 -3.8 0M260.8 316.37a1.9 1.9 0 1 0 3.8 0a1.9 1.9 0 1 0 -3.8 0M260.8 312.3a1.9 1.9 0 1 0 3.8 0a1.9 1.9 0 1 0 -3.8 0M260.8 308.23a1.9 1.9 0 1 0 3.8 0a1.9 1.9 0 1 0 -3.8 0M260.8 304.16a1.9 1.9 0 1 0 3.8 0a1.9 1.9 0 1 0 -3.8 0M260.8 300.09a1.9 1.9 0 1 0 3.8 0a1.9 1.9 0 1 0 -3.8 0M260.8 296.02a1.9 1.9 0 1 0 3.8 0a1.9 1.9 0 1 0 -3.8 0M260.8 291.95a1.9 1.9 0 1 0 3.8 0a1.9 1.9 0 1 0 -3.8 0M260.8 287.88a1.9 1.9 0 1 0 3.8 0a1.9 1.9 0 1 0 -3.8 0M260.8 283.81a1.9 1.9 0 1 0 3.8 0a1.9 1.9 0 1 0 -3.8 0M260.8 279.74a1.9 1.9 0 1 0 3.8 0a1.9 1.9 0 1 0 -3.8 0M260.8 275.67a1.9 1.9 0 1 0 3.8 0a1.9 1.9 0 1 0 -3.8 0M260.8 271.6a1.9 1.9 0 1 0 3.8 0a1.9 1.9 0 1 0 -3.8 0M260.8 267.53a1.9 1.9 0 1 0 3.8 0a1.9 1.9 0 1 0 -3.8 0M260.8 263.46a1.9 1.9 0 1 0 3.8 0a1.9 1.9 0 1 0 -3.8 0M260.8 259.39a1.9 1.9 0 1 0 3.8 0a1.9 1.9 0 1 0 -3.8 0M260.8 255.32a1.9 1.9 0 1 0 3.8 0a1.9 1.9 0 1 0 -3.8 0M260.8 251.25a1.9 1.9 0 1 0 3.8 0a1.9 1.9 0 1 0 -3.8 0M260.8 247.18a1.9 1.9 0 1 0 3.8 0a1.9 1.9 0 1 0 -3.8 0M260.8 243.11a1.9 1.9 0 1 0 3.8 0a1.9 1.9 0 1 0 -3.8 0M260.8 239.04a1.9 1.9 0 1 0 3.8 0a1.9 1.9 0 1 0 -3.8 0M260.8 234.97a1.9 1.9 0 1 0 3.8 0a1.9 1.9 0 1 0 -3.8 0M260.8 230.9a1.9 1.9 0 1 0 3.8 0a1.9 1.9 0 1 0 -3.8 0M260.8 226.83a1.9 1.9 0 1 0 3.8 0a1.9 1.9 0 1 0 -3.8 0M264.31 353a1.9 1.9 0 1 0 3.8 0a1.9 1.9 0 1 0 -3.8 0M264.31 348.93a1.9 1.9 0 1 0 3.8 0a1.9 1.9 0 1 0 -3.8 0M264.31 344.86a1.9 1.9 0 1 0 3.8 0a1.9 1.9 0 1 0 -3.8 0M264.31 340.79a1.9 1.9 0 1 0 3.8 0a1.9 1.9 0 1 0 -3.8 0M264.31 336.72a1.9 1.9 0 1 0 3.8 0a1.9 1.9 0 1 0 -3.8 0M264.31 332.65a1.9 1.9 0 1 0 3.8 0a1.9 1.9 0 1 0 -3.8 0M264.31 328.58a1.9 1.9 0 1 0 3.8 0a1.9 1.9 0 1 0 -3.8 0M264.31 324.51a1.9 1.9 0 1 0 3.8 0a1.9 1.9 0 1 0 -3.8 0M264.31 320.44a1.9 1.9 0 1 0 3.8 0a1.9 1.9 0 1 0 -3.8 0M264.31 316.37a1.9 1.9 0 1 0 3.8 0a1.9 1.9 0 1 0 -3.8 0M264.31 312.3a1.9 1.9 0 1 0 3.8 0a1.9 1.9 0 1 0 -3.8 0M264.31 308.23a1.9 1.9 0 1 0 3.8 0a1.9 1.9 0 1 0 -3.8 0M264.31 304.16a1.9 1.9 0 1 0 3.8 0a1.9 1.9 0 1 0 -3.8 0M264.31 300.09a1.9 1.9 0 1 0 3.8 0a1.9 1.9 0 1 0 -3.8 0M264.31 296.02a1.9 1.9 0 1 0 3.8 0a1.9 1.9 0 1 0 -3.8 0M264.31 291.95a1.9 1.9 0 1 0 3.8 0a1.9 1.9 0 1 0 -3.8 0M264.31 287.88a1.9 1.9 0 1 0 3.8 0a1.9 1.9 0 1 0 -3.8 0M264.31 283.81a1.9 1.9 0 1 0 3.8 0a1.9 1.9 0 1 0 -3.8 0M264.31 279.74a1.9 1.9 0 1 0 3.8 0a1.9 1.9 0 1 0 -3.8 0M264.31 275.67a1.9 1.9 0 1 0 3.8 0a1.9 1.9 0 1 0 -3.8 0M264.31 271.6a1.9 1.9 0 1 0 3.8 0a1.9 1.9 0 1 0 -3.8 0M264.31 267.53a1.9 1.9 0 1 0 3.8 0a1.9 1.9 0 1 0 -3.8 0M264.31 263.46a1.9 1.9 0 1 0 3.8 0a1.9 1.9 0 1 0 -3.8 0M264.31 259.39a1.9 1.9 0 1 0 3.8 0a1.9 1.9 0 1 0 -3.8 0M264.31 255.32a1.9 1.9 0 1 0 3.8 0a1.9 1.9 0 1 0 -3.8 0M264.31 251.25a1.9 1.9 0 1 0 3.8 0a1.9 1.9 0 1 0 -3.8 0M264.31 247.18a1.9 1.9 0 1 0 3.8 0a1.9 1.9 0 1 0 -3.8 0M264.31 243.11a1.9 1.9 0 1 0 3.8 0a1.9 1.9 0 1 0 -3.8 0M264.31 239.04a1.9 1.9 0 1 0 3.8 0a1.9 1.9 0 1 0 -3.8 0M264.31 234.97a1.9 1.9 0 1 0 3.8 0a1.9 1.9 0 1 0 -3.8 0M264.31 230.9a1.9 1.9 0 1 0 3.8 0a1.9 1.9 0 1 0 -3.8 0M264.31 226.83a1.9 1.9 0 1 0 3.8 0a1.9 1.9 0 1 0 -3.8 0M267.82 353a1.9 1.9 0 1 0 3.8 0a1.9 1.9 0 1 0 -3.8 0M267.82 348.93a1.9 1.9 0 1 0 3.8 0a1.9 1.9 0 1 0 -3.8 0M267.82 344.86a1.9 1.9 0 1 0 3.8 0a1.9 1.9 0 1 0 -3.8 0M267.82 340.79a1.9 1.9 0 1 0 3.8 0a1.9 1.9 0 1 0 -3.8 0M267.82 336.72a1.9 1.9 0 1 0 3.8 0a1.9 1.9 0 1 0 -3.8 0M267.82 332.65a1.9 1.9 0 1 0 3.8 0a1.9 1.9 0 1 0 -3.8 0M267.82 328.58a1.9 1.9 0 1 0 3.8 0a1.9 1.9 0 1 0 -3.8 0M267.82 324.51a1.9 1.9 0 1 0 3.8 0a1.9 1.9 0 1 0 -3.8 0M267.82 320.44a1.9 1.9 0 1 0 3.8 0a1.9 1.9 0 1 0 -3.8 0M267.82 316.37a1.9 1.9 0 1 0 3.8 0a1.9 1.9 0 1 0 -3.8 0M267.82 312.3a1.9 1.9 0 1 0 3.8 0a1.9 1.9 0 1 0 -3.8 0M267.82 308.23a1.9 1.9 0 1 0 3.8 0a1.9 1.9 0 1 0 -3.8 0M267.82 304.16a1.9 1.9 0 1 0 3.8 0a1.9 1.9 0 1 0 -3.8 0M267.82 300.09a1.9 1.9 0 1 0 3.8 0a1.9 1.9 0 1 0 -3.8 0M267.82 296.02a1.9 1.9 0 1 0 3.8 0a1.9 1.9 0 1 0 -3.8 0M267.82 291.95a1.9 1.9 0 1 0 3.8 0a1.9 1.9 0 1 0 -3.8 0M267.82 287.88a1.9 1.9 0 1 0 3.8 0a1.9 1.9 0 1 0 -3.8 0M267.82 283.81a1.9 1.9 0 1 0 3.8 0a1.9 1.9 0 1 0 -3.8 0M267.82 279.74a1.9 1.9 0 1 0 3.8 0a1.9 1.9 0 1 0 -3.8 0M267.82 275.67a1.9 1.9 0 1 0 3.8 0a1.9 1.9 0 1 0 -3.8 0M267.82 271.6a1.9 1.9 0 1 0 3.8 0a1.9 1.9 0 1 0 -3.8 0M267.82 267.53a1.9 1.9 0 1 0 3.8 0a1.9 1.9 0 1 0 -3.8 0M267.82 263.46a1.9 1.9 0 1 0 3.8 0a1.9 1.9 0 1 0 -3.8 0M267.82 259.39a1.9 1.9 0 1 0 3.8 0a1.9 1.9 0 1 0 -3.8 0M267.82 255.32a1.9 1.9 0 1 0 3.8 0a1.9 1.9 0 1 0 -3.8 0M267.82 251.25a1.9 1.9 0 1 0 3.8 0a1.9 1.9 0 1 0 -3.8 0M267.82 247.18a1.9 1.9 0 1 0 3.8 0a1.9 1.9 0 1 0 -3.8 0M267.82 243.11a1.9 1.9 0 1 0 3.8 0a1.9 1.9 0 1 0 -3.8 0M267.82 239.04a1.9 1.9 0 1 0 3.8 0a1.9 1.9 0 1 0 -3.8 0M267.82 234.97a1.9 1.9 0 1 0 3.8 0a1.9 1.9 0 1 0 -3.8 0M267.82 230.9a1.9 1.9 0 1 0 3.8 0a1.9 1.9 0 1 0 -3.8 0M267.82 226.83a1.9 1.9 0 1 0 3.8 0a1.9 1.9 0 1 0 -3.8 0M271.33 353a1.9 1.9 0 1 0 3.8 0a1.9 1.9 0 1 0 -3.8 0M271.33 348.93a1.9 1.9 0 1 0 3.8 0a1.9 1.9 0 1 0 -3.8 0M271.33 344.86a1.9 1.9 0 1 0 3.8 0a1.9 1.9 0 1 0 -3.8 0M271.33 340.79a1.9 1.9 0 1 0 3.8 0a1.9 1.9 0 1 0 -3.8 0M271.33 336.72a1.9 1.9 0 1 0 3.8 0a1.9 1.9 0 1 0 -3.8 0M271.33 332.65a1.9 1.9 0 1 0 3.8 0a1.9 1.9 0 1 0 -3.8 0M271.33 328.58a1.9 1.9 0 1 0 3.8 0a1.9 1.9 0 1 0 -3.8 0M271.33 324.51a1.9 1.9 0 1 0 3.8 0a1.9 1.9 0 1 0 -3.8 0M271.33 320.44a1.9 1.9 0 1 0 3.8 0a1.9 1.9 0 1 0 -3.8 0M271.33 316.37a1.9 1.9 0 1 0 3.8 0a1.9 1.9 0 1 0 -3.8 0M271.33 312.3a1.9 1.9 0 1 0 3.8 0a1.9 1.9 0 1 0 -3.8 0M271.33 308.23a1.9 1.9 0 1 0 3.8 0a1.9 1.9 0 1 0 -3.8 0M271.33 304.16a1.9 1.9 0 1 0 3.8 0a1.9 1.9 0 1 0 -3.8 0M271.33 300.09a1.9 1.9 0 1 0 3.8 0a1.9 1.9 0 1 0 -3.8 0M271.33 296.02a1.9 1.9 0 1 0 3.8 0a1.9 1.9 0 1 0 -3.8 0M271.33 291.95a1.9 1.9 0 1 0 3.8 0a1.9 1.9 0 1 0 -3.8 0M271.33 287.88a1.9 1.9 0 1 0 3.8 0a1.9 1.9 0 1 0 -3.8 0M271.33 283.81a1.9 1.9 0 1 0 3.8 0a1.9 1.9 0 1 0 -3.8 0M271.33 279.74a1.9 1.9 0 1 0 3.8 0a1.9 1.9 0 1 0 -3.8 0M271.33 275.67a1.9 1.9 0 1 0 3.8 0a1.9 1.9 0 1 0 -3.8 0M271.33 271.6a1.9 1.9 0 1 0 3.8 0a1.9 1.9 0 1 0 -3.8 0M271.33 267.53a1.9 1.9 0 1 0 3.8 0a1.9 1.9 0 1 0 -3.8 0M271.33 263.46a1.9 1.9 0 1 0 3.8 0a1.9 1.9 0 1 0 -3.8 0M271.33 259.39a1.9 1.9 0 1 0 3.8 0a1.9 1.9 0 1 0 -3.8 0M271.33 255.32a1.9 1.9 0 1 0 3.8 0a1.9 1.9 0 1 0 -3.8 0M271.33 251.25a1.9 1.9 0 1 0 3.8 0a1.9 1.9 0 1 0 -3.8 0M271.33 247.18a1.9 1.9 0 1 0 3.8 0a1.9 1.9 0 1 0 -3.8 0M271.33 243.11a1.9 1.9 0 1 0 3.8 0a1.9 1.9 0 1 0 -3.8 0M271.33 239.04a1.9 1.9 0 1 0 3.8 0a1.9 1.9 0 1 0 -3.8 0M271.33 234.97a1.9 1.9 0 1 0 3.8 0a1.9 1.9 0 1 0 -3.8 0M271.33 230.9a1.9 1.9 0 1 0 3.8 0a1.9 1.9 0 1 0 -3.8 0M271.33 226.83a1.9 1.9 0 1 0 3.8 0a1.9 1.9 0 1 0 -3.8 0M274.85 353a1.9 1.9 0 1 0 3.8 0a1.9 1.9 0 1 0 -3.8 0M274.85 348.93a1.9 1.9 0 1 0 3.8 0a1.9 1.9 0 1 0 -3.8 0M274.85 344.86a1.9 1.9 0 1 0 3.8 0a1.9 1.9 0 1 0 -3.8 0M274.85 340.79a1.9 1.9 0 1 0 3.8 0a1.9 1.9 0 1 0 -3.8 0M274.85 336.72a1.9 1.9 0 1 0 3.8 0a1.9 1.9 0 1 0 -3.8 0M274.85 332.65a1.9 1.9 0 1 0 3.8 0a1.9 1.9 0 1 0 -3.8 0M274.85 328.58a1.9 1.9 0 1 0 3.8 0a1.9 1.9 0 1 0 -3.8 0M274.85 324.51a1.9 1.9 0 1 0 3.8 0a1.9 1.9 0 1 0 -3.8 0M274.85 320.44a1.9 1.9 0 1 0 3.8 0a1.9 1.9 0 1 0 -3.8 0M274.85 316.37a1.9 1.9 0 1 0 3.8 0a1.9 1.9 0 1 0 -3.8 0M274.85 312.3a1.9 1.9 0 1 0 3.8 0a1.9 1.9 0 1 0 -3.8 0M274.85 308.23a1.9 1.9 0 1 0 3.8 0a1.9 1.9 0 1 0 -3.8 0M274.85 304.16a1.9 1.9 0 1 0 3.8 0a1.9 1.9 0 1 0 -3.8 0M274.85 300.09a1.9 1.9 0 1 0 3.8 0a1.9 1.9 0 1 0 -3.8 0M274.85 296.02a1.9 1.9 0 1 0 3.8 0a1.9 1.9 0 1 0 -3.8 0M274.85 291.95a1.9 1.9 0 1 0 3.8 0a1.9 1.9 0 1 0 -3.8 0M274.85 287.88a1.9 1.9 0 1 0 3.8 0a1.9 1.9 0 1 0 -3.8 0M274.85 283.81a1.9 1.9 0 1 0 3.8 0a1.9 1.9 0 1 0 -3.8 0M274.85 279.74a1.9 1.9 0 1 0 3.8 0a1.9 1.9 0 1 0 -3.8 0M274.85 275.67a1.9 1.9 0 1 0 3.8 0a1.9 1.9 0 1 0 -3.8 0M274.85 271.6a1.9 1.9 0 1 0 3.8 0a1.9 1.9 0 1 0 -3.8 0M274.85 267.53a1.9 1.9 0 1 0 3.8 0a1.9 1.9 0 1 0 -3.8 0M274.85 263.46a1.9 1.9 0 1 0 3.8 0a1.9 1.9 0 1 0 -3.8 0M274.85 259.39a1.9 1.9 0 1 0 3.8 0a1.9 1.9 0 1 0 -3.8 0M274.85 255.32a1.9 1.9 0 1 0 3.8 0a1.9 1.9 0 1 0 -3.8 0M274.85 251.25a1.9 1.9 0 1 0 3.8 0a1.9 1.9 0 1 0 -3.8 0M274.85 247.18a1.9 1.9 0 1 0 3.8 0a1.9 1.9 0 1 0 -3.8 0M274.85 243.11a1.9 1.9 0 1 0 3.8 0a1.9 1.9 0 1 0 -3.8 0M274.85 239.04a1.9 1.9 0 1 0 3.8 0a1.9 1.9 0 1 0 -3.8 0M274.85 234.97a1.9 1.9 0 1 0 3.8 0a1.9 1.9 0 1 0 -3.8 0M274.85 230.9a1.9 1.9 0 1 0 3.8 0a1.9 1.9 0 1 0 -3.8 0M274.85 226.83a1.9 1.9 0 1 0 3.8 0a1.9 1.9 0 1 0 -3.8 0M278.36 353a1.9 1.9 0 1 0 3.8 0a1.9 1.9 0 1 0 -3.8 0M278.36 348.93a1.9 1.9 0 1 0 3.8 0a1.9 1.9 0 1 0 -3.8 0M278.36 344.86a1.9 1.9 0 1 0 3.8 0a1.9 1.9 0 1 0 -3.8 0M278.36 340.79a1.9 1.9 0 1 0 3.8 0a1.9 1.9 0 1 0 -3.8 0M278.36 336.72a1.9 1.9 0 1 0 3.8 0a1.9 1.9 0 1 0 -3.8 0M278.36 332.65a1.9 1.9 0 1 0 3.8 0a1.9 1.9 0 1 0 -3.8 0M278.36 328.58a1.9 1.9 0 1 0 3.8 0a1.9 1.9 0 1 0 -3.8 0M278.36 324.51a1.9 1.9 0 1 0 3.8 0a1.9 1.9 0 1 0 -3.8 0M278.36 320.44a1.9 1.9 0 1 0 3.8 0a1.9 1.9 0 1 0 -3.8 0M278.36 316.37a1.9 1.9 0 1 0 3.8 0a1.9 1.9 0 1 0 -3.8 0M278.36 312.3a1.9 1.9 0 1 0 3.8 0a1.9 1.9 0 1 0 -3.8 0M278.36 308.23a1.9 1.9 0 1 0 3.8 0a1.9 1.9 0 1 0 -3.8 0M278.36 304.16a1.9 1.9 0 1 0 3.8 0a1.9 1.9 0 1 0 -3.8 0M278.36 300.09a1.9 1.9 0 1 0 3.8 0a1.9 1.9 0 1 0 -3.8 0M278.36 296.02a1.9 1.9 0 1 0 3.8 0a1.9 1.9 0 1 0 -3.8 0M278.36 291.95a1.9 1.9 0 1 0 3.8 0a1.9 1.9 0 1 0 -3.8 0M278.36 287.88a1.9 1.9 0 1 0 3.8 0a1.9 1.9 0 1 0 -3.8 0M278.36 283.81a1.9 1.9 0 1 0 3.8 0a1.9 1.9 0 1 0 -3.8 0M278.36 279.74a1.9 1.9 0 1 0 3.8 0a1.9 1.9 0 1 0 -3.8 0M278.36 275.67a1.9 1.9 0 1 0 3.8 0a1.9 1.9 0 1 0 -3.8 0M278.36 271.6a1.9 1.9 0 1 0 3.8 0a1.9 1.9 0 1 0 -3.8 0M278.36 267.53a1.9 1.9 0 1 0 3.8 0a1.9 1.9 0 1 0 -3.8 0M278.36 263.46a1.9 1.9 0 1 0 3.8 0a1.9 1.9 0 1 0 -3.8 0M278.36 259.39a1.9 1.9 0 1 0 3.8 0a1.9 1.9 0 1 0 -3.8 0M278.36 255.32a1.9 1.9 0 1 0 3.8 0a1.9 1.9 0 1 0 -3.8 0M278.36 251.25a1.9 1.9 0 1 0 3.8 0a1.9 1.9 0 1 0 -3.8 0M278.36 247.18a1.9 1.9 0 1 0 3.8 0a1.9 1.9 0 1 0 -3.8 0M278.36 243.11a1.9 1.9 0 1 0 3.8 0a1.9 1.9 0 1 0 -3.8 0M278.36 239.04a1.9 1.9 0 1 0 3.8 0a1.9 1.9 0 1 0 -3.8 0M278.36 234.97a1.9 1.9 0 1 0 3.8 0a1.9 1.9 0 1 0 -3.8 0M278.36 230.9a1.9 1.9 0 1 0 3.8 0a1.9 1.9 0 1 0 -3.8 0M278.36 226.83a1.9 1.9 0 1 0 3.8 0a1.9 1.9 0 1 0 -3.8 0M281.87 353a1.9 1.9 0 1 0 3.8 0a1.9 1.9 0 1 0 -3.8 0M281.87 348.93a1.9 1.9 0 1 0 3.8 0a1.9 1.9 0 1 0 -3.8 0M281.87 344.86a1.9 1.9 0 1 0 3.8 0a1.9 1.9 0 1 0 -3.8 0M281.87 340.79a1.9 1.9 0 1 0 3.8 0a1.9 1.9 0 1 0 -3.8 0M281.87 336.72a1.9 1.9 0 1 0 3.8 0a1.9 1.9 0 1 0 -3.8 0M281.87 332.65a1.9 1.9 0 1 0 3.8 0a1.9 1.9 0 1 0 -3.8 0M281.87 328.58a1.9 1.9 0 1 0 3.8 0a1.9 1.9 0 1 0 -3.8 0M281.87 324.51a1.9 1.9 0 1 0 3.8 0a1.9 1.9 0 1 0 -3.8 0M281.87 320.44a1.9 1.9 0 1 0 3.8 0a1.9 1.9 0 1 0 -3.8 0M281.87 316.37a1.9 1.9 0 1 0 3.8 0a1.9 1.9 0 1 0 -3.8 0M281.87 312.3a1.9 1.9 0 1 0 3.8 0a1.9 1.9 0 1 0 -3.8 0M281.87 308.23a1.9 1.9 0 1 0 3.8 0a1.9 1.9 0 1 0 -3.8 0M281.87 304.16a1.9 1.9 0 1 0 3.8 0a1.9 1.9 0 1 0 -3.8 0M281.87 300.09a1.9 1.9 0 1 0 3.8 0a1.9 1.9 0 1 0 -3.8 0M281.87 296.02a1.9 1.9 0 1 0 3.8 0a1.9 1.9 0 1 0 -3.8 0M281.87 291.95a1.9 1.9 0 1 0 3.8 0a1.9 1.9 0 1 0 -3.8 0M281.87 287.88a1.9 1.9 0 1 0 3.8 0a1.9 1.9 0 1 0 -3.8 0M281.87 283.81a1.9 1.9 0 1 0 3.8 0a1.9 1.9 0 1 0 -3.8 0M281.87 279.74a1.9 1.9 0 1 0 3.8 0a1.9 1.9 0 1 0 -3.8 0M281.87 275.67a1.9 1.9 0 1 0 3.8 0a1.9 1.9 0 1 0 -3.8 0M281.87 271.6a1.9 1.9 0 1 0 3.8 0a1.9 1.9 0 1 0 -3.8 0M281.87 267.53a1.9 1.9 0 1 0 3.8 0a1.9 1.9 0 1 0 -3.8 0M281.87 263.46a1.9 1.9 0 1 0 3.8 0a1.9 1.9 0 1 0 -3.8 0M281.87 259.39a1.9 1.9 0 1 0 3.8 0a1.9 1.9 0 1 0 -3.8 0M281.87 255.32a1.9 1.9 0 1 0 3.8 0a1.9 1.9 0 1 0 -3.8 0M281.87 251.25a1.9 1.9 0 1 0 3.8 0a1.9 1.9 0 1 0 -3.8 0M281.87 247.18a1.9 1.9 0 1 0 3.8 0a1.9 1.9 0 1 0 -3.8 0M281.87 243.11a1.9 1.9 0 1 0 3.8 0a1.9 1.9 0 1 0 -3.8 0M281.87 239.04a1.9 1.9 0 1 0 3.8 0a1.9 1.9 0 1 0 -3.8 0M281.87 234.97a1.9 1.9 0 1 0 3.8 0a1.9 1.9 0 1 0 -3.8 0M281.87 230.9a1.9 1.9 0 1 0 3.8 0a1.9 1.9 0 1 0 -3.8 0M281.87 226.83a1.9 1.9 0 1 0 3.8 0a1.9 1.9 0 1 0 -3.8 0M285.39 353a1.9 1.9 0 1 0 3.8 0a1.9 1.9 0 1 0 -3.8 0M285.39 348.93a1.9 1.9 0 1 0 3.8 0a1.9 1.9 0 1 0 -3.8 0M285.39 344.86a1.9 1.9 0 1 0 3.8 0a1.9 1.9 0 1 0 -3.8 0M285.39 340.79a1.9 1.9 0 1 0 3.8 0a1.9 1.9 0 1 0 -3.8 0M285.39 336.72a1.9 1.9 0 1 0 3.8 0a1.9 1.9 0 1 0 -3.8 0M285.39 332.65a1.9 1.9 0 1 0 3.8 0a1.9 1.9 0 1 0 -3.8 0M285.39 328.58a1.9 1.9 0 1 0 3.8 0a1.9 1.9 0 1 0 -3.8 0M285.39 324.51a1.9 1.9 0 1 0 3.8 0a1.9 1.9 0 1 0 -3.8 0M285.39 320.44a1.9 1.9 0 1 0 3.8 0a1.9 1.9 0 1 0 -3.8 0M285.39 316.37a1.9 1.9 0 1 0 3.8 0a1.9 1.9 0 1 0 -3.8 0M285.39 312.3a1.9 1.9 0 1 0 3.8 0a1.9 1.9 0 1 0 -3.8 0M285.39 308.23a1.9 1.9 0 1 0 3.8 0a1.9 1.9 0 1 0 -3.8 0M285.39 304.16a1.9 1.9 0 1 0 3.8 0a1.9 1.9 0 1 0 -3.8 0M285.39 300.09a1.9 1.9 0 1 0 3.8 0a1.9 1.9 0 1 0 -3.8 0M285.39 296.02a1.9 1.9 0 1 0 3.8 0a1.9 1.9 0 1 0 -3.8 0M285.39 291.95a1.9 1.9 0 1 0 3.8 0a1.9 1.9 0 1 0 -3.8 0M285.39 287.88a1.9 1.9 0 1 0 3.8 0a1.9 1.9 0 1 0 -3.8 0M285.39 283.81a1.9 1.9 0 1 0 3.8 0a1.9 1.9 0 1 0 -3.8 0M285.39 279.74a1.9 1.9 0 1 0 3.8 0a1.9 1.9 0 1 0 -3.8 0M285.39 275.67a1.9 1.9 0 1 0 3.8 0a1.9 1.9 0 1 0 -3.8 0M285.39 271.6a1.9 1.9 0 1 0 3.8 0a1.9 1.9 0 1 0 -3.8 0M285.39 267.53a1.9 1.9 0 1 0 3.8 0a1.9 1.9 0 1 0 -3.8 0M285.39 263.46a1.9 1.9 0 1 0 3.8 0a1.9 1.9 0 1 0 -3.8 0M285.39 259.39a1.9 1.9 0 1 0 3.8 0a1.9 1.9 0 1 0 -3.8 0M285.39 255.32a1.9 1.9 0 1 0 3.8 0a1.9 1.9 0 1 0 -3.8 0M285.39 251.25a1.9 1.9 0 1 0 3.8 0a1.9 1.9 0 1 0 -3.8 0M285.39 247.18a1.9 1.9 0 1 0 3.8 0a1.9 1.9 0 1 0 -3.8 0M285.39 243.11a1.9 1.9 0 1 0 3.8 0a1.9 1.9 0 1 0 -3.8 0M285.39 239.04a1.9 1.9 0 1 0 3.8 0a1.9 1.9 0 1 0 -3.8 0M285.39 234.97a1.9 1.9 0 1 0 3.8 0a1.9 1.9 0 1 0 -3.8 0M285.39 230.9a1.9 1.9 0 1 0 3.8 0a1.9 1.9 0 1 0 -3.8 0M285.39 226.83a1.9 1.9 0 1 0 3.8 0a1.9 1.9 0 1 0 -3.8 0M288.9 353a1.9 1.9 0 1 0 3.8 0a1.9 1.9 0 1 0 -3.8 0M288.9 348.93a1.9 1.9 0 1 0 3.8 0a1.9 1.9 0 1 0 -3.8 0M288.9 344.86a1.9 1.9 0 1 0 3.8 0a1.9 1.9 0 1 0 -3.8 0M288.9 340.79a1.9 1.9 0 1 0 3.8 0a1.9 1.9 0 1 0 -3.8 0M288.9 336.72a1.9 1.9 0 1 0 3.8 0a1.9 1.9 0 1 0 -3.8 0M288.9 332.65a1.9 1.9 0 1 0 3.8 0a1.9 1.9 0 1 0 -3.8 0M288.9 328.58a1.9 1.9 0 1 0 3.8 0a1.9 1.9 0 1 0 -3.8 0M288.9 324.51a1.9 1.9 0 1 0 3.8 0a1.9 1.9 0 1 0 -3.8 0M288.9 320.44a1.9 1.9 0 1 0 3.8 0a1.9 1.9 0 1 0 -3.8 0M288.9 316.37a1.9 1.9 0 1 0 3.8 0a1.9 1.9 0 1 0 -3.8 0M288.9 312.3a1.9 1.9 0 1 0 3.8 0a1.9 1.9 0 1 0 -3.8 0M288.9 308.23a1.9 1.9 0 1 0 3.8 0a1.9 1.9 0 1 0 -3.8 0M288.9 304.16a1.9 1.9 0 1 0 3.8 0a1.9 1.9 0 1 0 -3.8 0M288.9 300.09a1.9 1.9 0 1 0 3.8 0a1.9 1.9 0 1 0 -3.8 0M288.9 296.02a1.9 1.9 0 1 0 3.8 0a1.9 1.9 0 1 0 -3.8 0M288.9 291.95a1.9 1.9 0 1 0 3.8 0a1.9 1.9 0 1 0 -3.8 0M288.9 287.88a1.9 1.9 0 1 0 3.8 0a1.9 1.9 0 1 0 -3.8 0M288.9 283.81a1.9 1.9 0 1 0 3.8 0a1.9 1.9 0 1 0 -3.8 0M288.9 279.74a1.9 1.9 0 1 0 3.8 0a1.9 1.9 0 1 0 -3.8 0M288.9 275.67a1.9 1.9 0 1 0 3.8 0a1.9 1.9 0 1 0 -3.8 0M288.9 271.6a1.9 1.9 0 1 0 3.8 0a1.9 1.9 0 1 0 -3.8 0M288.9 267.53a1.9 1.9 0 1 0 3.8 0a1.9 1.9 0 1 0 -3.8 0M288.9 263.46a1.9 1.9 0 1 0 3.8 0a1.9 1.9 0 1 0 -3.8 0M288.9 259.39a1.9 1.9 0 1 0 3.8 0a1.9 1.9 0 1 0 -3.8 0M288.9 255.32a1.9 1.9 0 1 0 3.8 0a1.9 1.9 0 1 0 -3.8 0M288.9 251.25a1.9 1.9 0 1 0 3.8 0a1.9 1.9 0 1 0 -3.8 0M288.9 247.18a1.9 1.9 0 1 0 3.8 0a1.9 1.9 0 1 0 -3.8 0M288.9 243.11a1.9 1.9 0 1 0 3.8 0a1.9 1.9 0 1 0 -3.8 0M288.9 239.04a1.9 1.9 0 1 0 3.8 0a1.9 1.9 0 1 0 -3.8 0M288.9 234.97a1.9 1.9 0 1 0 3.8 0a1.9 1.9 0 1 0 -3.8 0M288.9 230.9a1.9 1.9 0 1 0 3.8 0a1.9 1.9 0 1 0 -3.8 0M288.9 226.83a1.9 1.9 0 1 0 3.8 0a1.9 1.9 0 1 0 -3.8 0M292.41 353a1.9 1.9 0 1 0 3.8 0a1.9 1.9 0 1 0 -3.8 0M292.41 348.93a1.9 1.9 0 1 0 3.8 0a1.9 1.9 0 1 0 -3.8 0M292.41 344.86a1.9 1.9 0 1 0 3.8 0a1.9 1.9 0 1 0 -3.8 0M292.41 340.79a1.9 1.9 0 1 0 3.8 0a1.9 1.9 0 1 0 -3.8 0M292.41 336.72a1.9 1.9 0 1 0 3.8 0a1.9 1.9 0 1 0 -3.8 0M292.41 332.65a1.9 1.9 0 1 0 3.8 0a1.9 1.9 0 1 0 -3.8 0M292.41 328.58a1.9 1.9 0 1 0 3.8 0a1.9 1.9 0 1 0 -3.8 0M292.41 324.51a1.9 1.9 0 1 0 3.8 0a1.9 1.9 0 1 0 -3.8 0M292.41 320.44a1.9 1.9 0 1 0 3.8 0a1.9 1.9 0 1 0 -3.8 0M292.41 316.37a1.9 1.9 0 1 0 3.8 0a1.9 1.9 0 1 0 -3.8 0M292.41 312.3a1.9 1.9 0 1 0 3.8 0a1.9 1.9 0 1 0 -3.8 0M292.41 308.23a1.9 1.9 0 1 0 3.8 0a1.9 1.9 0 1 0 -3.8 0M292.41 304.16a1.9 1.9 0 1 0 3.8 0a1.9 1.9 0 1 0 -3.8 0M292.41 300.09a1.9 1.9 0 1 0 3.8 0a1.9 1.9 0 1 0 -3.8 0M292.41 296.02a1.9 1.9 0 1 0 3.8 0a1.9 1.9 0 1 0 -3.8 0M292.41 291.95a1.9 1.9 0 1 0 3.8 0a1.9 1.9 0 1 0 -3.8 0M292.41 287.88a1.9 1.9 0 1 0 3.8 0a1.9 1.9 0 1 0 -3.8 0M292.41 283.81a1.9 1.9 0 1 0 3.8 0a1.9 1.9 0 1 0 -3.8 0M292.41 279.74a1.9 1.9 0 1 0 3.8 0a1.9 1.9 0 1 0 -3.8 0M292.41 275.67a1.9 1.9 0 1 0 3.8 0a1.9 1.9 0 1 0 -3.8 0M292.41 271.6a1.9 1.9 0 1 0 3.8 0a1.9 1.9 0 1 0 -3.8 0M292.41 267.53a1.9 1.9 0 1 0 3.8 0a1.9 1.9 0 1 0 -3.8 0M292.41 263.46a1.9 1.9 0 1 0 3.8 0a1.9 1.9 0 1 0 -3.8 0M292.41 259.39a1.9 1.9 0 1 0 3.8 0a1.9 1.9 0 1 0 -3.8 0M292.41 255.32a1.9 1.9 0 1 0 3.8 0a1.9 1.9 0 1 0 -3.8 0M292.41 251.25a1.9 1.9 0 1 0 3.8 0a1.9 1.9 0 1 0 -3.8 0M292.41 247.18a1.9 1.9 0 1 0 3.8 0a1.9 1.9 0 1 0 -3.8 0M292.41 243.11a1.9 1.9 0 1 0 3.8 0a1.9 1.9 0 1 0 -3.8 0M292.41 239.04a1.9 1.9 0 1 0 3.8 0a1.9 1.9 0 1 0 -3.8 0M292.41 234.97a1.9 1.9 0 1 0 3.8 0a1.9 1.9 0 1 0 -3.8 0M292.41 230.9a1.9 1.9 0 1 0 3.8 0a1.9 1.9 0 1 0 -3.8 0M292.41 226.83a1.9 1.9 0 1 0 3.8 0a1.9 1.9 0 1 0 -3.8 0M295.93 353a1.9 1.9 0 1 0 3.8 0a1.9 1.9 0 1 0 -3.8 0M295.93 348.93a1.9 1.9 0 1 0 3.8 0a1.9 1.9 0 1 0 -3.8 0M295.93 344.86a1.9 1.9 0 1 0 3.8 0a1.9 1.9 0 1 0 -3.8 0M295.93 340.79a1.9 1.9 0 1 0 3.8 0a1.9 1.9 0 1 0 -3.8 0M295.93 336.72a1.9 1.9 0 1 0 3.8 0a1.9 1.9 0 1 0 -3.8 0M295.93 332.65a1.9 1.9 0 1 0 3.8 0a1.9 1.9 0 1 0 -3.8 0M295.93 328.58a1.9 1.9 0 1 0 3.8 0a1.9 1.9 0 1 0 -3.8 0M295.93 324.51a1.9 1.9 0 1 0 3.8 0a1.9 1.9 0 1 0 -3.8 0M295.93 320.44a1.9 1.9 0 1 0 3.8 0a1.9 1.9 0 1 0 -3.8 0M295.93 316.37a1.9 1.9 0 1 0 3.8 0a1.9 1.9 0 1 0 -3.8 0M295.93 312.3a1.9 1.9 0 1 0 3.8 0a1.9 1.9 0 1 0 -3.8 0M295.93 308.23a1.9 1.9 0 1 0 3.8 0a1.9 1.9 0 1 0 -3.8 0M295.93 304.16a1.9 1.9 0 1 0 3.8 0a1.9 1.9 0 1 0 -3.8 0M295.93 300.09a1.9 1.9 0 1 0 3.8 0a1.9 1.9 0 1 0 -3.8 0M295.93 296.02a1.9 1.9 0 1 0 3.8 0a1.9 1.9 0 1 0 -3.8 0M295.93 291.95a1.9 1.9 0 1 0 3.8 0a1.9 1.9 0 1 0 -3.8 0M295.93 287.88a1.9 1.9 0 1 0 3.8 0a1.9 1.9 0 1 0 -3.8 0M295.93 283.81a1.9 1.9 0 1 0 3.8 0a1.9 1.9 0 1 0 -3.8 0M295.93 279.74a1.9 1.9 0 1 0 3.8 0a1.9 1.9 0 1 0 -3.8 0M295.93 275.67a1.9 1.9 0 1 0 3.8 0a1.9 1.9 0 1 0 -3.8 0M295.93 271.6a1.9 1.9 0 1 0 3.8 0a1.9 1.9 0 1 0 -3.8 0M295.93 267.53a1.9 1.9 0 1 0 3.8 0a1.9 1.9 0 1 0 -3.8 0M295.93 263.46a1.9 1.9 0 1 0 3.8 0a1.9 1.9 0 1 0 -3.8 0M295.93 259.39a1.9 1.9 0 1 0 3.8 0a1.9 1.9 0 1 0 -3.8 0M295.93 255.32a1.9 1.9 0 1 0 3.8 0a1.9 1.9 0 1 0 -3.8 0M295.93 251.25a1.9 1.9 0 1 0 3.8 0a1.9 1.9 0 1 0 -3.8 0M295.93 247.18a1.9 1.9 0 1 0 3.8 0a1.9 1.9 0 1 0 -3.8 0M295.93 243.11a1.9 1.9 0 1 0 3.8 0a1.9 1.9 0 1 0 -3.8 0M295.93 239.04a1.9 1.9 0 1 0 3.8 0a1.9 1.9 0 1 0 -3.8 0M295.93 234.97a1.9 1.9 0 1 0 3.8 0a1.9 1.9 0 1 0 -3.8 0M295.93 230.9a1.9 1.9 0 1 0 3.8 0a1.9 1.9 0 1 0 -3.8 0M295.93 226.83a1.9 1.9 0 1 0 3.8 0a1.9 1.9 0 1 0 -3.8 0M299.44 353a1.9 1.9 0 1 0 3.8 0a1.9 1.9 0 1 0 -3.8 0M299.44 348.93a1.9 1.9 0 1 0 3.8 0a1.9 1.9 0 1 0 -3.8 0M299.44 344.86a1.9 1.9 0 1 0 3.8 0a1.9 1.9 0 1 0 -3.8 0M299.44 340.79a1.9 1.9 0 1 0 3.8 0a1.9 1.9 0 1 0 -3.8 0M299.44 336.72a1.9 1.9 0 1 0 3.8 0a1.9 1.9 0 1 0 -3.8 0M299.44 332.65a1.9 1.9 0 1 0 3.8 0a1.9 1.9 0 1 0 -3.8 0M299.44 328.58a1.9 1.9 0 1 0 3.8 0a1.9 1.9 0 1 0 -3.8 0M299.44 324.51a1.9 1.9 0 1 0 3.8 0a1.9 1.9 0 1 0 -3.8 0M299.44 320.44a1.9 1.9 0 1 0 3.8 0a1.9 1.9 0 1 0 -3.8 0M299.44 316.37a1.9 1.9 0 1 0 3.8 0a1.9 1.9 0 1 0 -3.8 0M299.44 312.3a1.9 1.9 0 1 0 3.8 0a1.9 1.9 0 1 0 -3.8 0M299.44 308.23a1.9 1.9 0 1 0 3.8 0a1.9 1.9 0 1 0 -3.8 0M299.44 304.16a1.9 1.9 0 1 0 3.8 0a1.9 1.9 0 1 0 -3.8 0M299.44 300.09a1.9 1.9 0 1 0 3.8 0a1.9 1.9 0 1 0 -3.8 0M299.44 296.02a1.9 1.9 0 1 0 3.8 0a1.9 1.9 0 1 0 -3.8 0M299.44 291.95a1.9 1.9 0 1 0 3.8 0a1.9 1.9 0 1 0 -3.8 0M299.44 287.88a1.9 1.9 0 1 0 3.8 0a1.9 1.9 0 1 0 -3.8 0M299.44 283.81a1.9 1.9 0 1 0 3.8 0a1.9 1.9 0 1 0 -3.8 0M299.44 279.74a1.9 1.9 0 1 0 3.8 0a1.9 1.9 0 1 0 -3.8 0M299.44 275.67a1.9 1.9 0 1 0 3.8 0a1.9 1.9 0 1 0 -3.8 0M299.44 271.6a1.9 1.9 0 1 0 3.8 0a1.9 1.9 0 1 0 -3.8 0M299.44 267.53a1.9 1.9 0 1 0 3.8 0a1.9 1.9 0 1 0 -3.8 0M299.44 263.46a1.9 1.9 0 1 0 3.8 0a1.9 1.9 0 1 0 -3.8 0M299.44 259.39a1.9 1.9 0 1 0 3.8 0a1.9 1.9 0 1 0 -3.8 0M299.44 255.32a1.9 1.9 0 1 0 3.8 0a1.9 1.9 0 1 0 -3.8 0M299.44 251.25a1.9 1.9 0 1 0 3.8 0a1.9 1.9 0 1 0 -3.8 0M299.44 247.18a1.9 1.9 0 1 0 3.8 0a1.9 1.9 0 1 0 -3.8 0M299.44 243.11a1.9 1.9 0 1 0 3.8 0a1.9 1.9 0 1 0 -3.8 0M299.44 239.04a1.9 1.9 0 1 0 3.8 0a1.9 1.9 0 1 0 -3.8 0M299.44 234.97a1.9 1.9 0 1 0 3.8 0a1.9 1.9 0 1 0 -3.8 0M299.44 230.9a1.9 1.9 0 1 0 3.8 0a1.9 1.9 0 1 0 -3.8 0M299.44 226.83a1.9 1.9 0 1 0 3.8 0a1.9 1.9 0 1 0 -3.8 0M302.95 353a1.9 1.9 0 1 0 3.8 0a1.9 1.9 0 1 0 -3.8 0M302.95 348.93a1.9 1.9 0 1 0 3.8 0a1.9 1.9 0 1 0 -3.8 0M302.95 344.86a1.9 1.9 0 1 0 3.8 0a1.9 1.9 0 1 0 -3.8 0M302.95 340.79a1.9 1.9 0 1 0 3.8 0a1.9 1.9 0 1 0 -3.8 0M302.95 336.72a1.9 1.9 0 1 0 3.8 0a1.9 1.9 0 1 0 -3.8 0M302.95 332.65a1.9 1.9 0 1 0 3.8 0a1.9 1.9 0 1 0 -3.8 0M302.95 328.58a1.9 1.9 0 1 0 3.8 0a1.9 1.9 0 1 0 -3.8 0M302.95 324.51a1.9 1.9 0 1 0 3.8 0a1.9 1.9 0 1 0 -3.8 0M302.95 320.44a1.9 1.9 0 1 0 3.8 0a1.9 1.9 0 1 0 -3.8 0M302.95 316.37a1.9 1.9 0 1 0 3.8 0a1.9 1.9 0 1 0 -3.8 0M302.95 312.3a1.9 1.9 0 1 0 3.8 0a1.9 1.9 0 1 0 -3.8 0M302.95 308.23a1.9 1.9 0 1 0 3.8 0a1.9 1.9 0 1 0 -3.8 0M302.95 304.16a1.9 1.9 0 1 0 3.8 0a1.9 1.9 0 1 0 -3.8 0M302.95 300.09a1.9 1.9 0 1 0 3.8 0a1.9 1.9 0 1 0 -3.8 0M302.95 296.02a1.9 1.9 0 1 0 3.8 0a1.9 1.9 0 1 0 -3.8 0M302.95 291.95a1.9 1.9 0 1 0 3.8 0a1.9 1.9 0 1 0 -3.8 0M302.95 287.88a1.9 1.9 0 1 0 3.8 0a1.9 1.9 0 1 0 -3.8 0M302.95 283.81a1.9 1.9 0 1 0 3.8 0a1.9 1.9 0 1 0 -3.8 0M302.95 279.74a1.9 1.9 0 1 0 3.8 0a1.9 1.9 0 1 0 -3.8 0M302.95 275.67a1.9 1.9 0 1 0 3.8 0a1.9 1.9 0 1 0 -3.8 0M302.95 271.6a1.9 1.9 0 1 0 3.8 0a1.9 1.9 0 1 0 -3.8 0M302.95 267.53a1.9 1.9 0 1 0 3.8 0a1.9 1.9 0 1 0 -3.8 0M302.95 263.46a1.9 1.9 0 1 0 3.8 0a1.9 1.9 0 1 0 -3.8 0M302.95 259.39a1.9 1.9 0 1 0 3.8 0a1.9 1.9 0 1 0 -3.8 0M302.95 255.32a1.9 1.9 0 1 0 3.8 0a1.9 1.9 0 1 0 -3.8 0M302.95 251.25a1.9 1.9 0 1 0 3.8 0a1.9 1.9 0 1 0 -3.8 0M302.95 247.18a1.9 1.9 0 1 0 3.8 0a1.9 1.9 0 1 0 -3.8 0M302.95 243.11a1.9 1.9 0 1 0 3.8 0a1.9 1.9 0 1 0 -3.8 0M302.95 239.04a1.9 1.9 0 1 0 3.8 0a1.9 1.9 0 1 0 -3.8 0M302.95 234.97a1.9 1.9 0 1 0 3.8 0a1.9 1.9 0 1 0 -3.8 0M302.95 230.9a1.9 1.9 0 1 0 3.8 0a1.9 1.9 0 1 0 -3.8 0M302.95 226.83a1.9 1.9 0 1 0 3.8 0a1.9 1.9 0 1 0 -3.8 0M306.46 353a1.9 1.9 0 1 0 3.8 0a1.9 1.9 0 1 0 -3.8 0M306.46 348.93a1.9 1.9 0 1 0 3.8 0a1.9 1.9 0 1 0 -3.8 0M306.46 344.86a1.9 1.9 0 1 0 3.8 0a1.9 1.9 0 1 0 -3.8 0M306.46 340.79a1.9 1.9 0 1 0 3.8 0a1.9 1.9 0 1 0 -3.8 0M306.46 336.72a1.9 1.9 0 1 0 3.8 0a1.9 1.9 0 1 0 -3.8 0M306.46 332.65a1.9 1.9 0 1 0 3.8 0a1.9 1.9 0 1 0 -3.8 0M306.46 328.58a1.9 1.9 0 1 0 3.8 0a1.9 1.9 0 1 0 -3.8 0M306.46 324.51a1.9 1.9 0 1 0 3.8 0a1.9 1.9 0 1 0 -3.8 0M306.46 320.44a1.9 1.9 0 1 0 3.8 0a1.9 1.9 0 1 0 -3.8 0M306.46 316.37a1.9 1.9 0 1 0 3.8 0a1.9 1.9 0 1 0 -3.8 0M306.46 312.3a1.9 1.9 0 1 0 3.8 0a1.9 1.9 0 1 0 -3.8 0M306.46 308.23a1.9 1.9 0 1 0 3.8 0a1.9 1.9 0 1 0 -3.8 0M306.46 304.16a1.9 1.9 0 1 0 3.8 0a1.9 1.9 0 1 0 -3.8 0M306.46 300.09a1.9 1.9 0 1 0 3.8 0a1.9 1.9 0 1 0 -3.8 0M306.46 296.02a1.9 1.9 0 1 0 3.8 0a1.9 1.9 0 1 0 -3.8 0M306.46 291.95a1.9 1.9 0 1 0 3.8 0a1.9 1.9 0 1 0 -3.8 0M306.46 287.88a1.9 1.9 0 1 0 3.8 0a1.9 1.9 0 1 0 -3.8 0M306.46 283.81a1.9 1.9 0 1 0 3.8 0a1.9 1.9 0 1 0 -3.8 0M306.46 279.74a1.9 1.9 0 1 0 3.8 0a1.9 1.9 0 1 0 -3.8 0M306.46 275.67a1.9 1.9 0 1 0 3.8 0a1.9 1.9 0 1 0 -3.8 0M306.46 271.6a1.9 1.9 0 1 0 3.8 0a1.9 1.9 0 1 0 -3.8 0M306.46 267.53a1.9 1.9 0 1 0 3.8 0a1.9 1.9 0 1 0 -3.8 0M306.46 263.46a1.9 1.9 0 1 0 3.8 0a1.9 1.9 0 1 0 -3.8 0M306.46 259.39a1.9 1.9 0 1 0 3.8 0a1.9 1.9 0 1 0 -3.8 0M306.46 255.32a1.9 1.9 0 1 0 3.8 0a1.9 1.9 0 1 0 -3.8 0M306.46 251.25a1.9 1.9 0 1 0 3.8 0a1.9 1.9 0 1 0 -3.8 0M306.46 247.18a1.9 1.9 0 1 0 3.8 0a1.9 1.9 0 1 0 -3.8 0M306.46 243.11a1.9 1.9 0 1 0 3.8 0a1.9 1.9 0 1 0 -3.8 0M306.46 239.04a1.9 1.9 0 1 0 3.8 0a1.9 1.9 0 1 0 -3.8 0M306.46 234.97a1.9 1.9 0 1 0 3.8 0a1.9 1.9 0 1 0 -3.8 0M306.46 230.9a1.9 1.9 0 1 0 3.8 0a1.9 1.9 0 1 0 -3.8 0M306.46 226.83a1.9 1.9 0 1 0 3.8 0a1.9 1.9 0 1 0 -3.8 0M309.98 353a1.9 1.9 0 1 0 3.8 0a1.9 1.9 0 1 0 -3.8 0M309.98 348.93a1.9 1.9 0 1 0 3.8 0a1.9 1.9 0 1 0 -3.8 0M309.98 344.86a1.9 1.9 0 1 0 3.8 0a1.9 1.9 0 1 0 -3.8 0M309.98 340.79a1.9 1.9 0 1 0 3.8 0a1.9 1.9 0 1 0 -3.8 0M309.98 336.72a1.9 1.9 0 1 0 3.8 0a1.9 1.9 0 1 0 -3.8 0M309.98 332.65a1.9 1.9 0 1 0 3.8 0a1.9 1.9 0 1 0 -3.8 0M309.98 328.58a1.9 1.9 0 1 0 3.8 0a1.9 1.9 0 1 0 -3.8 0M309.98 324.51a1.9 1.9 0 1 0 3.8 0a1.9 1.9 0 1 0 -3.8 0M309.98 320.44a1.9 1.9 0 1 0 3.8 0a1.9 1.9 0 1 0 -3.8 0M309.98 316.37a1.9 1.9 0 1 0 3.8 0a1.9 1.9 0 1 0 -3.8 0M309.98 312.3a1.9 1.9 0 1 0 3.8 0a1.9 1.9 0 1 0 -3.8 0M309.98 308.23a1.9 1.9 0 1 0 3.8 0a1.9 1.9 0 1 0 -3.8 0M309.98 304.16a1.9 1.9 0 1 0 3.8 0a1.9 1.9 0 1 0 -3.8 0M309.98 300.09a1.9 1.9 0 1 0 3.8 0a1.9 1.9 0 1 0 -3.8 0M309.98 296.02a1.9 1.9 0 1 0 3.8 0a1.9 1.9 0 1 0 -3.8 0M309.98 291.95a1.9 1.9 0 1 0 3.8 0a1.9 1.9 0 1 0 -3.8 0M309.98 287.88a1.9 1.9 0 1 0 3.8 0a1.9 1.9 0 1 0 -3.8 0M309.98 283.81a1.9 1.9 0 1 0 3.8 0a1.9 1.9 0 1 0 -3.8 0M309.98 279.74a1.9 1.9 0 1 0 3.8 0a1.9 1.9 0 1 0 -3.8 0M309.98 275.67a1.9 1.9 0 1 0 3.8 0a1.9 1.9 0 1 0 -3.8 0M309.98 271.6a1.9 1.9 0 1 0 3.8 0a1.9 1.9 0 1 0 -3.8 0M309.98 267.53a1.9 1.9 0 1 0 3.8 0a1.9 1.9 0 1 0 -3.8 0M309.98 263.46a1.9 1.9 0 1 0 3.8 0a1.9 1.9 0 1 0 -3.8 0M309.98 259.39a1.9 1.9 0 1 0 3.8 0a1.9 1.9 0 1 0 -3.8 0M309.98 255.32a1.9 1.9 0 1 0 3.8 0a1.9 1.9 0 1 0 -3.8 0M309.98 251.25a1.9 1.9 0 1 0 3.8 0a1.9 1.9 0 1 0 -3.8 0M309.98 247.18a1.9 1.9 0 1 0 3.8 0a1.9 1.9 0 1 0 -3.8 0M309.98 243.11a1.9 1.9 0 1 0 3.8 0a1.9 1.9 0 1 0 -3.8 0M309.98 239.04a1.9 1.9 0 1 0 3.8 0a1.9 1.9 0 1 0 -3.8 0M309.98 234.97a1.9 1.9 0 1 0 3.8 0a1.9 1.9 0 1 0 -3.8 0M309.98 230.9a1.9 1.9 0 1 0 3.8 0a1.9 1.9 0 1 0 -3.8 0M309.98 226.83a1.9 1.9 0 1 0 3.8 0a1.9 1.9 0 1 0 -3.8 0M313.49 353a1.9 1.9 0 1 0 3.8 0a1.9 1.9 0 1 0 -3.8 0M313.49 348.93a1.9 1.9 0 1 0 3.8 0a1.9 1.9 0 1 0 -3.8 0M313.49 344.86a1.9 1.9 0 1 0 3.8 0a1.9 1.9 0 1 0 -3.8 0M313.49 340.79a1.9 1.9 0 1 0 3.8 0a1.9 1.9 0 1 0 -3.8 0M313.49 336.72a1.9 1.9 0 1 0 3.8 0a1.9 1.9 0 1 0 -3.8 0M313.49 332.65a1.9 1.9 0 1 0 3.8 0a1.9 1.9 0 1 0 -3.8 0M313.49 328.58a1.9 1.9 0 1 0 3.8 0a1.9 1.9 0 1 0 -3.8 0M313.49 324.51a1.9 1.9 0 1 0 3.8 0a1.9 1.9 0 1 0 -3.8 0M313.49 320.44a1.9 1.9 0 1 0 3.8 0a1.9 1.9 0 1 0 -3.8 0M313.49 316.37a1.9 1.9 0 1 0 3.8 0a1.9 1.9 0 1 0 -3.8 0M313.49 312.3a1.9 1.9 0 1 0 3.8 0a1.9 1.9 0 1 0 -3.8 0M313.49 308.23a1.9 1.9 0 1 0 3.8 0a1.9 1.9 0 1 0 -3.8 0M313.49 304.16a1.9 1.9 0 1 0 3.8 0a1.9 1.9 0 1 0 -3.8 0M313.49 300.09a1.9 1.9 0 1 0 3.8 0a1.9 1.9 0 1 0 -3.8 0M313.49 296.02a1.9 1.9 0 1 0 3.8 0a1.9 1.9 0 1 0 -3.8 0M313.49 291.95a1.9 1.9 0 1 0 3.8 0a1.9 1.9 0 1 0 -3.8 0M313.49 287.88a1.9 1.9 0 1 0 3.8 0a1.9 1.9 0 1 0 -3.8 0M313.49 283.81a1.9 1.9 0 1 0 3.8 0a1.9 1.9 0 1 0 -3.8 0M313.49 279.74a1.9 1.9 0 1 0 3.8 0a1.9 1.9 0 1 0 -3.8 0M313.49 275.67a1.9 1.9 0 1 0 3.8 0a1.9 1.9 0 1 0 -3.8 0M313.49 271.6a1.9 1.9 0 1 0 3.8 0a1.9 1.9 0 1 0 -3.8 0M313.49 267.53a1.9 1.9 0 1 0 3.8 0a1.9 1.9 0 1 0 -3.8 0M313.49 263.46a1.9 1.9 0 1 0 3.8 0a1.9 1.9 0 1 0 -3.8 0M313.49 259.39a1.9 1.9 0 1 0 3.8 0a1.9 1.9 0 1 0 -3.8 0M313.49 255.32a1.9 1.9 0 1 0 3.8 0a1.9 1.9 0 1 0 -3.8 0M313.49 251.25a1.9 1.9 0 1 0 3.8 0a1.9 1.9 0 1 0 -3.8 0M313.49 247.18a1.9 1.9 0 1 0 3.8 0a1.9 1.9 0 1 0 -3.8 0M313.49 243.11a1.9 1.9 0 1 0 3.8 0a1.9 1.9 0 1 0 -3.8 0M313.49 239.04a1.9 1.9 0 1 0 3.8 0a1.9 1.9 0 1 0 -3.8 0M313.49 234.97a1.9 1.9 0 1 0 3.8 0a1.9 1.9 0 1 0 -3.8 0M313.49 230.9a1.9 1.9 0 1 0 3.8 0a1.9 1.9 0 1 0 -3.8 0M313.49 226.83a1.9 1.9 0 1 0 3.8 0a1.9 1.9 0 1 0 -3.8 0M317 353a1.9 1.9 0 1 0 3.8 0a1.9 1.9 0 1 0 -3.8 0M317 348.93a1.9 1.9 0 1 0 3.8 0a1.9 1.9 0 1 0 -3.8 0M317 344.86a1.9 1.9 0 1 0 3.8 0a1.9 1.9 0 1 0 -3.8 0M317 340.79a1.9 1.9 0 1 0 3.8 0a1.9 1.9 0 1 0 -3.8 0M317 336.72a1.9 1.9 0 1 0 3.8 0a1.9 1.9 0 1 0 -3.8 0M317 332.65a1.9 1.9 0 1 0 3.8 0a1.9 1.9 0 1 0 -3.8 0M317 328.58a1.9 1.9 0 1 0 3.8 0a1.9 1.9 0 1 0 -3.8 0M317 324.51a1.9 1.9 0 1 0 3.8 0a1.9 1.9 0 1 0 -3.8 0M317 320.44a1.9 1.9 0 1 0 3.8 0a1.9 1.9 0 1 0 -3.8 0M317 316.37a1.9 1.9 0 1 0 3.8 0a1.9 1.9 0 1 0 -3.8 0M317 312.3a1.9 1.9 0 1 0 3.8 0a1.9 1.9 0 1 0 -3.8 0M317 308.23a1.9 1.9 0 1 0 3.8 0a1.9 1.9 0 1 0 -3.8 0M317 304.16a1.9 1.9 0 1 0 3.8 0a1.9 1.9 0 1 0 -3.8 0M317 300.09a1.9 1.9 0 1 0 3.8 0a1.9 1.9 0 1 0 -3.8 0M317 296.02a1.9 1.9 0 1 0 3.8 0a1.9 1.9 0 1 0 -3.8 0M317 291.95a1.9 1.9 0 1 0 3.8 0a1.9 1.9 0 1 0 -3.8 0M317 287.88a1.9 1.9 0 1 0 3.8 0a1.9 1.9 0 1 0 -3.8 0M317 283.81a1.9 1.9 0 1 0 3.8 0a1.9 1.9 0 1 0 -3.8 0M317 279.74a1.9 1.9 0 1 0 3.8 0a1.9 1.9 0 1 0 -3.8 0M317 275.67a1.9 1.9 0 1 0 3.8 0a1.9 1.9 0 1 0 -3.8 0M317 271.6a1.9 1.9 0 1 0 3.8 0a1.9 1.9 0 1 0 -3.8 0M317 267.53a1.9 1.9 0 1 0 3.8 0a1.9 1.9 0 1 0 -3.8 0M317 263.46a1.9 1.9 0 1 0 3.8 0a1.9 1.9 0 1 0 -3.8 0M317 259.39a1.9 1.9 0 1 0 3.8 0a1.9 1.9 0 1 0 -3.8 0M317 255.32a1.9 1.9 0 1 0 3.8 0a1.9 1.9 0 1 0 -3.8 0M317 251.25a1.9 1.9 0 1 0 3.8 0a1.9 1.9 0 1 0 -3.8 0M317 247.18a1.9 1.9 0 1 0 3.8 0a1.9 1.9 0 1 0 -3.8 0M317 243.11a1.9 1.9 0 1 0 3.8 0a1.9 1.9 0 1 0 -3.8 0M317 239.04a1.9 1.9 0 1 0 3.8 0a1.9 1.9 0 1 0 -3.8 0M317 234.97a1.9 1.9 0 1 0 3.8 0a1.9 1.9 0 1 0 -3.8 0M317 230.9a1.9 1.9 0 1 0 3.8 0a1.9 1.9 0 1 0 -3.8 0M317 226.83a1.9 1.9 0 1 0 3.8 0a1.9 1.9 0 1 0 -3.8 0" fill="#e2e2e2"/>
<circle cx="290.8" cy="304.16" r="1.9" fill="#d3e4f1"/>
<circle cx="294.31" cy="304.16" r="1.9" fill="#d3e4f1"/>
<circle cx="297.83" cy="304.16" r="1.9" fill="#dde8f2"/>
<circle cx="287.29" cy="308.23" r="1.9" fill="#8cbce0"/>
<circle cx="290.8" cy="308.23" r="1.9" fill="#2e6ab0"/>
<circle cx="294.31" cy="308.23" r="1.9" fill="#9cc6e4"/>
<circle cx="287.29" cy="312.3" r="1.9" fill="#4a88c8"/>
<circle cx="290.8" cy="312.3" r="1.9" fill="#1e3c80"/>
<circle cx="294.31" cy="312.3" r="1.9" fill="#a8cce8"/>
<circle cx="287.29" cy="316.37" r="1.9" fill="#b0d2ea"/>
<circle cx="290.8" cy="316.37" r="1.9" fill="#7ab0dc"/>
<path d="M229.9 240.2L232.3 242.6M229.9 242.6L232.3 240.2M251.1 240.5L253.5 242.9M251.1 242.9L253.5 240.5M275.1 240.5L277.5 242.9M275.1 242.9L277.5 240.5M296.6 240.2L299 242.6M296.6 242.6L299 240.2M230.7 258.4L233.1 260.8M230.7 260.8L233.1 258.4M251.9 258.6L254.3 261M251.9 261L254.3 258.6M274.3 259.3L276.7 261.7M274.3 261.7L276.7 259.3M298.1 258.2L300.5 260.6M298.1 260.6L300.5 258.2M227.1 276.3L229.5 278.7M227.1 278.7L229.5 276.3M299.1 276.2L301.5 278.6M299.1 278.6L301.5 276.2M227 294.2L229.4 296.6M227 296.6L229.4 294.2M247.5 293.2L249.9 295.6M247.5 295.6L249.9 293.2M279.1 293.3L281.5 295.7M279.1 295.7L281.5 293.3M299.4 294.1L301.8 296.5M299.4 296.5L301.8 294.1M227 312.4L229.4 314.8M227 314.8L229.4 312.4M247.6 311.5L250 313.9M247.6 313.9L250 311.5M278.1 311.5L280.5 313.9M278.1 313.9L280.5 311.5M299.4 312.3L301.8 314.7M299.4 314.7L301.8 312.3M227.1 330.7L229.5 333.1M227.1 333.1L229.5 330.7M299.4 330.7L301.8 333.1M299.4 333.1L301.8 330.7M262.8 335.4L265.2 337.8M262.8 337.8L265.2 335.4" stroke="#222" stroke-width="0.75" fill="none"/>
<circle cx="290.9" cy="311.2" r="1.6" fill="none" stroke="#f0a020" stroke-width="0.8"/>
<path d="M291.3 309.2L291.83 310.57L293.3 310.65L292.16 311.58L292.53 313L291.3 312.2L290.07 313L290.44 311.58L289.3 310.65L290.77 310.57Z" fill="#ff1a1a"/>
<path d="M204.7 220.6 H323.9" stroke="#707070" stroke-width="0.9"/>
<path d="M323.9 220.6 V359.6" stroke="#858585" stroke-width="0.9"/>
<path d="M204.7 359.6 H323.9" stroke="#777" stroke-width="0.9"/>
<path d="M204.7 220.15 V360.05" stroke="#5e5e5e" stroke-width="0.9"/>
<path d="M202.2 355.3 H204.7" stroke="#4a4a4a" stroke-width="0.85"/>
<text x="201.7" y="357.55" font-size="6.3" text-anchor="end" fill="#222" stroke="#222" stroke-width="0.16">0</text>
<path d="M202.2 337.6 H204.7" stroke="#4a4a4a" stroke-width="0.85"/>
<text x="201.7" y="339.85" font-size="6.3" text-anchor="end" fill="#222" stroke="#222" stroke-width="0.16">20</text>
<path d="M202.2 319.9 H204.7" stroke="#4a4a4a" stroke-width="0.85"/>
<text x="201.7" y="322.15" font-size="6.3" text-anchor="end" fill="#222" stroke="#222" stroke-width="0.16">40</text>
<path d="M202.2 302.2 H204.7" stroke="#4a4a4a" stroke-width="0.85"/>
<text x="201.7" y="304.45" font-size="6.3" text-anchor="end" fill="#222" stroke="#222" stroke-width="0.16">60</text>
<path d="M202.2 284.5 H204.7" stroke="#4a4a4a" stroke-width="0.85"/>
<text x="201.7" y="286.75" font-size="6.3" text-anchor="end" fill="#222" stroke="#222" stroke-width="0.16">80</text>
<path d="M202.2 266.8 H204.7" stroke="#4a4a4a" stroke-width="0.85"/>
<text x="201.7" y="269.05" font-size="6.3" text-anchor="end" fill="#222" stroke="#222" stroke-width="0.16">100</text>
<path d="M202.2 249.1 H204.7" stroke="#4a4a4a" stroke-width="0.85"/>
<text x="201.7" y="251.35" font-size="6.3" text-anchor="end" fill="#222" stroke="#222" stroke-width="0.16">120</text>
<path d="M202.2 231.4 H204.7" stroke="#4a4a4a" stroke-width="0.85"/>
<text x="201.7" y="233.65" font-size="6.3" text-anchor="end" fill="#222" stroke="#222" stroke-width="0.16">140</text>
<path d="M242.6 359.6 V362.1" stroke="#4a4a4a" stroke-width="0.85"/>
<text x="242.6" y="368" font-size="6.3" text-anchor="middle" fill="#222" stroke="#222" stroke-width="0.16">1</text>
<path d="M280.65 359.6 V362.1" stroke="#4a4a4a" stroke-width="0.85"/>
<text x="280.65" y="368" font-size="6.3" text-anchor="middle" fill="#222" stroke="#222" stroke-width="0.16">2</text>
<path d="M318.7 359.6 V362.1" stroke="#4a4a4a" stroke-width="0.85"/>
<text x="318.7" y="368" font-size="6.3" text-anchor="middle" fill="#222" stroke="#222" stroke-width="0.16">3</text>
<text x="264.4" y="376.2" font-size="6.3" text-anchor="middle" fill="#222" stroke="#222" stroke-width="0.16">θ [rad]</text>
<text transform="translate(188.9 289.6) rotate(-90)" font-size="6.3" text-anchor="middle" fill="#222" stroke="#222" stroke-width="0.16">z [mm]</text>
<rect x="198.4" y="210.4" width="133.3" height="7.9" fill="#fff" stroke="#d8d8d8" stroke-width="0.5" rx="0.8"/>
<path d="M203.2 212.6L203.73 213.77L205.01 213.91L204.06 214.78L204.32 216.04L203.2 215.4L202.08 216.04L202.34 214.78L201.39 213.91L202.67 213.77Z" fill="#ff1a1a"/>
<text x="206.7" y="216.1" font-size="6.3" fill="#222" stroke="#222" stroke-width="0.16">contact point</text>
<circle cx="250" cy="214.4" r="1.6" fill="none" stroke="#f0a020" stroke-width="0.95"/>
<text x="254.1" y="216.1" font-size="6.3" textLength="28.1" lengthAdjust="spacingAndGlyphs" fill="#222" stroke="#222" stroke-width="0.16">barycenter</text>
<path d="M288.3 213.4 l2 2 m0 -2 l-2 2" stroke="#333" stroke-width="0.65"/>
<text x="291.6" y="216.1" font-size="6.3" fill="#222" stroke="#222" stroke-width="0.16">FBG sensors</text>
<circle cx="285.6" cy="311.2" r="1.1" fill="#f5a030" opacity="0.9"/>
<circle cx="146.5" cy="310.9" r="2" fill="#f4a040" stroke="#fbd8a8" stroke-width="0.8"/>
<rect x="153.2" y="220.3" width="7.7" height="139.4" fill="url(#cbar)" stroke="#4a4a4a" stroke-width="0.85"/>
<path d="M160.9 359.7 H163" stroke="#4a4a4a" stroke-width="0.85"/>
<text x="164.6" y="361.9" font-size="6.2" fill="#222" stroke="#222" stroke-width="0.16">0.0</text>
<path d="M160.9 343.14 H163" stroke="#4a4a4a" stroke-width="0.85"/>
<text x="164.6" y="345.34" font-size="6.2" fill="#222" stroke="#222" stroke-width="0.16">2.5</text>
<path d="M160.9 326.58 H163" stroke="#4a4a4a" stroke-width="0.85"/>
<text x="164.6" y="328.78" font-size="6.2" fill="#222" stroke="#222" stroke-width="0.16">5.0</text>
<path d="M160.9 310.02 H163" stroke="#4a4a4a" stroke-width="0.85"/>
<text x="164.6" y="312.22" font-size="6.2" fill="#222" stroke="#222" stroke-width="0.16">7.5</text>
<path d="M160.9 293.46 H163" stroke="#4a4a4a" stroke-width="0.85"/>
<text x="164.6" y="295.66" font-size="6.2" fill="#222" stroke="#222" stroke-width="0.16">10.0</text>
<path d="M160.9 276.9 H163" stroke="#4a4a4a" stroke-width="0.85"/>
<text x="164.6" y="279.1" font-size="6.2" fill="#222" stroke="#222" stroke-width="0.16">12.5</text>
<path d="M160.9 260.34 H163" stroke="#4a4a4a" stroke-width="0.85"/>
<text x="164.6" y="262.54" font-size="6.2" fill="#222" stroke="#222" stroke-width="0.16">15.0</text>
<path d="M160.9 243.78 H163" stroke="#4a4a4a" stroke-width="0.85"/>
<text x="164.6" y="245.98" font-size="6.2" fill="#222" stroke="#222" stroke-width="0.16">17.5</text>
<path d="M160.9 227.22 H163" stroke="#4a4a4a" stroke-width="0.85"/>
<text x="164.6" y="229.42" font-size="6.2" fill="#222" stroke="#222" stroke-width="0.16">20.0</text>
<text x="152.7" y="217.8" font-size="5.8" fill="#333" stroke="#333" stroke-width="0.16">[Hz]</text>
<rect x="359.5" y="218.1" width="95.9" height="141.9" fill="#fff"/>
<clipPath id="eclip"><rect x="359.5" y="218.1" width="95.9" height="141.9"/></clipPath>
<g clip-path="url(#eclip)" fill="none" stroke-linejoin="round">
<path d="M362.7 358.5C363.5 358.45 365.55 358.75 367.51 358.23C369.48 357.7 372.05 357.23 374.49 355.36C376.92 353.5 378.86 352.68 382.13 347.03C385.39 341.39 390.93 327.67 394.09 321.51C397.26 315.34 399.63 312.8 401.13 310.04C402.63 307.29 401.54 308.29 403.11 304.99C404.69 301.69 407.08 296.12 410.57 290.25C414.06 284.38 419.77 275.64 424.04 269.77C428.31 263.91 431.08 259.54 436.19 255.03C441.3 250.53 451.33 244.91 454.71 242.75C458.1 240.59 456.22 242.18 456.52 242.07" stroke="#d2e5f3" stroke-width="2.9"/>
<path d="M362.7 358.5C363.5 358.45 365.55 358.75 367.51 358.23C369.48 357.7 372.05 357.23 374.49 355.36C376.92 353.5 378.86 352.68 382.13 347.03C385.39 341.39 390.93 327.67 394.09 321.51C397.26 315.34 399.63 312.8 401.13 310.04C402.63 307.29 401.54 308.29 403.11 304.99C404.69 301.69 407.08 296.12 410.57 290.25C414.06 284.38 419.77 275.64 424.04 269.77C428.31 263.91 431.08 259.54 436.19 255.03C441.3 250.53 451.33 244.91 454.71 242.75C458.1 240.59 456.22 242.18 456.52 242.07" stroke="#9fc8e6" stroke-width="0.7"/>
<path d="M362.7 358.5C363.4 358.45 365.56 358.64 366.91 358.23C368.26 357.82 369.31 358.14 370.82 356.04C372.33 353.95 374 350.4 375.99 345.67C377.99 340.94 380.89 333.59 382.79 327.65C384.68 321.71 385.45 316.28 387.36 310.04C389.26 303.81 391.51 296.96 394.21 290.25C396.92 283.54 401.18 275.19 403.6 269.77C406.01 264.36 405.57 262.15 408.71 257.76C411.84 253.37 417.84 247.09 422.42 243.43C427 239.77 430.81 237.97 436.19 235.79C441.57 233.6 451.33 231.28 454.71 230.33C458.1 229.37 456.22 230.1 456.52 230.05" stroke="#f9cfa6" stroke-width="2.5"/>
<path d="M362.7 358.5C363.4 358.45 365.56 358.64 366.91 358.23C368.26 357.82 369.31 358.14 370.82 356.04C372.33 353.95 374 350.4 375.99 345.67C377.99 340.94 380.89 333.59 382.79 327.65C384.68 321.71 385.45 316.28 387.36 310.04C389.26 303.81 391.51 296.96 394.21 290.25C396.92 283.54 401.18 275.19 403.6 269.77C406.01 264.36 405.57 262.15 408.71 257.76C411.84 253.37 417.84 247.09 422.42 243.43C427 239.77 430.81 237.97 436.19 235.79C441.57 233.6 451.33 231.28 454.71 230.33C458.1 229.37 456.22 230.1 456.52 230.05" stroke="#f08a30" stroke-width="0.85"/>
<path d="M362.7 358.5C363.3 358.45 365.1 358.64 366.31 358.23C367.52 357.82 368.47 358.14 369.98 356.04C371.48 353.95 373.56 350.4 375.33 345.67C377.1 340.94 378.96 333.59 380.62 327.65C382.29 321.71 383.45 316.28 385.31 310.04C387.18 303.81 389.36 297.01 391.81 290.25C394.25 283.49 397.17 275.83 399.99 269.5C402.8 263.18 404.97 257.22 408.71 252.3C412.45 247.39 417.84 243.23 422.42 240.02C427 236.81 431.39 235.01 436.19 233.06C440.99 231.1 447.84 229.26 451.23 228.28C454.61 227.3 455.64 227.37 456.52 227.19" stroke="#b5e2ad" stroke-width="2.5"/>
<path d="M362.7 358.5C363.3 358.45 365.1 358.64 366.31 358.23C367.52 357.82 368.47 358.14 369.98 356.04C371.48 353.95 373.56 350.4 375.33 345.67C377.1 340.94 378.96 333.59 380.62 327.65C382.29 321.71 383.45 316.28 385.31 310.04C387.18 303.81 389.36 297.01 391.81 290.25C394.25 283.49 397.17 275.83 399.99 269.5C402.8 263.18 404.97 257.22 408.71 252.3C412.45 247.39 417.84 243.23 422.42 240.02C427 236.81 431.39 235.01 436.19 233.06C440.99 231.1 447.84 229.26 451.23 228.28C454.61 227.3 455.64 227.37 456.52 227.19" stroke="#48ac48" stroke-width="0.95"/>
<path d="M362.7 358.5C363.2 358.45 364.6 358.75 365.71 358.23C366.81 357.7 368.21 357.45 369.32 355.36C370.42 353.27 371.21 350.29 372.32 345.67C373.43 341.05 374.5 334.43 375.99 327.65C377.48 320.87 379.92 311.23 381.28 304.99C382.65 298.76 382.64 296.07 384.17 290.25C385.7 284.43 388.68 275.21 390.48 270.05C392.29 264.88 393.09 263.38 395 259.26C396.9 255.15 399.63 249.03 401.91 245.34C404.2 241.66 405.29 239.88 408.71 237.15C412.13 234.42 417.84 231.01 422.42 228.96C427 226.91 431.16 225.82 436.19 224.87C441.22 223.91 449.87 223.5 452.61 223.23" stroke="#f3c3c9" stroke-width="1.8"/>
<path d="M362.7 358.5C363.2 358.45 364.6 358.75 365.71 358.23C366.81 357.7 368.21 357.45 369.32 355.36C370.42 353.27 371.21 350.29 372.32 345.67C373.43 341.05 374.5 334.43 375.99 327.65C377.48 320.87 379.92 311.23 381.28 304.99C382.65 298.76 382.64 296.07 384.17 290.25C385.7 284.43 388.68 275.21 390.48 270.05C392.29 264.88 393.09 263.38 395 259.26C396.9 255.15 399.63 249.03 401.91 245.34C404.2 241.66 405.29 239.88 408.71 237.15C412.13 234.42 417.84 231.01 422.42 228.96C427 226.91 431.16 225.82 436.19 224.87C441.22 223.91 449.87 223.5 452.61 223.23" stroke="#e26676" stroke-width="0.95"/>
</g>
<path d="M359.5 290.25 H455.4" stroke="#888" stroke-width="0.6"/>
<path d="M359.5 218.1 H455.4" stroke="#a5a5a5" stroke-width="0.9"/>
<path d="M455.4 218.1 V360" stroke="#9a9a9a" stroke-width="0.9"/>
<path d="M359.5 360 H455.4" stroke="#9a9a9a" stroke-width="0.9"/>
<path d="M359.5 217.65 V360.45" stroke="#8c8c8c" stroke-width="0.9"/>
<path d="M357 358.5 H359.5" stroke="#4a4a4a" stroke-width="0.85"/>
<text x="356.5" y="360.75" font-size="6.3" text-anchor="end" fill="#222" stroke="#222" stroke-width="0.16">0.0</text>
<path d="M357 331.2 H359.5" stroke="#4a4a4a" stroke-width="0.85"/>
<text x="356.5" y="333.45" font-size="6.3" text-anchor="end" fill="#222" stroke="#222" stroke-width="0.16">0.2</text>
<path d="M357 303.9 H359.5" stroke="#4a4a4a" stroke-width="0.85"/>
<text x="356.5" y="306.15" font-size="6.3" text-anchor="end" fill="#222" stroke="#222" stroke-width="0.16">0.4</text>
<path d="M357 276.6 H359.5" stroke="#4a4a4a" stroke-width="0.85"/>
<text x="356.5" y="278.85" font-size="6.3" text-anchor="end" fill="#222" stroke="#222" stroke-width="0.16">0.6</text>
<path d="M357 249.3 H359.5" stroke="#4a4a4a" stroke-width="0.85"/>
<text x="356.5" y="251.55" font-size="6.3" text-anchor="end" fill="#222" stroke="#222" stroke-width="0.16">0.8</text>
<path d="M357 222 H359.5" stroke="#4a4a4a" stroke-width="0.85"/>
<text x="356.5" y="224.25" font-size="6.3" text-anchor="end" fill="#222" stroke="#222" stroke-width="0.16">1.0</text>
<path d="M362.7 360.0 V362.5" stroke="#4a4a4a" stroke-width="0.85"/>
<text x="362.7" y="368.6" font-size="6.3" text-anchor="middle" fill="#222" stroke="#222" stroke-width="0.16">0</text>
<path d="M392.77 360.0 V362.5" stroke="#4a4a4a" stroke-width="0.85"/>
<text x="392.77" y="368.6" font-size="6.3" text-anchor="middle" fill="#222" stroke="#222" stroke-width="0.16">5</text>
<path d="M422.84 360.0 V362.5" stroke="#4a4a4a" stroke-width="0.85"/>
<text x="422.84" y="368.6" font-size="6.3" text-anchor="middle" fill="#222" stroke="#222" stroke-width="0.16">10</text>
<path d="M452.91 360.0 V362.5" stroke="#4a4a4a" stroke-width="0.85"/>
<text x="452.91" y="368.6" font-size="6.3" text-anchor="middle" fill="#222" stroke="#222" stroke-width="0.16">15</text>
<text x="408" y="376.8" font-size="6.5" text-anchor="middle" fill="#222" stroke="#222" stroke-width="0.16">Localization error [mm]</text>
<text transform="translate(345.2 287.75) rotate(-90)" font-size="6.95" text-anchor="middle" fill="#222" stroke="#222" stroke-width="0.16">cdf error</text>
<rect x="404.8" y="325.8" width="47.8" height="31.7" rx="1" fill="#fff" stroke="#ddd" stroke-width="0.5" opacity="0.9"/>
<path d="M406.9 329.9 H418" stroke="#cfe2f3" stroke-width="2.2"/>
<text x="421.9" y="331.8" font-size="5.35" fill="#333" stroke="#333" stroke-width="0.16">unfiltered</text>
<path d="M406.9 337.3 H418" stroke="#f4a060" stroke-width="1"/>
<text x="421.9" y="339.2" font-size="5.35" fill="#333" stroke="#333" stroke-width="0.16">filtered</text>
<path d="M406.9 344.8 H418" stroke="#a8dca0" stroke-width="2"/>
<text x="421.9" y="346.7" font-size="5.35" fill="#333" stroke="#333" stroke-width="0.16">quantized</text>
<path d="M406.9 352.2 H418" stroke="#eaa0a8" stroke-width="1"/>
<text x="421.9" y="354.1" font-size="5.35" fill="#333" stroke="#333" stroke-width="0.16">unquantized</text>
<rect x="489.6" y="218.1" width="191.1" height="142.2" fill="#fff"/>
<rect x="497.2" y="313" width="15.45" height="47.3" fill="#8bd383"/>
<rect x="512.6" y="224.9" width="16.25" height="135.4" fill="#8bd383"/>
<path d="M512.6 313 V360.3" stroke="#7cc474" stroke-width="0.35"/>
<rect x="528.8" y="227.5" width="15.95" height="132.8" fill="#8bd383"/>
<path d="M528.8 227.5 V360.3" stroke="#7cc474" stroke-width="0.35"/>
<rect x="544.7" y="237" width="16.15" height="123.3" fill="#8bd383"/>
<path d="M544.7 237 V360.3" stroke="#7cc474" stroke-width="0.35"/>
<rect x="560.8" y="247.5" width="15.65" height="112.8" fill="#8bd383"/>
<path d="M560.8 247.5 V360.3" stroke="#7cc474" stroke-width="0.35"/>
<rect x="576.4" y="280" width="15.65" height="80.3" fill="#8bd383"/>
<path d="M576.4 280 V360.3" stroke="#7cc474" stroke-width="0.35"/>
<rect x="592" y="321" width="16.05" height="39.3" fill="#8bd383"/>
<path d="M592 321 V360.3" stroke="#7cc474" stroke-width="0.35"/>
<rect x="608" y="331.9" width="15.55" height="28.4" fill="#8bd383"/>
<path d="M608 331.9 V360.3" stroke="#7cc474" stroke-width="0.35"/>
<rect x="623.5" y="344.9" width="16.15" height="15.4" fill="#8bd383"/>
<path d="M623.5 344.9 V360.3" stroke="#7cc474" stroke-width="0.35"/>
<rect x="639.6" y="355.7" width="15.65" height="4.6" fill="#8bd383"/>
<path d="M639.6 355.7 V360.3" stroke="#7cc474" stroke-width="0.35"/>
<path d="M553.9 218.1 V360.3" stroke="#76c46e" stroke-width="0.8" opacity="0.9"/>
<path d="M553.9 218.1 V224.9" stroke="#bfe6ba" stroke-width="0.8"/>
<path d="M489.6 218.1 H680.7" stroke="#b3b3b3" stroke-width="0.9"/>
<path d="M680.7 218.1 V360.3" stroke="#b8b8b8" stroke-width="0.9"/>
<path d="M489.6 360.3 H680.7" stroke="#777" stroke-width="0.9"/>
<path d="M489.6 217.65 V360.75" stroke="#6a6a6a" stroke-width="0.9"/>
<path d="M487.1 360.4 H489.6" stroke="#4a4a4a" stroke-width="0.85"/>
<text x="486.8" y="362.65" font-size="6.3" text-anchor="end" fill="#222" stroke="#222" stroke-width="0.16">0.000</text>
<path d="M487.1 329.7 H489.6" stroke="#4a4a4a" stroke-width="0.85"/>
<text x="486.8" y="331.95" font-size="6.3" text-anchor="end" fill="#222" stroke="#222" stroke-width="0.16">0.001</text>
<path d="M487.1 299 H489.6" stroke="#4a4a4a" stroke-width="0.85"/>
<text x="486.8" y="301.25" font-size="6.3" text-anchor="end" fill="#222" stroke="#222" stroke-width="0.16">0.002</text>
<path d="M487.1 268.3 H489.6" stroke="#4a4a4a" stroke-width="0.85"/>
<text x="486.8" y="270.55" font-size="6.3" text-anchor="end" fill="#222" stroke="#222" stroke-width="0.16">0.003</text>
<path d="M487.1 237.6 H489.6" stroke="#4a4a4a" stroke-width="0.85"/>
<text x="486.8" y="239.85" font-size="6.3" text-anchor="end" fill="#222" stroke="#222" stroke-width="0.16">0.004</text>
<path d="M523.0 360.3 V362.8" stroke="#4a4a4a" stroke-width="0.85"/>
<text x="523.8" y="368.9" font-size="6.3" text-anchor="middle" fill="#222" stroke="#222" stroke-width="0.16">100</text>
<path d="M559.8 360.3 V362.8" stroke="#4a4a4a" stroke-width="0.85"/>
<text x="560.6" y="368.9" font-size="6.3" text-anchor="middle" fill="#222" stroke="#222" stroke-width="0.16">200</text>
<path d="M596.6 360.3 V362.8" stroke="#4a4a4a" stroke-width="0.85"/>
<text x="597.4" y="368.9" font-size="6.3" text-anchor="middle" fill="#222" stroke="#222" stroke-width="0.16">300</text>
<path d="M633.4 360.3 V362.8" stroke="#4a4a4a" stroke-width="0.85"/>
<text x="634.2" y="368.9" font-size="6.3" text-anchor="middle" fill="#222" stroke="#222" stroke-width="0.16">400</text>
<path d="M670.2 360.3 V362.8" stroke="#4a4a4a" stroke-width="0.85"/>
<text x="671" y="368.9" font-size="6.3" text-anchor="middle" fill="#222" stroke="#222" stroke-width="0.16">500</text>
<text x="585.3" y="376.9" font-size="6.4" text-anchor="middle" fill="#222" stroke="#222" stroke-width="0.16">µW</text>
<text transform="translate(467.0 287.95) rotate(-90)" font-size="7.2" text-anchor="middle" fill="#222" stroke="#222" stroke-width="0.16">pdf [u.a.]</text>
<path d="M628.2 257.2L653.6 253.99A25.6 25.6 0 1 0 629.81 282.75Z" fill="#efb278" stroke="#fff" stroke-width="0.35" stroke-linejoin="round"/>
<path d="M628.2 257.2L653.8 257.2A25.6 25.6 0 0 0 653.6 253.99Z" fill="#8dbbe4" stroke="#fff" stroke-width="0.35" stroke-linejoin="round"/>
<path d="M628.86 257.82L630.46 283.37A25.6 25.6 0 0 0 654.46 257.82Z" fill="#94d98e" stroke="#fff" stroke-width="0.35" stroke-linejoin="round"/>
<text x="605.8" y="235.8" font-size="6.6" text-anchor="end" fill="#222" stroke="#222" stroke-width="0.16">Spike</text>
<text x="605.8" y="243.3" font-size="6.6" text-anchor="end" fill="#222" stroke="#222" stroke-width="0.16">transm.</text>
<text x="617.6" y="252.3" font-size="6.6" text-anchor="middle" fill="#222" stroke="#222" stroke-width="0.16">74%</text>
<text x="647" y="255" font-size="6.6" text-anchor="middle" fill="#222" stroke="#222" stroke-width="0.16">2%</text>
<text x="641.2" y="269.8" font-size="6.6" text-anchor="middle" fill="#222" stroke="#222" stroke-width="0.16">24%</text>
<text x="659" y="253.5" font-size="6.6" fill="#222" stroke="#222" stroke-width="0.16">Spike</text>
<text x="658.5" y="260.7" font-size="6.6" fill="#222" stroke="#222" stroke-width="0.16">gener.</text>
<text x="651.2" y="276.1" font-size="6.6" fill="#222" stroke="#222" stroke-width="0.16">Spike</text>
<text x="650.7" y="283.5" font-size="6.6" fill="#222" stroke="#222" stroke-width="0.16">integ.</text>
</svg></body></html>
